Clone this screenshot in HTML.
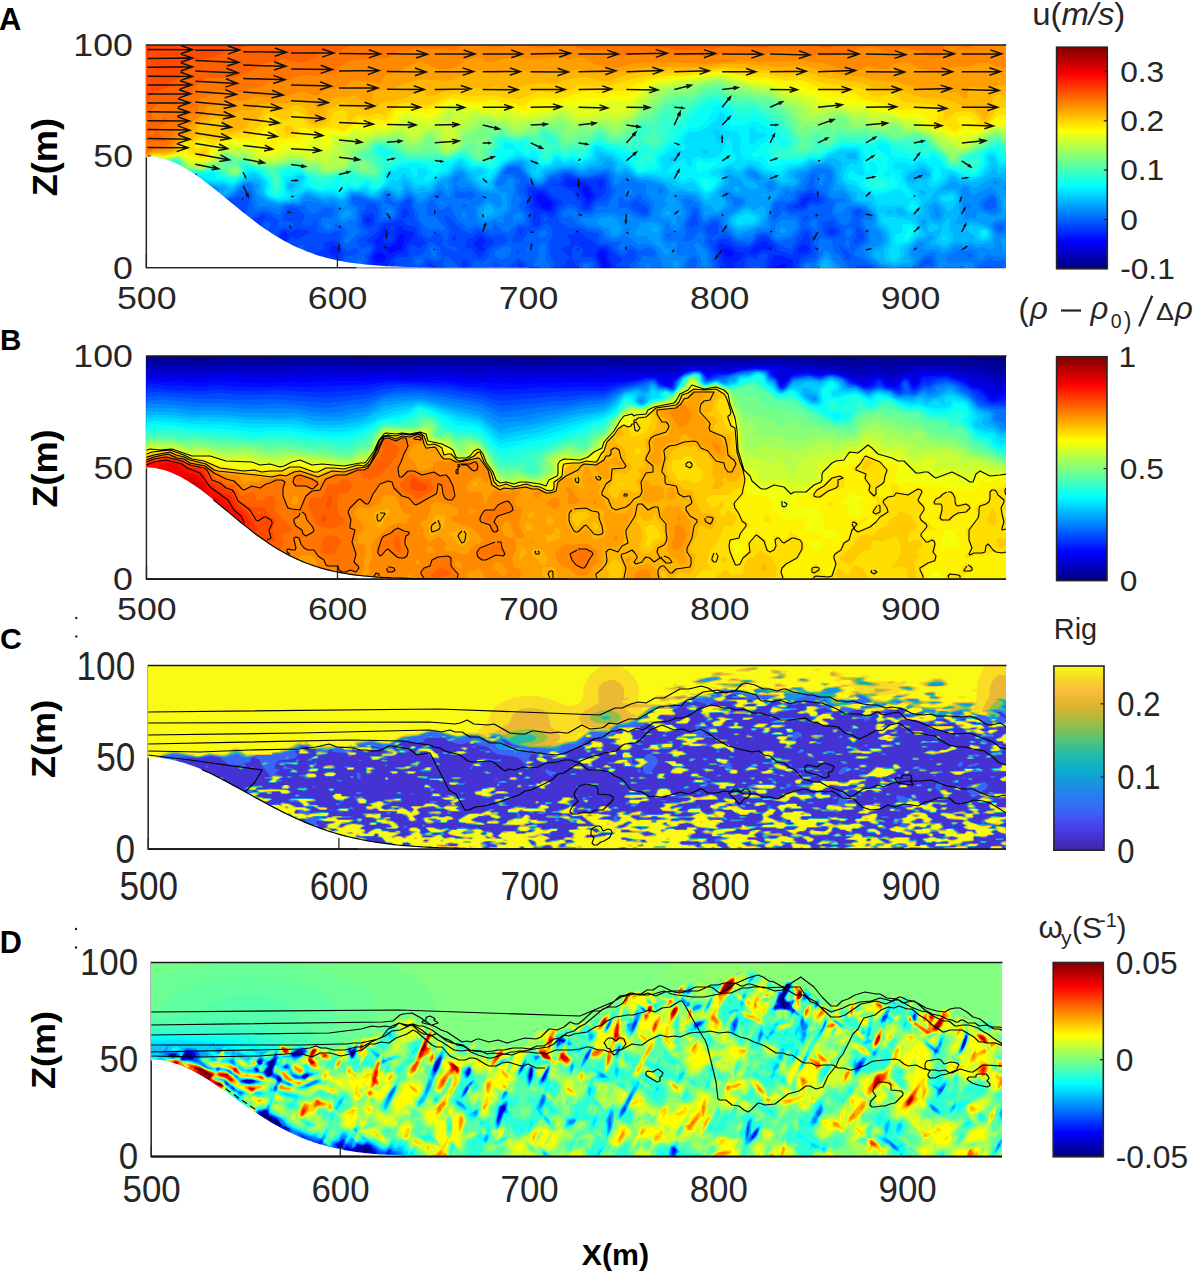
<!DOCTYPE html><html><head><meta charset="utf-8"><title>figure</title><style>html,body{margin:0;padding:0;background:#fff;overflow:hidden}svg{display:block}text{font-family:"Liberation Sans",sans-serif;fill:#262626}.b{font-weight:bold;fill:#000}</style></head><body><svg width="1195" height="1272" viewBox="0 0 1195 1272"><defs><clipPath id="clipA"><rect x="146.4" y="45.0" width="859.4" height="222.6"/></clipPath><clipPath id="clipB"><rect x="146.5" y="356.0" width="859.5" height="223.0"/></clipPath><clipPath id="clipC"><rect x="148.3" y="665.5" width="857.7" height="183.5"/></clipPath><clipPath id="clipD"><rect x="151.3" y="962.5" width="850.7" height="194.0"/></clipPath><linearGradient id="gjet" x1="0" y1="1" x2="0" y2="0"><stop offset="0.0000" stop-color="#000080"/><stop offset="0.0312" stop-color="#00009f"/><stop offset="0.0625" stop-color="#0000bf"/><stop offset="0.0938" stop-color="#0000df"/><stop offset="0.1250" stop-color="#0000ff"/><stop offset="0.1562" stop-color="#0020ff"/><stop offset="0.1875" stop-color="#0040ff"/><stop offset="0.2188" stop-color="#0060ff"/><stop offset="0.2500" stop-color="#0080ff"/><stop offset="0.2812" stop-color="#009fff"/><stop offset="0.3125" stop-color="#00bfff"/><stop offset="0.3438" stop-color="#00dfff"/><stop offset="0.3750" stop-color="#00ffff"/><stop offset="0.4062" stop-color="#20ffdf"/><stop offset="0.4375" stop-color="#40ffbf"/><stop offset="0.4688" stop-color="#60ff9f"/><stop offset="0.5000" stop-color="#80ff80"/><stop offset="0.5312" stop-color="#9fff60"/><stop offset="0.5625" stop-color="#bfff40"/><stop offset="0.5938" stop-color="#dfff20"/><stop offset="0.6250" stop-color="#ffff00"/><stop offset="0.6562" stop-color="#ffdf00"/><stop offset="0.6875" stop-color="#ffbf00"/><stop offset="0.7188" stop-color="#ff9f00"/><stop offset="0.7500" stop-color="#ff8000"/><stop offset="0.7812" stop-color="#ff6000"/><stop offset="0.8125" stop-color="#ff4000"/><stop offset="0.8438" stop-color="#ff2000"/><stop offset="0.8750" stop-color="#ff0000"/><stop offset="0.9062" stop-color="#df0000"/><stop offset="0.9375" stop-color="#bf0000"/><stop offset="0.9688" stop-color="#9f0000"/><stop offset="1.0000" stop-color="#800000"/></linearGradient><linearGradient id="gpar" x1="0" y1="1" x2="0" y2="0"><stop offset="0.0000" stop-color="#3e26a8"/><stop offset="0.0312" stop-color="#412bbb"/><stop offset="0.0625" stop-color="#4431ce"/><stop offset="0.0938" stop-color="#4638dc"/><stop offset="0.1250" stop-color="#4640e9"/><stop offset="0.1562" stop-color="#434def"/><stop offset="0.1875" stop-color="#3f5af6"/><stop offset="0.2188" stop-color="#3965f7"/><stop offset="0.2500" stop-color="#3270f4"/><stop offset="0.2812" stop-color="#2a7af2"/><stop offset="0.3125" stop-color="#2384eb"/><stop offset="0.3438" stop-color="#1c8ee4"/><stop offset="0.3750" stop-color="#1598dd"/><stop offset="0.4062" stop-color="#11a3d4"/><stop offset="0.4375" stop-color="#0caecb"/><stop offset="0.4688" stop-color="#11b5bf"/><stop offset="0.5000" stop-color="#1dbaaf"/><stop offset="0.5312" stop-color="#29be9f"/><stop offset="0.5625" stop-color="#3dc08d"/><stop offset="0.5938" stop-color="#51c37c"/><stop offset="0.6250" stop-color="#69c168"/><stop offset="0.6562" stop-color="#83bf55"/><stop offset="0.6875" stop-color="#9bbd44"/><stop offset="0.7188" stop-color="#b1ba3c"/><stop offset="0.7500" stop-color="#c7b735"/><stop offset="0.7812" stop-color="#dcb42d"/><stop offset="0.8125" stop-color="#e7b832"/><stop offset="0.8438" stop-color="#f1bb38"/><stop offset="0.8750" stop-color="#fac03a"/><stop offset="0.9062" stop-color="#f9cd30"/><stop offset="0.9375" stop-color="#f8db26"/><stop offset="0.9688" stop-color="#f9eb1d"/><stop offset="1.0000" stop-color="#f9fb14"/></linearGradient></defs><rect width="1195" height="1272" fill="#fff"/><g><path d="M146.4 45.0V267.6H1005.8" fill="none" stroke="#262626" stroke-width="1.3"/></g><g clip-path="url(#clipA)"><rect x="144.4" y="43.0" width="863.4" height="226.6" fill="#00008a"/><path fill="#00009f" d="M146 43l860 0 0 226-862 0 0-226z"/><path fill="#0000b5" d="M146 43l860 0 0 226-862 0 0-226z"/><path fill="#0000ca" d="M146 43l860 0 0 226-862 0 0-226z"/><path fill="#0000df" d="M146 43l860 0 0 226-862 0 0-226z"/><path fill="#0000f4" d="M146 43l860 0 0 226-862 0 0-226z"/><path fill="#000bff" d="M146 43l860 0 0 226-862 0 0-226zM544 203l2 3 2-1 0-2-2-1z"/><path fill="#0020ff" d="M146 43l860 0 0 226-221 0 2-4-1-2-10 3-2 3-165 0 0-4-3-6-1-6-1-2-2-1-2 1-2 4 6 14-460 0 0-226zM584 187l-2 2 1 4 5 7 2-1 2-4-3-6-3-3zM537 195l-1 2 1 4 5 7 4 2 5-1 1-4-1-4-9-7zM400 235l-4 8-2 2-6 2-1 2 2 4 3 0 10-4 3-12-3-3-2 0zM186 247l0 6 2 3 4 1 4-2 0-2-1-2-7-5-2 0zM724 249l0 5 2 3 4 0 4-2 0-2-4-4-4-1zM377 253l-3 3 0 3 2 4 4 0 4-2 2-4-6-5z"/><path fill="#0035ff" d="M146 43l860 0 0 226-215 0 3-4-1-4-9-5-8-1-2 0-4 8-1 2 1 4-35 0 0-6 5-3 4-7-6-1-6-5-10-4-3 2-1 2 8 22-114 0 0-4-3-8-1-6-2-3-4 0-4 1-3 4 6 16-29 0-2-2-5 2-421 0 0-226zM567 179l-2 2 1 4 4 2 7 0 1 1 2 7 4 4 2 6 2 0 6-6 2-4-6-9-6-4zM599 181l-1 4 2 3 2-3-1-4zM532 191l0 2 1 6 0 6 1 1 7 5 11 1 4-7 0-2-1-2-6-4-5-6zM807 197l-3 2-4 6 3 0 4-4 4-2-1-2zM365 219l1 3 2 1 2-2 0-2-2-2-2 0zM252 223l-2 2-1 2 3 2 4-2 0-5-2 0zM383 227l-3 8-6 6 3 6-5 8-1 4 2 6 3 2 12-2 4-8 12-5 3-7 7-10 0-2-2-2-6 0-6-6-2 1-4 15-3 2-5 0-2-1-1-3 4-6 0-4-1-2zM282 233l-3 8-5 4-5 10-3 10 0 1 2 1 10-6-2-8 1-2 3-5 6-5 2-4 0-2-2-3-2 0zM480 237l-6 6 0 2 6 7 2-2 3-9-1-2zM182 241l-1 2 1 4 6 12 4 1 6-3 2-4-2-4-10-7-4-2zM762 241l-11 8-2 2 1 2 4 2 8-5 10 0 1-3-2-2-7-4zM581 243l3 2 1-2-3-1zM801 245l-3 4 0 3 4 1 6-2 1-2-1-2-2-2zM330 247l-1 4 3 4 4 0 4-2 0-2-4-5-4-1zM236 255l-2 2 0 2 1 2 3 1 6-2 8 1 2-2-2-2-10-3z"/><path fill="#004aff" d="M146 43l860 0 0 226-210 0 4-10 4-3 6-2 2-1-3-18-1-2-2-1-2 2-2 5-5 6-5 9-2 0-12-4-2-5-9-8-3-1-4 1-5 6-9 5-8-1-12-8-4 0-5 4-2 4 4 10 1 12-97 0-1-2-6 0 0-3 4-1 2-2 0-2-4-4-6-3-4-6-12-1-5-6-5-2-4-4-4-1-6 2-6 1 4 4 1 4-3 3-8 3 9 8 0 2-3 4-7 6-33 0-2-4-4-3-3 3 0 4-49 0 0-6-2-3-2 0-2 1 0 8-41 0-9-2-1 2-19 0 3-4 0-4 1-3 4-1 6 0 2-1 1-7 1-3 4-1 4 3 2 0 6-5-2-4-6-3-2-8-2-1-8-2-4-5-2-1-8 4-8 0-3 2-5 8-11 8 5 2 4 4-1 4-5 6 1 12-40 0 6-4 9-10-2-6-8-9-8 2-2 1-1 6-11 5 0 4 5 3 4 8-47 0 1-2 6-4-2-8 1-4 10-12 2-2 4 2 6-2 7-4 0-2-11-3-6 4-8-3-4 2-3 8-5 5-4 7-6 4-4-6-2 0-3 4-3 1-8-4-10 2-8-2-2 3-1 6 7 6 0 4-84 0 0-226zM564 177l-4 7-6 0 0 1 6 0 12 6 2 2 2 6 4 2 2 6 2 3 4-1 2-1 4-6 9-7 3-6-1-10-3-1-4 0-8 2-12-1-10-3zM529 187l-2 4 3 8-1 8 4 4-1 10 1 4 3 2 4-2 1-2-1-6 0-2 2-1 4 0 6 4 2-2 4-9 5-4-1-2-10-5-6-8-8 1-6-2zM809 193l-7 3-6 9-2 1-3 1 11 2 4-2 4-5 8 0 2-1 0-3-8-5zM229 201l-5 2-4 4-4 2-3 8-6 8 1 3 8-4 6 1 2 0 1-2 0-2-3-2-1-2 4-8 7-4 1-2-1-2zM403 209l-2 4 1 6 5-2 2-2 0-4-3-3zM372 213l-8 2-1 2 0 6 3 3 4 1 3-2 1-10zM263 215l-13 6-4 4-1 4 9 3 7 1 0-10 5-6-2-2zM831 227l-3 2-1 4 3 2 4 0 2-1 1-3-3-3-2-2zM519 231l1 4 3-4-1-1-2 0zM477 233l-3 4-6 2-3 6 1 3 6 1 2 2 4 6 4 0 2-2 4-8 6-4 0-2-14-9zM454 235l-2 4 2 2 3-4-1-2zM860 235l0 3 2-1-2-3zM181 237l-3 4 1 4 7 14 2 3 4 0 6-1 7-6 1-2-10-10-12-6zM208 237l-2 2 1 2 3 0 0-2zM428 263l-1 4 3 1 4-1-2-3-2-1zM392 226l2 3-2 3-1-3zM390 236l1 3-3 0zM574 246l4 0 5 3 0 2-2 4 1 2 10 0 2 2 2 2 3 8-23 0 0-4-5-8 1-8zM762 253l4 0 2 2-1 4-2 4 0 2 2 4-23 0 2-10 2-2 2 0 6 2 3-4zM244 265l12 1 2 1 0 2-25 0 1-2 6-1z"/><path fill="#0060ff" d="M146 43l860 0 0 226-13 0-5-2-2 0-1 2-111 0-4-3-12-1-3 4-56 0 2-4 3-4 4-2 6-1 2-3-4-22-4-4-4-1-5 7-7 12-2 2-12-5-6-4-4-5-4-1-6 1-4 6-6 4-12-3-10-8-5 1-5 4-2 2-2-1-2-3 7-2 1-2 1-4-1-6-4-2-8 6-1 2 5 8-3 4 8 14 2 14-89 0 2-5 5-3 2-4 0-4-3-3-2-1-2 0-4 5-2 2-7-5-7-7-10-1-2-2 1-6-1-2-10-1-10-5-9 2-4-4-5-2-1-4 0-8 2-2 7-5 2 0 4 1 2 1 4 5 6 1 5-1 5-8 10-3 4-5 1-4-3-12-4-4-18 3-8-1-8-3-4-1-4 2-4 4-6 0-2 1-4 5-4 2-4 0-10-4-2 0-3 8 4 8-2 8 4 6 0 12-1 2-8-1-2 1-6 12 0 2 2 2 8-1 6-10 6 0 12-9 0-2-2 0 0-2 0-2 1 0 2 2-1 4 6 6 1 2-1 6-3 4 0 2 2 16 4 4-1 6-25 0-2-6-7-5-2 0-6 6-7 5-31 0-2-4 2-5 6 2 5-1 3-4 3-8 14-6 3-2-2-4-3-2-5-1-4 2-4-1-8-5-4-1-2 0-4 4-3 0-9-4-10-12-4-2-2 2 0 2 5 8 1 4-3 10 3 6 7 0 1 2-2 2-2 0-4-3-5-1-3-2 2-6-3-4-3-2-4 0-4 6-8-5-3-9-4-6-1-6-2-4-1-2 1-4-2-3-2-1-9 6-1 10-2 3-4 2-12 2-2-1 0-12-2-4-6-2-2 0-2 2 0 4-4 3-1 3 0 8 1 4 6 4 1 2-2 2-7 2-3 4 0 2 3 5 2 1 6-3 2 2 0 3-5 4 1 10-2 4-31 0 6-4 9-9 7-1 4-4-1-2-4-1-6 4-2-2-6-7 0-2 1-8-1-2-2 0-10 3-10-2-1-3 0-6-1-3-2 1-2 4-2 1-4 0-3-1-1-2 3-6-1-2-4-5-8-3-4 2-2 2-5 10 7 0 4 1 2 3-2 2-4 1-10-2 0-3 2-2-14-9-4 0-8 4-8 5-4 6-1 8-5 9-14 2-2 2-4 9-1 4 7 5 2 3-19 0 2-6 1-2 5-2 1-2 0-2-5-6 0-2 5-4 1-2-2-6 0-4 3-3 8 1 4-1 7-7 1-4-6-2-2-2 1-2 2-2 5-2 2 1 4 5 2 0 4-4 1-10-1-3-6 1-4-1-8 3-12 3-1 1-5 6-3 8-5 4-1 2 0 8-3 4-4 2-6-1-6-3-4-6-4-1-1 1 2 8-1 10 11 20-1 2-6 2-26 0-6-2 0 2-4 0 0-40 2-6-2-2 0-29 3-1-3-5 0-143zM156 173l-3 6 2 6-2 6 1 1 5-1 6-4-7-14zM810 189l-6 4-4 0-1 2-3 6-2 1-8 3 0 2 2 3 4 2 12-1 2-1 5-5 3 0 6 1 6-5-4-6-6-2-4-4zM634 201l-3 4 1 3 6 3 4 3 4 0 2-3-1-4-5-2-4-4-2-1zM776 207l0 4 3-4zM854 211l0 2 2 3 2 0 4-3 0-2-4-2zM693 215l-5 8 2 4 2 0 7-2-3-12-2 0zM803 217l0 2 1 3 2-1 3-4-3-2zM829 221l-7 2 2 12 6 3 8-1 3-4-1-4-6-8-2-1zM856 227l0 8-2 6 0 2 2 1 8-3 1-4-3-7-6-5zM839 245l0 2 3 4 3 6 1 2 3 0 2-2-2-4-6-4-3-5zM516 251l0 2 2 2 2-2-2-3-2 0zM927 259l-7 6 0 2 4-3 7-1-1-3zM492 263l2 4 5 0 1-2-4-3-2-1zM266 222l2 0 2 1 1 2-3 4-2-1-2-2zM272 233l2 1 1 3-9 12-2 0-4-6-2-1-3 3-5 5-2-1 1-12 1-1 10 4 6-2 4-5zM430 242l2 0 8 5 0 4 2 6 0 2-6 3-8-4-2 0-4 8-4 0-3-1-3-4 0-3 2-2 8-1zM300 244l2 0 3 1 0 2-1 2-2 1-4 0 0-3zM294 250l3 1 3 5 7 5 9 5 2 3-32 0 1-2-3-6-2-8 2-1 4 1zM291 265l1 2 2 0 4 0 2-2-4-2zM444 257l4-1 2 2 7 7 2 4-14 0-2-10zM584 261l8 1 2 3 0 4-15 0 1-6zM188 267l6-2 2 2-1 2-6 0zM752 265l8 1 3 3-14 0zM402 268l4 1-6 0z"/><path fill="#0075ff" d="M146 43l860 0 0 226-3 0 2-6-1-2-2-1-6 2-6-3-11 6-1 2 0 2-56 0 4-3 6 1 3-2-1-6-2-3-2 0-4 0-7 7-3 6-38 0-6-5-7-3-5-4-4-1-2-1 0-3 6-6 6-5 1-2-1-8-5-8 0-4 5-4-1-4-5-3-8 1-1 2 1 8-2 4-4 2-6-1-8-11 0-4 2-6-1-2-5-3-4-6-6-2-4-5 1-10-1-2-4 6-4 9-2 2-6 1-2 2-2 6-4 2-14 1-2 2-1 3-1 12 2 1 5-3 3-6 2 0 6 4 8 1 3 11-9 11-14 3-4-2-4-6-8-1-6 2-4 7-2 1-12-2-4-2-6-6-5-3-3-8-2-2-6 0-6 4-4-1-1-3-3-10-2-2-2 0-2 0-1 2-1 6-4 6-1 6 1 8-4 6 0 1 8-1 4-3 4-6 2-1 3 2 2 2-1 8 7 12 2 14-20 0 3-2 1-2 0-6-3-3-2 1-5 6 0 6-54 0 5-4 4-8 2-1 8 1 2-1 2-3-2-3-2-2-4-1-8 3-10-5-2 1-4 4-3 1-2-2-1-2 4-6-8 1-10-3-2-6-4-3-10-1-6-4-6-2-2-2-2-5-2-1-4 3-2 0-2-3 0-2 2-2 6-3 4 1 4 4 2 1 10 0 3-1 5-7 8 1 2-1 2-5 5-6 1-4-1-2-4-6-1-6-2-3-4-1-18 4-8-1-8-4-6 0-6 3-8 2-6 7-6 2-4-2-7-5-7-10-6-2-6 1-4 5 0 1 8 0 8 7 0 2-4 3 0 3 0 3 6 7 0 2-4 4 1 2 6 6 1 6-2 4-8 2-8 7-6-1-6-6-2 0-4 5-4-2-10-2-6 2-2 0-10-8-8-13-2-1-4 3-4 1-2-2-4-7-2-1-2 1-3 4 0 10 1 2 6-1 2 1 4 6 5 4 0 2-3 2-6-2-8 0-3-2-6-8-1-6-4-6 0-4-1-4-3-3-2 0-6 5-6 2-2 0-6-6-2 0-2 6 10 3 2 7-3 4-9 1-3-1 0-4 1-6 0-2-2-2-26-7-2 2 0 3 2 4 5 2-2 18 3 6-1 2-5 4-6 7-2 0-3-3 1-4 4-4-2-4-8-4-2-1-2 5-4 2-4-1-4-3-1-4 1-5 2-1 6 1 2-2 2-5-2-3-8-1-7 6-5 0-5-2-1-6-8 1-9-1-4 2-5 7-2 1-12-6-10 2-2-2-2-6 0-8-2-4-2-1-4 2-4-1-8 6-10 3-6-1-1-2-1-4 0 8-2 4-6 10-6 4 0 10-2 3-4 1-5-2-7-9-6-1-6-3-1 1 1 8 3 8 1 10 5 8 3 10-7 6-13 0-8-3-10-9 0-21 2-1 3-12-1-3-4-2 0-21 10-2 15-6 0-2-6-8-1-8-5-4-5-2-8 4 0-126zM188 187l1 6 3 5 3 1 1-2 1-8-5-3-2-1zM440 193l-2 1 0 2 2 0 2-1zM455 193l0 4 3 2 6-1 6 2 2-1 3-4-3-3-4-1-4 2-8-2zM637 195l-9 7-2 0-4-5-2 0-2 2 1 8 1 1 6 0 14 8 6 1 3-2 2-4-1-6-7-6-3-6zM989 197l-5 6-1 2 1 2 2 2 6 0 3-2 1-8-2-2-2-1zM688 201l0 2 0 2 2-2zM462 205l-1 2 6 0-1-3zM182 215l0 5 2-1 1-4-1-2zM997 225l-1 2 0 2 2 2 4 0 2-2-1-4-3-1zM667 235l1 2 2 0 1-2-3-2zM968 255l0 2 2 1 2-1 0-3-2-1zM148 172l2 0 0 1-2 3-2 1 0-2zM814 219l2 0 1 2 0 8 2 4-1 4-2-2 0-4-7-6 1-4zM848 228l2 0 2 1 1 4-5 5-2 0-1-5 1-4zM232 231l4 1 2 3-2 4-6 3-4 1-4-2-4-3-2-3 1-2 1-1zM542 230l4 0 2 3-2 3-2 1-4 0-2-2 1-2zM820 238l12 3 2 11 6 3 3 6 5 4 2 4-48 0 2-4 2-2 8-1 4-3 1-6-1-10zM846 240l2 0 2 3 0 5-4-1-1-4zM540 244l4-1 2 3 0 13 0 2 4 4 1 4-9 0-2-3-6 0 0-1 4-10 1-8zM432 247l2 0 2 4 0 5-1 1-3-2-2-4 0-3zM506 246l4 1 1 2 0 4-3 3-6 4-6-3-2-4 2-2zM528 247l1 2-1 2-2-2zM418 259l2 0 1 2-1 2-3 0-1-2zM358 260l2 0 2 3 0 2-2 1-2-1-1-2zM346 265l4 1 1 3-7 0 0-2zM584 264l2 0 3 1 1 4-8 0zM212 267l4 2-7 0zM310 267l6 2-9 0 1-2z"/><path fill="#008aff" d="M146 43l860 0 0 178-10 1-3 3 0 2 2 4 3 3 8-1 0 25-4-2-6 1-8-3-2 1-4 4-4 1-1-1 0-6-2-2-5-2-6 2-6-2-4 4-6 2-2 2 1 4 1 2 6 0 4 1 4-3 12 2 0 6-27 0-3-2 0 2-11 0 4-2 1-2-3-12-3-1-8 3-8 8-3 6-24 0-11-3-12-9-2-4-2-4 1-2 6-4 1-4-1-8-5-6 0-4 2-2 4 1 2-1 0-4-8-8-6-1-10 0-6 6-6 1-1-4 1-4 4-3 4 0 1-1 0-2-3-1-8 0-4-1-2-8 4-10-1-8-3-2-10-1-4 1-7 6-5 11-10 6-2 0-4-2-2 5-12 8-1 4-2 14 2 6-3 2-8 1-4 1-6 7-4-2-6 2-4-1-6-7-6-5-1-6-2-2-9-1-6 4-2 0-2-3-2-11-2-3-10-5-5 1 1 6 3 8-4 8-3 7-2 3-4 0-3-2-3-6-2 0-3 12 1 4 2 3 2 1 7-2 2 4-1 8 2 2 2 1 6-1 1 2-3 4-2 8-20 0 1-4-3-6-1-6-5-6-6-3-10 0-7-5-5-5-10 4-6 0-10-10-4-1-8-2-9-6 3-1 8 0 8-4 8-2 10 2 6 3 4-3 4 0 6 4 8 2 4-1 4-4 3-10-2-4-6-6-1-6 0-5-2-1-6 0-6-4-4 0-6 0-4 5-2 0-2-1 0-6-6-7-14 2-10 3-6-1-6-4-8 0-14 5-7 8-5 1-4-1-4-4-10-12-2-2-10 1-5 5-7 12 0 2 6 1 5-7 3-2 2 1 2 3-1 6 0 8-2 6 0 10-7 5-1 3 1 4-2 0-8-3-8 4-4 0-5-3-1-4-1-10 6-4 3-4 0-2-1-2-13-8-4 0-6 1-5-3 4-6-1-3-4 2-2 3 2 4-4 12-2 1-5-7-3-2-2 1-4 4-6 4-5 5-3 1-2-1-6-8-4-2-6 6-4 1-2 0-8-7-2 0-2 1-2 5-4 1-8-1-11-4-7 0-2 4-1 4 3 4 3 2 1 8-2 3-4 0-6 3-4-1-3-3 0-2 2-8-3-4-2-1-8 1-10-3-10-1-8 3-12 0-6 3-2 2-6-2-14-1-7-21-3-1-5 1-13 12-8 2-5-2 0-6-2-2-5-1-1 3 1 12-6 8-4 1-1-5 1-20-2-2-5-2-7 1-1 1 0 4 2 6 4 6 0 2-1 2-8 4-6 7-4-3-4-5-6-1-4 2-3 8-3 2-4-2-3-4-1-13 8-2 12-6 8 0 2-1 1-2-9-9-1-9-11-7-4 0-6 3 0-124zM769 185l-1 2 2 2 2-1 1-1-1-3zM657 189l2 4 1 1 2-1 1-2-1-2-2-1zM990 193l-10 8-1 4 3 5 12 4 4-3 0-12-4-5zM729 197l3 3 1 5 1 2 6-1 3-3 0-2-2-2-11-3zM967 205l1 3 2 2 1-3-1-2-2-1zM628 227l-2 2 2 2 2-2zM822 173l2 0 1 4-2 8-3 1-1-1 0-8 1-3zM628 188l2 0 3 3-1 2-4 3-3-3 0-2zM788 195l2 0 0 2-2 0zM440 201l3 0 0 2-3 1 0-3zM390 209l3 2-1 2-2 1-4-1 0-3zM516 213l5 0 1 4-2 2-6 3-1-1 0-6zM462 214l2-1 2 2 0 3-4-1 0-2zM846 217l1 0 0 2-4 0zM784 219l4 1 6 0 3 3 0 4-7 8-2 1-12 2-1-3 0-8 3-5zM326 223l4 1 0 3-2 1-2-2zM152 225l2-2 4 4-3 6 1 3 3 1 7-4 3 2 2 4 1 8 5 8-1 5-2 1-6 0-6 4-4 0-4-4-1-2 3-4 1-4-1-2-10-6 3-4 1-8zM194 225l2 1 0 2-2 0zM226 235l6 0 0 2-2 2-4 0-2-2zM696 243l2-1 2 2 7 9 1 12-2 3-4-1-1-8-5-8-2-6zM824 251l4 0 6 9 11 9-31 0zM648 264l4 5-7 0 1-3zM808 265l3 2 0 2-6 0 1-3z"/><path fill="#009fff" d="M146 43l860 0 0 145-4-1 1 2 3 2 0 27-10 1-5 4-1 2 6 12-2 10-2 3-4-1-4-2-8 1-4-2-8 1-6-2-4 1-5 5-7 3-5-5-9 1-4-1 0-6-4-1-6 5-3 4 1 4 4 4-4 7-2 1-8-1-8 3-14-5-9-7-3-4 0-4 4-2 6-1 3-3 2-4-1-5-9-9 2-6 0-4-9-9-14-3-6-10-4-3-8 1 0-4 1-10-1-6-3-4-5-2-12 1-6 5-8 2-1 2 2 6-3 4-6 3-6-1-5 2-3 6-8 8-1 10-4 12-27 10-10-10-2-4 3-6 16-10 1-4 0-2-3-2-9-3-6-3-4 0-1 2 0 2 6 8-4 6-5 4-8 1-6 2-2-1-1-10-7-8-8-2-10 0-3 2 5 6 3 10-3 3-4 1 1 6-3 2-4-6-8-1-2-3 0-4 6-5 1-1-3-4 5-8-6-8-15-5-10 0-12-6-6 2-4-1-8-8-8 3-8-1-8 4-4-1-8-3-10 0-14 5-6 7-4 1-4-1-4-4-10-14-12 2-6 5-7 13 0 4 5 5 2 1 4-1 1 1 0 16-9 8-6 1-6 3-4-1-2-3-2-4 0-4 10-8 4 1 6 6 2 0 3-3-2-10-21-4-6-5-8-5-2-6-2-3-2 0-4 2-9 7 0 2 2 4-1 3-2 0-4-6-2 0-8 9-12 6-12-9-2 0-5 7-3 1-9-7-3 0-4 2-2 4-4 1-6 0-10-4-8-1-3 4-5 11-10-8-2 0-6 2-10-4-8-2-2 0-6 5-4 2-6 0-10 2-6-2-6 0-4-4-7-4-2-6 0-4-3-2-4-1-6 2-12 11-8 3-2-1-1-2 0-6-4-2-9-1-10-5-8 1-6-1-4 3-2 0-6-4-1-7-2-2-11-7-6-1-6 3 0-123zM749 171l-1 2 1 2 5 4 4 2 2-1 1-3-6-6-3-1zM769 181l-4 4 1 4 2 3 4 0 5-3 0-2-3-5-2-1zM994 181l0 3 5 1 0-2-1-2zM963 187l-2 2-1 2 3 8-1 8 3 6-1 6 10 0 2-2 2-5 7 1 9 4 2 0 5-4 1-2-2-14-2-4-6-6-4 1-14 7-2 0-5-8zM934 207l1 8 1 2 2 0 2-2-1-6-3-2zM180 190l2 1 4 10 0 2-6 4-4 2-5-4-9-2-6 4-4 6-2 1-2-2-3-7 2-2 17-9 10 1zM204 192l2 3-2 4-2-2 0-2zM346 209l5 2 1 2-4 4-6 2-1-2 0-2zM602 217l8-1 6 3 5 6 1 4-1 4-5 3-4-1-4-7-6-2-5-3 0-2 1-2zM640 223l10-1 10 1 2 6-2 6 0 4 4 8 6 2 0 2-2 4-2 0-2-1-4-7-7-4-7-7-8 1-3-2 0-2zM780 227l2 0 4 2 1 2-3 2-4 0zM1004 237l2 0 0 16-2-2-4-12zM162 238l4-1 3 4-1 3-4 6 0-1-7-4-2-2 2-2zM168 253l4 0 1 2-3 0zM824 257l2-2 2 1 7 9 6 4-24 0 1-4zM674 262l2-1 3 2-1 6-6 0zM966 267l3 0 1 2-6 0z"/><path fill="#00b5ff" d="M146 43l860 0 0 139-6-4-6-1-11 6-7 5-2 0-4-3-10-1-6-3-2 0-10 8 2 1 10-1 2 1 3 5 1 4-1 8 1 6-4 8 0 3 4 1 8-3 8 0 12 5 4 4 1 4-1 4-2 3-12 3-6-3-8 2-6-2-2 0-4 2-4 4-4 1-6-3-7-1-1-2 3-6-1-2-2 1-4 2-8 2-9 9-1 6 3 6-1 2-8 1-8 2-12-3-8-6-2-4 2-2 6-2 5-6 1-4 0-4-2-4-7-6 0-8-2-4-7-8-14-4-3-6-7-8-6-3-2-15-4-4-4-3-8 2-8 1-6 4-6 1-5 3-2 2 4 6-2 4-3 1-6-1-6 0-6-6-2-1-6 0-14-10-5 1-2 2 0 4 1 3 12 7 1 2-5 2-4 0-4-1-6-9-10-5-2 0 1 7-1 3-6 4-3 5 0 2 6 6 0 2-3 5-4 3-2 0-3-2-2-4-5 0-8-10-2-1-16-3-8 1-8-9-12-4-14-1-12-8-6 3-4-1-2-3-1-6-5-3-3 1-2 4-3 1-10 1-6 3-4 0-6-3-4 0-10 1-12 3-3 2-3 5-4 2-4-1-6-6-2-4-2-6-2-2-4 0-6 1-6 2-5 5-7 12-1 8-3 1-6 0-3-1-11-10-6-8-4-2-2 0-10 8-10 5-6 9-4 1-6 0-4 2-4-2-6-6-2 0-6 9-2 0-10-6-4 1-6 6-4 1-6-1-6-4-10 0-2 1-6 7-2 1-10-4-8 2-16-6-4 1-7 7-17 2-12-3-9-7-1-2 2-4-2-3-4-2-6-1-6 2-8 6-10 6-1-2 3-4-2-2-18-2-10-6-10 1-10-2-7-7-15-9-4 0-6 3 0-122zM920 173l2 2 5 0 0-2-3-1-2-1zM932 203l-4 4 2 11 6 3 4 0 4-4-1-8-7-7-2 0zM921 221l1 4 2 2 2-2 1-4-3-1zM734 187l4-1 2 3-1 2-3 0-3-2zM762 193l4 2 1 2-5-2zM166 197l3 0 2 2-1 1-2 1-2-1-1-1zM178 199l3 2-3 3-2-3zM1004 198l2-1 0 15-3-7zM486 206l4-1 2 2 2 4-3 4-5 2-3-2 0-4zM746 207l2 0 6 3 3-1 3-3 4 0 2 3 0 5-5 9-2 2-7 3-14 3-9-8 0-4 7-6zM666 212l2-1 3 2-3 2-2-1zM616 227l2 2-2 1zM656 227l2 1 0 3-4 1-2-1 0-2zM824 261l2-1 2 1 6 8-15 0 1-4z"/><path fill="#00caff" d="M146 43l860 0 0 128-4 2-5 0-2-2-1-5-1 1-2 6-17 9-12-1-8-5-2-1-2 1-5 7-8 6-7 10-6 5-1 3 0 6-5 2-1 2 2 8 5 8-1 2-7 4-11 10-2 10-9 5-7-3-3-4 0-6 5-8 0-8-3-6-7-6-1-8-1-4-7-10-10 0-3-2 0-6-7-3-8-9-2-8 2-10-2-2-8-3-4 1-8 4-8-1-8 5-14 4-3 4 1 4 4 2-2 1-10 0-6-6-8-1-14-9-4 0-8 7-2 0-8-4-4 0-2 2 1 8-1 4-10 11-5 5-3 1-2-1-6-8-8 0-16-5-6-4-14-5-6-1-10 1-12-10-8 3-1-1 0-6-3-3-4-3-8-1-2 0-3 5-2 2-7 1-6 4-10-3-14 1-6 2-6 1-3 2-2 6-3 1-3-1-4-4-2-4 1-4-4-4-6-2-4 1-8 2-4 3-6 6-10 16-2 0-4-1-6-5-3-6-13-9-3 1-9 8-10 4-8 10-8-2-6 3-6-7-6-4-2 2 0 8-4 3-8-5-2 0-4 1-10 7-4 0-6-4-12 0-4 1-4 6-4 1-8-4-10 1-14-5-4 1-8 7-16 3-10-3-3-2-4-4-3-12-4-3-4 0-10 3-8 6-4 2-6-5-6 1-12-2-10-6-10 2-8-1-4-3-4-5-15-9-4 0-7 4 0-122zM850 153l-3 2-1 4 8 0 2 0 1-4-2-2zM919 169l-5 3-6 3-2 4 2 2 2 1 4 1 4-3 8-1 2-1 2-3-2-4-6-4zM289 185l-1 2 2 2 2-1 3-3-3-2zM919 191l3 4 4 0 0-2-2-3-4 0zM897 209l-3 2-6-1-1 1 0 2 1 1 2 0 4-3 6 4 4 1 3-1-2-4-3-3-2 0zM948 193l6-1 3 3 1 4-5 10-5 3-2-5-7-6-2-4 1-2zM744 210l4 0 4 2 6 2 2 1 0 4-2 4-4 2-16 3-6-5 0-4 4-4zM948 218l2 1 1 2-2 8 4 6 0 4-5 5-4 2-6-3-2-2 1-2 4-8 1-6zM932 223l6 2 1 2-1 2-3 2-5 1-2-2 0-3 2-3zM968 226l6-1 12 3 4 3 1 4 0 2-3 3-4 1-6 0-3-2-1-4-6-3-1-3-1-2zM824 265l2 2-2 1-1-1z"/><path fill="#00dfff" d="M146 43l860 0 0 123-4 2-2 0-6-11-2-1-2 0-1 1 1 6-1 4-6 8-5 3-6 1-8 0-4-1-6-5-4 0-3 2-5 7-10 6-4-3-1-2 4-6 0-6-7-6-4-1-6 5-6 2-4 6 1 4 6 6 10 14-2 8-7 5-4-2-6-7-10 1-8-1-6 1-2-2 0-5-2-3-10-3-10-8-6-1-2-2-2-3 0-4 3-8 3-4 3 0 3 2 2-2 1-4-1-6-4-3-14 1-12 5-8 5-10-1-6 5-16 4-2 2-4 6-2 0-6-4-10-2-12-8-4 0-8 6-2 1-6-4-4 0-9 5 3 6 0 4-8 10-8 4-2-1-12-12-2 0-6 3-6-2-4-5-8 0-14-4-14 1-8-8-8-4-10-8-8-2-8-3-2 9-8 3-4 3-4-1-6-2-8 1-8-1-6 4-10 3-2 5-2-1 1-6-3-5-12-5-4 0-14 6-14 17-4 1-4 0-3-2-1-2 5-4 0-2-1-1-4-1-8 1-10-8-4 2-8 9-10 4-8 7-2 1-12 0-12-12-6 7-2 1-4-2-5 6-13 8-4 0-6-5-6 2-8-1-3 2-5 6-2 0-8-4-10 1-14-5-12 5-6 5-12 2-8-3-4-3-2-4 1-8-1-2-6-6-4-2-4 1-2 3-8 4-8 5-8-4-8 1-10-2-10-5-4 0-6 2-6-1-4-2-6-6-6-3-8-5-6 0-6 3 0-121zM708 131l4 0 2 2 3 8 1 2 2 0 1-6-1-6-4-1zM701 151l1 2 4 2 2-2 0-2-2-1zM670 157l-1 2 1 3 2 0 3-3-1-2zM297 177l-1 2-8 2-1 2-1 4 2 4 4 2 2-1 8-12 1-3-3-2zM950 195l3 0 2 2-1 2-2 2-8 1-3-3 1-2zM746 213l7 2 3 2-1 4-3 2-14 2-2-2 0-4 2-2zM882 213l4 4 8 0 18 4 4 4 4 6-1 2-1 2-8 7-8 5-2 2-1 8-5 4-3-2-3-6 4-8-1-14-3-5-7-5 0-6zM982 229l4 0 3 4-1 4-6 3-2-1-1-2-1-4 1-2zM942 236l2-1 2 1 2 1-1 2-3 1-2 0-1-1z"/><path fill="#00f4ff" d="M146 43l860 0 0 120-4 2-2-2-4-8-2-2-4 0-2 0-2 3 1 9-9 11-4 1-12-1-8-5-8-1-6-4-1 1 3 6-1 4-3 3-4 2-1-1 0-12-10-8-5 0-6 5-2 0-6-4-8 1-3 2 0 2 3 3 4-1 2 1-1 7 1 4 8 10 2 4-1 2-1 1-4-2-4-6-2-1-20 7-16-6-5-3-3-6-8-2 0-4 2-4 2 0 8 5 4-1-3-22-2-4-3-1-12 0-6 1-10 4-8 7-10-1-10 5-14 3-6 6-6-2-8-2-6-7-12-3-4 1-2-2-2-9 1-10-1-4-4-4-10-1-2-1-2-4 0-2 3-4 0-4-5-3-4 9-6 4-12 7-8 0-4 3-3 6 3 8-2 1-10-1-14 9 0 3 2 8-1 2-3 1-20 1-12-12-7-4-5-5-8-1-6-4-4-1-2 1-1 2-1 8-12 6-8-4-8 3-6-4-2 0-6 6-8 2-4-2-4-6-6 0-10-4-16 8-14 15-1-2 1-4-4-3-4-1-10 0-6-6-4-2-6 4-8 8-12 6-6 4-2 0-3-2 5-6-2-4-4-1-4 0-1 9-3 0-3-4-1-5-8 0-6 3-8 2-1 2-1 8-8 7-4 1-2 0-6-5-8 3-10-1-6 6-2 0-8-3-12 1-10-4-8-1 3-8 0-2-3-3-4-1-6 5-6 1-1 2 0 8 4 6 0 2-11 2-8-2-2-2-2-4 1-6 0-4-7-6-4-3-4-1-4 1-3 5-13 7-8-3-8 0-10-2-10-5-4 0-6 2-6 0-4-2-6-7-6-1-8-6-6 0-6 4 0-121zM751 127l-2 2 1 4-1 8 3 4 2-1 4-4 7-3 2-2-2-2-7-1-4-5zM728 138l3 3 2 10 3 8-2 3-23 9-1 2 1 2 7 2 2 2-3 6-5 5-4 2-4-1-4-4-4-6-4-3-4 0-6 3-2-2-4-7-6 1-2 0-1-2 1-2 6-4 6-5 6-1 1 6 3 2 2-2 1-6 3-2 4 0 6 2 11-2 5-6zM892 200l3 1-3 1 0-1zM912 200l4 1 2 4-2 4-4 2-3-2-1-4zM902 224l10 0 4 5 0 3-8 10-12 2-1-3 0-4 1-3 5-1 1-2 0-6zM982 231l4 0 1 2-1 3-4 1-1-4z"/><path fill="#0bfff4" d="M146 43l860 0 0 117-2 1-2-2-6-7-4-2-4 1-4 4 0 10-6 8-4 2-10 0-8-5-10-2-6-8-6-5-6 4-10-2-6 3-10-3-10 0-2-2 0-6-2-4-4-2-3 0-5 4 13 10-2 8 1 4-5 4 3 4 2 1 3-1-1-4 4 1 4 11-2 2-10 4-6 1-8-2-8-3-3-4 9-7 7-3 1-2 0-4-3-4-5-2-1 2 1 7-2 1-2-2-1-4 1-6-2-8-4-4-4-1-14 0-14 6-8 5-10 0-10 5-18 2-4 2-8 0-2-1-4-9-10 1-2-2 1-2 6-4 3-5 8-4 3-5-1-5-10-5-6-4-20 5-6-1-1-2 2-6-1-4-4-4-6-4-2 0-4 2-6 12-6 6-6 3-8 1-3 2-3 4-4 7-8 4-12 11-1 2 1 8-2 2-8 1-6 2-4 0-2-2-4-5-2-7-2-3-8-2-4-3-10-2-8-4-4 1-2 1-1 3-1 6-2 2-6 3-4 0-6-3-8 2-6-4-2 0-7 8-5 1-4-1-1-2-3-9-2-1-5 4-3 0-9-6-6-6-5-1-2 1 0 5 2 1 8 0 1 2-3 4-10 4-6 8-4 3-8-4-12-1-10-8-6 2-6 3-8 2-1 1 0 4-2 2-5 2-6-7-10-3-8 0-10 2-12 6-3 4-1 8-4 4-4 2-4-1-3-5-3-1-8 5-10-1-8 5-6-3-12 2-6-1-8-4-1-8-5-5-4-1-8 5-6-1-1 4 1 16-4 2-6 0-4-2-2-2 0-2 2-6-2-5-8-8-4-2-8-1-2 2-4 6-10 5-8-3-8 0-1-6-3-1-8 3-12-2-10 2-4-1-2-3-2-4 2-2-2-1-4 2-4-1-12-6-4 1-6 3 0-120zM724 157l4-1 3 1-1 2-6 1zM698 160l8 3 8-2 5 2-19 10-2 0-2-8 0-2zM700 178l2-1 10 3 2 1 1 2-5 6-4 1-2-1-3-4zM908 228l4 0 2 3-6 7-2 1-2 0z"/><path fill="#20ffdf" d="M146 43l860 0 0 113-4-3-4-5-6 0-4 1-6 4-1 2 1 8-6 9-2 1-10-1-16-5-6-8-8-7-2 0-6 4-17-1-9-5-6 0-5-7-7-3-10 4-8 1-8-2-14 0-16 8-6 4-10 0-10 5-8-1-6 1-12 0-2-1-2-6-1-4 2-2 5-6 2 0 6 5 2-1 2-2-4-5-4-1-2-1-1-7-3-4-20-11-2 0-6 5-6-1-2-1-8-10-10-5-6-2-4 2-4 3-7 4-8 8-4 8-10 8-2 6-7 4-10 10-3 4-1 7-2 1-6-1-3 5-3 1-4-3-2-4 2-3 4-1-2-3-14-7-6-2-10-1-8-4-6 1-3 2-4 10-5 3-4-1-6-3-6 3-2 0-4-3-4-1-3 2-4 6-5 1-4-2 0-7-2-3-4-1-8 3-2-1 0-2 2-6-2-2-8 2-12-3-2 1-2 8-6 4 0 4 3 4-2 4-3 1-19-3-7-6-4-1-12 4-16 3-8 0-8-2-18 0-6 5-8 4-3 5-1 8-4 3-2 1-2-1-2-5-6-1-4 1-3 4-3 1-6-3-6 1-1-1-1-5-2-2-4 1-5 8-7 0-2 2-4 1-4-3-2-6-12-9-4-1-6 2-4-1-4 1-1 4 1 10-2 7-2 2-4 1-3-2 0-10-1-4-10-9-14-4-1 1-2 8-11 5-12-4-4-5-2-1-4 1-6 3-12-2-8 2-4-1-2-2-1-2 2-6-3-1-6 2-4 1-12-6-10 4 0-120zM378 149l0 3 6 3 2 1 2-3-2-3-4-3-2 0zM872 153l6 0 4 4 0 2-2 1-4-1-5-4zM876 177l4 0 2 1 6 7-1 2-5 1-10 0-3-1-3-2 1-2zM706 183l3 2-3 2-2-2 0-1z"/><path fill="#35ffca" d="M146 43l860 0 0 107-6-6-4 0-28 13 2 2 6 0 3 2 0 2-3 4-4 2-3-2-3-5-4 6-12-2-3-3-3-6-12-8-4 0-4 2-4 0 7-4 0-4-5-2-4 4 1 4-5 1-6-2-4-4-8 2-12-7-4 0-8 3-8 0-14 0-8-3-10 8-14 6-8 0-10 4-8-3-7 3-3 0-6-2-2-2 0-3 2-1 6 2 4 0 4-4 3-6-7-10-10-9-8-6-16-9-2 0-6 4-2 0-18-9-4-3-6-2-6 2-9 4-15 14-6 7-8 2-6 17-4 4-6 3-2 1-4-4-4-2-2 0-6 5-2 0-16-5-10-1-6-5-2 0-9 4-9 11-2 0-8-3-6 3-2 0-8-5-4 3-4 7-4 1-1-1 0-6-2-4-3-2-8-1-1-5-2-2-11 2-14-3-4 2 0 7-7 6 0 4 1 4-1 2-17-1-8-7-4-1-14 5-20 1-10-1-12 0-8-5-3 1 0 6-2 2-3 1-3-1 0-2 5-6 2 0-6-7-8-3-4 2-2 4 1 2 5 4 6 8-8 16-12-3-8 1-6-5-6 3-3-2-5 0-8 4-6-1-6 1-10-5-8-6-4-1-14 2-3 2 0 4 1 12-2 3-2 1-2-1-1-3-1-8-8-9-14-4-6-3-2 2 1 6-1 3-2 2-8 2-10-4-8-5-12 4-10-2-10 1-2-3 0-6-4-3-10 4-12-6-10 5 0-120zM546 137l2 0 4 6 2 0 0-4zM650 153l2 2-2 5-2-1-2-2 1-2zM878 180l2 1-2 2-1-2z"/><path fill="#4affb5" d="M146 43l860 0 0 104-8-6-4 1-11 7-21 8-1 2-1 6-4 1-6-1-4-8-16-12-3-4-3-2-6 1-6 3-2-2-4-1-10 2-14-6-4 0-8 3-8-1-12 0-8-2-2 1-6 6-6 3-4 0-2-1-4-6-2 0-1 10-11 5-4 0-6-3-1-2 4-8-2-4-13-16-8-6-8-5-6-2-6-5-4-1-10 3-15-6-5-4-6-1-6 1-10 5-7 5-6 6-9 6-4 0-4-5-2 0-9 11 0 8 3 7 1 3-1 2-4 3-4 0-10-7-1-2 1-1 6-1 4-4-6-6-4-1-3 3-1 6-5 4-1 6-4 2-8-3-10 1-6-6-4-2-18 13-2 1-8-2-6 3-2 0-4-3-4-10-12-5-2 1-1 4 1 4 5 4 1 4-2 1-6-6-6 0-2-1-1-4-3-1-4-1-8 3-12-4-6 1-3 2 0 8-6 6-1 6-2 2-4 1-8-2-6-6-4-2-18 6-10-1-28 0-18-11-10-2-4 1-2 2-2 6 1 4 3 3 5 9-1 4-4 4-16-1-8-5-6 2-8 1-8 3-10-1-12-3-8-7-4-1-14 2-4 2-1 2-1 6 3 8-3 2-1-4 1-4-2 0-7-10-5-2-10-1-8-4-3 1 1 8 0 2-4 3-6 1-18-9-4 0-8 4-18-2-2-1-3-8-3-1-10 3-12-5-10 4 0-119z"/><path fill="#60ff9f" d="M146 43l860 0 0 102-8-6-4 0-10 8-22 9-3 3-1 4-4 1-3-1-5-7-14-11-6-6-16-2-14 3-10-5-6-1-10 2-8-3-10 2-12-2-4 2-4 7-4 2-4-2-4-7-4-1-4 3-3 10-5 3-4 1-2-2 2-8-2-4-6-8-7-12-15-14-2 0-8 0-8-3-22-2-4-2-6-6-2 0-12 1-14 10-12-1-8 4-6 1-4 3-9 13-3 1-6-2-4 1-6 9-10 9-10 2-4-1-6-7-4-2-4 2-4 6-8 4-4 1-6-1-10 4-2-2-4-9-12-6-4 0-2 2-4 8-2 0-3-3-3-1-12 2-16-4-6 2-2 2 0 7-1 2-4 4-2 8-5 1-6-2-6-8-6 0-12 6-4 1-12-3-24 1-4-1-14-10-12-2-6 2-6 9-6 2 9 6 7 8 0 4-4 2-12-1-8-5-26 6-20-3-7-7-3-1-16 2-10 3-6-2-13-2-9-5-4 1-2 2 3 6 0 4-3 2-6 1-12-8-6-1-4 0-8 4-16-2-3-2-2-6-5-2-10 4-12-5-10 4 0-119zM228 157l-2 0-1 2 1 4 2 1 4-1 1-2z"/><path fill="#75ff8a" d="M146 43l860 0 0 100-6-6-4-1-6 3-8 7-21 9-7 7-2 0-5-7-6-4-13-13-14-4-18 4-8-4-6-2-10 0-10-2-10 2-12-4-8 2-8-2-14 4-4 5-2 1-8-7-3-10-7-8-12-12-4-2-10 1-8-3-20-2-4-2-8-7-2 0-16 3-10 8-14-1-10 3-6 4-10 12-12 4-8 9-8 7-8 3-4 0-8-8-6-1-4 2-6 6-10 0-12 6-2-2-4-8-14-6-6 2-6 6-8-1-10 3-6-2-8-5-12 6-1 3-1 6-8 4 3 6 0 2-3 1-3-1-1-2 0-8-6-3-2 0-7 5-11 6-4 1-4-1-8-5-6-1-6 2-12 2-8-5-8-6-14-1-4 1-4 2-4 5-8 3-3 3 0 2 1 1 6 2 5 3 6 8-3 2-10-1-8-7-11 6-13 3-8 0-2-1-6-5-4 2-4-1-4-5-4-2-26 5-18-3-10-5-8 1-6-4-4 0-2 1 0 2 0 7-2 1-10-1-8 4-4 1-14-3-2-1-4-7-4-2-10 4-12-5-10 5 0-119zM234 165l4 2 2 4-1 2-3 2-6-2-3-4 1-2z"/><path fill="#8aff75" d="M146 43l860 0 0 98-6-6-4-2-10 5-5 7-21 9-6 6-2 0-4-6-6-4-14-14-14-4-12 2-1-1-3-5-2-1-8 4-14-1-10-3-12 2-3-2-3-8-4-1-4 0-8 6-8 1-6 2-10-1-6 3-2-8-8-10-16-13-6-2-8 0-14-3-12-2-14-8-16 2-14 8-14 0-8 2-8 6-8 8-8 3-20 19-8 4-4-1-8-6-4-1-10 3-8-2-10 7-4 2-2-2-4-10-2 0-6 2-8-3-7 3-7 5-16 3-5-2-7-6-12 0-4-1-11 5-5 4-6 2-2 2-3 8-11 6-4 1-4-1-9-14-3-2-3 2-7 7-6 3-4-1-8-3-6-6-20 1-4 2-6 6-6 1-5 4-2 4-2 6-3 4-6 3-12 2-6 0-4-1-4-6-8 2-6-5-4-1-26 4-18-2-8-4-10-1-6-3-4-1-3 3-1 6-2 1-10 1-6 4-4 1-14-3-4-6-4-3-4 0-10 3-10-4-10 4 0-118zM478 137l4-1 2 2 0 3-2 2-4-1-1-3zM360 162l5 1 2 2 1 4-2 1-4-1-2-4zM234 167l2 0 2 3 0 2-2 1-3 0-2-2 0-2z"/><path fill="#9fff60" d="M146 43l860 0 0 96-5-6-5-1-11 5-6 6-6 4-9 4-6 1-4 5-2 0-4-6-4-2-15-14-15-5-8 2-2-1-2-4-4-2-4-1-10 4-8 0-12-4-10-1-8-7-6-2-6 1-8 4-12 3-6 0-4-2-4-3-4-8-10-5-12-8-40-9-14-7-16 3-10 3-22 4-6 2-8 5-6 6-8 4-8 10-4 3-7 3-4 6-3 1-6 0-10-6-10 2-10-1-10 4-6-8-3-2-3 0-6 3-8 0-16 4-7 5-7 2-3-2-7-6-18-4-6 2-10 7-8 3-2 2-2 10-2 2-12 6-4-3-6-13-2-2-4-1-4 1-8 8-4 2-10-4-6-5-24 3-4 2-4 4-8 2-6 4-2 4-1 8-3 4-5 2-11 2-4 0-4-1-2-5-4-2-8 1-6-4-4-1-8 1-14 4-4 0-18-2-10-6-8 1-6-3-4-1-4 2-3 8-9 1-6 4-4 1-12-2-2-2-4-6-4-2-4 0-10 3-10-3-10 4 0-118zM234 169l3 2-3 0z"/><path fill="#b5ff4a" d="M146 43l860 0 0 94-4-5-6-2-12 5-6 6-9 6-5 2-4 1-6-3-8-1-11-9-7-4-14-4-8 0-4-5-6-2-4-1-8 4-6 1-6-3-10-6-8 1-8-5-10-2-6 1-10 4-10 1-4-4-3-6-3-2-14-4-14-9-22-4-8-3-8-1-14-5-24 5-26 3-12 4-4 3-6 7-7 4-4 8-3 3-12 4-6 4-2 1-8-4-12 2-8-1-10 1-4-1-6-5-4-2-10 4-24 4-5 2-4 4-3 1-10-8-10-1-8-3-12 0-2 1-2 6-10 3-2 3-2 11-1 3-11 6-2-2-5-14-5-4-6 0-10 9-4 2-6-2-7-7-3 0-12 3-12 1-12 7-6 1-8-2-2 2-3 6 3 12-2 2-4 2-14 1-8-7-2 0-8 1-6-4-6-1-8 1-14 5-16-1-6-3-3-4-3-2-10 1-12-2-3 1-1 2-2 6-8 2-6 3-4 1-12-1-5-7-5-2-4 0-10 3-10-4-10 5 0-118z"/><path fill="#caff35" d="M146 43l860 0 0 90-4-3-6-2-14 6-14 12-4 2-4 0-16-10-23-9-5-3-8 0-6-4-12-5-2 0-4 4-4 1-10-4-6-5-10 1-8-3-10-3-6 0-12 4-4-1-10-9-8-3-10-2-14-8-22-3-8-3-8-1-14-5-24 5-42 6-4 3-4 7-8 6-4 9-4 2-8 2-6 2-10-2-12 3-16 1-5-2-5-5-4-2-30 8-20 2-8-4-8 1-8-3-8 0-8-2-2 1-6 6-9 6-1 2 0 8-1 4-7 4-2 0-1-2-3-14-8-3-4 1-7 4-6 6-3 1-4-1-6-7-4-1-14 5-12 1-14 7-4-1-4-3-4 1-10 4 0 4-2 4-6 4-3 6-3 1-8-4-6 2-8-4-10-1-4 0-14 6-14-1-4-1-6-7-8-2-20 1-3 2-3 6-14 6-12 0-8-7-4-2-14 3-10-3-10 5 0-118zM447 113l-4 6 1 4 2 1 4-3 3-6 0-2-3-1zM407 121l-1 2 0 3 2 1 2-1 1-1-1-3-2-1z"/><path fill="#dfff20" d="M146 43l860 0 0 87-6-3-4 0-8 4-6 2-6 4-6 3-6 5-2 0-4-3-8-3-6-5-10-2-11-5-7-6-6 1-4-1-16-7-16 0-10-5-10 1-20-5-16 0-6-4-14-5-12-2-14-7-22-3-30-9-68 11-4 3-4 7-10 7-3 8-5 2-6 0-6 2-8-3-10 1-6 4-12 1-4-2-4-6-6-1-30 8-8 1-10-2-8-4-4 1-6 3-8-3-8 0-8-2-10 3-4-5-8-2-7 4-7 8-12 5-2 1-13-8-5 0-3 2-3 6-14 6-10 0-14 6-2 0-1-4-3-1-12 6-8-2-2 1-1 8-3 4-6 2-8-3-1 1-1 6-4 2-6-3-14-2-12 3-6 3-8 0-6-2-6-6-4-2-18-1-10 3-3 3-3 5-12 5-12 0-7-6-5-1-14 2-10-2-10 4 0-117zM450 133l2 2-2 2-1-2z"/><path fill="#f4ff0b" d="M146 43l860 0 0 83-10-1-8 4-12 5-6 1-6-1-10 3-10-5-13-3-13-11-14 0-14-6-12 0-12-6-20-1-12-4-10 1-10-6-8-1-8-5-10 2-16-8-22-2-24-7-6-1-66 9-8 4-6 8-14 7-14-2-10 4-8-1-8 3-8 1-10-2-6 1-20 6-14 2-6 0-12-5-12 1-6-2-8 1-16-1-10-3-6-1-8 4-8 8-8 2-4 0-6-3-8-1-8 1-2 2-4 7-10 4-10-1-10 4-6-2-4-1-12 7-8-1-4 0-2 3 0 6-2 3-2 1-3-2-3-5-2 0-8 2-4 6-4 2-4 0-8-4-2 0-4 3-6 2-6 3-4 1-8-2-8-8-14 0-8-3-14 8-4 7-10 4-12-1-10-5-16 2-10-2-10 5 0-117z"/><path fill="#fff400" d="M146 43l860 0 0 77-8 0-8 6-4 2-12 2-6-3-2 0-6 5-6 2-8-4-12-3-10-10-6-4-16 2-12-6-10-1-28-9-18-2-8 0-8-5-12-3-8-4-10 2-16-6-8-1-14 0-24-7-6-1-10 2-54 6-12 4-6 7-12 6-14-1-12 3-8-1-12 1-28 5-10 3-8-1-10 5-12-4-10 0-8-3-10 1-12 0-20-4-6 3-10 7-4 2-6 0-18-2-10 1-3 3-1 6-6 4-10-2-12 3-8-1-14 8-10-2-8 0-2 0-8 5-10-1-2 2-2 5-2 1-8-1-14 1-3 6-5 3-4-1-2-2-2-4-6-3-16 0-10-3-16 9-4 8-6 3-4 1-10-3-8-4-18 4-10-2-10 5 0-117zM266 137l0 3 2 1 4-2-1-2-3-1z"/><path fill="#ffdf00" d="M146 43l860 0 0 73-4-1-4 0-10 10-4 1-6-1-8-9-10 0-2 1-1 2 0 2 3 4 0 2-2 3-4 1-6-4-10-2-2-4 2-8-1-2-3-2-14-1-18 2-16-6-22-5-10-6-12-1-16-2-26-10-14 1-22-4-14 0-30-6-12 2-28 3-14 0-10 2-17 5-15 8-8 0-16 3-8-3-6 0-8 2-12 4-10 2-14-1-8 1-4 2-6 5-2 1-8-4-10 0-10-3-22 2-20-4-24 11-20-2-10 1-4 3-5 8-3 2-8-2-8 2-10-2-16 12-4-1-6-2-6-1-6 2-6 3-2 0-6-3-8-2-3 10-9 2-4 0-4-2-5-6-2-4-3-2-2 0-8 8-8 4-10 1-14 0-14 7-4-1-6-3-4 0-5 4 0 2 1 2 10-3 2 1 2 4-2 4-6 3-4-1-10-5 0-7-2-2-2 1-3 7-4 2-13 3-10-1-10 5 0-117z"/><path fill="#ffca00" d="M146 43l860 0 0 65-6 0-4 2-7 11-3 2-4 0-8-10-6-2-12 1-12 9-1 0 1-6-1-4-5-5-18-3-12 0-6-2-6-5-4-2-16 3-4-2-12-7-34-4-24-8-18 1-20-4-14 0-9-2-21-2-12 2-50 3-27 5-21 7-8 1-20-2-6 1-6 5-4 1-14 1-12-2-20 8-8-1-8 0-10-3-24 1-16-2-8 3-12 6-6 2-6 0-14-3-8 2-6 3-8 8-2 1-6-3-8 3-12-1-10 8-1-10-3-3-2-1-10 5-2 9-4 2-10 3-4-1-6-3-1-3-1-6-6-4-4 0-4 7-4 3-10-4-4-4-4 0-3 2-2 6-3 5-10 6-26 4-8 5-14-4-10 5-8-1-2 2-4 8-2 1-12 3-10-1-10 5 0-116zM284 127l2-2 5 2 2 2 1 4-4 2-4 0-2-4zM202 151l4 0 0 2-4 2-2-2z"/><path fill="#ffb500" d="M146 43l860 0 0 55-6-3-4 0-2 2-6 18-2 4-2 1-2-2-5-7-3-3-14-3-6-3-12-3-18-1-30-9-22-2-12-5-20-2-18-3-18-6-20 2-18-3-42-3-18 2-44 1-34 4-14 5-6 2-8 0-14-4-18 2-12 5-14-1-18 2-8 4-4-1-6 2-4 0-6-4-12 3-12-2-6 2-10 0-14 3-12 5-4-2-3-4-5 0-10 6-18 5-6-1-12 9-4 1-22-8-4-1-4 2-10 6-1 3-1 6-2 3-8 2-6-1-1-2-1-6-1-4-7-6-5 0-13 5-14-2-6 3-4 9-1 1-7-2-2 6-2 3-14 4-4 0-2-1-3-8-3-4-2-1-4 1-4 3-10 3-4 10-2 2-2 1-6 0-4 2-6 11-12 3-10-1-10 6 0-116z"/><path fill="#ff9f00" d="M146 43l860 0 0 42-8 0-12 4-12-2-4 0-2 3-1 9-3 0-6-6-2-1-6 1-8-3-8 1-10-1-28-8-24-2-8-3-22-2-12-3-28-6-24 1-34-3-22 0-18 3-54 0-20 2-22 6-30-6-12 3-10-1-8 3-6-1-6 1-18-5-6 0-10 4-8 1-12-3-22 5-8 4-6 1-12-1-18 0-14 4-8 5-8 0-10 2-3 2 0 8-3 3-4-1-10-7-4 0-12 1-6 1-4 3-6 6-4 3-2 0-4-7-16-3-10 3-28 1-2 1-4 5-12 0-14 5-12-2-4 1-6 4-8 4-8 12-6 2-4 3-6 12-12 2-8-1-10 7 0-116zM316 115l2 2-2 0z"/><path fill="#ff8a00" d="M146 43l860 0 0 25-10-1-8-4-8 0-14 4-6-1-10 2-10 5-2 0-14-4-6-1-8-5-10-1-4 1-10 6-6 0-12-3-8 4-8 1-12-2-10-4-30-5-10 2-10-1-22 1-14-2-38 4-14-1-10 0-10-1-36 1-15 4-9 1-6-1-16-5-6-4-4-1-14 2-10-2-20 2-26-2-20 5-4 0-6-5-2 0-14 4-10 7-14 2-20-9-14 6-8 5-12 2-2 3-1 4-3 2-28-3-6 7-12 2-8 0-7 6-3 1-10-4-6 0-12 4-24 1-8-1-12 5-14 0-8 3-8 0-8 4-3 7-9 6-14 13-8 14-2 1-16 2-4 1-6 6 0-115z"/><path fill="#ff7500" d="M146 43l313 0 1 4-6 5-10-4-12 1-16-1-8 4-10 0-10 6-6 0-10 2-8-1-6 1-9 1-9 6-6 8-10-1-6 2-10-1-8 0-6 3-6 2-16-1-10 8-12 2-8 4-16-3-12 1-7 6-7 2-1 2-1 10-1 2-11 3 0 5-8 5-5 9-1 6-2 4-16 3-10 8 0-113zM472 43l33 0-3 3-4 1-25-2zM528 43l33 0-1 2-6 2-14 1-13-3 0-2zM572 43l402 0 1 2-7 3-14-3-8 1-2 1-3 8-7 2-4-1-8-4-16-4-4 0-8 4-4 1-9-4-11-3-12 2-10 6-8 0-8 2-20-1-12-2-8-1-8-2-24 5-12-2-22 0-10 3-8 1-12-2-16 1-16-2-10 1-8-1-28 2-4-1-8-5-10 1-18-3-7-3z"/><path fill="#ff6000" d="M146 43l212 0-22 9-12-1-4 2-6 6-10 3-4 0-18-3-6 2-6 1-8 2-10 7-18 7-18 0-6-1-4 1-6 4-8 9-16 13-2 1-8-3-6 0-8 8 0 7 2 4 4 1 6-4 2 0 2 3-2 3-6 1-3 6 5 6 5 2 0 2-3 1-10-1-6 1-4-4 0-13 4-2 0-2-4-2 0-76zM150 131l-1 2 1 3 3-1 3-4-4-1zM638 44l1-1 129 0 2 2-2 2-6 1-21-1-7-2-10 1-10 3-10-1-10 2-10-1-6 1-18-3-14 0-8-2zM802 43l10 0 0 2-8 1-2-1 0-2zM814 43l27 0-2 2-6 2-11 1-9-3 0-2zM146 146l1 1 0 4-3 3 0-8z"/><path fill="#ff4a00" d="M146 43l102 0-10 7-8-3-8 7-18 5-8 0-8 3-10 17-8 4-4 5-10 3-8 8-4 1 0-57z"/><path fill="#ff3500" d="M146 43l25 0-3 2-10 0-6 1-2 3-1 6-1 0-4-1 0-11z"/><path d="M147.4 49.5L192.8 49.8M180.9 53.8L192.8 49.8L181.0 45.6M147.4 58.4L192.6 58.1M180.8 62.2L192.6 58.1L180.8 54.1M147.4 67.3L192.6 66.8M180.8 71.0L192.6 66.8L180.8 62.9M147.4 76.2L192.4 76.4M180.6 80.4L192.4 76.4L180.6 72.3M147.4 85.1L191.9 84.8M180.1 89.0L191.9 84.8L180.1 80.8M147.4 94.0L190.9 93.8M179.1 97.9L190.9 93.8L179.1 89.8M147.4 102.9L189.9 102.8M178.1 106.9L189.9 102.8L178.1 98.8M147.4 111.8L189.2 112.2M177.3 116.2L189.2 112.2L177.4 108.0M147.4 120.7L189.5 121.1M177.7 125.1L189.5 121.1L177.8 116.9M147.4 129.6L189.7 130.1M177.9 134.0L189.7 130.1L178.0 125.9M147.4 138.5L190.1 139.2M178.2 143.1L190.1 139.2L178.4 135.0M147.4 147.4L188.1 147.7M176.6 151.6L188.1 147.7L176.6 143.6M147.4 156.3L151.1 156.4M195.3 50.2L239.7 50.0M227.9 54.1L239.7 50.0L227.9 46.0M195.3 60.5L238.9 62.5M227.0 66.0L238.9 62.5L227.3 57.9M195.3 70.9L238.0 72.9M226.0 76.4L238.0 72.9L226.4 68.3M195.3 81.3L237.5 83.4M225.5 86.9L237.5 83.4L225.9 78.7M195.3 91.6L236.6 94.4M224.6 97.7L236.6 94.4L225.2 89.6M195.3 102.0L235.4 105.7M223.6 108.6L235.4 105.7L224.4 100.8M195.3 112.4L234.3 116.5M222.8 119.1L234.3 116.5L223.6 111.5M195.3 122.7L231.4 127.3M220.7 129.5L231.4 127.3L221.6 122.5M195.3 133.1L230.5 138.4M220.0 140.3L230.5 138.4L221.0 133.4M195.3 143.5L227.7 148.7M218.0 150.4L227.7 148.7L219.0 144.0M195.3 153.8L229.5 159.9M219.2 161.5L229.5 159.9L220.4 154.8M195.3 164.2L218.7 168.9M211.6 169.8L218.7 168.9L212.5 165.3M195.3 174.6L196.8 174.5M243.2 51.7L286.6 52.3M274.7 56.2L286.6 52.3L274.8 48.0M243.2 65.1L285.9 66.2M274.0 70.0L285.9 66.2L274.2 61.8M243.2 78.5L285.1 79.8M273.1 83.5L285.1 79.8L273.4 75.4M243.2 91.9L283.2 95.0M271.5 98.0L283.2 95.0L272.2 90.2M243.2 105.3L281.3 108.2M270.2 111.1L281.3 108.2L270.8 103.6M243.2 118.7L279.2 123.0M268.6 125.3L279.2 123.0L269.4 118.3M243.2 132.1L277.2 136.4M267.1 138.5L277.2 136.4L268.0 131.8M243.2 145.5L272.8 149.1M264.0 150.9L272.8 149.1L264.8 145.2M243.2 158.9L264.4 162.9M258.0 163.8L264.4 162.9L258.8 159.7M243.2 172.3L245.5 177.3M244.4 176.1L245.5 177.3L245.3 175.6M243.2 185.6L248.4 197.0M245.8 194.3L248.4 197.0L248.0 193.3M243.2 199.0L242.0 198.5M243.2 212.4L243.0 211.3M291.1 53.0L333.9 53.1M322.1 57.1L333.9 53.1L322.1 49.0M291.1 68.9L332.4 69.5M320.6 73.4L332.4 69.5L320.7 65.3M291.1 84.9L331.4 86.1M319.8 89.7L331.4 86.1L320.1 81.8M291.1 100.8L328.3 102.7M317.6 105.8L328.3 102.7L317.9 98.5M291.1 116.8L324.5 118.7M314.8 121.4L324.5 118.7L315.2 114.9M291.1 132.7L323.0 135.6M313.7 137.9L323.0 135.6L314.3 131.7M291.1 148.7L321.1 150.5M312.4 152.9L321.1 150.5L312.8 147.1M291.1 164.6L305.4 166.5M301.1 167.4L305.4 166.5L301.5 164.6M291.1 180.6L297.0 180.3M295.4 181.0L297.0 180.3L295.3 179.8M291.1 196.5L293.7 196.4M291.1 212.5L287.2 211.9M291.1 228.5L289.3 225.4M291.1 244.4L292.0 245.2M339.0 53.6L380.5 53.9M368.7 57.9L380.5 53.9L368.8 49.8M339.0 70.9L379.1 70.6M367.8 74.6L379.1 70.6L367.7 66.7M339.0 88.1L377.8 87.9M366.8 91.8L377.8 87.9L366.8 84.2M339.0 105.4L374.7 105.9M364.5 109.3L374.7 105.9L364.6 102.3M339.0 122.6L373.3 124.1M363.4 127.0L373.3 124.1L363.7 120.4M339.0 139.9L361.9 142.2M355.2 143.8L361.9 142.2L355.6 139.3M339.0 157.2L359.5 159.7M353.4 161.0L359.5 159.7L353.9 157.0M339.0 174.4L349.3 171.9M346.6 173.6L349.3 171.9L346.1 171.6M339.0 191.7L341.6 188.3M341.2 189.5L341.6 188.3L340.5 189.0M339.0 208.9L340.7 208.2M339.0 226.2L341.2 227.7M339.0 243.4L339.0 250.0M338.4 248.1L339.0 250.0L339.6 248.1M339.0 260.7L339.4 259.6M386.9 53.8L427.5 54.2M416.0 58.0L427.5 54.2L416.0 50.1M386.9 71.5L426.1 72.0M414.9 75.7L426.1 72.0L415.0 68.0M386.9 89.2L424.3 89.4M413.7 93.0L424.3 89.4L413.7 85.7M386.9 106.9L420.6 107.2M411.0 110.4L420.6 107.2L411.0 103.8M386.9 124.6L416.1 124.9M407.8 127.7L416.1 124.9L407.8 122.0M386.9 142.3L401.7 140.9M397.6 142.8L401.7 140.9L397.4 139.9M386.9 160.0L393.8 158.5M392.0 159.6L393.8 158.5L391.7 158.3M386.9 177.7L389.7 172.7M389.4 174.4L389.7 172.7L388.4 173.8M386.9 195.4L390.1 194.2M386.9 213.1L389.7 217.7M388.4 216.7L389.7 217.7L389.3 216.2M386.9 230.8L386.6 236.9M386.1 235.2L386.6 236.9L387.3 235.2M386.9 248.4L383.6 246.4M386.9 266.1L385.8 266.5M434.8 53.9L475.0 53.9M463.6 57.8L475.0 53.9L463.6 50.0M434.8 71.7L473.6 71.6M462.6 75.4L473.6 71.6L462.6 67.9M434.8 89.5L471.0 88.9M460.8 92.6L471.0 88.9L460.7 85.5M434.8 107.3L464.6 107.5M456.1 110.3L464.6 107.5L456.1 104.5M434.8 125.1L458.8 124.6M452.0 127.1L458.8 124.6L451.9 122.4M434.8 142.8L459.1 141.0M452.4 143.9L459.1 141.0L452.0 139.1M434.8 160.6L442.3 161.5M440.1 162.0L442.3 161.5L440.2 160.5M434.8 178.4L436.5 177.0M434.8 196.2L438.7 196.9M434.8 214.0L434.7 210.6M434.8 231.8L435.4 232.8M434.8 249.6L433.3 249.5M434.8 267.4L434.0 266.3M482.7 53.9L522.5 53.9M511.2 57.8L522.5 53.9L511.2 50.0M482.7 71.7L520.5 71.5M509.8 75.3L520.5 71.5L509.8 67.9M482.7 89.5L518.2 89.7M508.1 93.1L518.2 89.7L508.1 86.2M482.7 107.3L512.5 107.3M504.0 110.2L512.5 107.3L504.0 104.4M482.7 125.1L499.3 129.0M494.2 129.5L499.3 129.0L494.9 126.3M482.7 142.9L490.1 143.0M488.0 143.7L490.1 143.0L488.0 142.2M482.7 160.7L493.8 156.7M491.0 158.9L493.8 156.7L490.2 156.8M482.7 178.5L486.1 181.7M484.8 181.1L486.1 181.7L485.5 180.4M482.7 196.4L486.2 197.9M482.7 214.2L483.2 217.4M482.7 232.0L485.5 223.6M485.6 226.2L485.5 223.6L483.9 225.7M482.7 249.8L483.4 248.5M482.7 267.6L481.8 268.4M530.6 53.9L570.4 53.3M559.2 57.3L570.4 53.3L559.1 49.6M530.6 71.7L568.3 72.1M557.5 75.7L568.3 72.1L557.6 68.3M530.6 89.5L565.1 89.5M555.3 92.9L565.1 89.5L555.3 86.2M530.6 107.3L561.7 106.7M552.9 109.9L561.7 106.7L552.8 103.9M530.6 125.1L547.1 124.2M542.5 126.1L547.1 124.2L542.3 122.9M530.6 142.9L542.3 148.3M538.4 147.9L542.3 148.3L539.5 145.6M530.6 160.8L537.2 163.3M535.1 163.2L537.2 163.3L535.6 161.9M530.6 178.6L532.6 183.7M531.5 182.4L532.6 183.7L532.5 182.0M530.6 196.4L527.7 202.1M528.0 200.2L527.7 202.1L529.1 200.8M530.6 214.2L528.6 216.6M530.6 232.0L533.5 232.5M530.6 249.8L531.6 244.7M531.8 246.2L531.6 244.7L530.8 246.0M530.6 267.6L531.6 268.3M578.5 53.9L618.5 54.0M607.2 57.9L618.5 54.0L607.2 50.1M578.5 71.7L615.9 70.9M605.4 74.8L615.9 70.9L605.2 67.5M578.5 89.5L611.6 89.0M602.3 92.4L611.6 89.0L602.2 85.9M578.5 107.3L607.7 107.9M599.4 110.6L607.7 107.9L599.5 104.9M578.5 125.1L595.9 123.0M591.2 125.3L595.9 123.0L590.7 121.9M578.5 142.9L587.5 144.3M584.8 144.8L587.5 144.3L585.1 143.0M578.5 160.8L580.4 158.9M578.5 178.6L578.6 185.9M577.8 183.8L578.6 185.9L579.3 183.8M578.5 196.4L577.1 192.7M578.5 214.2L582.0 215.6M578.5 232.0L576.4 231.0M578.5 249.8L577.3 249.2M578.5 267.6L578.1 266.5M626.4 53.9L667.3 53.2M655.8 57.4L667.3 53.2L655.6 49.4M626.4 71.7L662.7 70.5M652.5 74.4L662.7 70.5L652.3 67.3M626.4 89.5L658.0 90.0M649.0 92.9L658.0 90.0L649.1 86.8M626.4 107.3L649.8 107.6M643.1 109.8L649.8 107.6L643.2 105.3M626.4 125.1L640.0 127.0M636.0 127.8L640.0 127.0L636.3 125.2M626.4 142.9L635.9 132.3M634.3 136.2L635.9 132.3L632.2 134.4M626.4 160.8L636.3 152.2M634.3 155.6L636.3 152.2L632.7 153.6M626.4 178.6L628.5 181.1M626.4 196.4L628.3 191.8M628.2 193.3L628.3 191.8L627.3 192.9M626.4 214.2L625.8 222.8M625.1 220.3L625.8 222.8L626.8 220.4M626.4 232.0L628.6 233.7M626.4 249.8L625.6 246.6M626.4 267.6L626.8 268.7M674.3 53.9L715.6 53.6M703.9 57.7L715.6 53.6L703.8 49.6M674.3 71.7L709.3 70.7M699.5 74.4L709.3 70.7L699.3 67.6M674.3 89.5L691.3 85.2M686.9 88.1L691.3 85.2L686.1 84.7M674.3 107.3L683.4 108.0M680.7 108.7L683.4 108.0L680.9 106.9M674.3 125.1L680.2 111.8M679.9 116.2L680.2 111.8L677.3 115.0M674.3 142.9L678.4 144.4M677.1 144.4L678.4 144.4L677.4 143.6M674.3 160.8L679.3 153.3M678.6 155.9L679.3 153.3L677.2 154.9M674.3 178.6L679.1 169.9M678.6 172.8L679.1 169.9L676.9 171.9M674.3 196.4L676.8 195.6M674.3 214.2L677.7 211.6M677.0 212.7L677.7 211.6L676.5 212.0M674.3 232.0L675.1 231.1M674.3 249.8L672.2 252.2M674.3 267.6L674.5 268.9M722.2 53.9L762.9 54.3M751.3 58.1L762.9 54.3L751.4 50.2M722.2 71.7L755.7 71.8M746.2 75.0L755.7 71.8L746.2 68.5M722.2 89.5L738.0 87.6M733.7 89.7L738.0 87.6L733.4 86.6M722.2 107.3L730.5 96.7M729.2 100.5L730.5 96.7L727.1 98.9M722.2 125.1L730.0 116.7M728.6 119.8L730.0 116.7L726.9 118.3M722.2 142.9L722.1 136.7M722.7 138.5L722.1 136.7L721.5 138.5M722.2 160.8L729.0 156.3M727.5 158.2L729.0 156.3L726.6 156.9M722.2 178.6L726.4 177.2M725.3 178.0L726.4 177.2L725.1 177.2M722.2 196.4L727.1 193.8M726.0 195.0L727.1 193.8L725.5 194.1M722.2 214.2L722.8 216.3M722.2 232.0L726.1 226.3M725.5 228.3L726.1 226.3L724.4 227.6M722.2 249.8L715.6 258.3M716.6 255.3L715.6 258.3L718.3 256.5M722.2 267.6L721.2 266.9M770.1 53.9L810.1 54.9M798.7 58.5L810.1 54.9L798.9 50.7M770.1 71.7L806.2 71.2M796.0 74.9L806.2 71.2L795.9 67.8M770.1 89.5L797.4 89.7M789.6 92.3L797.4 89.7L789.6 87.0M770.1 107.3L782.4 101.8M779.5 104.6L782.4 101.8L778.4 102.2M770.1 125.1L777.2 124.9M775.2 125.6L777.2 124.9L775.1 124.3M770.1 142.9L774.4 134.3M774.1 137.2L774.4 134.3L772.4 136.3M770.1 160.8L776.7 158.4M775.1 159.7L776.7 158.4L774.6 158.4M770.1 178.6L777.0 175.9M775.3 177.3L777.0 175.9L774.8 176.0M770.1 196.4L768.6 199.3M770.1 214.2L770.5 210.9M770.1 232.0L772.1 231.4M770.1 249.8L769.6 247.6M770.1 267.6L769.0 268.1M818.0 53.9L859.1 54.0M847.4 58.0L859.1 54.0L847.4 49.9M818.0 71.7L855.4 70.5M844.9 74.5L855.4 70.5L844.7 67.2M818.0 89.5L850.8 89.6M841.5 92.8L850.8 89.6L841.5 86.4M818.0 107.3L842.2 104.8M835.6 107.9L842.2 104.8L835.1 103.2M818.0 125.1L834.1 119.5M830.1 122.7L834.1 119.5L829.0 119.5M818.0 142.9L827.6 138.1M825.3 140.4L827.6 138.1L824.4 138.5M818.0 160.8L820.3 160.4M818.0 178.6L819.0 179.5M818.0 196.4L817.7 192.1M818.2 193.3L817.7 192.1L817.4 193.4M818.0 214.2L815.6 216.2M818.0 232.0L813.8 239.0M814.3 236.6L813.8 239.0L815.7 237.4M818.0 249.8L815.3 247.7M818.0 267.6L819.0 267.0M865.9 53.9L905.9 54.8M894.5 58.4L905.9 54.8L894.7 50.6M865.9 71.7L904.7 72.0M893.7 75.7L904.7 72.0L893.7 68.2M865.9 89.5L901.3 89.5M891.3 93.0L901.3 89.5L891.3 86.0M865.9 107.3L896.7 106.7M888.0 109.9L896.7 106.7L887.9 103.9M865.9 125.1L887.3 123.1M881.4 125.7L887.3 123.1L881.0 121.6M865.9 142.9L875.5 137.2M873.3 139.8L875.5 137.2L872.2 137.9M865.9 160.8L873.7 155.7M872.0 157.9L873.7 155.7L871.0 156.4M865.9 178.6L874.4 176.7M872.2 178.0L874.4 176.7L871.8 176.4M865.9 196.4L869.7 192.8M869.0 194.2L869.7 192.8L868.3 193.4M865.9 214.2L870.8 215.0M869.3 215.2L870.8 215.0L869.5 214.3M865.9 232.0L868.3 230.4M865.9 249.8L870.6 249.0M869.3 249.7L870.6 249.0L869.2 248.7M865.9 267.6L866.5 268.6M913.8 53.9L954.4 53.8M942.9 57.8L954.4 53.8L942.9 49.9M913.8 71.7L952.6 71.7M941.6 75.5L952.6 71.7L941.6 67.9M913.8 89.5L951.4 88.5M940.8 92.5L951.4 88.5L940.6 85.1M913.8 107.3L946.9 108.4M937.4 111.3L946.9 108.4L937.6 104.9M913.8 125.1L942.0 125.7M934.0 128.3L942.0 125.7L934.1 122.8M913.8 142.9L923.6 141.0M921.0 142.5L923.6 141.0L920.6 140.6M913.8 160.8L919.4 153.4M918.5 156.0L919.4 153.4L917.1 154.9M913.8 178.6L921.2 175.8M919.4 177.3L921.2 175.8L918.8 175.8M913.8 196.4L915.3 195.8M913.8 214.2L918.7 208.7M917.8 210.7L918.7 208.7L916.8 209.8M913.8 232.0L918.9 227.3M917.9 229.2L918.9 227.3L917.0 228.2M913.8 249.8L916.9 247.8M913.8 267.6L915.0 267.6M961.7 53.9L1001.7 53.7M990.4 57.7L1001.7 53.7L990.3 49.9M961.7 71.7L1000.5 71.5M989.5 75.3L1000.5 71.5L989.4 67.8M961.7 89.5L999.1 90.5M988.4 93.9L999.1 90.5L988.6 86.5M961.7 107.3L997.6 107.3M987.4 110.8L997.6 107.3L987.4 103.8M961.7 125.1L993.4 125.9M984.3 128.8L993.4 125.9L984.5 122.6M961.7 142.9L985.9 140.6M979.2 143.6L985.9 140.6L978.8 138.9M961.7 160.8L970.9 166.9M967.7 166.1L970.9 166.9L968.9 164.3M961.7 178.6L967.2 177.7M965.7 178.5L967.2 177.7L965.6 177.4M961.7 196.4L960.1 201.0M960.1 199.5L960.1 201.0L961.0 199.8M961.7 214.2L964.9 208.2M964.6 210.2L964.9 208.2L963.4 209.6M961.7 232.0L965.6 224.4M965.2 226.9L965.6 224.4L963.7 226.2M961.7 249.8L966.5 246.8M965.4 248.1L966.5 246.8L964.8 247.2M961.7 267.6L961.6 266.4" fill="none" stroke="#111" stroke-width="1.5" stroke-linejoin="miter"/><path d="M145.4 268.6L145.4 156.3L146.4 156.3L149.6 156.4L152.8 156.6L156.0 157.1L159.2 157.7L162.4 158.4L165.7 159.3L168.9 160.4L172.1 161.7L175.3 163.0L178.5 164.6L181.7 166.2L184.9 168.0L188.1 169.9L191.3 171.9L194.5 174.0L197.8 176.3L201.0 178.5L204.2 180.9L207.4 183.4L210.6 185.9L213.8 188.4L217.0 191.0L220.2 193.6L223.4 196.2L226.6 198.9L229.9 201.5L233.1 204.2L236.3 206.8L239.5 209.4L242.7 212.0L245.9 214.6L249.1 217.1L252.3 219.6L255.5 222.0L258.7 224.4L261.9 226.7L265.2 228.9L268.4 231.1L271.6 233.2L274.8 235.2L278.0 237.2L281.2 239.1L284.4 240.9L287.6 242.6L290.8 244.3L294.0 245.9L297.3 247.4L300.5 248.8L303.7 250.1L306.9 251.4L310.1 252.6L313.3 253.8L316.5 254.9L319.7 255.9L322.9 256.8L326.1 257.7L329.4 258.5L332.6 259.3L335.8 260.0L339.0 260.7L342.2 261.3L345.4 261.9L348.6 262.4L351.8 262.9L355.0 263.3L358.2 263.7L361.5 264.1L364.7 264.5L367.9 264.8L371.1 265.1L374.3 265.3L377.5 265.6L380.7 265.8L383.9 266.0L387.1 266.2L390.3 266.3L393.5 266.5L396.8 266.6L400.0 266.7L403.2 266.8L406.4 266.9L409.6 267.0L412.8 267.1L416.0 267.1L419.2 267.2L422.4 267.2L425.6 267.3L428.9 267.3L432.1 267.4L435.3 267.4L438.5 267.4L441.7 267.4L444.9 267.5L448.1 267.5L451.3 267.5L454.5 267.5L457.7 267.5L461.0 267.5L464.2 267.5L467.4 267.6L470.6 267.6L473.8 267.6L477.0 267.6L480.2 267.6L483.4 267.6L486.6 267.6L489.8 267.6L493.0 267.6L496.3 267.6L499.5 267.6L502.7 267.6L505.9 267.6L509.1 267.6L512.3 267.6L515.5 267.6L518.7 267.6L521.9 267.6L525.1 267.6L528.4 267.6L528.4 268.6Z" fill="#fff"/></g><path d="M146.4 157.3V267.6H356.5" fill="none" stroke="#262626" stroke-width="1.3"/><path d="M146.4 267.6V254.2" stroke="#262626" stroke-width="1.3"/><path d="M337.4 267.6V254.2" stroke="#262626" stroke-width="1.3"/><path d="M145.9 45.0H1006.3" stroke="#1a1a1a" stroke-width="1.6"/><g><path d="M146.5 356.0V579.0H1006.0" fill="none" stroke="#262626" stroke-width="1.3"/></g><g clip-path="url(#clipB)"><rect x="144.5" y="354.0" width="863.5" height="227.0" fill="#00008a"/><path fill="#00009f" d="M286 358l54 0 20 2 12-1 28 0 18-1 16 1 18-2 26 1 10 0 54 3 26-4 24 2 10-2 12 2 16 0 20-2 96 2 24-2 68 3 56-1 66-1 28 4 18-1 0 219-862 0 0-222 52 3 40-3 32 2z"/><path fill="#0000b5" d="M682 362l64 0 26-2 54 4 28 4 14-3 6 0 9 1 7 3 2 0 4-3 4-1 60 1 20 3 14 3 6 4 3 0 3-3 0 207-862 0 0-216 6 0 44 2 42-3 22 3 30-3 28 0 16 1 14-1 16 2 40 0 12-2 64 1 12-1 10 0 24 3 24 0 22-3 22 1 12-1 30 2 12-2 28 1z"/><path fill="#0000ca" d="M766 364l18 0 12 3 12-1 18 2 24 5 14 2 8-5 20 5 8-3 18-4 30 1 34 4 16 8 2 0 6-3 0 202-862 0 0-211 6-1 44 2 44-2 20 2 60-3 18 2 10-1 16 1 26-1 16 1 11-1 35 0 28 2 14-3 28 3 86-2 28 1 10-2 18 2 10 2 4-1 7-4 5-1 16 1 24 0z"/><path fill="#0000df" d="M756 366l25 0 7 2 6 3 12-3 12 3 14 0 12 3 18 6 10-5 8 0 4 1 4 6 2 0 12-7 10-1 6-3 30 0 8 3 16 2 2 2 0 4 2 0 4-3 2 0 14 8 4 0 6-4 0 197-862 0 0-207 36 0 16 2 32-3 42 2 22-1 12 0 14-2 20 2 44-1 24 1 48-1 24 3 14-3 28 2 40-1 38 1 16-2 20 1 10-1 18 1 10 2 4-1 10-6 6-1 14 2 12-1 10 1 10-2zM782 374l-1 2 1 2 2 0 2-2-1-2z"/><path fill="#0000f4" d="M752 368l16 0 10 2-1 4 5 8 4-2 4-5 16-5 12 4 12-2 12 3 22 9 3 0 5-5 8-2 4 3 2 4 4 1 6-1 4-4 4-4 4 0 2 1 4 6 2-1 3-6 2-2 25-1 10 4 10 1 7 8 9 1 5 5 5 4 8-3 6-6 0 193-862 0 0-202 37-1 17 2 24-3 50 2 20-1 12 1 12-2 22 1 20 0 25-2 31 3 32-2 24 3 10 0 10-2 28 2 26-1 54 1 16-1 20 0 12-3 10 1 6 2 8 1 4-1 14-8 6-1 8 1 6 3 8-2 13 1 11-3z"/><path fill="#000bff" d="M742 369l14-1 14 1 9 11 3 6 10-11 14-3 12 3 12-2 10 2 24 11 4 0 8-7 4 0 3 1 1 4 2 2 10 1 5-7 5-3 2 1 2 2 2 5 2 1 4-2 4-8 24-1 10 4 8 1 8 7 8 1 10 10 2 2 6-2 8-6 0 188-862 0 0-199 12 0 10 1 14-1 20 2 20-3 16 2 36 1 20-2 10 2 14-2 50 0 18-2 30 2 30-1 26 4 16-2 12 2 10-1 10 1 26-1 16 0 10-1 32 1 34-3 12-3 8 1 6 6 8 1 2-3 2-3 10-6 6-2 10-1 8 6 6-3 14 0z"/><path fill="#0020ff" d="M744 370l12-1 13 1 3 5 6 5 2 6 2 1 10-11 14-2 14 2 10-2 8 1 8 3 6 4 14 5 6-1 6-6 2 0 5 6 11 3 2 0 3-7 3-3 4 0 4 8 2 1 4-2 4-8 2-1 9-1 5 1 8-1 9 4 9 2 8 7 8 1 8 9 4 3 6-1 8-4 0 183-862 0 0-195 13-1 11 2 12-1 20 2 20-2 20 2 32 0 10-1 20 1 64-2 20-3 18 0 10 1 30 0 24 4 14 0 16 3 10-1 14 0 18-2 20 1 10-1 34 0 12-3 20-3 10-3 4 0 6 1 4 5 10 3 2 0 1-5 2-2 9-7 6-2 10 0 8 7 8-4 12 0z"/><path fill="#0035ff" d="M750 370l6-1 11 1 3 2 1 4 5 3 4 9 2 0 2-1 8-10 14-2 14 2 8-2 8 0 8 3 6 5 16 6 9-3 3-4 2-1 4 6 14 4 3-1 0-6 3-4 2-1 2 2 3 7 3 2 4-2 6-7 4 1 6-3 12-2 17 6 7 6 8 3 4 4 8 7 4 0 12-2 0 179-862 0 0-191 12-1 12 2 32 1 18-2 24 2 38-1 26 2 22 0 40-3 18-4 16-1 48 3 16 3 14 1 20 4 20-1 50-3 34 0 18-6 16-3 8-3 4 0 6 1 4 5 12 3 4-8 6-5 10-4 8 0 8 8 10-4 10 0 10-3z"/><path fill="#004aff" d="M754 370l12 1 2 1 2 4 6 4 4 8 2 1 3-1 8-10 15-2 12 2 8-3 6 0 10 3 6 6 6 1 8 4 6 0 10-4 4 3 8 2 6 3 2 0 2-2 0-7 2-3 2 0 2 1 2 7 4 3 4-2 4-4 7 0 7-5 10-2 16 6 11 7 5 6 11 6 5 1 12 0 0 175-862 0 0-187 14-1 44 3 16-2 24 2 34-1 52 4 38-4 18-5 18-2 48 3 30 5 20 6 38-3 14-2 12 1 20-2 20-1 18-7 16-4 12-3 4 0 2 1 4 5 6 1 6 2 2-2 1-5 4-4 5-4 8-2 8 0 3 2 3 5 2 1 12-4 8-1 10-3z"/><path fill="#0060ff" d="M692 372l4-1 4 1 4 4 2 4 2 1 32-9 16-2 8 1 3 1 3 6 6 2 3 8 3 2 4-2 5-8 3-2 16-2 10 3 8-3 4 0 10 2 7 6 7 2 10 4 4 0 10-3 4 2 8 2 6 3 4 0 2-2 1-2-1-4 0-3 2 0 2 5 2 4 4 2 10-7 6 0 7-4 11-2 10 4 12 7 4 6 8 6 12 3 12 0 0 173-862 0 0-183 18-1 38 3 28 0 11 1 35-1 54 4 22-3 14-1 30-8 26-1 52 8 8 1 20 7 40-3 12-2 12 0 22-3 18-1 16-8 22-5 8-3 4 0 6 6 6 0 6 3 3-2 1-6 4-4 4-3z"/><path fill="#0075ff" d="M694 372l6 1 3 3 2 4 1 2 2 0 8-3 6 0 18-6 16-2 8 0 2 1 4 6 5 2 3 8 2 2 2 0 4-2 6-8 2-1 16-2 10 3 8-4 5 0 9 3 6 6 8 1 10 5 4 0 6-2 4-1 10 3 8 4 4 0 4-2 8 2 10-6 6 1 6-5 12-2 9 3 5 5 6 3 12 12 14 3 12 0 0 171-862 0 0-179 18-1 38 3 26 0 12 1 22 1 16-2 24 2 10 2 18 1 24-4 12 0 20-8 10-2 26-1 60 10 20 9 10-1 40-5 16-1 20-4 18-1 20-11 20-4 6-3 4 0 6 6 6 0 6 2 2-1 3-7 3-4 4-3z"/><path fill="#008aff" d="M752 372l6-1 7 1 4 6 6 4 3 7 4 2 4-2 8-9 17-2 9 2 10-3 4 0 8 3 6 7 8 0 10 5 4 0 6-2 4-1 10 2 8 5 8-1 8 1 10-5 6 3 2-1 3-1 1-4 2-1 4 0 6-3 2 1 4 1 6 6 8 4 12 12 8 1 6 3 2 2-1 4 0 2 7 2 4 4 0 154-862 0 0-176 21 0 33 3 20-1 28 3 28-1 24 1 12 3 18 1 12-1 12-3 12-1 20-9 16-2 20-1 60 11 20 10 14 0 70-12 20-2 20-12 14-4 8 1 3-4 3-1 2 0 5 5 7 1 6 2 3-1 3-8 3-4 5-3 8-3 4 0 3 2 3 7 2 1 10-2 4 0 4 2 4-4 8-3z"/><path fill="#009fff" d="M754 372l10 0 4 7 6 3 4 8 4 1 4-1 8-9 16-2 10 2 10-4 4 1 7 2 7 8 8 0 12 6 8-4 4 0 10 2 8 5 8-1 8 1 10-4 4 3 2 0 8-2 5-4 7-3 10 7 8 3 10 11 13 4 1 2 0 6 1 2 5 3 4 4 5 0-1 151-862 0 0-172 30 0 22 3 20-1 30 3 52 0 12 3 30 1 16-4 10-1 18-10 36-3 60 13 20 12 6-2 18-1 56-12 24-3 20-14 14-3 6 2 2 0 4-6 2-1 2 0 4 5 8 0 6 2 3-1 3-8 4-4 4-3 8-2 4 0 3 1 3 8 2 1 10-3 4 1 4 3 2-1 4-4 6-3 8-2 4 0zM812 398l2 2 2-2-2-1zM640 400l0 2 3 0 0-2-1-1z"/><path fill="#00b5ff" d="M756 372l8 1 4 7 5 2 5 8 2 2 4-1 10-9 8 0 8-2 10 2 10-4 2 0 9 4 3 6 2 1 8-1 14 7 8-4 4 0 10 2 4 4 4 1 14 1 10-4 6 4 11-3 7-5 4-1 18 9 10 11 10 3 2 3-2 6 2 2 6 3 6 5 4-1 0 149-862 0 0-169 12 1 18 0 18 3 34 0 20 2 36 1 16-1 18 4 24 0 26-5 18-10 8-1 10-2 18-2 10 2 33 9 17 4 20 15 12-4 18-2 50-12 14-1 10-3 10-7 10-9 14-3 6 4 4-3 4-6 2 1 4 4 8 0 7 2 3-2 3-8 3-4 4-3 8-2 4 0 2 1 3 8 3 2 10-3 10 3 4-3 4 0 4-5 6-2 4 1zM805 394l1 2 6 5 4 0 2-1-2-5-10-2zM639 398l-1 2 0 2 2 2 3 0 2-2-1-5-2-1z"/><path fill="#00caff" d="M692 374l4-1 4 1 1 2 1 6 4 2 10-3 10 4 4-2 6-1 1-4 3-2 8 0 8-4 6 1 3 1 3 8 4 1 5 7 3 3 4-1 10-7 6 1 6-4 4 0 10 2 8-4 4-1 7 3 4 8 5 1 8-1 12 6 2 0 6-4 4 0 10 2 4 4 4 1 14 2 8-3 2 0 4 4 2 0 4-3 8-1 6-4 4-1 16 6 4 3 5 8 10 6-3 4 0 4 5 3 7 2 6 5 2 0 4 0 0 146-862 0 0-165 28 0 20 3 13-1 23 1 22 2 44 0 22 5 24 0 24-5 12-7 14-4 12-3 8 0 6-3 4 0 12 3 30 9 18 4 21 16 13-3 22-4 44-12 24-4 10-7 10-11 4-1 8-1 2 1 1 1-3 6 1 2 3 3 4-1 3-2 0-6 5-8 2 0 4 3 8-1 6 2 4-2 7-12zM803 388l-1 4 2 5 8 6 4 0 2-1 1-4-3-6-9-4z"/><path fill="#00dfff" d="M694 374l4 0 2 1 2 7 2 2 4 0 8-2 10 4 10-3 4-6 8 0 8-4 4 0 4 2 3 7 5 3 6 8 4 0 8-4 4-1 4 2 5 8 7 5 4 1 4 0 2-3-2-13 10-7 4-1 4 2 3 2 0 2 0 6 9 0 8-1 12 6 2 0 6-4 4 0 8 2 10 5 14 3 8-2 4 3 4 1 6-4 6 1 4 3 2-1-2-4 1-2 3-2 4 0 14 5 12 15 0 2-4 6 1 2 1 2 10 3 8 1 6 5 2 1 5-2-1 144-862 0 0-162 28 0 20 3 10-1 10 2 14-1 26 3 40 0 24 4 14 0 10 0 10-1 14-3 14-7 18-6 14-2 6-4 4 0 10 2 28 10 22 5 20 18 26-6 14-2 10-4 54-14 10-6 10-12 2-1 8-1 2 2-1 4 1 3 4 2 4 0 4-3 4-11 2-1 2 3 10-2 6 2 4-3 8-12z"/><path fill="#00f4ff" d="M696 374l4 2 1 6 3 3 4 0 8-3 10 4 10-2 5-6 9-1 6-3 4 0 4 2 2 7 6 4 6 6 4 1 8-4 4 0 8 8 6 5 6 2 4 0 2-1 2-2-1-10 1-4 6-6 4-1 4 3 1 2-1 3-4 3 0 3 2 1 22-3 14 6 8-5 10 2 8 5 14 4 8-1 9 3 5 1 15 0 3-2 2-5 2-1 11 2 3 4 5 10-2 6 1 4 2 3 10 4 8 1 3 2 2 6 3 2 4 0 2-2 0 138-862 0 0-158 12-1 17 1 19 2 34 1 28 3 34-1 28 4 24 1 12-2 12-3 16-8 30-7 6-5 4-1 12 4 24 10 24 6 20 18 42-8 49-16 13-3 10-6 10-13 2-2 4 0 2 1 3 5 3 3 6 0 8-6 9-1-1-4 3-2 3-1 6 3 2-1 10-15 4-2z"/><path fill="#0bfff4" d="M690 376l6-2 2 1 2 1 1 6 3 3 4 0 8-3 8 4 4 1 8-2 6-6 6 0 8-4 4 0 3 1 2 8 7 4 4 5 6 2 8-4 4 1 14 13 8 2 4 0 2-2 2-3-2-6 0-5 7-7 3-1 2 1 1 2-5 5 0 3 0 3 2 1 8 0 4-2 12-2 14 7 2 0 6-5 8 1 22 10 10-1 18 6 13-2 3-2 2-4 2-1 8 2 2 2 3 7-3 6 7 10 7 6 8 1 2 1 3 6 3 2 6 2 4-1 0 133-862 0 0-154 12-2 16 1 16 2 54 3 10 2 34-2 32 5 22 1 16-3 8-3 16-9 16-3 14-4 6-4 4-2 13 4 25 14 8 0 14 3 20 20 14-3 14-4 14-2 38-12 14-6 10-3 12-7 8-13 2-1 4 1 8 7 6 0 8-6 10-2 0-4 2-2 2 0 6 2 2-1 11-15zM834 414l-1 2 3 3 4-1 1-2-3-3z"/><path fill="#20ffdf" d="M690 376l6-1 2 0 2 7 4 3 4 0 8-2 12 4 8-1 6-5 9-1 8-4 2 2 2 6 13 11 6 1 8-3 2 1 15 12 13 4 16 11 12-3 2-2-1-2-5-1-4-3-6 1-4-1-3-4 0-4 1-1 8 0 4 4 2 1 3-2 1-5 10-2 6 2 6 6 6 0 6-6 6-1 20 10 12 0 16 7 16-2 8-3 5 2 1 2-2 6 17 18 7 1 3 1 4 6 9 4 4 0 0 130-862 0 0-151 14-2 16 0 14 3 52 3 10 3 34-2 24 3 32 2 22-4 20-13 16-1 15-5 5-5 2-1 14 5 15 11 9 5 8-1 14 3 20 20 16-3 14-4 8 0 20-6 10-5 14-4 12-7 10-2 4-4 7-4 9-12 2-2 4 1 8 5 4 1 12-6 8-2 2-1 0-4 2-1 6 2 2-1 9-10 3-6zM850 402l-1 2 1 2 3-2z"/><path fill="#35ffca" d="M692 376l6 0 2 6 4 4 4 0 8-3 8 4 6 1 4 0 10-5 12-2 20 15 4 1 10-1 2 0 14 11 10 4 20 12 10-1 4-2 5-10 3-4 0-5 2 0 3 5 3 2 8-1 7-5 5-2 20 10 12 0 8 4 8 3 12-1 6 5 4-4 4 5 6 4 10 14 10 1 6 7 10 5 4 0 0 127-862 0 0-148 16-1 14 0 14 3 38 1 26 4 26-2 36 4 12 0 14 3 10-1 14-5 7-6 13-9 14 1 10-4 6-2 6-5 13 3 11 11 14 7 8-1 14 3 20 23 6 0 8 1 13-8 13-2 32-13 12-2 10-7 10-3 4-5 8-5 10-12 4 0 8 4 4 0 5-1 7-5 9-1 4-4 5 0 12-12 3-6zM832 403l3 1 1 2-1 2-3 0-2-2 1-2z"/><path fill="#4affb5" d="M694 376l3 0 2 6 2 2 3 2 4 0 8-3 10 5 6 1 16-5 9 0 19 14 4 1 12 0 6 3 6 6 8 3 15 9 9 4 12-1 2-1 8-11 16-2 8-5 4-1 4 1 14 7 14 1 8 5 8 2 10 0 6 6 8 0 6 2 10 15 10 1 4 4 12 7 6 1 0 125-862 0 0-145 10 0 10-1 22 3 10-1 20 3 8-1 8 2 32 2 12-2 38 5 12-1 12 4 10 0 10-5 8-2 8-9 10-8 10 2 10-1 12-3 4-5 6 0 4 0 4 3 8 10 8 2 6 4 2 0 8 0 14 2 20 26 14 1 10-3 2 2 1 4 1 2 4 1 3-1-3-8 7-8 29-13 16-2 10-7 10-2 6-10 6-4 8-9 4-2 4 0 10 3 5-2 5-3 12-3 4-3 4-1 8-8 4-3 4-7z"/><path fill="#60ff9f" d="M688 378l8-2 2 2 0 4 2 2 4 2 4 0 8-2 14 6 6-1 9-3 10 0 7 5 6 3 6 5 6 2 14 1 8 7 10 5 4 3 20 9 12 0 2-1 6-8 4-4 6-1 8-1 6-3 4-1 6 3 8 0 6 3 12 0 3 1 5 7 18 0 2 1 6 6 4 1 4-1 4 1 5 4 4 9 3 4 8 1 20 10 4 0 0 123-862 0 0-143 10 1 10-1 20 3 14 0 18 2 32 1 12 1 6 2 8-1 14 0 24 4 12-1 16 4 8 1 12-7 7 0 1-1 7-11 9-8 10 1 18 0 5-1 5-6 4-1 6 2 4 3 2 4-2 6 2 1 6-2 4 0 10 6 8-2 14 4 20 27 18 0 10 6 6 0 3 0 2-2 1-4-1-4 1-4 5-6 23-10 10 1 6 3 2-1 5-9 5-4 8-2 8-12 5-4 7-8 8-2 10 2 12-6 10-2 8-3 8-9 5-2z"/><path fill="#75ff8a" d="M690 377l6 0 4 7 4 3 4-1 8-2 14 6 2 2 8 1 4 4 8-2 4 1 4 2 2 6 3 2 11 3 6 0 12 3 11 4 4 4 13 6 12 1 12 5 4 0 2-1 6-11 6-4 4-2 6 0 6-2 8 4 18 2 22 10 6 4 24 5 17 12 15 5 12 5 4 1 0 120-862 0 0-140 20-1 24 4 12-1 18 3 30 0 10 1 8 3 22-1 24 4 10-1 18 4 8 1 4-2 8-6 8 1 2-2 6-13 8-7 8 1 22 0 6-2 4-4 4 0 4 1 3 3 1 2-2 6 2 2 4 1 4-2 4-1 10 8 8-3 14 3 20 29 18 0 10 4 6 1 4-1 2-2 3-7 0-8 3-3 22-9 4 0 8 4 6-1 4-3 2-6 1-2 11-4 8-12 12-13 8-3 10 2 12-5 10-2 8-4 8-8 5-3 2-6z"/><path fill="#8aff75" d="M690 378l4-1 2 1 3 6 5 3 4 0 8-3 13 6 8 10 7 12 8 4 10 2 12 2 3 2 1 4 2 1 6-1 6-5 2-1 10 10 2 0 6-4 2 0 10 5 8 0 4 1 4 3 12 0 4-2 6-10 6-5 12-1 18 9 14 2 8 0 5 2 5 7 6 1 6 3 10-1 14 7 8 5 32 10 0 118-862 0 0-138 4-1 27 1 13 3 12-1 18 4 12 0 18-1 10 2 10 3 22-2 22 4 10-1 18 5 8 0 4-1 8-6 6 1 2-1 3-3 5-12 8-8 28 1 7-1 9-4 6 2 0 2-1 6 1 2 2 2 4 0 8-2 8 8 4 2 6-5 14 3 20 30 10 1 8-2 12 5 6 0 5-2 6-8 1-2-3-6 3-4 20-8 3 0 5 4 10-1 6-5 2-6 12-6 7-12 11-12 8-3 10 2 12-6 10-2 8-3 8-9 6-3 2-6z"/><path fill="#9fff60" d="M692 378l3 0 2 4 5 5 6 0 8-2 12 5 8 17 8 12 11 7 0 6 1 2 4 2 18 0 4 1 8 4 10-1 8 0 10-4 6 1 8 0 5 3 3 1 7-3 9-1 6-7 6-5 4-1 6 0 18 6 6 3 4 0 6 2 4-3 4-1 2 1 3 6 4 3 19 3 12 3 10 7 32 10 4 0 0 116-862 0 0-136 2-1 28 0 16 5 12-2 18 5 10 0 18-1 10 2 6 2 6 1 22-2 56 7 4-1 8-6 6 1 3-2 3-4 6-12 6-7 28 1 16-4 3 0 1 2 0 6 2 4 6 1 8-1 12 13 2 0 3-5 3-3 12 2 6 7 14 25 12 1 5-2 3-1 10 4 6 0 6-2 9-7 0-4-3-6 0-2 18-7 2-1 5 4 3 1 10-3 8-6 3-6 9-6 8-12 10-11 8-3 6 1 6 0 10-6 18-4 8-9 6-4 2-6z"/><path fill="#b5ff4a" d="M692 378l2 0 4 6 4 3 6 0 8-2 11 5 2 2 12 30 3 14 0 12 3 2 5 0 8-4 4-1 10 2 8 0 8 3 8 1 14-5 4-4 2-1 10 1 8 4 4 0 8-4 8-1 8-8 6-3 13 2 2 2 0 4 1 2 2 1 3-1 1-4 2 0 10 6 10 2 8 4 24-1 14 4 6 4 13 3 21 7 6 1 0 114-862 0 0-134 2-1 6-1 10 1 12 0 16 5 14-2 6 1 8 4 10 1 8-1 12 0 14 4 18 1 10-3 6 0 16 3 12 1 22 3 8-2 6-4 4 0 4-2 4-4 6-14 6-6 28 1 16-3 2 2 1 6 1 2 6 2 10 1 8 7 2 5 2 2 5-1 2-6 1-2 8 0 4 1 20 32 6 0 6 2 8-4 10 3 8 0 6-2 10-6 0-4-3-8 1-1 12-6 2 0 8 3 6 0 6-3 11-7 3-6 6-4 8-10 3-6 7-8 8-3 12 0 11-5 7-1 10-3 8-10 6-3 3-7z"/><path fill="#caff35" d="M692 380l2 1 4 4 4 3 6 0 8-2 11 4 2 2 3 14 6 12 3 20 1 10 2 7 4 2 12 2 12 5 2 0 6-5 4 1 1 10 1 2 4 2 4-1 4-11 3-2 8-4 7-1 8-5 3 0 5 3 2 0 14-6 8-1 4-2 4-6 4-2 4 1 17 10 3 1 6-3 4 1 4 3 4 7 2 1 4 0 4-3 4-1 14 0 6-2 2 0 12 5 2 4-1 4 1 2 4-4 14 0 6 1 10 5 12 1 0 111-862 0 0-132 4-2 4-1 8 2 14-1 18 7 10-3 6 1 20 6 20-2 4 1 8 4 8-1 14 3 8-5 8 0 6 0 8 3 10 0 24 4 8-2 6-3 4 0 2-1 6-7 6-13 6-7 20 0 8 1 14-2 2 2 3 6 3 2 10 2 4 2 6 4 5 8 6 0 2-2 1-4 2-2 6-1 4 1 18 31 2 2 6-1 8 2 6-3 12 3 8-1 15-7 1-4-2-8 1-2 9-5 8 3 8-1 6-2 12-8 4-7 4-3 8-9 3-6 7-9 8-3 12 0 10-5 8-1 12-4 6-9 7-3 3-7z"/><path fill="#dfff20" d="M692 382l6 4 6 2 13-2 8 4 3 3 8 25 2 12 2 18 4 16 2 2 9 2 2 2 1 8 4 4 4 0 4-3 4-1 12 3 4 3 10 0 10-2 6-4 2-16 2-1 6 0 6-2 8-1 6-7 4-1 8 0 3-2 5-6 2-1 20 12 4 0 6-1 3 0 9 9 4 2 6 0 6-5 6 0 3 2 0 2-2 6 3 3 16-3 18 7 10-8 10 5 10 1 6-1 0 108-862 0 0-131 4-1 4-1 8 2 14-1 18 7 14-2 20 6 15 0 7-1 12 5 10-1 10 3 4-1 8-4 6-2 6 1 8 4 10-1 22 3 8-1 8-3 5 1 1-2 8-10 6-12 4-5 10 0 8-1 8 1 9-1 6 0 1 1 4 7 14 4 8 4 4 8 2 2 4 0 6-2 5-6 5-2 2 1 4 5 3 8 8 12 3 6 2 2 6-1 8 2 8-2 12 2 10 0 4-4 9-5-1-11 3-3 5-2 8 1 10-1 18-10 2-6 12-12 4-8 6-7 10-4 10 0 12-6 8-1 10-3 6-8 8-5z"/><path fill="#f4ff0b" d="M692 385l12 4 12-2 10 5 2 2 7 26 2 12 1 18 6 20 5 6 3 6 7 6 3 2 4 0 8-3 8 0 4 3 4 8 2-3 2-1 12-1 3-1 5-6 8-4 2-2-1-6 1-2 6-4 4-6 10-2 6-6 8 0 10-7 3 1 5 7 12 4 4 0 6 4 6 0 5 5 2 6 3 2 14-2 4 4 4 1 18-3 3 2 2 4 1 1 4-1 8 2 2-2 2-7 4-3 10 5 10-1 6-2 0 106-862 0 0-129 4-1 4-1 8 1 12-1 20 7 10 0 10 1 12 4 12 1 8 3 8-2 10 3 8-2 10 3 12-5 8-1 12 4 10-1 22 2 16-3 4 1 2-2 8-11 5-11 5-6 2-1 10 1 6-1 8 1 10-2 5 2 3 7 14 4 8 4 2 1 4 8 2 1 8-1 10-8 4 0 3 4 3 8 7 10 3 8 2 3 2 1 6-2 8 3 6-2 6-1 14 3 6 2 2-1 0-4 1-2 9-5 0-11 2-3 4-1 16 0 10-3 5-5 7-4 2-6 10-11 10-14 10-1 12-2 3-4 5-3 20-4 2-1 5-8 7-4zM781 498l-1 2 0 5 2 4 2 1 5-4 1-4-2-3z"/><path fill="#fff400" d="M692 387l2 0 10 3 12-2 11 6 6 22 3 16 2 18 2 10 9 22-1 4-2 2 0 5 4 1 18 2 7 8-1 3-4 1 0 1 4-1 12 12 4 1 7-5 3 0 7 4-3 6 1 4 1 1 14 2 4 4 4 1 6 0 5-4-2-2-5-2-8 0-1-2 2-6-1-4-4-6-3-6-5-1-6 3-9-4-1-4 2-2 10-2 7-8 9-5 3-3 1-5 6-5 2-5 2-1 2 1 4 4 5-5 9-2 4-7 4-2 2 0 6 4 6 2 6 5 6 0 5 2 2 4-4 8 2 4 3 1 6-1 17 2 7 4 4-2 4-1 4 3 8 0 8 3 14 0 5-3 3-7 2-1 6 3 2-1 16-5 0 103-64 0-1-6-1-2-4-1-4 1-3 8-785 0 0-127 6-2 22-1 20 7 10 1 14 4 4 3 12 1 6 3 6 0 11-1 7 1 8-2 10 2 4-1 6-3 10 0 14 4 10-3 20 2 14-4 6 1 2-1 8-12 6-12 4-5 12 0 6-1 8 1 10-2 4 2 4 8 9 1 5 2 8 5 6 7 2 2 10-2 8-7 4 0 5 11 7 10 4 10 2 2 2 1 6-2 8 3 12-3 12 2 10 4 3-1 0-6 1-2 6-2 3-2-1-12 2-2 18 0 6-2 9 0 1-2 0-4 7-4 2-8 2-2 17-18 4 3 2-1 4-6 12-3 10-8 8-1 12-3 6-9 6-3zM854 490l-4 3-4 5-4 2 0 2 0 1 5 1 1 2 1 6 1 2 6 2 8-6 0-2-2-2-3-2-1-3 2-2 4 2 2-1-2-3-6-1zM744 506l0 1 3-1-3-1zM946 530l-2 1-2 9-1 4 1 3 2 1 6-1 6 1 4 0 1-2-4-6-3-8-2-1zM812 542l-2 2 0 2 2 2 8 2 2-2-2-7-2 0zM736 544l-2 2 0 4 2 3 2 0 3-3 0-4-3-2zM808 558l0 1 3-1-3-1zM792 576l0 3 2 0 0-1z"/><path fill="#ffdf00" d="M692 389l2-1 10 2 12-1 7 3 4 4 4 14 0 4 2 2-1 8 3 4 2 24 9 28-2 10 0 5-7 7-1 4 6 12 8 6 0 2-7 6-3 8-6 0-3 2-1 4 1 4 5 12 3 2 4-8 5-4-1-10 5-4 4-7 10 9 2 10 2 0 2 0 3-4-2-10 5 0 6 4 2-1 3-3 0-6 1-1 1 3 12 8 2 8-6 10-13 7-2 3-2 4 3 8-641 0 0-125 8-3 18-2 14 5 8 3 14 3 14 6 18 3 8 1 9-1 7 1 8-1 10 1 4-1 8-3 8 0 16 5 10-4 18 1 14-4 6 1 4-4 7-10 5-12 4-4 4-1 8 1 6-2 8 1 10-2 5 3 2 8 1 1 6-1 6 2 2 2 2 7 4-2 2 0 7 7 3 0 8-1 5-3 4-4 3 0 4 10 8 10 2 10 4 3 2 1 6-2 8 2 12-2 14 3 6 3 4 1 2-1 2-2 0-6 6-4 2-2 1-10 1-2 8-2 8 1 6-2 8 1 2-1 5-7 3-3 3-9 13-15 4-2 4 2 2-1 4-6 3-2 9-1 10-9 20-4 3-2 3-7 6-3zM866 456l14 5 9 9-3 8 0 4-9 8 0 4 3 4 2 0 10-4-1-8 1-2 6 2 1 4 3 2 6 1 8-5 2-1 5 3 0 2-3 8 6 8-4 10 2 2 5 2 3 5 2 0 2 3-2 2-2-3-2 0-5 3-2 2 0 2 3 4 8-3 2 5 0 8 1 6-1 6-6 1-6 5-1 2 2 6-2 4-111 0 0-4-3-6 1-2 6-4 2 1 2 2 3 7 4 2 3 0 5-10-1-3-2-5 0-2 1-2 7-5 3-7 6-4 1-4 1-13 1-1 10 1 2-3 3 0-1 2-4 2-4 6 2 2 12-6 6-6-1-2-5-2 0-4 5-8 0-2-7-5-3-5 0-6-3-4 0-5-12-5 0-2 6-3 5-7zM836 476l4-1 4 1 1 4-1 8-14 4-8 6-6 1-4-2 4-7 8-5 6-6zM1006 484l0 27-2-1 0 2 0 3 2 3 0 36-14-2-10 4-8-1-6 4-2 0-1-3 5-8-5-18 7-6 5-6 0-4-2-6 5-5 8-3 0-8 2-2 4-2 7 1 3-2zM946 492l7 0 3 4 1 6 1 2 8-1 4 1 2 4-1 2-5 3-10 3-6 6-8 0-4-2-1-2 3-6 1-4-3-2-6-1 0-3 2-4zM830 502l2 0 0 2-2 2-2 1 0-3zM766 516l3 0 2 2 0 2-2 2-3 0-2-2 0-2zM966 563l2 0 4 3 2 4-1 2-8 2-3 6-14 0-1-4 0-2 1-1 10 0zM800 571l2 1-2 1-1-1z"/><path fill="#ffca00" d="M695 389l9 2 12-1 4 2 3 4 1 2-4 1-2 3-1 6 7 12 1 6 5 4 4 2 1 16 1 2 1 6 6 14 1 10-2 7-8 3-6 5-16 0-5 3 0 4 3 4 2 2 4-1 4-5 2-1 2 5-4 4 0 2 1 4 1 1 2-1 4-6 2 1 6 5 1 4-5 6-4 1-4-1-1 2-1 6-5 6-2 4-4 4-4 14 0 2 5 4 0 2-4 1-4-2-2 1-4 6-5 4-549 0 0-124 10-3 16-2 14 4 6 4 16 4 10 5 5 1 25 3 8 0 8 1 10 0 12-1 8-3 8 0 18 5 10-4 6-1 10 1 14-4 6 1 2-1 9-14 5-11 4-5 4 0 8 1 6-2 9 1 9-2 4 2 2 9 2 1 6-1 4 1 2 2 2 6 2 3 6-1 6 4 4 1 10-2 8-6 2 0 3 9 8 10 2 10 1 2 4 3 2 0 6-2 8 2 12-2 12 3 8 3 4 1 4-2 2-8 7-6 2-10 7-3 8 1 6-2 10 1 4-3 4-7 4-11 6-6 6-8 4-2 4 2 4 8 2 1 6-2 6-3 2-4 3-6 0-8 3-4 4-2 19-2 3-4 2-6 6-2zM635 450l1 4 5-2 0-2-3-1-2-1zM684 458l-4 2-6 0-2 2-1 4 1 4 5 8 3 3 6-1 6 2 4 1 4-2 3-5-1-6-4-3-6-9-6-2zM620 482l0 2 0 1 4-1zM647 526l-2 4 3 8-2 6 1 2 1 1 2-1 3-6 6-2 1-2 0-2-2-4-4-5-4 0zM866 460l4 0 2 2 0 2-4 4-4 2-2-2 0-2zM992 508l2 0 3 14-3 4-2 0-5-4 0-2zM900 511l9 3 8 10-1 4-6 4-1 2-1 8 2 1 4-3 4 0 3 2 1 4 0 2-4 2-1 2 2 4-5 6 2 12-1 6-7 0-1-10-3-3-4-1-6 2-2 0 0-2 4-4 5-10-1-10-2-4-2-1-4 1-10 4-8-2-2 1-1 9-5 0-4 2-11 12-7-1-4-3 0-2 1-2 11-9 6-9 6-4 8 2 2-1 6-7 8-2 1-6 7-4zM998 537l8 2 0 6-4 3-4-1-1-3-1-4zM760 550l6 5 6 2 2 3 3 8-1 6-2 3-6 0-2 1-1 2-50 0 4-6 5-4 4 1 4 4 10-1 2-8 2-6 2-1 6-2zM722 557l2 0 3 1 0 2-1 2-2 1-2-1zM854 566l4 0 4 2 4 6 1 4-3 2-20 0-2-2-6-1 0-5 2-3 2 0 6 5 3 0z"/><path fill="#ffb500" d="M692 392l4-1 7 1 11-1 3 1 1 2-4 8-2 8-2 3-4-2 0 2 2 3 6 1 3 3 1 2-5 6 1 2 6 3 8 1 3 2 1 2-2 6 0 8 2 3 4 2 2 3 3 10 2 2-1 2-2 4-6 4-6 0-2-4-2-1-2 3 2 4-1 2-5 3-4 0-1-1 2-8-3-6 1-10-7-11-8-2-1-1-1-4-2-1-4 2-6-1-4 1-8 3-1 2-4 10-1 6 4 12 11 6 3 4 9 0 3 13 5 9 1 1 10 1 4 4 0 4-4 7-4 0-6-4-2 1-2 2-1 8-7 12 0 2 5 4 1 2-2 14-4 3-4 0-6-1-8 7-4 0-3-7-3-1-1 3 1 4 3 2-521 0 0-123 10-3 16-2 14 4 6 4 16 4 12 7 54 5 6-2 8 0 6-3 8-1 18 6 8-4 6-2 12 1 14-4 8 0 10-15 4-10 4-5 4-1 8 2 6-2 8 0 10-2 3 2 2 8 1 3 2 1 6-2 2 1 2 2 4 7 2 2 6 0 6 3 4 1 11-2 7-4 2 1 2 5 8 10 3 12 7 5 6-2 8 1 12-2 12 2 12 5 6-3 0-6 8-8 0-4 4-6 6-2 6 1 6-2 8 1 4-1 4-3 3-6 3-11 6-5 2 0-1 4 1 1 6 3 4 6 0 8 6 6 0 2-6 6-8-2-4 2-1 8-4 6-1 4 4 5 4 2 2-2 2-5 2-2 7 0 7 3 2-1 1-4-3-6 4-6 0-2-3-6 5 0 3-2-2-6 4-10-2-6 0-4 9-8 2-4 1-8-3-8 2-2 2-1 18-2 5-5 2-4 5-2zM577 512l-4 2-1 4 1 4 3 4 2 0 4-5 6-3 1-2 0-2-3-2zM653 514l0 4-3 3-6 0-4-6-3 5 0 2 3 4 2 10-3 14 3 3 6 0 4-2 4-6 8-5 1-4-3-10-5-8-1-4-2-1zM593 522l-1 2 0 2 2 3 2 1 2-2 0-4-2-1zM630 534l2 1 1-1-1-1zM611 562l-4 6 2 6 0 4 3 2 6-1 3-1 1-4 1-8-3-3-4-3-4 1zM620 429l2 1 2 4-2 2-6 2 0-4zM764 563l2 2 1 3-1 2-2 1-3-3 1-4zM756 578l3 0 2 2-9 0z"/><path fill="#ff9f00" d="M696 392l6 2 6 0-6 4-3 6-2 8 1 2 7 6 3 12 8 3 5 3 5 10 0 8-4 3-4 0-10-10-6-3-6-6-6-1-4-5-2 0-3 2-1 4-1 2-11 1-7 7-1 2 2 8-2 4-2 1-2 0-6-5-1-2 5-8-2-8 4-4 12-2 2-4 2-6-4-6-6-3-2-3-1-4 17-2 8-7 5 1 3-8zM415 436l3-1 4 1 2 8 2 4 2 1 8-1 1 2 3 6 4 4 6-1 7 3 3 0 18-3 10 11 3 12 1 4 8 4 4-1 8 1 14-3 6 2 6 0 8 4 6 0 2 0 4-3 0-7 8-5 4-1 2 1 2 6 8 5 2-1-2-8 2-12 2-2 2 1 2 1 0 4 5 8 6 6-3 5 1 3 6 8 3 7 8 5 2 0 2-1 5 1 4-6 3-1 1 1 0 6-3 4-6 12 0 12-8 6-6-1-5 3-1 4 0 10-2 2-6 5-2 3 0 4 2 2-39 0-1-10-1-2-3-1-6 0-2-1-2 3 0 5 6 6-404 0 0-122 10-3 14-3 16 5 6 4 14 3 14 8 54 6 8-2 6 1 8-5 6 0 16 5 4 1 6-4 7-2 11 1 14-5 8 0 4-4 11-22 4-5 3 0 8 2 6-3 8 1zM474 482l-2 2 1 2 3 0 1-2 0-2zM574 508l-6 3-2 5 1 8 5 8 2 2 4 1 8-6 4 3 4 8 10-3 2-3 0-6-3-10 1-6 0-2-4-1-6 0-8-3zM382 510l-6 2-2 4 1 4 3 8 4-3 3-7 5-6 1-2-3-1zM530 512l-2 4 0 2 2 1 5-5-1-2zM436 516l-2 2-5 8 0 4 1 5 2 1 7-4 5-4 1-12-3-1zM548 516l-2 6 2 3 2 0 3-1 1-4-2-3zM525 524l0 2 1 3 4 2 3-1 0-4-3-3-2-1zM458 530l-10 4 0 1 4 0 8 11 4 0 5-6 0-8-1-2-4-1zM555 530l-3 5-6 0 0 5 2 3 10-4 2-2 1-5-3-4-2 0zM522 548l-3 8 0 2 1 1 2-1 5-6-3-4zM536 548l-4 2-1 2 3 5 10 9 3-6-1-5-4-5zM614 457l2 0 6 7-1 2-3 0-8-3-1 5 0 10-3 1-2-1-9-8-1-2 1-2 9-5 6 0zM646 480l2 1 4 6 2 0 4-2 2 1 4 4 0 8-6 3-5-1-5 4-4-2-2-2 2-8-1-8 1-3zM668 488l4-1 2 1 2 10-6 2-3-2 0-8zM668 505l12 2 11 15 0 14-6 14 2 10-3 4-2 1-2 0-3-5-7-5-3-5 0-4 2-8-1-6 0-8-2-4-4-4 0-2 1-4zM628 556l3 0 0 2-2 6 1 2 4 1 14-3 6 3 2 3 2 10-32 0 2-14-3-6 0-2z"/><path fill="#ff8a00" d="M684 404l3 4 3 3 2 7-8 9-6 1-2-6-8-10 3-2 7-1zM700 432l0 4-1-2zM416 436l5 0 1 4 0 4-8 0-5 8-1 4 1 2 5 4 3 6 2 2 3 1 9-3 2-2 2-4 3-2 6 2 8-1 4 2 4 0 16-3 4 2 7 8 2 6-1 7-4 0-2-5-6-1-6 3-4 6 2 5 2 1 12 0 2 11 3-1 1-4 2-4 6-4 4 2 21-2-1 4-5 4 0 2 1 5 6 4-3 17 5 10-2 2-6 0-6-15-2-2-3 1-3 4 0 4 2 5 4 2 6 1 2 7 0 5-4 8 2 10 4 0 3 4 0 4-4 4-23 0-8-2-2-2-2-5-4-2-10 4-1 7-98 0 0-16 4-8-2-6 2-8 7-8 10-8 8-3 8 1 4-8-1-2-5-1-2-2-2-5-3-8-5-3-10 1-1 6-2 2-11 5-8-2-2 1-3 4 1 4 8 10 0 2-6 8 0 6 0 2 4-1 2 1 2 8-2 8 0 8-4 8-4 3-6 1-206 0 0-120 10-4 14-3 8 4 8 1 6 4 14 3 12 7 23 4 3 6 2 2 6-3 8 1 4-4 8 1 10-1 8 0 6-3 4-2 4 1 18 7 6-4 8-3 10 0 14-5 8 0 5-5 9-20 5-6 3-1 8 3 6-3 8 1zM292 498l-1 4 1 2 2 1 3-1 2-2-1-4-1-2-3 0zM436 502l-5 2-1 6-3 10-7 1 0 4 4 5-1 4 1 2 3 4 3 2 8-5 2 0 5 5 1 2-2 7 8 0 14 4 6-8 9-5 1-2 0-2-12-12-9-2-5-3-4 1 0-2 0-4 4 0 2-2 0-4-2-2-6-3zM468 510l2 4 2 0 4-2 1-2-7-2zM418 532l0 3 3-1-3-4zM427 548l-1 2 2 3 4 0 3-1 0-2-3-3-4-1zM300 556l0 10-6 3 0 2 2 1 6-5 8 1 6-2 1-4-5-6-8-1zM416 560l-1 2 1 2 2 1 2-1 0-2-1-2zM456 562l-1 4 3 2 2 0 2-2-3-4-1-1zM494 564l-1 2 0 2 9 7 2 1 3-2 1-4-6-6-4-2zM408 576l0 3 2 1 2-2 0-2-2-2zM714 440l7 8-1 4-2 1-2-2-3-5-1-4zM430 450l5 0-1 1-2 1zM566 487l2 0 3 1 3 6 6 6 0 2-6 2-4 0-2-1 0-3 1-6-3-6zM534 492l4-1 4 1-2 4-4 2-3-2 0-2zM552 498l4-1 2 1 2 2-1 6-3 3-4-1-5-4 0-2zM594 499l3 3-1 2-2 0-1-2zM678 515l3 3-3 4-1-4zM676 525l2-1 6 5 3 5-6 14-5 3-4-2-1-5 4-8-1-8zM616 535l2 3-2 3-2 0 0-3zM530 542l2 0 0 2-2 0zM566 544l6 1 14-2 10 6 2 3 0 10-6 5-4 8-2 1-10-1-6-6-8-2-2-3-4-6-1-4 1-3 6-5zM640 570l6-1 3 1 2 4-1 4-3 2-12 0-1-2 1-4 1-2z"/><path fill="#ff7500" d="M386 438l10 3 6-3 5 0 1 8-4 8-3 8-3 6 1 8 1 1 2 0 6-6 2 0 4 0 8 4 10-3 8 4 6-1 3 3 5 10 1 8-1 2-2 2-4 0-3-2-2-4-1-8-2-2-2 0-1 8-1 2-18 11-4 0-4-6-8-3-6-6-3-4-1-4-4-1-8 3-7 10-3 7-2 3-2 0-6-5-2 1-8 8-2 4 3 8-1 6 0 2 5 2-3 12 4 12-2 8 4 4 1 2-3 4-6-2-8 2-3-2-1-4-10 0-2-1-2-5-6-4-4-6-6 0-4-2-3-4-2-6-3-1-2 1 0 2 2 8-1 2-3 0-4-1-1 1 0 2 5 4 1 2-5 8 0 4 4 6 4 2 4-1 6-3 4 0 3 2-1 4-168 0 0-119 10-4 14-3 16 5 6 4 15 3 9 7 12 6 8 2 8 8 2 1 8-4 8 2 6-4 4-1 6-3 6 0 3 2-2 6 0 8 4 10 5 3 8 1 6-14 6-5 8-1 4-8 2-3 10-4 10 0 12-5 6 0 4-2 10-16 4-10zM300 514l-6 5 0 3 2 4 6 4 1 4 3 2 7-4 1-2-2-4-5-6-3-6-2-2-2 1zM414 438l4-2 3 2 0 2-7-1 0-1zM474 462l2 0 2 4-1 4-3 1-8-6-5-1 9 0zM459 464l1 2-2 2zM456 470l2-1 0 5-2-1zM296 476l4-1 12 4 6 5-4 4-2 1-6-3-10 0-2-2-1-2 1-4zM504 502l4-1 2 2 2 3 1 4-3 2-12 4-2 2-2 4 3 4 1 4-2 2-2 0-2-2-2-5-9-3-1-2 0-2 4-7 2-1 8 0 4-5zM394 530l4-2 6 3 5 1 0 2-3 2-1 4 0 4 3 8-1 4-3 2-4 0-3-1-9-8-6 6-2 1-2-3 0-3 4-12 2-2 7-3zM497 542l4 0 4 12-2 2-7-1-10 5-4 0-4-3-1-5 3-4zM578 549l8 0 6 3 1 2-9 14-2 0-7-4-4-6-1-4zM436 558l4-1 10 0 1 9 7 8 0 2-2 4-31 0-4-6 0-2 3-4 6-2 2-6zM388 567l2 0 4 1 0 3-4 2-2-1-1-2zM376 573l3 1 0 2-3 1-2-1zM324 575l3 1 1 4-5 0z"/><path fill="#ff6000" d="M384 440l6 0 9 8 1 2-2 4-16 20-12 6-6-2-2-1-2-5 6-1 6-5 3-6 5-4 3-6-1-4 0-4zM164 456l4 0 16 4 6 4 14 3 7 5 5 6 12 6 6 1 3 3 3 7 2 1 10-4 3 2 0 4 2 2 1 0 5 0 3-3 4-2 4 2 2 5-2 8 16 16 2 4-2 3-9 1 1 4 2 4-3 8 2 8-1 3-4 5 0 2 3 4 7 5 3 3-147 0 0-119zM412 474l10 5 6 0 2 1 2 4 1 4-2 4-13 7-2 0-4-4-7-3-5-6 0-2 2-2 6-6zM298 478l4 0 1 2-3 1-2-1zM342 480l2-1 5 1 2 2 2 4-5 6-2 1-6 0-2 1-1 4 1 16 6 4 1 2-1 3-2 2-10 4-14-3-3-4-3-10-4-4 1-6 1-3 4-2 6 2 4-5 4-9 2-1 6 1zM328 535l10 2 3 3 0 2-6 12-3 1-10-2-2-3 3-12zM396 535l2 0 2 3 1 12-3 2-3-4-1-4 0-4zM440 567l8 4 3 3-13 4-5 0-3-2z"/><path fill="#ff4a00" d="M160 458l8-1 14 4 8 4 14 3 5 4 3 6 2 2 6 2 6 4 8 4 6 11 10 6 15 1 5 8 5 4 1 2-4 8 4 10-2 1-10 2-4 5-4-4-3 0-1 2 0 2 2 4 4 4 6 1 10-3 2 2-2 8 0 7 11 9-141 0 0-118zM258 512l0 3 3-1-1-3-2 0zM412 478l2 0 6 5 6 1 2 4-1 2-3 1-6 0-6-1-1-2-1-4 1-4zM330 495l2 1 0 6-1 4-3 2-2-2 1-4zM322 516l2-1 3 3 0 2-3 2-2 0-1-2z"/><path fill="#ff3500" d="M166 458l16 4 8 4 13 2 2 2 4 8 3 4 8 3 5 5 7 2 6 12 9 8 10 16-4 8-9 10 0 2 8 12 2 4 2 2 4 1 6-3 2 0 2 2 0 9 3 5-129 0 0-117 10-3z"/><path fill="#ff2000" d="M160 460l6-1 14 3 8 5 8 1 4 2 3 2 5 9 4 4 10 8 9 3 5 12 8 6 4 6 2 4-2 4-3 2 1 6-1 2-9 4-1 2 0 4 4 6 2 8 9 7 8 3 3 4 0 4-117 0 0-116z"/><path fill="#ff0b00" d="M154 462l12-1 12 2 3 1 5 5 14 5 10 14 14 10 10 13 6 5 2 6-4 6 1 8-5 4-2 4 3 14-1 6-3 4 1 1 6-1 5 2 0 2-2 6 1 2-98 0 0-114zM182 532l0 3 4 5 0 8 1 2 3 1 3-9-2-8-5-3-2-1zM250 577l4 0 2 3-10 0z"/><path fill="#f40000" d="M162 464l6-1 9 1 7 8 14 4 6 7 7 13-10 18-5 5-4-7-2-1-5 1-5 3-4 9 2 12 3 8-2 4-4 4 0 2 1 2 2 2 6-1 6 4 6-1 2-2 1-8 5-4 2-2 0-7 4-2 10 2 2-1 3-4-2-6 1-4 6-5 2 1 3 2-2 6 2 8-5 8 1 16-1 2-4 4-1 4 1 4 8 4 2 4-16 0 1-4-1-2-4-1-4 1-1 2 1 4-68 0 0-103 4-1 8-5 3-5zM212 497l2 0 4 2 2 3-1 2-3 2-2-1-2-3zM182 520l5 2 0 2-3 0-2-1 0-1z"/><path fill="#df0000" d="M162 473l4-1 2 2 2 5 2 0 4-1 6 1 6-2 8 1 6 6 3 6 0 4-5 7-6 0-6 5-12 3-10-5 0 6 2 4 3 2 0 2-1 4 4 8-1 8 3 6 0 2-6 4-14 0-3 2 2 6-9 3 0 5 3 4 3 2 12-2 8 4 16 2 6 4-50 0 0-57 2 3 4 0 2-2 1-4-1-4-1-2-5-3-2-2 1-3 3-6-4-5 0-6 8-6 6-7zM162 496l-1 2 0 2 3 5 2-1-1-6-1-2zM212 546l2-1 8 0 2 0 2 3-6 19-2 2-4-1-6-8 0-6zM168 564l2 0 1 2-3 2-2-2z"/><path fill="#ca0000" d="M160 480l2-2 3 2-2 2-2 0zM192 482l2 0 4 2 3 4-1 4-10 5-6 6-4 1-4-1-2-3 4-10 2-1 8-1zM152 490l2 0 0 2-2 1-2-1zM154 504l2 1 1 3-3 1-2-1 0-2zM145 534l9 7 2 3-3 2-9 3zM214 557l2 1 0 2-2-1zM163 580l3-2 7 2z"/><path d="M145.5 580.0L145.5 467.5L146.5 467.5L149.7 467.6L152.9 467.8L156.1 468.3L159.3 468.9L162.6 469.7L165.8 470.6L169.0 471.7L172.2 473.0L175.4 474.4L178.6 475.9L181.8 477.6L185.0 479.4L188.2 481.3L191.4 483.4L194.7 485.5L197.9 487.8L201.1 490.1L204.3 492.5L207.5 495.0L210.7 497.5L213.9 500.1L217.1 502.7L220.3 505.4L223.5 508.0L226.8 510.7L230.0 513.4L233.2 516.1L236.4 518.7L239.6 521.4L242.8 524.0L246.0 526.5L249.2 529.1L252.4 531.6L255.6 534.0L258.9 536.4L262.1 538.7L265.3 540.9L268.5 543.1L271.7 545.2L274.9 547.2L278.1 549.2L281.3 551.1L284.5 552.9L287.7 554.6L291.0 556.2L294.2 557.8L297.4 559.3L300.6 560.7L303.8 562.1L307.0 563.3L310.2 564.5L313.4 565.6L316.6 566.7L319.8 567.7L323.1 568.6L326.3 569.5L329.5 570.3L332.7 571.0L335.9 571.7L339.1 572.4L342.3 573.0L345.5 573.5L348.7 574.0L351.9 574.5L355.2 574.9L358.4 575.3L361.6 575.7L364.8 576.0L368.0 576.3L371.2 576.6L374.4 576.9L377.6 577.1L380.8 577.3L384.0 577.5L387.3 577.6L390.5 577.8L393.7 577.9L396.9 578.1L400.1 578.2L403.3 578.3L406.5 578.4L409.7 578.4L412.9 578.5L416.1 578.6L419.4 578.6L422.6 578.7L425.8 578.7L429.0 578.7L432.2 578.8L435.4 578.8L438.6 578.8L441.8 578.9L445.0 578.9L448.2 578.9L451.5 578.9L454.7 578.9L457.9 578.9L461.1 578.9L464.3 578.9L467.5 579.0L470.7 579.0L473.9 579.0L477.1 579.0L480.3 579.0L483.6 579.0L486.8 579.0L490.0 579.0L493.2 579.0L496.4 579.0L499.6 579.0L502.8 579.0L506.0 579.0L509.2 579.0L512.4 579.0L515.7 579.0L518.9 579.0L522.1 579.0L525.3 579.0L528.5 579.0L528.5 580.0Z" fill="#fff"/><path d="M144 451l6-2 10 1 12-1 20 7 10 0 8 0 16 5 26 1 8 3 10-1 10 3 4-1 8-4 8-2 12 5 10-1 22 2 16-3 4 0 2-1 8-11 5-11 5-6 2-1 10 1 6-1 8 1 10-2 6 2 2 7 14 3 8 4 3 2 3 7 2 1 8 0 4-2 4-5 4-2 2 1 3 4 3 8 7 10 3 8 4 3 6-1 8 2 6-2 6 0 14 2 6 2 3-6 8-4 1-2 0-10 2-3 4-2 16 1 8-3 6-5 8-4 2-6 10-11 6-10 4-5 8-2 2 2 2-1 10-1 2-4 6-3 20-4 2-2 4-7 8-4 4-5 12 4 12-2 8 3 4 4 2 10 5 14 2 12 1 20 6 20 6 6 2 5 8 7 2 1 4 0 8-4 10 2 7 7 3-2 12 0 8-7 7-3 1-2 0-6 1-2 9-9 4-2 8-1 4-6 2-2 8 1 10-8 4 3 6 6 14 4 6 3 6 0 12 12 4 0 4-1 4 0 6 5 2 1 16-6 12 6 6 4 3 0 3-8 4-3 10 5 10-1 7-1M782 501l0 5 2 1 2-1 1-2-3-2M144 455l8-3 18-2 14 5 8 4 12 2 16 7 24 3 10-1 8 2 8-1 12 0 8-4 10 0 14 5 4 0 8-4 8 0 10 1 14-4 6 1 4-3 7-11 5-12 4-4 4-1 8 1 6-2 8 1 10-2 4 3 3 8 1 1 6-1 5 2 3 2 1 4 1 3 4-1 3 0 6 6 3 1 8-2 6-3 4-4 2 0 4 10 7 10 3 10 4 4 2 0 6-2 8 3 12-3 6 2 8 1 6 3 4 1 3-1 1-2 0-4 0-2 6-4 2-2 1-10 1-2 8-1 8 0 6-2 8 1 2 0 2-2 3-6 3-3 3-9 7-7 4-6 4-3 2-1 4 2 3-1 1-2 2 0 1 6 1 1 2 0 2-3-4-6-2 1 0-3 2 0 2-2 8-1 10-9 20-3 3-3 3-7 6-2 6-4 10 1 12-1 8 5 2 3 2 5 3 10-1 3-2 1 0 2 3 8 4 2 2 24 3 10 3 8 2 10-3 14-7 8-1 2 1 4 4 6 3 7 4 3 0 2-6 8-1 4-9 2-1 6 1 6 5 12 1 1 2 0 2-1 3-6 7-6-1-8 1-2 6-7 2 1 6 5 3 9 1 1 2 1 4-2 2-4-1-6 2-2 2 0 3 4 2 1 8-5 2 0 6 2 2 3 0 6-5 9-11 6-4 4-1 4 2 6M1006 495l-1-3 0-2 1-2M1006 552l-4 1-6-1-3-2-3-4-2-2-2 2-1 6-3 1-8 0-4 2-1-1 3-6-3-8 0-8 0-2 9-12 1-4 0-6 1-2 6-2 3-2 1-4 0-6 2-2 2 0 2 1 2 4 6 5 0 2-3 6 1 6 2 8-2 6 0 2 4-1M814 578l0-1 2-1 12 1 4-1 4-12-2-6 0-2 1-2 6-4 3-7 5-3 3-10 2-2 1 2 3 2 12-5 6-5 4-5 8-5-1-4-4-6 1-2 4-3 6-1 2-3 12 2 10-6 3 1 1 2-4 8 1 2 4 4 1 2 0 2-4 6 0 2 1 2 5 4 1 2-1 2-5 6 0 2 5 6 2 0 4-2 2 1 1 3-2 8 3 4-1 4-1 1-6 2-8 5 0 2 3 6 0 2M949 578l-1-2 2-2 8 1 2 1 0 2M864 457l2-1 2 1 12 5 7 8-1 3-1 3-1 6-2 2-6 4 0 6-2 2-4-4-1-2 1-4-1-2-3-4-1-2 1-4-10-4 0-2 4-4 4-6M688 462l-2 2 0 2 4 2 2-2 0-2-2-2-2 0M840 476l3 2-5 2 0 2 0 4-2 2-8 3-8 6-4 0-2-1 0-2 3-4 7-4 8-8 8-2M948 492l3 0 2 2 2 4 0 4 1 3 2 1 8-2 3 2 1 2-4 4-8 1-5 3-4 4-5 0-2 0-2-2 2-8 0-4-1-2-6 0-1-2 2-3 4-2 3-3 4-2M878 505l2 1 0 6-4 2-2-1-1-1 1-2 3-4M852 523l2-1 3 2-3 4-2-4M714 553l-2 5 0 2 2 2 2 0 1-2 1-4-2-3M968 565l2 1 2 2 0 2-2 1-6 0 0-1 3-4M812 568l4-1 3 1 0 2-5 3-2-1 0-2 0-2M872 570l-1 2 3 2 3-2-3-2M144 458l10-3 16-3 6 3 8 2 6 3 16 4 8 6 4 1 28 3 10 1 16 2 8-2 6 1 8-4 6-1 18 6 14-6 12 1 14-4 8-1 4-3 11-22 3-5 4-1 8 3 6-3 8 1 8-3 4 2 2 8 2 4 2 0 6-1 2 1 5 8 3 3 6 0 6 3 4 0 18-4 2 1 8 11 4 15 8 5 4-2 8 1 14-2 6 2 6 0 8 4 4 0 4-1 2-1 2-9 8-6 12-6 3-4 3-2 12 1 8-5 2-4 3 0 2-2 0-4 3-2 2 0 3 2 2 8 5 8-2 2-12 1 0 1-1 10-5 4-4 8 0 3 6 4 3 7 1 2 4 2 10-3 4-3 4-5 6-3 2-4-1-10 5-9 7-1 0-2 0-4-7-6 0-2 4-8-1-8 2-4 3-2 12-4 2-3 1-3-1-2-2-2-4 0-2-3-3-5 0-4 19-2 5-4 3-5 4-1 6-6 20 0-4 8-6 1-3 3-1 4 0 4 9 10 1 2-1 4 1 3 12 5 3 2 2 8 1 9 3 3 3 2 2 4-4 8-4 0-3-4-1-5-8-2-8-10-7-3-4-6-3-1-10 1-8 3-7 1-5 4 0 2 1 6-3 12 0 2 3 4 0 6 1 2 10 2 1 2 1 5 2 2 4 2 4-1 2 0 2 6-1 2-5 3 0 3 4 6 7 4 0 2-3 4-2 12-5 10 0 4 4 6 0 6-1 3-14 2-4 4-2 0-6-7-2 0-2 1-2 3 0 4 1 4M553 578l0-6-1-1-2 0-1 1-1 2 2 4M624 578l2-10-5-12 1-2 4-1 6-3 2 2 3 4 0 2-3 4 2 2 6-2 2-3 2-2 4 1 4 4 6-4-3-6 1-4 6-3 2-3 1-4-1-6 0-8-6-7-2-10-4 0-6 3-6-6-4 0-1 2-2 10-9 14 0 4 2 9-6 3-4 6-8-3-2 1-2 2 1 8-1 4-4 5-6 5 0 2 1 2M596 476l0 2 2 2 2 0 1-2-3-2M576 478l-1 2 1 2 2 1 1-3-1-3M624 494l3 0 0 2-3 0 0-2M572 510l-2 2-1 2 0 6 1 4 4 7 2 1 2 0 6-6 2-1 8 9 4 1 4-1 1-2-1-6-3-8 0-4-1-2-6-1-6-3-12 1M378 514l-1 2 0 2 1 3 2 0 5-7-1-1-4 0M706 517l4 0 3 1-1 4-2 2-4-2-1-2 0-2M436 522l-4 3-1 3 1 4 6-2 2-2 0-3-2-5M462 531l-3 3-1 2 2 4 2 3 2-1 1-2 1-6-2-3M536 551l-1 1 1 2 3 0 0-2-1-1M662 557l-1 1 5 5 4 0 2-1-3-4-5-2M144 461l10-4 14-3 9 4 7 1 6 4 15 3 9 7 12 6 8 2 8 8 2 1 8-4 8 2 6-4 4-1 6-3 6 0 3 2-2 6 0 8 4 10 1 2 4 1 8 1 5-12 1-2 6-5 8-1 4-8 2-3 10-4 10 0 12-5 6 0 4-2 10-16 4-10 2-3 4-1 8 3 6-3 4 0 2 8-4 8-3 8-3 6 1 8 1 1 2 0 6-6 2 0 4 0 8 4 8-2 4-1 6 4 4-1 2 0 3 3 4 8 2 10-3 4-4 0-3-2-2-4-1-8-2-2-2 0-1 8-1 2-11 6-5 3-4 2-2-1-5-6-7-2-8-8-2-6-4-1-8 3-7 10-3 7-2 3-2 0-6-5-2 1-8 8-2 4 3 8-1 6 0 2 5 2-3 12 4 12-2 8 4 4 1 2-3 4-6-2-4 2-4 0-3-2-1-4-10 0-2-1-2-5-6-4-4-6-6 0-4-2-3-4-2-6-3-1-2 1 0 2 2 8-1 2-3 0-4-1-1 1 0 2 3 2M374 576l2-3 3 1 0 2M424 578l-3-4 0-2 3-4 6-2 2-6 6-3 10-1 3 2 0 8 7 8 0 2-1 2M414 438l4-2 3 2 0 2-7-1 0-1M474 462l2 0 2 4-1 4-3 1-2-1-4-4-2-1-4 0-1-1 9 0 4-2M459 464l1 2-2 2 0-4M456 470l2-1 0 5-2-1 0-3M296 476l4-1 12 4 5 3 1 2-4 4-2 1-6-3-10 0-2-2-1-2 1-4 2-2M504 502l4-1 2 2 2 3 1 4-3 2-12 4-2 2-2 4 3 4 1 4-2 2-2 0-2-2-2-5-9-3-1-2 0-2 2-4 2-3 2-1 8 0 4-5 6-3M300 513l-1 3-5 3 0 3 2 4 6 4 1 4 3 2 7-4 1-2-2-4-5-6-2-6-3-2M394 530l4-2 2 1 4 2 5 1 0 2-3 2-1 4 0 4 3 6 0 2-1 4-3 2-4 0-3-1-9-8-2 1-4 5-2 1-2-3 0-3 4-12 2-2 7-3 3-3M497 542l4 0 1 6 3 6-2 2-7-1-10 5-4 0-4-3-1-3 0-2 3-4 15-6M578 549l8 0 6 3 1 2-4 6-3 6-2 2-2 0-6-3-4-5-2-6 7-4M388 567l2 0 4 1 1 2-1 1-2 1-4 0-1-2 0-2M144 463l10-4 12-2 16 4 8 4 14 3 3 2 5 10 8 3 6 5 6 2 2 2 4 9 12 9 6 10 2 1 6-4 2 0 5 3 1 2 0 2-3 6 2 8-4 2M144 466l10-4 12-2 16 4 5 4 13 5 10 14 18 13 6 10 7 6 3 6 0 1" fill="none" stroke="#000" stroke-width="1.1" stroke-linejoin="round"/><path d="M213.3 499.7L216.9 502.6L220.5 505.5L224.1 508.5L227.6 511.4L231.2 514.4L234.8 517.4L238.3 520.3L241.9 523.2L245.5 526.1L249.0 528.9L252.6 531.7L256.2 534.4L259.7 537.0L263.3 539.6L266.9 542.0L270.5 544.4L274.0 546.7L277.6 548.9L281.2 551.0L284.7 553.0L288.3 554.9L291.9 556.7L295.4 558.4L299.0 560.0L302.6 561.6L306.1 563.0L309.7 564.3L313.3 565.6L316.9 566.8L320.4 567.9L324.0 568.9L327.6 569.8L331.1 570.7L334.7 571.5L338.3 572.2L341.8 572.9L345.4 573.5L349.0 574.1L352.5 574.6L356.1 575.1L359.7 575.5L363.3 575.9L366.8 576.2L370.4 576.5L374.0 576.8L377.5 577.1L381.1 577.3L384.7 577.5L388.2 577.7L391.8 577.9L395.4 578.0L398.9 578.1L402.5 578.2L406.1 578.3L409.7 578.4L413.2 578.5L416.8 578.6L420.4 578.6L423.9 578.7L427.5 578.7L431.1 578.8L434.6 578.8L438.2 578.8L441.8 578.9L445.3 578.9L448.9 578.9L452.5 578.9L456.1 578.9L459.6 578.9L463.2 578.9L466.8 579.0L470.3 579.0L473.9 579.0L477.5 579.0L481.0 579.0L484.6 579.0L488.2 579.0L491.7 579.0L495.3 579.0L498.9 579.0L502.5 579.0L506.0 579.0L509.6 579.0L513.2 579.0L516.7 579.0L520.3 579.0L523.9 579.0L527.4 579.0L531.0 579.0L534.6 579.0L538.1 579.0L541.7 579.0L545.3 579.0L548.9 579.0L552.4 579.0L556.0 579.0L559.6 579.0L563.1 579.0L566.7 579.0" fill="none" stroke="#000" stroke-width="1.2"/></g><path d="M146.5 468.5V579.0H356.6" fill="none" stroke="#262626" stroke-width="1.3"/><path d="M146.5 579.0V565.6" stroke="#262626" stroke-width="1.3"/><path d="M337.5 579.0V565.6" stroke="#262626" stroke-width="1.3"/><path d="M146.5 579.0H1006.0" stroke="#111" stroke-width="1.3"/><path d="M146.0 356.0H1006.5" stroke="#1a1a1a" stroke-width="1.6"/><g><path d="M148.3 665.5V849.0H1006.0" fill="none" stroke="#262626" stroke-width="1.3"/></g><g clip-path="url(#clipC)"><rect x="146.3" y="663.5" width="861.7" height="187.5" fill="#4432d2"/><path fill="#3966f6" d="M148 664l859 0 0 42-1 2 1 1 0 9 0-1-6-5-4 0 0 1 3 1 1 2 4 2 2 2 0 7-8 0-3 1-8 0-1-1 1-1 2 0-5-3-3 1 3 3 1 1-1 1-4 0 1 2 6 0 2-2 4 0 1-1 4 2-6 4-6 0 6 0 1 2-1 1-9 0-2 2-6 0-2-2 2-1 5 0 0-2-4 0-1-1-10 0-3-4-6-2 1-1-2-1-3-2-2 0-3-2-3-2-8 0-3 1 8 1 1 1 5 0 1 1-2 1-6 0-1 1-4 0-3-1-1-1 1-2-3 1 1 1-1 1-4 0-1-1-3 0-5-3-16 0-2 3 0 3-5 3 1 1 2 0 1 0-1 2 1 1-1 1-6 0-1-1 4-1 0-2-1 0-5 0-2 2-1 2-5 0-5-6 0-2 2-3 8 0 1 3 9-3-5-3-4 0-8 3-2-4 0-1 2-1-1-3 1-1 7 0 1 1-2 4 3-1 6 0 2 1 2 0 5-1 9-1-4-1-4 2-2-1-1 0 1-1 3-1 0-2-1-3-3-1-3 2-7 0-5 2-10 0-3 4-2 3-4 2-2-1 0-1-2 0-6 0-1 1-4-1 1-2 10 0 1 0-2-1 3-4-1-2-7 0-7 2 1 2-2 1-7 0-1-1 2-1 1-2-8 1-2 0-1 4 4 3-1 1-4 0-1-1-7 0 0 2 5 1 1 1 0 1-1 1-7 0-5-3-7 1-1-1 2-1 5-3-5-1-2-3-10 0-2-1 4-2 3 0 3-2-1-2 2-1 15 1-7-4-8-2 0 2-1 1-4 0-2-1-5 2-7 0-2 3-4 0 14 0 2 1-1 1-6 0-3 1-9 1-3 2-3 0-4-2 3-6 9-2 0-1-6-3-8 6-10 1 1 1-1 1-6 2-6-1-2-2-6 0-1-1-3-1-1 0 1-2 4-1-1-1-21 0-5 2 3 2 12 0 3 2 3 0 1 1-1 3 5-1 7 0 8 1 1 2-2 1-4-1-15 0-4 1-5-2-12 0 1 4 2 1 0 1-3 3-3 0-2-2 2-2-2 0-2-1 1-1-4-3 1-1 0-4 4-2 2 0-1-2-11-3-3 2-5-1-6 5-8 3 0 2 3 1 0 1-4 3-2-2-10 0-2 2 0 1 5 1 1 1-3 3-3 0 13 1 5 3 2 2-1 1-12 3-2-1-6-1-1-2-3-1 1-1-2-1-2-2-6 0 0 2-1 0-2 0-2 1 3 2-1 1-7 0-3 2 3 5-1 2 4 0 4-1 4 1-2 1-5 0-1 3 4 0 2 1-5 1-6-2-2 0-1 1 2 0 2 3-3 3-4 1-5-1-1-2 0-2-4-1-7-2 6-1-2-2 5-1-26-1-4 1-6 5 9 0 0-1-1-1 1-1 6 0 1 1 4 0 2 4-2 2 1 1 0 1-1 2-4-1-3-2 3-1-6 0-3 1 2 1 0 2-1 1-3 0-3-4 0-2-3-2-8 5-10 3 0 1 4 0 1 2-3 2-12 1-2-1 1-1 4 0-10-1-4 1 1 0 5 3-1 3-1 0-8-2-2-2 0-1 1-1 0-3-5 0-2 2 0 1-1 1 0 2 4 1 1 1-4 2 0 2 3 0 1 1-6 3-4-2 2-2-5-6-4-3-21-3-9-7-9-2-3-2-2 1-3 0-2-1 2-2-7 3-5 0-6-2-5-1-1-1 1-1-4-1-15 0-3 1-2 3-2 0-3 1-11-2-6 0 0 2-3 2-2 1-4 2 5 3 1-2 10 0 1-1 3-2 4 0 1 1-2 2-5 0 0 2-3 1-1 1-8 0-5 3-9 1 4 1-1 1-6 0-3 1-6 0-2-3 1-1 10 0 1-3 6-1-3-1-3-3-10-2-1 1 2 1 5 0 2 1-2 1-6 0-6 3-7-3-6 0-2 2 5 0 1 1-2 2-4 0-1 2-2-1-2-3-13-1-1-2-2 0-2 2-3 0 3 0 1 1-1 1-9 2 0 1-2 2-3 0-6 2-1-1 3-2 6-2-1-2 1-1-1-1 1-2-2-1-4 0-3-3-4 0-4 2 6 0 1 1-2 1 4 1 3 2-3 1-11 0 0 2-2 2-8 2-7 0-3 2-2 4 0 3 5 1-4 2-1 2 9 3-5 2 4 1-1 1-5 1-1 1-6 0-3-1 5-3-7 0-1-1 1-1 5 0 0-1-9-12-1-4-5-2 0-1-4 1 0 2-1 2-8 2 3 0 1 2-3 1 0 2-1 1-5-2 3-2 1 0 0-1-10 1-9-6-1-1 1-1-11-2-13 2-17-1-1 0 2 1 6 0-2 1-8 1-20 8-11 2 0-106zM730 694l-4 3 1 1-1 1 9 0 2 0 9 0-3-1-10 0-2-1 5-1 0-2zM752 699l5 0 0-1zM762 699l6 0-5-1zM748 700l0 2 3 0 1 0 0-2 0-1-4 1zM748 704l-4 2 11 0 1-2zM818 709l-1 1 1 5 4-1 5-2 6 0-8-4zM961 719l-1 1 5 0 0-2zM969 722l5 2 6 0 0-1-4 0-1-1zM973 728l-1 1-3 0 6 0 0-1zM619 730l-3 3 6 0 0-1 0-2zM502 740l5 5 3 0 1 1 3 0-12-7zM514 747l5 0-4-1zM296 750l-1 2 2 2 3-2-3-2zM690 705l5 0 4 2-3 5-3-1-1-1-4 0-3-3zM691 712l3 1-3 1-1-1zM757 713l4 0 2 1-2 1-4 0-1-1zM772 715l2 1-1 2-2 0-2-1zM718 717l2-1 5 1 1 1 7 0 1 1-2 1-5 0-3 3 0 1-1 1-2 1-1 1-7 0-2-3 0-1 2-2 5-1 1-1-4-1zM685 717l5 0 1 1 0 2-4 4-4 1-6-1-2-1 0-1 1-1 4 0zM743 717l9 0 2 1-4 1-2 1-5 0-1-1zM781 718l16 0 3 1 6 0 1 1-1 2-5 0-3-2-10 0-5 3-10 0-2-1 9-3zM701 722l4 0 1 2 2 2-2 1-7 0 6 3 1 0 1-3 1 1 3-1 5 1 3 4-2 1-11-1-2 2 4 2 7 0 3 2-2 1-3-1-7-1-3 3-3 0-4 3 10 0 2 2 6-1 2-1 10 0 7 4 2 2 0 3-3 1-2-3-5-2-3 0-1 1-2 0 1 3-2 1-2-1 1-3-5-2-4-1-18 1-2-1-5 0-1 2-3-1 1-1 3 0-1-1-1-2 1-1 3 0-4-2-5 0-1-1 2-2 8-4 6 0 3-1 2-4-1-1-1-1 2-2 2 0zM703 736l-1 1 3 0zM735 722l3 0 1 1-1 3 5 0 1 1-2 2-11 0-4-2 1-1 5 0 0-3zM757 724l10-1 1 1-3 3 1 0 3 0 4-3 12 0 1 2-9 3-6-1 0 2-3 3-3 1-4-2 2-2 0-1-7-1-4-2zM852 725l5 1 2 2-1 1-5 0-1 1-1-1 1-1-1-2zM903 725l7 1 1 1-1 1-5 1-4-2zM928 726l25 0 2 1-2 2-7 0-1 1-5 1-5-2-4 0-3-1-1-1zM751 729l1-1 4 0 1 1-2 3-4-2zM786 728l5 0 2 2 0 2-5 1-3-4zM643 730l5-1 1 1-1 1-2 1-3-1zM833 729l4 0 2 1-3 3-3 0-1-3zM952 729l2 3-2 2-4 0-1-1 1-2 3 0zM851 731l1 1-1 2-4 0-1-1 1-1zM906 731l16 0 3 3-2 1-8 0-2-2-7 0-1-1zM775 732l6 0 3 2-1 1-3 0-8 0-1-1zM795 732l3 0 3 1 1 3-1 1-2 0-3 2-1 1 2 2 0 1-1 1-6 2 3 2-2 1-6-1-1-1 2-1 0-2-5 0-3-2 2-2-2 0-2-2 2-2 9 0 1-2 4 0zM788 738l-2 2 5 1 1-2 2 0-2-1zM646 733l5 0 2 1-1 1-5 0-2-1zM735 733l3 0 1 1-3 2-3-2zM1005 733l2 0 0 11-4 0-1-1 1-1-6 0-2-3 6-2 1-2zM663 734l3 0 1 2-1 1-3 0-1-1zM747 734l5 2 1 1-1 1-5 0-1-1zM811 735l11-1 2 2-1 1-3 0 2 1-1 0-5 1-5-2-1-1zM841 735l2 2-1 1-2 0-1-1zM885 735l5-1 1 2 7 0 2 1-2 1-5 0 3 1-4 3-5 0-1-2-6 0-3-1 0-1 1-1zM902 735l1 1-1 0-1 0zM956 734l2 0 2 2-2 1-2 0-1-1zM936 736l4 0 1 2-1 1-4 0-1-2zM848 737l4 0 1 1 3 0 1 2-2 3-2 0-6-5zM716 739l11 0 1 1-1 2-10 0-2-2zM982 740l3 0 3 3-3 2-5-1-1-1zM668 741l4 0 1 1 0 1 1 1-2 4-4 1-7 0-3 1-15 0-1-1 1-1 5 0 3-4 19-1-3-1zM810 741l6 0 1 1 4 0 1 1-2 1-5-1-5 1-2-1zM922 741l15 0 2 1-2 1-14 0-2 1-1-1zM970 741l5 0 1 1-1 1-4 0-2-1zM736 742l2 1-2 1-1-1zM895 742l5 0 1 2-1 1-3 0-4-2zM427 744l3 0 1 2-1 1-3 1 6 2 3 3 3 1-1 2 2 1-2 2-6-1-4-4 0-1-2-1-5 0-2 1 3 1-1 1-5-1-2-1 1-1 3-4 3 0 2-2 3 0zM475 745l2 1-4 2-1-1zM865 745l2-1 1 2-2 1-2-1zM881 744l11 0 2 2-2 1-10 1-2-2zM970 744l10 2 1 2-1 1-8 1-3-3zM993 744l8 1 1 1-2 2 1 0 2 2-2 2-10 0-1-2 0-1 1-1 2 0-3-1zM398 746l4 0 1 1-2 2-4 0-1-1zM847 746l9 1 5 4 9 0-2-2 3-1 9 0 3 2-2 3-6-1-5 2-7 0-2-1-8 0-2 1-4-2 1-1 5-1-2-1-5-1-1 0zM922 746l4 0 2 1-1 1-4 0-2-1zM951 746l5 0 1 3-1 1-4 0-5 3-11 1-1 1-10-1-2-1 8-3 1 1 5 0 3 0 1-1 5-1 3-1zM461 747l6 0 1 2-1 1-2 0 3 3-6 2-11 0-2-1 8-2 1-1 6 0-4-3zM675 749l2-1 1 3 4 0 5 3-1 1-6 1-2 2-2 0-4-2-1-2-4 0-1-1 4-1zM480 750l10 1 1 1-1 1-4 0-1-2-5 0-1-1zM766 750l7 1 2 3-2 2 0 1 8 1 1 1 8 0 1 1-4 3-1-1-9 0-1 0-1 1 5 0 3 3 3 0 1 2 4 0 3 2-4 3-5-3-10-1-3 0 4 3-3 1 5 1-3 1-2 0-1-1-10 0-2-2 1-1 5 0 3-2-1-1 2-1 4 0-2-1 0-2-9 0-1-1 1-1 8 0 0-2 2-1-7 0-1-2-5-3 3-3zM801 749l4 1-4 3-3 0-1-1zM608 751l8 0 1 3-1 1-6 0-3-3zM653 751l3 0 6 2-2 1-9 0 5 3 2 3-1 4-6 8 3 1-2 1-6 0-2-1-1-3 0-3-5 2-3-2-10 0-2-1 0-2-13 0-3-1 1-1 7 0 3-2 6-1-2-2 0-4 3-1 5 0 1 1 0 1 2 2 0 1-2 1 1 2 0 3 1 1 4 0 3-1-5-3-2-1 2-1 9 0 2-3 4-1zM826 752l1-1 5 0 4 2 6 0 1 1-1 1-5 0-6-2-3 0-2 1-3 0-1-1 1-1zM443 752l5 1-1 1-4 0-1-1zM993 752l8 0 2 1 0 1-2 1-9 1-2 2-3 0-2-1zM591 754l4-1 2 3 4 1-6 4-3 1 1 1-1 1 1 2-1 1-4 0-1-3-6 0-4-4 3-2 12 0 1-1-3-1zM807 753l4 0 4 4-2 1-5-1-2-3zM882 753l3 0 1 1-1 1-3 0-1-1zM968 755l10-1 2 2-2 1-5-1 1 2-1 1-5 0-2-1 4-1-3-1zM730 756l3 0 1 1-1 1-3 0-2-1zM857 756l11 0 1 1-4 2-9 0-1-1zM913 757l3 0 4 2-2 1-5 0-1-1zM483 758l13 2 4-1 2 1-2 2-4-1-4 1-9 0-2 1-5 0-1-1 2-2 5-1zM691 758l4 0 1 1-3 2-3 1-2-2zM703 758l4 0 1 1-3 2-3-2zM716 758l12 1 2 1-2 2 3 1 2 6 4 0 1 3-2 2-5 0-7-5 1-2-5 0-3-2-7 0-2-1 2-1 6 0 2 2 6-1-7-2-2-3zM931 758l2 1-2 1-1-1zM296 760l1-1 2 1-1 2 1 1-2 2-10-1-3 2 13 4 1 2-1 1-6 0-1-1 1-3-8 0 0-1 1-1-1-1-3-1-2-1 2-2 15 0zM360 760l3 0-3 1-2-1zM382 759l5 1 1 0-1 2-5 0-1-2zM417 761l3 0 1 1-4 5-5 0-4 2-3 0-2 1-7-1-1-1 1-1 9 0 1-1 3 0 2-3 4 0zM665 761l10 0 1 2 6 0 3 3-2 2 4 0 2 2-1 2-3 0-4 2-9 0-2-2 4-4-4-4-5-1-1-1zM817 761l6 0 3 2-1 1-4 0-4-2zM841 761l4 0 3 2-1 1-4 0-3-2zM960 762l2 0 1 1-1 3-2 1-2-1 0-2zM315 762l1 0 1 2-1 2-3 2 5 0 1 1 0 1-2 2-5 0-1 1-3-1-1-2 4-2-3-2 2-2 3 0zM437 762l4 2-1 1-3 0-2-1zM938 763l2-1 3 2-5 2-1 0-1-2zM386 764l2 2-1 1-2-1 0-2zM473 763l7 0 2 3-1 1-8-1-1 0zM755 763l1 0 2 3-1 1-5 0 6 2 1 0-1 1-8 0-3 2-3-2 2-2zM895 763l3 1 4 4-7 2 2 2-2 2-7 1-1 2-6 1-11-1-2 1-3 0-7-2 2-2 6 0 5-2 5-5 6 0 1 1 9 0 0-2zM975 763l3 0 1 1-1 1-5 1-3 1-3-1 1-1 5-1zM208 765l0 2-1 1-2-1zM330 765l2 0 3 1 1 1-2 1 2 1-13 0-1-1 1-2 5 0zM575 765l1 0 6 1 2 2 0 1-2 1-2-1-5 0-5-2 1-1zM605 765l2-1 5 3-1 1-8 0-1-1zM788 765l3-1 2 2-3 1zM860 764l6 0 2 3-2 1-6 0-2-2zM1003 764l4 0 0 8-14 0-2-3 1-1 6 0 3-1zM175 766l2 1-1 0-1 0zM345 766l8 1 2 2-2 1-5 0-4-3zM916 767l2-1 2 2 6 1 1 1-1 2-6 0-2-2 0-1-5 0-1-1zM251 767l2 0 1 1-2 1-2-1zM366 768l1-1 6 0 3 2-1 1-4 0 2 2-3 2-3 0-1-1zM426 767l6 0 1 1-2 1 1 1-2 2-8 0-3-2 4-1zM470 768l2-1 2 1-3 1-2-1zM597 767l5 2-1 1-5 0-1-1zM810 767l4 2 4 0 3 1-3 2-3 0-2-2-13 0-3-1 3-1 8 0zM842 768l3-1 2 0 4 1 1 2-12 5-2-2zM855 768l2-1 4 3 4 0 1 0-4 2-2-2-5 0-2-1zM542 769l2 0-1 1-1 0zM608 769l7-1 1 2-4 3-4 0-1-1zM703 768l5 0 2 1 3 0 2 1-2 2-5 0-1 1-5-4zM963 769l17-1 3 2-1 2-12 0-2 1-3 0-5 2-4 0-8-3 3-1 12 0 0-2zM546 769l11 4-2 1-2 0-1 2-2 0-4-3-1-3zM638 770l2-1 1 1-1 3-2-1-1-2zM825 770l4 0-4 1-2-1zM390 771l7 0 2 1-2 2-4 0-5-2zM403 772l12-1 2 1-4 2-5 0zM485 771l2 0 5 2-2 1-4 0-3-2zM905 771l3 0 2 1-4 3-2-1 0-2zM933 771l8 0 2 1-1 1-4 0-1 1-6 0-2-1zM327 772l6 0 4 2-4 3-7 0-3-3zM358 772l2 1 1 3-1 3-2 0-1-2 0-4zM518 772l4 0 1 1-2 2-1 0-3-2zM696 772l2 1 2 3 3 0 3 2 4 1 1 2-1 0-3-1 0 2-2 1-12 0-1-1 3-3 9 0-2-1-11-1-1-1 2-3zM308 773l7 0 2 3-2 2-9 1-2-2-4-1-2 0 2-1 7-1zM571 773l4 0 2 1-2 1-4 0-1-1zM658 773l7 0 1 1-3 3 3 1-3 1-6-1-1-2zM797 773l4 0 1 1-1 1-4 0-1-1zM817 773l4 0 2 1-2 2-4 0-4 1-1-1 1-2 3 1zM916 774l1-1 1 1-1 1zM717 775l3-1 2 2-4 1-2-1zM780 774l3 0 2 2-2 1-3-1-1 0zM897 775l3-1 1 2-3 1zM933 775l2-1 1 2-1 1-2-1zM287 776l4 0 1 1-1 1-3 0-2-1zM350 776l3 0 1 1-1 1-2 0zM418 776l9 0 1 1-1 2-2 0-2-1-5 0-1-1zM527 776l1 0 3 2-3 1-3 0-1-1zM641 776l6 2-2 1-4 0-5-1-5 1-1-1 1-1 6 1zM803 776l8 0 1 2-1 1-7 0-4 5-4 0-2-2 1-2 6-2zM991 776l4 0 1 1-4 1-2-1zM1005 776l2 0 0 6-5 0-2-3 0-1zM218 778l4-1 2 2-1 1-2 0zM386 777l3 1-1 2-2 0-2-1zM452 777l8 0 1 1-4 2-5-1-1-1zM511 777l5 0 2 2-3 2-5-1-2-1zM751 777l4 0 0 2-2 1-2-1-1-1zM888 777l2 1 7 1 1 1-1 2-5 0-4-4zM963 777l4 1-4 1-1-1zM430 778l13 0 2 2-2 2-2 0-3-2-8 0-2-1zM495 779l1-1 2 1-2 1-2-1zM768 778l4 0 2 2 2 1 1 2-2 1-4-2 2-2-5 0-1-1zM862 779l4-1 1 2-1 2-7 1 6 0 1 1-1 3-4 1 19 0 3 2-3 3-3 0-2 0-3-3-5 0-4 3-6-3-7 0-2 2 1 5 3-1 3 0 2 2-2 2-6 0-2 3 6-1 4 2-1 3-3 0 2 1-2 2-10 0-2 2-19 0-2-2-4 0-5-2 2-1 5 0 5 2 3 0 0-2 2-3 9 0 4-10-2-1 2-2 4-2 10-1 2-1-1-2-6 0-2 2-3 0-7 0-1-2-7 0 0 1 1 2-4 0-9 4 3 0 1 2 8 0 1 2-1 2-5 0-3 1-4 0-3-2-3 2-6 0 1 1-1 1-3 1-3-2-2-2-3-1-5 1 1 1-1 1-5 3-4-1-8-1-1-1-9 0-2-1 2-1 8 0 6 1 7-2-3-3 1-1 8 0 3-2 7 3 6 0 2-1 2 1 3 0 3-1 1-1-2-2-5 0-2-2-5 0-1-1-7-1 3-2 14 0 3-3 4 1 4-3 3 2 11 0 1 1 9 0 3-3 11 0zM880 778l2 0 1 2 4 2 6 0 1 1-1 1-9 0 3 0 2 2-3 2-10 0-1-1 1-1 4-2-1-2 2-2-2-1zM968 778l4 0 1 1-1 1-4 0-1-1zM337 780l4 0 2 0-2 2-4-1-1-1zM956 780l2 0 1 0 0 2-2 1-7-1zM211 781l4 0 1 2-1 1-4-1-1-1zM452 782l4-1 4 2 5 0 1 1-3 1-13 0-2-2 2-1zM498 781l8 0 1 1-1 1-6 0 0 2-3 1-1 0 3-3-2-1zM543 781l5 0 3 2-3 2-2 1-1 1 1 1-1 1-3 0-4-2-3-1-5 1-3-1 3-2 5 1 1-2 4 0zM632 781l5 2-1 1-5 0-1-1zM758 781l4 0 1 2-1 1-2 0-3-2zM941 782l1 0 1 1-2 6 5 0 2 3 4 0 1 1-4 3 0 1-1 2-5 1-6 0-1-1 1-1 5 0 1-2-8-8 1-4zM620 782l3 0 3 2-1 1-4 0-3-2zM711 782l17 0 3 1 4 0 1 1-3 3-6 0-2 2-5 0-2-1 2-2-9-2-1-1zM742 782l4 0 1 1-1 1-3 0-2-1zM980 783l5-1 2 2 1 2-1 2-7 5 3 0 2 1 7 0 1 0-3 0-2-1 2-1 2 0 3 1 12 0 0 5-7 1-10-1 1 1 3 1-2 2-5 0-1 1-8 0-1-3 3-1 0-1 1-1 4 0-7-2-5 2-3-1 1-2-3-2-2-4 2-3zM160 783l5 0 1 1-1 1-5 0-2-1zM586 783l12 0 1 1-1 1-12 0-1-1zM705 783l3 0 1 1-4 3-4 0-2-1 2-2 3 0zM787 784l3-1 2 3-5 2-1-1 1-1-1-2zM261 785l1 0 1 2-1 1-5 0-1 1 11 0 5-1 3 1 13 0 4 3-4 2-2 0-4 0-3-2-7 0-1 2-4 0-1-1-5 0-3 2-2 1 2 1 4 0 1 1 8 0 1 1-2 2-5 2-10-3-3 0-1 1 1 6 3 0 4 5-1 1 4-1 13 0 2-3-6 0-3 1-3-4 1-2 14 0 2-2 1 0 2 1 5 0 6 4 9 0 1 1 4 0 2 2-3 2 1 1 6-1 12 0 2 2-3 3-4 0-2 1-5-1 0 1 10 0 1-1 4 0 2-1 17 0 3 1-3 1-13 0 1 1 15 0 3 1-6 3-8 1-3 2 1 1 2 0 3-2 5-2 7 0 8 2 0 1-3 2 0 1 3 0 1 2-1 2 1 0 1 0 4-3 4-1 1-1 5 0 2 2 5 1 2 1 5 0 3-2 3 2 0 1-4 3 4 0 1 1 3 0 1-1 5-2-2-1 1-1 5 0-5 0-2-2 0-1 4-2 4 0 2 1 3 2 0 3 2 1 4-2 3 0-4-4 1-1 6 0 2 1 3 0 3 1 5-1 2 0 2 1 6 0 1-1 6-1 9 2 6-1 5 3 9 1 2 2-1 2 1 1 3 1 4 0-4-2 5-4 4-1 10 0 1-2 0-1 2-2-13-1-1 1-2 0-1-2 1-1 3 0 2-3 4-1 5-2 0-3-2-1-7 0-1-1 1-3 5-1 2-2 1 0 2 1 8 0 1 1 9 0 1 0 4-4 5 0 3 3-1 2-3 0 2 3-4 2-5 0-1-1 1-1 4 0-7 0-2 1-2 0-3-1-6 0-1-2-2 2 2 5 4-3 3 0 3 3 0 2 6 0 3 2 6-1 2 1 0 1-3 2-8 0 1 2-1 1 4 0 1 1-1 1 7 0 3-1 6 0 1 1-1 2-5 1-2 1 1 1-1 2-3-2-5 0 5 2 4 2-3 2-2 0 1 2 5-2 4 0 2-1 5 0 2-2 6 0 2-3-1-1-2 0-3-3 1 0 8-1 2-3 17 0-2-1-3-3-9-6-9 1-1-3-9 0-1-1-9 0-1-1 1-1 6 0 2-2 7-1 3-2-4-1-1-1-7 0-2-1 2-2 3-1 2-3 7 0 4 2-1 1-5 2 3 0 1 2 4 2 1 1-3 1 2 1 5-2 2 0 3 1 4 0 2 2-2 2-3-2-9 0-2-1-2 1 1 3 23 0 4 1 5 0 1-1 4 3-1 1-6 0-5 2 11 0 1 2 2-1-1-2 4-4-1-1 1-1 4 0 2-1 4 1-1 2 2 0 4-2 4 0 1-1 4 0 1 0 3 3 17 0 3-1 5 0 2 1-1 2 20 0 4-2-10-2-8 3-2 0-1-1 1-1-2-1-11-1-1-2-2-1 1-1 3 0 2-1-3-2 1-1 19-1 1-1 4 0 4-2-3-1-10 0-1-1 1-1 10 0 2-1 4 2 7 0 1-1 10-2 4 2 3 3-2 1-21 0-1 3-15 1-4 2-4 1 0 1 10-2 1 2-5 2 7 1 6-3 9 0 2 1-1 1 1 1 2 2 6 1 1-1 2 0-1-4-3-2 1-1 1-2 2 0 5-2 7 0-3-3 3-2 11 3-1 3 5 4 1-2 4 0 1 1-1 2-4-1 0 1 2 1 13 0 2 3 4 0 4 0 1-2 0-2 2-1-2-1 3-1 1 1-1 2 7 2-5 5-2 0-2 2 12 4 3-2-4-3 3-2 0-1-6-6 4-3 5 0 2-1 9 0 1 3 4 0 2 2-2 1-9 0-5-1-2 1 0 3 18-1 2 1 7 2 0 2-1 1-9 0 0 2 5 0 3-1 17 0 1-2 4 1 4-1 3 2 8 0 1 1-3 3-13-2-4 2 7 2 3 0-1-1 3-1 4 2 4 0 3-1 5 0-2-3 3-2 4 0 1-2 4-1 5-1 1-1 5 0 1 1-1 5 6 1 3 2-1 1-5-1-1 2 3 0 5 4-2 1-7-1-1-3-5-1-4-2-7 0-1 1 6 3-1 1-3 0-2 2-7 0-1 1 1 2-1 1-2 0-6-3-3 0-5-2-3 0-1 4-3 1 1 1-2 1-8 0-4 1-5-1-3-3 3-3 2 0 2 2 11 0 2-3-1-1-4 0-3 1-13 0 0 1-2 3-5 0-3 1 1 1 10 2 6 3-1 2-5 2-3-4-3-1 0-1-1 0-5 1-2 2 3 2-1 1 15 2 1 4-21 0 0-1 2-1-1 0-2-3 1-1-1 0-8 0 3 0 1 1-4 3-8 0 3 1-2 1-9-1-3-3-6 1 5 2-1 1-49 0-2 0-84 0-4-1-5 1-68 0 2-1 0-1-1-1-3-1-5 2 1 1 4 1-61 0 5-3 6 1-1-2-6-1-1-1 1-1 2 0-1 0-6 0-1 1 2 0 2 3-6 3-94 0 0-2 3-3 0-1-5 0-4-4 0-1-5-1 1-3-3 0-2 3-16 0 5 0 1 1 3 0 1 1-4 3 12 0 3 2 2 2 2 0 4 3-166 0-3-2 1-1 18 0 1 1 4 0 1 1 4 0 1-2-9-2-1-1-10 0-6 1-6-2-1 0 2-2-1-1 5-2 6 0 1 1-1 1-3 1 4 1 4-3 9 0 1-1-5-3-6 0-2 1-13 0-2-1 3-2 5 0-11 0-3-2-1-1 1-1-1 0-4 0 1 2 3 3 0 1 5 1 1 1-1 0-4 1-2-2-2 2-1 0-2-3-3 2-1 1 1 1-4 2-5 0-1-1-6 0 2 2 5 0 3 1 1 1-2 2-4 0-3-1-2 1-9 1 1 1 5-1 8 0 1 1-4 1 0 1-25 0 2-1 12 0-4 0-1-2-4-3-3 0-3 2-5 0-1-1-3 0-1 1 0-4 1-2 4 0-2-1 3-1 0-1-5-1-1 2 0-5 5 0 1 1 4-1 0-2-6 2-3-3 2-1 5 0 0-1-4-2-3-3-1 0 0-3 5 0-4-2 5-4 4 0 1 1 0 3 2 0 7 6-4 1-2-1-4 0 3 4 5-1 5 1 2 2 6 3-2 1 0 1 4 0-1-1 1-1 10-4 4 2 4 1 2 1 0-3-3-2 0-3-4-2 2-2-1-2 1-1-3 0-1-2-14 2-1-2-4 0-1-1 1-1 16 0 2-1 3 0 2-1 3 0 1 1-2 2 1 2 10 0 2 1 6 0 2 1-2 2-9 2 1 0 5 0 2 1 8 0 10-1 1 1-2 2-2 0-2 1-6 1 0 1 3 0 2 3 13 0 1-2 5 0-1-1-12-1 2-1 8 0-2-4-3-2-3 0-3 2-5-1-1-2 3-2-7 0-2-3 2-1 5 0 5 3 13 0 2-3 5 0-9 0-2-3 4-2-2-1-1-1 4-2-3 0-1-1 0-5-5-2-2-3 1-1 10 0 1-2-1 0-1-2 2-1zM253 790l-1 2 5 0-1-2zM728 804l1 2 3 0 0-2zM718 809l-2 1 5 1 4 1 1 2-2 2 2 2 2 1-1 1-4 0 1 2-1 1-2 0-4 3 3 2 13 0 3-1 5 0 1-3 5 2 8 0 2-1 1 1 0 1-5 2-3 0-2 1-7 0-3-1-3 2-10 2 16 0 2 1 4 0 3-3 10-2 2 2 9 0 1 1-1 1 5 0 2-1 6 4 4 0 2 1 5 0-4 0-1-1 2-2-8-4 2-1 7 0 5-2-11 0-4 2-6 0-1-1-15 0-3-1 4-2 11-1 0-1-6 0-2 1-8 0-1-1 1-1 5-2 0-3-1-3-11-1-3 2-6 0-6-2-4-3-8 0-1-1zM297 810l-2 2 0 1 4 0-1-3zM278 814l0 2-1 1 13 0 1-1-3-2zM633 816l-1 1 5 2 29 0-4 0-6-2-4 0-1 1-6 1-5-1-2-2zM617 817l1 2 3-1-2-1zM259 818l2 1 5 0zM290 818l2 1 6 2 4 2 3 0 1 1-2 3 2 1-1 1-6 0 2 1 4-1 7 0 1 1-1 2 1 0 2 0 1-3 1-1 7 0 2-1 1-1-2-2 1 0 6-1 3-1-18-1-1 3 2 0 1 2-1 1-6 0-8-8-8 0-1-1-4-1zM679 818l-1 1-5 0-1 1 6 0 2-1 10 2 1-1 2-1 1-1zM708 818l2 1 13 0-3-1-5 0 0 1zM256 820l-1 2 2 0 0-2zM786 820l1 4 7 0-1-1-2 0-1-1 0-2zM262 823l-5 3 0 1 9 0 4 2 7-2 1-1 3 0-1-2-12 0-1-1zM530 823l-2 1-2 0 0 2 8-2-2-1zM626 823l-3 2-3 1-2 1 2 0 4 0 4-4 3 0-1-1zM665 823l-2 1 3 0zM686 823l-1 1-5 0-3 3-10 1 6 0 2 1 11 0 1-2 8 0-3-3zM818 823l-1 1 1 2 7-3zM633 827l3 0 1 1 4 0 0-1zM697 828l1 1-1 1-2 0 1 2 0 1-1 1-2 0-3 4 17 0 1 1-1 2 2 2 5 0 2-1 7 6 5 0 0-1-2-1 0-2-5-2-5 0-2-2 4-2 9 0-5 0-1-1-8 0-3-3-5 0-4-2 4-3 3 0 4 2 2-2-7 0-2-1zM330 829l2 2 5-1-1-1zM588 829l4 0 3 3 2 0 1-2-1-1zM278 830l4 1 1 2-6 5-6 0 7 4 3-1 9-1-5-3 0-1 3-2 0-2 5-2-3 0-3 2-4-2zM448 830l-4 2 0 1 1 1-3 2 2 2 3 0 3-1 5 0 1 1 6 0-2-1-10-2-4-2 2-1zM529 830l0 2 1 0 3-2zM622 830l0 2 8 0-1-2zM516 832l1 1 8 0 1-1zM646 832l-1 1-3 0 3 3 9-2-2-1zM159 833l0 1 4 0 2 2 6 1 1 1 4 0 0-1-4-1-2-2-4 0-1-1zM432 833l1 2 7-1 0-1zM482 833l0 1 3 0 1-1zM602 833l-5 2-10 0-1 2 10 0 1-1 15-2 1-1zM758 833l-2 1 0 2 1 1-1 1-8 0 0 1 8 0 1 2 9 2 3-1-4 0-2-3 2-1-2 0-1-2 1-2-2-1zM257 836l-1 1 2 0 1 1-1 1-6 0-4-1-3 2-4 0 0 2 6 0 3-1 17-1-4 0-2-2 3-1-3-2zM332 836l3 1 2 0 1-1zM424 836l-1 1 9 0 0-1-4 0zM770 836l-2 1 3 1 5 0 2-2zM622 838l0 1 4 0 2 2 7-1-8-1-2-1zM328 839l0 2 9-1-1-1zM423 840l3 2 2-2zM529 840l0 2 3 2 3 0 0-2zM567 840l-1 2 9 0-3 0-1-2zM642 840l0 2 4 0-1-2zM682 842l-2 1 2 1 14 0 1 3 5 0-3-1 2-3 5 0-6 0-2-1zM403 843l0 3 5 0 2-2-2-1zM501 843l2 1 2-1zM742 843l7 3 1-2 0-1zM264 844l1 2 5-2zM327 844l-1 2 2 0 3 2 12 0-7-3zM447 844l3 2 7 0 0-2zM562 844l-2 2 4 1-1-1 2-2zM298 846l0 1 5 0-2-2zM356 847l1 1 6 0 5-1zM520 847l2 1 3 0-2-1zM283 785l5 0 3 2-3 2-6 0-1-2zM391 785l2 1-2 0zM425 784l3 0 4 3-1 1 2 0 2 1-3 3-1 0-1-2 0-1-5-1-2-1zM517 785l4-1 1 2-1 2-3 0-1-1zM753 784l22 0 2 3-5 2-4 0-1 1 1 2-3 2-7 0-3-2-10 0-5 1-4 2-5 0-1-1 8-3 4-1-11 0-2-1 2-1 19 0 2 1 9 0-3 0-1-1-9 0-1-1zM901 784l6 1 1 2-1 1-7 0-2-1zM917 784l4 0 2 2-1 0-5 1-1-1zM313 786l3 1-3 1-1-1zM577 786l3 1-3 1-1-1zM686 786l4 1-4 2-3-1zM957 786l3 1 2 2-2 2-6-2zM296 788l10-1 2 2-5 3-1-2-4 0zM488 787l7 0 2 2-2 2-4 1-1 1 3 0 4-2 3 0 5 0 4 2-1 1-12 0-8 4-6-1-1-2-5 0-2-2 1-2 5-1 3-2zM781 787l4 0 1 1-1 1-4 0-1-1zM178 789l4-1 2 1-1 1-3 0zM188 788l7 0 1 1-1 1-5 0-3-1zM328 789l5-1 1 1-1 2-1 1-4-2zM660 788l7 0 4 2 0 3 6 3-1 1-6 0-4-2-5 3-6 0-1-2zM928 788l4 0 1 1-2 3-3 0-1-2zM628 790l2-1 3 0 4 1 1 0-2 3-6 0zM642 790l8-1 1 1-1 2-7 0-2-2zM166 791l5 0 2 1-1 1-4 0-2-1zM216 791l1 0 2 2-1 1-3 0-2-1zM177 793l1-1 4 0 3 0 1 1-1 1-3 0-4 0zM193 793l4 0 1 3-3 2-3 0-2-4zM356 793l4-1 2 1-1 1-4 0-1 0zM397 792l4 0 1 1-1 1-4 0-1-1zM461 792l2 0 1 1-1 1-2 0-1-1zM697 792l3 0 1 1-1 1-3 0-1-1zM335 794l5-1 2 1 0 2 9 0-3 3-3 0-2 3-2 0-1-2-4 0-4-2 1-1-1-1zM411 794l1-1 2 1-2 1zM432 793l8 0 2 3-2 1-8 0-1-1zM745 793l3 0 2 1 10 0 2 2-2 3-8 0-11-3zM836 793l2 1-2 1-1-1zM858 793l3 0 1 3-2 0-3-2zM887 793l3 0 1 1-3 2-2-2zM148 794l3 2-1 0-3 1 0-3zM220 795l1-1 2 1 5 4-1 1-9 0-1-1 0-2zM296 794l2 0 2 2-2 1-2 0-1-1zM447 795l9 1 1 1-1 1 9 0 1 1-1 1-3 0-7 3 2 3 3 1-3 1 4 2-1 2-11 0 3 1-1 1-3 0-1-1 1-3-2 0-1-1-8 0-4-2-11 1-4 1 0 1 2 2 1 1-2 1-1 1-4 1 1 2 2 1 0 1-2 2-4 0-3-2-1-1 1-1-2-1 0-1-3-1-1-1-5 0-1-2-7 0 3 1-4 1-2-2-8-1-1-2-10 1-2-2 1-2 5 0-3-2 5-2 5-1 5 0 2-2 7 0 1-1 4 0 4 0 1 2-1 2-9 0-2 1-6-1 0 1 6 1-7 1-1 3 3 1 3 0 4-1-2-1 1-1 7 0 13 6 2-3-2-2 1-1 11 0 3-3 9 0 1 1 2 1 3 2 2 0 7-3 1-1-1-1 2-1-7-1-4-2 1-1 6 0-2-1zM396 808l-1 1 3 0 0-1zM577 794l2 2-2 0-1 0zM626 794l20 0 2 3 0 1 2 2-2 2-7 0-6 5-4 0-1-1 2-2-6 1-1-2 1-1 4-3 11 0 2-1-7 0-1 1-3 0-2-1-5 0-2-1zM897 795l6 1 4 2 5 0-1-2 1-2 3 0 2 3 0 1-1 1-3 0 0 1 7 1 0 1-1 1 3 1 4 0 5-2 16 0 1 1 0 1-2 1-5 0-1-1-7 0 0 2 5 3-2 4-6 0-2-1-2-1-5-3-5 0-2 1 6 1 0 2 6 1 2 2 1 1-1 1 5 2-2 3 4 1 6-1 3 5-2 2-2 0 13-1 7 5 5 0 2-2 5 0 3 1 0-2-7 0-5-2 0-1 0-1 3 0-5-3 2-1 0-2-11 0-1-1-4 0-2-2-3 0-2-3 2-2 9 1 2-1 5 0 5-2 5 3 4 0 1-1-3-1-2-1-1-1 3-1-2 0-2-2 2-4 4 0 1 2 3 2 0 2 4 2-2 2 3 1-3 2-5 0 1 2-2 2-3 0-1 1 5 3 9 1-1-2 2-3 4 0 5-3 11 1 4-1 0 3-2 0 2 0 0 4-2 0-2 1-3 1-6 1-4 2 6 0-2-1 2-1 11 1 0 2-1 1 1 1 0 6-2-1 1-2-4 0-7-4-3 2 3 2 0 1-6 1-3 2-11-1-2 1 1 1-1 3-11 1 0 1 1 1 5-2 10 0 1 1-3 3-8 0 0 2-54 0 0-1-2 0-1 0-1 1-7 0-1-1 3-1-4 0-1 1-8 0-2 1-61 0-7 0-3-2 2-1 5 0 2 1 8-1 5 2 2 0 5-2 5 0-8-1-1-1 1-1 6 0 1-1 3 0-1-2-8 0-1-1 1-1 5-1-5 0-1-1 1-2 12-1 4 1 2 3 7-1 1 1 8 0 6-1 6 2 3-1 15 0 1 3 5-1 1 1 1 2-2 4 3 0 2-2 6 0 3 3 5 1 8 0 2-1 1 0-11 0-2-1 4-3 11 0-1-1-10 1-4-1-2 1-4 0-1-1-3 0-1-3 1-1 4 0 3-1-4-3-6 1-4-2-1-1-5-1 3 2-1 2-2 1-9-3-5 0-1-1-4-1-3-2 8-3 3 0 2-2-1-3-1 1 0 1-1 1-3 0-2-1 0-3 2-2 7 0 1-1 3 0 1-3 2 0 3-2 4 0-4-2-5 0-4-3-8-2-2-1 2-1 3-1-2-5zM906 807l5 0 0-1zM956 814l1 2 8 0-2-2zM918 819l-3 3-4 0 2 0 2 1 7 0-1-1 2-2-2-1zM985 823l-1 1 8 0zM916 827l-2 2 7 0 3-1zM926 827l1 0 4 0-3-1zM932 832l-2 1 3 0 1 3-1 1 5 1 7 0-6-1 6-1-1-2-4 0-3-2zM948 838l1 1 2 0 4 0 3-1-6-1zM868 839l-1 2 3-1 0-1zM879 839l2 0 2 3 6 1-1-3-3-1zM951 846l-3 1 7 0 1-1zM355 796l3 1 3-1 6 4 0 3-1 1-8 0-2-4 0-1-2-1 0-1zM505 796l10 2-10 1-5 3 5 0 1 1-2 1 4 1 1 1-1 0-8 0-4-3-2-1 0-2 2-1 7-1zM588 796l3 0 2 1-3 1-2-1zM583 797l3 0 1 1-1 1-3 0-1-1zM833 797l4 0 1 1-1 1-2 0-3-1zM875 797l2 2-1 1-3-2zM292 798l19 0 4 1 1 1-1 2-7 0 3 2 7 1 2 2 7 0 1 2-2 1-6 0-7-3-10 0-2-4-3-1-8 0-2-2zM148 800l4 0 1 0-1 1-4 0-1-1zM583 799l4 0 2 1-2 3-2 0-3-3zM605 799l1 1-1 1-2-1zM661 800l4 0 1 0-1 2-4-1-1-1zM177 802l1-1 4 0 1 1-1 1 1 1 10 0 1 3-1 1-7 1-9-1-2-2-3-2 3-2zM207 801l6 0 3 1 4-1 5 0 2 2-1 1-4 0-4 3-6 2-1-2 2-1-1-2-11 0-2-1 2-1 5 0zM430 801l6 0 1 1-1 1-5 0-2-1zM536 801l2 0 2 1-1 1-3 1-1-1zM748 801l3 2-1 1-3 0-1-1zM546 802l5 0 2 1-2 1-5 0-1-1zM757 802l6 0 4 2-1 1-11 2-2-3zM808 802l5 0 1 1-1 1-5 0-1-1zM875 802l1 0 4 1 1 1-3 2 3 0 0 2-6 3-4 1-3 2-10 0-1-1 3-2 3-1 0-2-1-1 3-2 8-1zM992 802l5 0 1 1-1 3 1 1 9 0 0 6-10 0-4 1-10 0-1-1 4-2 7-1-4-3-1-1zM237 804l0 2-2 0-5 1-2-1 2-2zM336 803l4 0 2 1-6 1-1-1zM487 803l2 1-2 2-1-2zM601 806l6 0 2 1 0 1 2 0 5-2 3 2-2 1-4 0-1-1 0 2-1 2-8 0-3 1-2 0-1-3zM697 806l3 0 0 1-2 1-2-1zM148 807l7 1 2 2-1 2-4 0-5-3 0-2zM351 807l3 1-3 1-1-1zM942 807l5 0 1 1-3 2-4 0-1-1zM228 808l5 0 2 2 0 3 0 1-7-3-1-2zM340 808l8 0 2 1-1 1-1 2-6 0-1 1-5-3zM490 809l5 0-3 1 0 1 1 1 3-1 2 1 1 1-2 1 5 3-2 2-4 0-5-1-1-2-12 1-6 3 9 2 5 2-3 1-6 0-2-1-15-1-3-3 6-3 2-2 5-2 12 0 6-3zM890 808l5 0 1 1 4 0 1 1-1 2-10-1-1-2zM172 810l2 0-2 1-1-1zM330 810l2 0 2 0-3 1-2-1zM428 811l12 0 2 2-2 2-3 1 3 1 10-1 3 1 1 2-1 1-4 0-3 3-6 0-4-1-4 2-4 0-2-1-4-4 3-2 5 0 2-1 3 0 1-2-6 1-2-2-1-1zM207 812l5 0 1 1-1 1-4 0-2-1zM837 812l2 1-2 1-1-1zM363 813l18 0 1 1-1 2 1 1-1 1 5-1 4 0 1 1-4 2 6 1 4 2 2 4-3 2-9 0-1-1 1-1 4 0 0-1-3-2-6 0-2-1-3 0-1 2-6 0-1-1 2-2 5 0-1-3-3-1-6 0-4-4zM547 815l6 1 4-1 3 1 5-2 7 4 8 0 2 3 3 0 2 2-1 1-8 0-2-1-5 0-3-3-2 0-4-2-7 1-2-1-6 0-2-1zM738 817l2-1 5 0 2 1-6 2 4 1-2 1-12 1-2-2 2-1 10 0 0-1-1 0zM882 816l5 0 2 1-1 1-5 0-2-1zM180 817l5 0 1 1-4 4-5 0-2-2 1-1zM357 818l4 0 2 1-3 4-4-3zM495 819l2 1 4 2-4 2-10 0-1-1 2-2 5 0zM555 820l3-1 2 1-4 2-2-2zM952 822l5 0 2 1-6 3-2-3zM423 824l3 2-3 1-1-1zM405 826l3 1-3 1-2-1zM868 828l5 0 4 1 4 3 1 2-1 1-3 0-3-2-8 0-1-3zM836 833l4 0 2 3-1 1-5 0-4-1zM996 838l7 0 1 1-1 1-7 0-1-1zM822 840l5-1 2 1 8 1 2 3-1 1-6 0-1 0-1-2-2 1-5 0-2 1-4 0-1-1 2-2 3 0zM981 841l5 0 1 1-1 1-5 0-1-1zM1002 841l5 0 0 8-7-6zM1000 845l2 1 2 3-14 0 0-2 1-1zM148 846l6 2-2 1-5-1 0-2zM195 847l8 0 6 2-13 0-2-1z"/><path fill="#1598dd" d="M148 664l859 0 0 38-1 0 1 1 0 2-2 1-1 1 1 1 2 2 0 5-5-4-9-1 0 2 3 0 1 2 3 0 0 2-2 2-5 0 4 0 1 1-3 3-3 0-2-2 1-1-6-3-7-1-1 1-7 2-4-1-6-1-2 0 2-2 3 0-2-3-11 2 6 3-4 1 1 1 4 0 1 1-2 1 9 1 2-3 6 0 12 4-3 1-7-2-8 1 6 2 9 1 3 3-5 1 2 2 4 1 4-2 5-1 3 2-6 3-2 0-4-2-2 1 3 2 5 0 2 1-2 0-4 0-5 0-5 3-2 0-1-1 0-1 6-1 0-2-8-2-7 0-2-3-6-2 5-1-7-1-1-2-4 0-3-3-5-2 0-3-7 0 0 2 1 1-2 2-9 3-8-2-1-1-16 0-3 2 0 4-5 4-5 0-2 1-1 2-5 1-5-6 1-1-1-1 2-2 8 0-1 2-3 1 4 0 10-4-5-3-4 0-8 3-2-4 3-2-2-3 1-1 5 0 2 1-2 4 4-1 5 0 5 2 6-2 9 0 5-2 5-1 2-2-3 0-5 2-9 0-5 2-1 0 4-2-1-1 2-1 0-2-4-2-2 0-4 2-10-1-3 2-11 1 1 1-1 1-5 2 2 1-1 1-2 0-4-2 0-3 3-1-2-2-6 0-1-1-4 0-1-1-8 0-1 0-4 3-5 1-3-3 0-1 1-1 2 0 0-1-5-3-3-6-14-3-5 0 0 2-10 3-1 1 0 2-2 2-3-2-4 1-2 1 4 2-3 2-4 0 16 1-19 3-5 2-4-2 4-6 7 1-4-1 6-2-2-2 1-2 7-1-2-1-3 1-8 0-9 7-9 1 0 1-2 2-4 1-5-1-3-2-6 0-2-2-2 0 1-2 4-1-2-2-8 0-3-1-3 1-5 0-5-3-11 0-3 1-2-1-5 0-2 0 4 2 0 2-1 1-2 0-2-1-5 0-2 2-3 0-1 1-6 0-2 2 6 2-2 1 0 2 3 1-1 2-3 1-12-1-3 3 7 2-7 3 5 0 3 2 6 0 6 3 0 1-1 1-10 3-3-1-5-1-1-2-3-1 1-1-3-1-2-2-4-1-5 1-5-2-9 3-7 0-4 1-4 3 0 3-1 1-18-1-4 1 4 3-3 2-4 0-1-2-8 7-4 1-6 0-1 1-3 0-2 3-2 0-1 1-5 1-15-2-11 0-12-3-10-6-4 0-2 0 8 6 3 0 1 2 2 0 2 1 15 1 1 1-14 1-2 3-1-1 0-3-13 0-4-2-2-4 2-4-1 0-1 2-5-1-16-5-3-1-11 4-6-1 3 1-9 2-1-1 1-1 5-1 0-1-15-4-7-1-11 4-17 2-15 7-6 0-10-3-14 3 2 2 6 0 1 0-2-1 1-1 5 0 1 1-2 1 3 1 6 1-7 1-6 3-5-3-5 0-3-1-2 1-6 0-3-1-5-1-14 3-4-2-9 0-2-3-1 0-6 0-9 5-11 2-8 1-1 1-16 0-8 3-5-1-6-3-11 3-6 0-10-2-12 3-21-4-5 0-9 3-8 7-5 2-3-1 0-101zM724 690l-2 2 0 1 4 0 1-1 5-1 2 2-8 3-1 1 1 1-1 1 1 1 7-1 13 0 2 1-1 2 5 0 3-2 2-1 1-1 8 2 5-2 4-2 2 0-16 0-18-2 1 2 3 0 1 1-2 1-13-1-1 0 1-1 3 0 1-1 5-2-7-3-9 0zM756 690l-1 2 5 0 3-2zM719 693l1 1-4 0 0 1 1 1-5-1 0 1 8 1 1-1 0-3zM856 696l5 2-4 2-3 0-1 3 10 0 3-1 4 0 0-2-7-4-3-1zM764 702l2 1 2-1-2-1zM893 702l5 1 2 0 0-1zM748 704l-5 2 12 0 1-2zM867 706l-1 0-5 1 0 1 10 0 1-1 3 0-4-1zM930 710l3 1 1-1zM649 712l-1 1 5-1zM646 716l-3 2 4 0 1-1zM972 728l-4 1 7 0 1-1zM492 737l-2 1 5 0 1-1-1-1zM816 696l2 1-2 1-1-1zM821 698l2 0 1 1-4 3-4 0-2-2 1 0 5-1zM803 700l3 3 0 1-3 0-3-2zM820 702l5 0 5 3-10 0-1-2zM691 705l4 0 3 2-2 4-8-1-1-2-1-1 4-1zM708 705l5 1 12 0 6 3-2 3 2 1 7-2 13 1 0 2-1 1-4-1-15-1-4 2-5-2-12 0 0 4 2 1 1 1-1 1-5 1 0-1 1-2-3-1-1 0 1-1-5-3 1-1 1-4zM723 709l2 1 2-1zM807 706l8 0 7 2-6 2 2 3 0 2 4 0 1-2 9 0-1 3 4 3-3 1-2-1-7 0 0 2 6 2 0 1-2 1-6 0-4-3-5 1-2-1 5-4 0-1-4 0-2-3-3-1-6 1-3-1 3-2 3 0 3-1 0-3zM846 711l1 0 2 3-1 1-6 0-2-1zM757 714l4-1 1 1-1 1-3 0-2-1zM772 715l1 0 1 2-2 1-2-1zM685 717l3 0 2 1 0 2-3 4-10 0-2-2 5-1zM717 717l6 0 3 1 7 1-6 1-4 3 0 2-3 1-5 0-4-2 0-1 4-2 4-1 1-1-4-1zM743 717l9 0 1 1-5 2-5 0-1-1zM852 717l6 0 2 1-7 1-1-1zM781 718l10 1 6-1 3 2 5 0 1 0-1 1-4 0-1 0-2-1-7-1-4 1-4 3-5-1-3 1-3-1 8-2zM935 721l6 0 7 2-11 2-2-1-1-1zM1006 721l1 0 0 4-1 1-8 1-3 1-5 0-3-1 4-1 1-3 1-1 4 0 1 1 7 0zM701 723l2-1 4 4-2 1-9-1 0-1 4 0zM735 722l3 1 0 3 6 1-3 2-10 0-3-2 6-1 0-3zM758 723l9 0 1 1-3 3 4 0 4-2 10 0 2 1-8 2-6 0-1 2-2 3-3 1-3-2 2-2-1-2-7 0-3-2zM852 725l1 0 4 1 2 2-2 1-4 0zM903 725l7 1 1 1-1 1-8 0-1-1zM622 726l1 1 5 0 3-1 1 1 8 0 1 2-8 1-3 2 3 4 0 3 5 1-2 3-7 0 0 1 2 1 1 2-4 3-6 0-2-2 1-2-11-3 6-1-2-2 4-1-10 0-2-2 1-1 6 0 3-3 6 0 1-1 0-2-6-2zM928 726l24 0 2 1 0 1-14 3-5-2-4 0-3-2zM711 729l5 0 2 1 0 2-1 1-7-1-2-2zM752 728l4 0 1 1-2 2-4-2zM786 729l5-1 2 2 0 2-1 1-4 0-3-4zM645 730l2 0 2 0-3 1-2-1zM833 730l4 0 1 0-3 3-2-1zM896 730l1 0-1 2 1 1-5 1-2-1 4-1zM952 730l2 2-2 2-4-1 0-2zM906 732l15-1 2 1 1 2-2 1-6 0-2-1-1-1zM775 732l5 0 4 2-4 1-8 0-1-1zM847 732l4 0 1 1-1 1-4 0-1-1zM646 734l5-1 1 1-1 1-4 0zM685 734l11-1 2 1 0 2-2 1-11 0 2 1 6 0 2-1 10 0 0 1-2 2-5 0-5 3 13 1 1 1-16 1-3-1-6 0-1-1 1-2 5 0-5-2-5 0-2-1 2-2zM735 733l3 0 1 1-1 1-3 0-1-1zM800 734l1 0 0 2-2 0 0-2zM1005 734l2-1 0 11-4 0 0-1 0-1-5-1-2-1 0-1 5-2 1-2zM663 735l4 1-4 0-1 0zM747 735l1 0 5 2-2 1-4-1-1 0zM788 735l5 0 1 1-6 1-3 3 7 0 5 2-1 2-7 2 2 1 1 1-1 1-6-1-1-1 2-1 0-2-5 0-2-2 1-2-2 0-2-2 2-2 9 0zM812 735l10 0 2 1-5 1 1 1-4 1-5-2 0-1zM885 735l3 0 3 1 8 1-6 1 2 1-4 2-4 0-1-1-6 0-2-2zM956 735l2 0 1 1-1 0-2 0-1 0zM428 737l2-1 3 1-3 1zM442 736l4 0 1 1-1 1-3 0-2-1zM708 736l7 1 2 1-1 1-1-2-8 0zM840 736l1 0 1 1-1 1-2-1zM936 736l2 0 3 2-1 1-4 0-1-1zM848 738l4-1 4 2 1 1-2 3-2 0zM403 738l4 0 1 1-1 1-4 0-1-1zM638 739l4-1 2 1-3 1zM421 740l2 0-2 1-1-1zM473 740l9 1 1 1-1 1-7 0-2 1-4-1 2-2zM716 740l11 0 1 0-1 1-10 0-2-1zM591 741l4 0 7 1 2 4-3 2 2 1 0 1-3 1-5-2 4-1-7 0-4 1 3 1-1 2 0 1-3-1-3-3 0-2-2-1 1-1 4 0 5-1-2-2zM668 742l3-1 2 1-1 1-1 0zM810 741l6 0 1 2 3-1 1 1-3 1-3-1-5 1-1-1zM922 741l8 1 7-1 1 1-1 1-7-1-8 1-1-1zM971 741l4 1-4 1-1-1zM982 741l5 2-1 1-5 0-1-1zM396 742l4 0 0 1-2 2-3 0-2-1zM896 742l4 0 0 2 0 1-3 0-2-2zM637 744l3-1 2 1-2 1zM658 744l14-1 1 1-2 4-4 1-6 0-3 1-6 0-6 0-3-1 5-1 3-3zM659 747l2 0 1 0-2-1zM716 743l7 0 5 2 6 3 0 4-2 1-2-3-5-2-9 1-6-3zM427 745l3 1-2 1-2 1 4 0 3 2 2 3 3 1 0 2 2 1-2 2-6-2-5-5-6 0-4 2-2-1 3-4 4-1zM866 745l2 1-2 0-1 0zM881 745l10 0 2 1-10 2-2-1-1-1zM970 745l8 1 2 1 0 1-8 2-3-3zM993 745l7 0 1 0-2 3 3 2-4 1-7 0-1-1 0-1 4-1-3-1zM398 746l4 0 1 1-2 2-3 0-2-1zM412 746l3 0 1 1-1 2-4 0-1-1zM680 747l1-1 2 1zM847 746l3 0 2 1 4 1 5 3 9 0 0-1-1-1 2-1 9 0 2 2-1 2-7 0-4 2-7 0-2-1-8 0-2 1-3-2 6-2-3-1-4 0-1-1zM923 746l4 1-4 1-1-1zM952 746l3 0 2 2 0 1-10 3-5 1-9 2-9-2 7-3 6 1 5-1 4 0 4-2zM385 748l2-1 1 1 4 0 5 3 3-1 3 0 4 2-2 1-7-1-2 3-4 1-7 0-1 1 1 1 2 0-5 0-4 2-6 0-1-1 0-1-1-1 1-1 10 0 1 0-1-2 1 0 7-2-5-2 1-1zM461 748l5-1 1 1 1 1-3 1-4-2zM298 748l7 0 0 1-1 1 4 1 1 2-2 1-7 0-2-1 2-2-3-2zM560 749l1 0-4 3 1 1 9 3-2 2-12 1-1-1 1-1 3 0-3-2-5 0-1-1 4-3 5-1zM676 749l2 2 4 0 5 3-1 1-6 0-2 2-2 0-4-1 0-2-5-1zM480 750l2 0 2 0-2 1zM801 750l2 0 1 0-4 2-2 0zM317 751l4 0 7 2-1 1-10 1-1-1zM346 751l10 1 1 1-2 2-5 1-5-4zM458 751l5 0 4 2-9 2-8-1zM486 751l2 0 2 1-3 1-2-1zM608 751l7 0 2 2 0 1-1 1-6 0-2-3zM655 751l6 2-5 1-4-1zM763 751l10 0 1 3-1 2 0 1 8 1 1 1 8 1 1 0-4 2-9-1-3 1-1 1 6 1 2 2 4 0 1 2 4 0 3 2-4 2-4-1-1-1-10-2-4 1 3 3-3 2-9-1-2-1 1-1 5 0 3-2 0-1 1-1 5 1 0-1-2-1 0-2-1-1-7 1-2-1 2-1 6 1 1-3 2-1-8 0-1-3-5-2zM827 751l5 0 2 1 0 1-6 0-2 1-4-1zM443 752l5 1-5 1 0-1zM533 753l3-1 2 1-2 1zM623 753l7-1 0 2 3 3-1 1-7 1-3-2zM995 753l6-1 1 2-11 2-1 2-3 0-1-1 4-2 1-1zM538 754l4-1 2 3-3 1 6 3 1 0-1 2-4 1-6-3-1-2 2-1zM592 754l3 0 1 2 4 1-2 2-7 3 1 1-1 1 2 2-1 0-4 0-1 0 1-2-1 0-6 0-3-4 3-2 12 0 0-1-2-1zM808 753l3 0 3 4-1 0-5-1-1-2zM836 754l5-1 2 1-2 1-4 0zM882 754l1 0 2 0-2 1zM523 755l3 1-3 0-1 0zM968 755l4 0 1 1-1 1 2 1-1 1-5 0-1-1 3-1zM976 755l2 0 1 1-2 0-2 0zM315 756l2 0 1 1 0 1-1 1-5 0-2 2-2-1zM730 757l2-1 1 1-2 1zM857 756l10 0 2 1-4 2-9 0-1-1zM286 757l2 0 1 1-2 1-2-1zM913 758l5 0 1 1-1 1-5 0-1-1zM173 758l3 0 1 1-4 1-1-1zM483 759l4 1-5 2-1 1-5 0-1-1 3-2zM635 759l8-1 2 2 4 2-8 5-3 1-2 0-3-2-8 0-1 0-1-3-3 1-7-1 5-3 7-1 2 0 1 1 0 2 4 3 5-1 3-1-4-2-2-2zM691 759l2-1 2 1-3 2-2 0-1-1zM703 759l3-1 2 1-3 1-2-1zM716 759l4-1 2 2 5 0 2 0-3 4-3 0-6-3zM297 760l1 3-2 2-3-1-7 0-3 1-3 0-1-1 1-1 7-1 10 0-1-2zM382 760l4 0 2 0-2 1-4 0-1-1zM498 760l3 0-3 1 0-1zM417 762l1-1 2 1-2 3-2 1-5 0 1 1-4 2-6 1-7-2 1-1 9 0 1-1 4 0 2-3 3 0zM527 761l5 0 2 1-4 2-3 0-2-1zM665 762l1-1 9 0 1 2 5 0 4 3-3 1 0 1 4 0 3 2-1 1-3 0-4 3-9 0-2-2 3-4 2 0 0-1zM818 761l5 0 2 2-4 0-4-1zM841 762l2-1 4 2-2 1zM265 762l3 0 1 1-4 2-3 0-1-1zM437 763l3 1 0 1-3 0-1-1zM473 764l7 0 1 2-1 0-5 0-2 0zM710 763l6 0 1 1-1 1-5 0-2-1zM755 764l3 2-1 0-6 1 4 0 3 2-8 1-3 1-2-1 1-1 5-3 1-1zM895 764l3 1 3 3-6 2 1 2-1 1-7 2-1 1-6 2-8-2-8 2-7-2 2-1 7-1 9-7 6 0 1 1 10 0-1-2zM937 763l4 0 1 1-4 2-2-2zM975 764l3 0-2 1-1 0zM310 765l3-1 2 1-1 2-2 1 5 0 2 1-1 1-1 1-7 1-2-1 2-2 2-1-3-2zM330 765l2 0 3 2-5 2-5 0-3-1 3-2zM605 765l2 0 5 2-2 1-5 0-2-1zM720 765l3 0 2 1-4 0-3 0zM790 765l2 1-2 0-1 0zM860 765l5 0 1 1 1 1-6 1-2-1zM970 765l3 1-3 0-1 0zM1003 765l4 0 0 6-9 0-3 0-4-2 2-1 6 0zM241 766l2 2-1 1-4-1zM285 766l1 2-2 0zM346 767l7 0 1 2-1 1-5 0zM527 766l5 0 2 1-4 2-4 0-1-1zM571 766l10 0 3 2-2 2-6-1-5-2zM917 766l1 1 0 1-3 1-2-1zM148 767l3 2-1 1-3 0 0-3zM367 767l5 0 3 2-5 1 2 2-2 2-3 0-1-2 0-4zM426 767l5 0 1 1-2 1 1 1-1 1-8 0-2-1 3 0zM471 767l2 1-2 1-1-1zM597 768l5 1-1 1-4 0-1-1zM810 768l3 1-2 1-11 0-2-1zM856 768l4 1-2 1-3 0-1-1zM610 768l3 0 3 2-4 3-4 0 0-3zM703 769l4-1 6 2 1 0-1 1-7 1zM726 768l10 2 2 2-2 2-5 0-2-2 1-2-4 0-1-1zM846 769l2-1 2 1 0 1-3 1zM920 769l7 1-1 1-6 0-2-1zM965 768l10 1 3-1 5 2-1 1-5 0-2-1-3 1-7 2-5 2-4 0-7-3 3-1 13 0-1-2zM292 769l4 1 2 2-2 1-5-1-1 0zM815 770l3 0 1 0-1 1-3 0-1-1zM862 770l2 0-3 0zM391 771l6 0 1 1-1 2-4 0-3-2zM406 771l9 0 2 1-4 2-5 0-3-2zM485 771l2 0 4 2-4 1-3-2zM905 771l3 0 2 1-4 2-2-1zM933 772l7-1 3 1-7 2-5 0-2-1zM327 773l6-1 4 2-4 2-7 0-2-2zM518 772l3 0 2 1-2 2-1 0-2-2zM553 772l3 1-3 1 0-1zM648 773l3-1 2 1-2 1-3-1zM308 773l7 0 2 3-2 2-7 0-5-2-4 0 8-1zM571 774l2-1 3 1-4 1zM658 774l7 0-2 3 2 1 0 1-7 0-1-2zM692 773l6 1 2 2 2 0 1 1-1 1-2 0-9-2-1 0zM773 774l4 0-4 1zM797 774l3-1 2 1-4 1zM275 775l7 1 1 1-5 2 0 1 4 0-4 1-2 2-6 0-2-1 4-3-8-1 7-1 1-1zM718 775l3 1-3 0-1 0zM780 775l3 0 1 1-1 0-2 0zM813 775l3 1-3 0zM898 775l2 1-2 0-1 0zM287 777l3-1 2 1-2 1zM351 776l3 1-3 1-1-1zM418 776l9 0 1 1-2 2-8-1-1-1zM527 776l1 0 2 2-2 1-4-1zM642 777l3 1-4 1-3-1zM803 777l7-1 1 2-1 1-6 0-4 5-5-1 0-3 6-1zM1006 776l1 0 0 5-5 0-2-2 2-2zM220 777l2 0 2 2-1 1-2 0-2-2zM386 777l1 0 1 2-2 1-1-1zM452 778l8-1 1 1-1 1-3 0-4 0zM511 777l5 0 2 2-2 1-6 0-1-1zM631 777l4 1-4 1-1-1zM751 777l4 0 0 2-2 1-2-1-1-1zM430 778l12 0 1 1 1 1-3 1-3-1-8 0-1-1zM768 779l3-1 2 1-3 1-2-1zM863 779l3 0 0 1-5 2-2 1 1 1 5 0 0 2-5 2 18 0 4 2-5 3-5-3-5 0-4 2-12-3 7-2-2-2-6 0-3 1-17-1-2 3-2 0-6 3-3 1-2-2-5 0-2-3-5 0-6-1 15-2 1-2 7 0 3-2 3 1 11 0 1 1 5 1 5-1 2-2 11 0zM880 779l2 0-1 1zM891 779l7 1-2 1-4 0-2-2zM968 779l3-1 1 1-2 1-2-1zM337 780l3 0 2 0-4 1zM695 780l8 0 1 2-1 1-8 0-2-1zM882 780l4 2 7 1-10 1 5 2-2 2-9 0-1-1 2-2 3-1-2-2zM956 780l2 0 1 2-2 1-4-1zM211 781l2 0 1 1-1 1-2 0-1-1zM500 782l5-1 2 1-2 1-7-1zM543 781l5 0 2 2-5 3-1 1 2 1-1 1-3 0-7-3 2-3 3 0zM758 781l4 0 1 2-1 1-2 0-2-2zM772 782l3-1 2 2-2 1zM450 782l8 0 2 2 5 0-3 1-4-1-7 1-2-1 0-1zM620 782l2 0 3 2-3 1-3-2zM631 782l5 0 1 1-1 1-4 0-2-1zM712 783l3-1 12 0 8 1 1 1-3 2-6 0-1 1-1 2-5 0-1-2 1-1zM743 782l4 1-4 1-1-1zM160 783l3 0 2 1-2 1-3 0-1-1zM498 784l2 0-1 2-2 0-1 0zM586 784l11-1 2 1-2 1-10 0-2-1zM788 784l2 2-3 1zM978 783l3 1-4 4-6 0-1-1 2-2 5-1zM283 785l4 0 3 2-3 2-4 0-2-2zM425 785l3 0 3 2-1 1-5 0-1-1zM518 785l4 1-1 1-3 1-1-2zM528 785l4 0 2 1-4 0zM701 785l4-1 1 2-1 0-4 0-1 0zM753 785l22 0 2 2-5 2-6 0 2 3-3 2-7 0-3-3-12 0-1 2-5 1-1 1-5 0-1-1 13-4-7 0-5 0-2-1 2-1 19 0 5 2 8-1-14-2zM901 785l6 0 1 2-2 1-6 0-1-1zM917 785l4 0 1 1-1 0-4 0-1 0zM252 786l10 0 1 1-6 1-2 2-4 1-5-2 1-2zM577 786l3 1-3 1-1-1zM686 786l4 1-4 2-3-1zM957 786l3 2 1 1-1 2-6-2zM297 788l8 0 3 1-3 2-7-1zM490 787l5 0 1 2-3 2-2 1-1 1 3 1 4-3 3 0 5 0 4 2-2 1-11 0-8 4-7-3-4 0-3-2 2-2 5 0 2-3 5 0zM781 787l4 1-4 1-1-1zM180 788l3 1-1 1-2 0-1-1zM188 789l7-1 0 1 0 1-5 0zM270 789l5 1 12 0 4 2-5 2-4 0-2-2-8-1-1 3-4 0-1-2-6 1-2 2-2 1 7 2 8 0 1 1-4 2-3 1-9-2-5 0-1 4 2 2-1 1 4 0 4 5-2 1 1 0 4-1 13 0 3-3-5-1-5 2-2-2-1-2 2-1 13 0 3-3 7 2 6 3 9 0 1 1 2 0 3 2-1 1-5 1-3-2-6 0-2 2 1 1 8 0 2 1 3 1 3-2 10-1 7 0 1 2-2 2-6 1-6 0-10 2-9 0-1-2-4 0 1-1-4-2-10 0 0 2-2 1 12 0 4 3 6 1 4 2 3 0 1 1-2 3 1 1 0 1-5 0 0 1 2 1 3-1 6 0 1 0-1 2 4 1 7-2-4-2 7-1 2-2-1-2 1 0 5-1 3-1-10-1-8-2 3-1 6 0 1-1 5 0 1-1 8 0 3 1-7 1 1 2 14 0 2 0-4 3-9 1-2 2 0 1 3 0 4-2 6-2 11 2 2 1-4 2 0 1 4 1 0 3 2 0 3-2 6-3 4 0 2 2 6 1 2 1 5 0 1-1 4 0 1 1-1 1-4 3 9 1 1-1 5-1 0-2-1 0 5-1-5-1-1-2 3-2 4 0 5 3-1 3 2 1 1 2-1 1 1 0 9 0 3-2 5 0 2-2 2 1-2 2 3 2 7-1 4 1 5 0 2 0-3-2-10-1-3-2 4-3 5 0 2-2 8 0 6 2 5-2 5 2 3 2-3 1-1 1 5 0 0-2 1-1 4 1 3 2-1 2 1 1 3 1 4 0-4-2 5-4 4-1 9 0 2 2 8 0 1-1 6 0 3-2-7 0-2 1-9 0 0-3 3-3-15 1-3-2 4-1 2-3 7-2 6 0 5-3 2 0 2 2 0 1 1 2 6 0 1 1 9 0 1 1-5 2-7 0-6-1-2 1-2 0-2 2 12-2 2 2-2 1 6 1-1 1 7 1 3-2 6 0 1 1-1 2-5 0-4 3-7 0 9 4-2 2-3 0 1 2 2 0 3-1 12-2 2-2 7 0 2-3-2-1-2 0-2-3 2 0 6-1 2-3 18 0-3-1-12-10-8 1-2 0 0-2-8 0-2-1-10-1 12-2 9-5 5 2-3 1 1 1-2 1 2 3 23 0 3 2 9 0 1 1-1 0-5 1-6 2 11 1 5 1 4-1 0-1 2-1-4-2 1-2-1-1 1-1 7-1 1 1-2 2 4 1 5-3 7-1 2 1-1 3 2 1 4-1 15 0 3-2 5 0 1 1 0 2 11 1-5 2-5 0-1 2 6 0 4-1 9 1 3-1 2-2-13-1 9-1 4-2-9-2 5-4 9 0 1 1 0 2 6 3 6-1 2-2 6 0 4 2-1 3 1 2 2 1-1 1-5-2-13 0 2 2 10 0 3 1 1 1-1 1-3 0-4 3 4 3 21-2 1-2 3 0 1 1 9 0 2 1-4 2-3 0-2 1-6 0-2-1-3 0-2 2-7 1-3 1 0 1 7 0 8-1 3 2 4 0 2-2 0-1 1-1 10-1 1 0-6 4 0 2 2 1-1 1-8 0 0 1 8 1 1 1 9 2 4-1-5-1-1-1 0-1 1-1-3-2 2-2-2-1 1-1 2-1 5 0 1 1 0 1 10 0 2 3 12 2-1 2 3 2-1 1 14 2 1 1 1 3-10 0-1-1-3 1-6 0-1-1 3-1-3-1 1-3-7 0-3-1 0 1 3 1-3 2-9 1 3 1-3 1-7-2-3-3-10 1-3-3-8 1 5 3 9 0 6 2-1 1-8 0-30 0-7 0-4-1-2 1-7 0-76 0-5-1-5 1-67 0 2-1 0-1-2-1-3-1-6 2 1 1 3 1-58 0 4-2 6 0-1-2-6-2 3-1-2-1-6 1-3 1 4 1 1 2-7 3-23 0 0-1-1 0-5 1-62 0 0-2 3-3 0-1-6 0-4-5-4-1 0-3-3 0-2 2-16 0-1 1 10 1 1 1-4 3 12 0 5 4 2 0 3 3-39 0-5-3-13-2-3 2 3 0 3 2 11 1 1 0-41-1 0 1-81 0-3-2 2-1 13 0 13 3 1-3-4-1-1-1-4 0-1-1-7 0-3-1-6 1-5-1-1 0 1-2-1-1 5-2 5 0 1 1-3 2 4 2 5-4 8 0 1-1-5-3-6 0-3 1-11 0-2-1 2-1 6-1-4-1-8 0-4-2 1-1-7 0-1-1 4-3-7 0-2-2 2-2-1-2 1-1 11-1 3 1 6 0 1 1-1 2-9 1 0 2 5-1 3 1 8 1 10-1-1 2-4 1-7 1 1 1 5 3 13 0 2-1 5-1-1-1-11-1-1 0 1-1 9 0-3-4-3-2-10 1-2-2 4-3-8 0-2-2 2-1 5 0 5 3 13 0 3-3 5 0-8 0-2-1 0-2 3-2-2-1 0-1 3-2-4 0-1-2 0-4-4-2-3-3 2-1 6 0 3 1 5 0 1-1 6 0-2-2 1 0 10 0zM633 816l-2 1 6 3 13 0 4 0-2 1 0 1 4 0-1-2 2 0 10-1-9-1-2-2-10 2-5 0-1-3zM258 818l3 2 5-1-4-1zM255 820l-1 2 2 0 2 0 0-2zM628 822l-3 1-2 2-3 0-3 2 3 1 5-1 5-4 1 0-1-1zM261 823l-3 2-2 1 1 1 8 0 3 2 14-3-4-3-8 1-3-1zM664 823l-1 1 6 2-2-1-1-2zM685 823l-5 1-3 2-10 2-1 1 5-1 2 0 2 2 11 0 1-1-1-1 1-1 9 0 2 2-4 1 2 2 0 1-1 1-3 0-2 4 16 0 1 1-1 2-4 2-2 0-2-1-16-1-3 2 3 2 13 0 2 2 5 0-2-1 2-3 15 0 1 3 5 2 6 0 0-1-2-1 0-2-6-3-6-1 3-1 10-1-5 0-3-2-7 0-2-2-5 0-4-2 4-2 6 1 3-2-17-1-6-4-4-1zM292 826l3 0 2 0zM532 827l-2 1 1 0 4 0-1-1zM632 827l9 2 6-1 2-1zM330 829l2 2 5-1-1-1zM587 829l5 1 3 2 3 0 0-3zM278 830l3 1 2 2-7 5-6 0 7 4 5-1 9-1-1 0-5-3 3-3 0-1 6-3-4 0-3 1-4-1zM622 830l0 2 9 0-1-2zM661 830l1 1 3-1zM465 832l-4 1 4 1 5-1zM644 832l-3 1 4 3 10-2-7-2zM602 833l-6 2-9 0-2 2 11 0 4-1 5 0 2-1 5-1 2-1zM257 836l-1 1 3 1-2 1-5 0-4-1-5 2-2 0-1 2 3 0 7-1 3 0 3 1-2 1 3 0-1-1 2-1 9-1-2 0-3-2 2-1-3-2zM332 836l1 1 2 0 2 0 2-1zM768 836l-1 1 4 1 5 0 3-2zM486 837l1 1 3 0zM622 838l0 1 6 2 8-1-10-2zM328 839l0 1 0 1 9-1-1-1zM423 840l3 2 3-2zM529 840l3 5 3 0 1-1-1-3-3-1zM566 840l-1 2 2 1 8-1-4-2zM641 840l1 2 4 0-1-2zM403 843l0 3 5 0 3-2-3-1zM500 843l3 1 2 0 1-1zM263 844l0 2 2 0 6-2zM291 844l5 1 2 2 4 1 2-1-8-3zM447 844l3 2 6 0 2 0 0-2-7-1zM561 844l-2 2 2 1 5 0-1-1 1-2zM355 847l2 1 6 0 6-1zM520 847l2 2 3-1-2-1zM533 848l6 0-3-1zM330 788l3 0 1 1-1 2-1 0-4-2zM431 789l3 0-3 2-1-2zM660 788l6 0 4 2 1 3 6 3-2 0-5 0-4-1-5 3-5 0-2-2 2-2 1-4zM928 788l3 0 1 1-1 1-3 1-1-1zM630 790l6 0 1 1-2 2-5 0-1-1zM642 790l1 0 5 0 3 0-1 1-5 0zM845 790l3 0 1 0-3 3-4 0-1-1zM940 790l6 0 2 2 5 1-5 3 1 1-2 2-5 1-5 0 0-1 5-1 2-2-4-4-1-2zM216 791l1 0 1 2-1 1-2 0-1-1zM792 791l3 0 5 4 8-1 5 3-2 2-6 0 0 1 0 1-4-1-3-2-5-1-3 1 0 1 0 1-5 3-4-2-6 0-3-1-9 0-1-1 1-1 8 0 4 2 2 0 7-3-2-3 8-1zM180 792l3 0 2 1-4 1-2-1zM357 792l4 1-3 1-2-1zM398 792l4 1-4 1-1-1zM698 792l2 1-2 1-1-1zM817 793l3-1 1 0 1 3 8 0 0 2 0 1-12 1-4-3 1-2zM990 793l17 1 0 4-17 0-1 0 5 2-2 1-5 1-1 1-6 0-3-1 0-2 3-1 1-2 5 0-6-2-2-1 2-1 3 0 2 1 7 1 2-1-4-1zM191 793l6 0 1 3-5 2-1-1-2-3zM336 793l5 1 1 2 6 0 2 1-3 2-2 0-3 2-6-1-3-2 1-1-2-1zM433 793l5 0 3 3-1 0-8 0-1 0zM745 794l2-1 3 2 10 0 1 1-1 2-8 1-10-3zM858 794l3 0 0 2-3-1 0-1zM887 793l3 1-2 1-1 0-1-1zM148 795l2 1-3 0 0-1zM221 795l4 1 3 3-1 1-9 0-1-1 1-2zM296 795l2 0 1 1-1 0-2 0-1 0zM447 795l3 0 5 1 0 1 0 1 1 0 7 0 2 1-11 4 2 3 3 1-3 1 4 2 0 1-9 0-6-2-7 0-5-3-12 2-3 1 0 1 2 3-1 1-1 1-4 1 0 2 2 1-1 2-4 0-3-2 1-1-3-2-4-2-5 0-1-1 1-1-1-1-16 0-3-2-2 0-7 1-3-2 2-2 5 0-2-2 1-1 7-2 4 0 2 2 5 1-6 2-2 2 4 2 5-1 3-1-3-1 2-1 6 0 2 1 2 0 9 5 3-3-3-2 1-1 11 0 3-3 7 0 4 2 4 2 2 0 8-2 1-2-2-1 2-2-7 0-4-2 8-1zM395 808l0 1 3 1 1-2zM626 795l20 0 1 2 0 1 2 1 0 1-1 1-7 0-3 3-2 0-1 2-3 0-1 0 2-2-2 0-3-2 2-2 11-1 3-1-8 0-4 1-2-1-5 0-1-1zM690 795l3 2 8 0 2-1 9-1 4 1 2 3-1 1-21 0-3 3-13 1-3 1-6 2 0 1 1 0 9-2 1 1 0 1-3 1-1 1 6 2-8 3-1-1 1-1-2-1-11-1-4-3 4-1 2-1-2-2 2-1 17-1 1-1 4 0 4-2-1-1-12-1zM912 795l3 0 1 3-1 1-3-2-1-1zM972 795l3 0 1 1-3 1-2-1zM505 796l8 2-8 1-5 3 5 1-2 1 5 2-8 0-3-3-2-1-1-2 3-1 6 0zM852 796l1 0 4 2-4 2-6 0-2-1 1-1 1-1zM360 797l2 0 4 3 1 0-1 3-1 1-5 0-4-4 0-1zM563 797l5 0 6 2-7 3 3 1 1 1-1 1-13-2 1-2 3-1zM583 797l3 1-1 1-2 0zM725 798l10 2 1 0-2 3 1 1 8 6 12 0 2 2 4 1-4 1-4-1-3 0-3 2-6 0-6-2-3-3-9 0-1-1-2 0-5 1-5-3 1-2 2 0 5-3 8 0-1-1-2-2zM727 804l-1 2-7 1 8 0 1-1 5 0-1-2zM835 797l2 1-2 1-2-1zM292 798l19 0 5 2-1 1-8 1 4 3 6 0 3 2 6 0 2 1-2 2-5 0-8-4-8 1-4-4-5-3-5 1-2-1zM393 799l7-1 2 2-1 1-8 0-3 2-6-3 2 0 6 0zM908 798l3 0 2 3 5 0 1 1 0 1 3 2 4 0 5-3 16 1 0 1-1 1-5 0-1-1-7 0-1 2 6 3-2 3-1 1-4 0-3-2-2 0-5-3-5 0-2 1 4 1 1 0 0 2 7 1 2 3 0 1 5 2-3 3 3 2 8-1 2 4-1 1-2 2 13-2 7 5 5 0 2-2 5 0 3 2 1 0-1-3-5 0-4-1-3-2 3-1-4-3 2-1 0-2-16-1-3-3-3 0-2-2 3-2 8 1 11-2 5 2 5 0 2-1-5-2-1-1 2-1-2 0-1-2 1-4 3 0 1 1 0 1 3 2 0 2 4 2-1 2 2 1-2 2-3-1-2 1 1 2-6 2 0 1 2 2 7 2 14 1 2 1-3 2 6 0-1-1 2-1 10 1-1 3 1 1 0 5-2 0 1-2-4 0-7-4-4 2 4 2-2 1-5 0-3 3-10-2-2 2 1 1-1 2-9 1-3 2 1 2 1 0 7-3 7 0 2 1-3 2-8 1 0 2-43 0-13-1-2 0-1 1-6 0 0-1 3-1 1-1-2-2-3 0-5 0 6 1 2 0-2 1-10 1-5 2-57 0-4-1-5 1-3-2 2-1 4 0 2 2 8-2 6 3 9-3 3 0 1 0-8-1-2-1 13-2-2-2-9 0-1-1 1 0 6-2-7-1 12-3 3 0 3 4 7-1 7 1 9 6 4 0-1-3-9-2 6-2 5 2 4-1 13 0 2 1 0 2 5 0 2 0-1 6 4 0 1-1 5 0 4 2 5 1 8 0 2-1 11 0 1-1-6-1-1 1-3 1-11-1-2 0 3-3 11 0-1-2-10 2-4-2-2 2-4 0-5-4 8-2-3-3-10 0-2-3-10-1 8 3-2 2-5 0-4-2-10-2-3-2 8-3 4 1 5 0 4-3-7 0-2-2 2-2-3-1 6-2 1-2 9-3-4-2-5 0-2-2 2-1 4 0 1-1-16-1-2-1 4-2 7 1 4-3-2-1zM955 814l2 2 8 0-2-2zM913 816l3 0 3 0zM917 819l-4 2-2 1 4 1 9 0-2-1 1-2-2-1zM928 826l-3 2-9-1-3 2 8 1 2-2 5 0 3-1-1-2zM932 832l-3 1 4 1 0 3 5 1 8 0-4-1 3-1-1-2-4 0-3-3zM950 837l-3 1 2 1 3 1 6-2zM867 839l0 2 3 0 1-2zM867 844l-1 2 2 0 2-2zM892 846l3 0zM148 800l5 0-3 1-2-1zM583 800l4 0 1 0-1 3-1 0zM662 800l2 0-3 0zM178 801l3 0 1 1-1 1 2 2 10 0 1 2-11 2-6-1-1-3-4-1zM207 801l5 0 5 1 6-1 2 0 1 2-5 1-3 2-6 2-1-1 3-1-2-2-8-1zM536 801l3 1-2 2-1 0-1-1zM748 802l3 1-1 1-3 0-1-1zM546 802l5 0 1 1-1 1-5 0-1-1zM757 802l6 0 4 2-2 1-5 0-2 1-3 0-1-2zM810 802l2 0 1 1-2 1-2-1zM876 803l5 1-4 2 4 1-1 2-10 3-3 2-7 0-2-1 2-2 3-1 0-1 0-1-1-1 1-1 3-1 7 0zM992 802l5 1-1 3 2 1 9 0 0 6-11 0-4 1-9-1 3-2 8-1-1-1-2 0-1-1-1-2zM336 804l4 0-3 1zM786 804l10-1 1 3 4 0 1 2-1 1-9 0-5-1-2 1 0 1-1 2 8 0 3-1 8 0 2 1 5 1 2 3-1 0-9 0-1 2 1 2 6-1 2-1 17 0 3-1 5 0 5 1 6 0 2 1-3 2-3 0-4-1-7 0-1 1-2 1 7 3 4-1 0-1 1 0 5 2 11-2 1 0-2-3 2-2 4 0 1-2 4-1 5 0 1-2 5 0 1 3-2 2 1 2 6 0 2 2-7 0 1 1-1 1 4 1 4 3-1 1-7-1-1-3-5-1-4-3-7 0-2 2 6 3-7 3-6 0 0 1 1 2-2 1-6-3-4 0-5-2-3 0-1 4-3 1 0 1-1 1-12 1-5-1-2-3 3-2 3 1 11 0 3-3-2-1-4-1-3 2-13 0-1 2-3 1-3 0-4 2 2 2 10 1 6 3-1 2-5 2-1-3-5-2 1-1-3 0-3 1-5-2-2 0 2-2-1-1-3-1-3-2 2 0 6 0 5-3-12 0-3 2-5 0-2-1-13 0-2-1 2-2 11-1-1-1-10 1-5-1 4-3 1-3-1-1 0-2 6-4 0-2 4 0 4 2-4 5-2 0-2 2 12 5 5 0 2 2 7 0-1-1-3-1 0-2-4 0-5-3-1-1 2-2 0-2-6-5 4-2zM817 823l-1 1 2 2 7-3zM843 804l2-1 11 0 1 3-1 0-3 1 1 2-1 1-10 0-3 1-5 0-13 0-1-1-5 0-4-2 1-1 5 0 4 3 4 0 0-3 2-2 2 0 11 1 1 1 7 0-3-1zM230 805l4 1-3 0zM541 805l5 0 3 2-1 2-3 0 1 1 0 2-4 2-4-1 5-1-1-1-7 0-3 2-11-3-4 3-9 0-1-1 1-2 5-2 3-2 9 1 2 1 10 0zM742 805l3 0 0 2-3 0-1-1zM601 806l6 0 5 4-1 1-8 0-3 2-3-3zM148 807l5 1 4 2-2 1-3 0-5-2 0-2zM351 807l2 1-2 1-1-1zM581 807l2 0 3 2 4-1 1 2-1 1-4-2-8 1-1-1zM613 807l4 0 1 1-1 1-2 0-2-1zM942 807l4 0 2 1-3 2-3 0-2-1zM228 809l5-1 2 4-2 1-3-2zM340 808l8 0 1 1-1 2-1 0-7 0-3-1zM490 809l2 0 3 0-4 1 1 2 6 0 1 1-2 1 4 3-1 1-4 1-6-3-4 0-8 0-7 4 5 2 5 0 4 2-2 1-16-1-2-1-5 0-1-1-1-2 7-5 3-1 14-1 7-3zM890 809l3-1 3 2 4 0-9 1-2-1zM331 810l2 0-3 0zM195 811l4 1-2 2 1 2-1 0-4 0-2-1-6 0-3 1-6 0 0-2 2-1 10 0zM433 811l7 0 2 2-4 2-1-1-7 0-2-1 2-1zM208 812l5 1-5 1-1-1zM388 812l3 1-3 1-1-1zM448 812l3 1-3 1 0-1zM155 813l2 0 1 1-1 3 3 0 5 5 1 1-3 1-5-2-5 1 0 1 4 2-4 0-4-4-2-1 0-1 5-1-3-2zM172 814l4 0-4 1-1-1zM365 813l15 0 1 1 0 2 0 1-1 1 1 1 5-2 4 0 1 1-4 2 5 1 5 3 2 3-3 2-9 0-1-1 1-1 4 0 1 0-1-1-3-2-6 0-1-1-4 0-1 2-6 0-1-1 2-2 5 0 0-3-4-1-6 0-3-4zM548 815l12 1 5-1 3 1 4 2 8 1 6 4-1 1-7 0-3-3-2 1-2 0-3-2-6-2-14 0-2-1zM432 816l5 0 3 1 3 0 5-1 4 1 2 2-5 1-3 3-5 0-1-1 0-2-5-1-5 0 4 3-4 2-4-1-3-4 2-2 6 0zM740 816l5 0 1 1-4 1-2-1zM883 817l5 0-6 0zM993 816l3 1 7 0 4-1 0 3-6 1 4 2-1 1-6 2-12-2-2-3zM180 817l3 0 2 1-3 3-5 0-1-1 0-1zM358 818l3 0 1 1 0 1-2 2-3-1-1-1zM896 819l3 1-2 2 0 1-1 1-2-1 0-3zM495 820l2 0 3 2-3 2-9 0-2-1 2-2 5 0zM555 820l2 0 2 0-2 1zM731 820l10 0 3 0-4 1-4 0-4 0-2-1zM952 822l5 0 1 1-5 2-2-2zM313 825l4 0 1 1-1 0-4 0-1 0zM423 825l2 1-2 0zM163 826l7 1 2 3 6 2-4 2 7 0-1-1 1-1 9-3 13 4-7 3 0 2-4 2-4 0-1-1-7 0 3 2 8 1 1 1-2 2-4 0-1-1-7 1-5 0-2 1 2 1-1 0-2 1-2-1-3-4-7 0 0 1-1 1-10-1 0-3 3-1 3-1-2-1 3-1 0-1-6-1-1 1 0-4 15 3 10 3 4 0 0-1-3-1-1-2-5 0-2-1-5 0-2-1 0-2-1 0-6 1-2-2 2-1 5 0 1-1 5 0zM405 826l2 1-2 0-1 0zM427 827l6 0 2 1 5 2 6-2 3 1-7 4-10 0 1 1-1 1-4 1-4-2 6-2-4-4zM868 829l5-1 4 2 3 2 1 2-3 1-3-2-7 0-2-3zM836 834l2-1 4 3-6 1-3-1zM207 835l4 0-3 1-2 0zM996 839l6-1 2 1-2 1-5 0-2-1zM823 840l13 1 3 3-2 1-6 0-1-1 3-1-1 0-4 1-5 0-2 1-4-1zM981 841l4 0 1 1-1 1-4 0-1-1zM1002 842l5-1 0 4-5 0-2-2zM148 846l4 2-5 0 0-2zM177 846l8 0 2 1-4 1 0 1-24 0 1-1 12 0zM991 846l10 0 2 3-13 0zM1006 846l1 0 0 2-2-1zM195 848l8-1 6 2-12 0z"/><path fill="#26bda2" d="M148 664l859 0 0 37-4 1 2 2-3 2 1 2 4 2 0 5 0-2-2-2-5-1-10 0 9 4 1 2-3 1-2 0-1 0 1-1 0-1-4 0-1 1 2 1-1 1-5-3-14-1-1 0 6 0 0 2-7 1-11-1 5-2-2-2 1-1 4-1-1 0-5 0-11 3-3-1-6-1-4 4-4-2-2 1 4 2 2 2-2 2-10 2-7-1-1-1-11-1-5 1-4 3 1 3-5 4-5 0-5 4-3 0-5-6 1-1-1-1 2-2 8 0-1 2-3 1 4 0 11-4-6-3-4 0-3 1-5 1-2-3 3-2-1-3 5-1 1 1-2 4 1 0 3 0 1-1 5 0 5 2 6-2 9 0 10-2 4-3 7 1 2-1 0-2-12-1 1 1-1 1-6 2-1 1-10 0-2-1 2-1 0-2-4-2-2 0-4 2-10-1-4 2-10 0-1 1 2 1-1 1-6 2 3 1-3 0-3-1 0-3 2-1 0-2-2 0-6 0-6-2-8-1-2 1-3 3-5 0-3-2 0-1 5-2 4 0-1-1-5-1-3-2-1-4 1-2-25-4-10 2-9-1-1 2 1 2-3 2-8 0-9 7-9 0 0 2-2 2-5 1-4-1-3-3-6 0-2-1-1 0 1-1 3-2-2-2-9-1 19 0 1 0 0 2 5 0 3-2 5-1 5 1-1 3 3 1 1-2-2-2 9-4 4 0-26-2-8-1-7-3-10 0-2-1-6 3-8 3-1 2-1 1-4-1-8 1-7-1-3 1 5 2-1 2-2 0-2-1-5 0-7 4-5 0-2 2 5 2-2 1 3 3 0 2-15 0-3 3 6 3-12 1 11 1 3 2 6 0 5 3 1 1-1 1-10 2-8-1-1-2-3-1 1-2-5-2-4-1-4 0-4 0-1-1 0-2-9 4-12 2-5 3 0 3-1 0-19 0-3 1 5 3-3 1-4 0-1 0 1-1-1 0-9 6-10 2-13 4-25-1-13-3-12-6-2 0-6 3-4 0-15-6-8 0-10 2-22-5-5-1-13 5-15 1-13 7-7 0-11-3-15 3 3 3 7 0-1-1 1-1 4 0 0 1-1 1 2 1 6 1-6 1-6 2-5-2-5 0-3-1-2 1-6 0-3-2-4 0-13 2-4-1-10 0-2-2 1-1-10-1-9 5-13 3-5 1-1 1-16 0-8 2-3 0-8-4-12 4-15-2-12 2-21-3-5 0-10 2-7 7-7 2-1 0 0-101zM707 678l-11 4 9 0 15-3-2-1zM801 680l6 0-5-1zM743 682l8 0-3-1zM859 683l3 1 12 0-6-1-7-1zM931 683l-2 3 12 0 3-2-3-2zM794 688l-3 1 10 1 1-1-2-1zM829 688l-4 1-1 1 2 2-5 0 2 2 7 0 5-1 6-3-4-1 1-1-1 0zM904 688l6 1 1-1-5-1zM758 689l-4 1 0 2 3 0 6 0 4 1 6-1zM928 693l-2 1 6 1 2-1-1-1zM855 696l5 2-3 2-21 0 9 1 0 1-5 2 2 0 23-1 7-1-7-6-8-2zM899 696l-3 1 4 0 3-1zM679 697l2 0 4 0zM932 697l-1 1 9 0-4-2zM908 699l-2 1 10 2 3-2-3-1zM894 700l-3 2 7 1 3 0 1-1-4-2zM932 702l-2 1 7 0 3-1zM874 703l-1 2-12 2 0 1 1 1 9-1 2-1 9 0 5-3-1-1-5 1zM915 703l5 0-4-1zM747 704l-4 2 2 0 10 0 2-2-5 0zM958 704l8 2 5 0 2-2-6 0zM908 706l-1 1 1 1 5-1-3-2zM947 707l-1 1 6 0 0-1zM653 708l12 0-3-1zM651 709l3 0-1-1zM649 710l-2 3 3 0 4-1-3-2zM645 716l-6 3 8-1 2-1-3-3zM492 736l-3 2 6 0 2-2 3 0-4-1zM500 737l1 1 2-1-2-1zM731 692l2 1-8 3-1 1 2 1-4 3-5 0-2-1-2-2 7-1 2-1 0-3 4 0zM741 694l6 3-6 0-4-1 0-1zM816 696l2 1-2 0zM821 699l3 0-3 1zM781 700l1 0 4 0 3 2-6 2-3-2zM790 700l3 0 2 2-2 1-1 0zM803 700l3 3-3 1-2-2zM815 700l2 0 3 0-3 1zM820 703l5-1 3 2-2 1-5 0-2-1zM692 705l5 2-1 3-6 0-3-2 0-1 5 0-1-1zM708 705l15 1 4 2-5 1-1 1 4 1 5-2 1 0-2 3 1 1-3 2-5-3-12 1-1 4 4 2-5 1 0-1 1-1-4-1 0-1-5-3 2-1 0-4zM777 705l6-1 4 2-2 1-3 1zM807 706l8 0 5 2-5 2 3 3 0 3 4-1 1-1 8-1 0 3 4 3-3 1-2-1-7 0 0 1 6 3 0 1-2 1-6 0-4-4-6 1-1 0 6-4 0-1-5-1-2-2-3-1-6 1-3-1 3-2 6-1zM772 708l1-1 10 2 13 0-18 2-5 3-3-2zM736 711l14 1 1 1 0 1-1 1-3-1-12 0-3-1zM846 712l3 2-1 1-6 0-1-1zM757 714l4 0 1 0-4 1zM947 713l4 0 3 3-3 1 1 1 5 1-1 2 9 0 2-3 6 0 10 3 1 1-2 1-5 0-2-2-9 1 7 3 9 0 3 3-5 1 2 2 3 1-1 1 3 3-4 0-1-2-4 0-5-2-6 1-1-1 0-3-7-2 4-1-7-1-1-2-4-1-3-2-4-2 0-1zM972 728l-5 1 8 1 1-2zM771 716l2 0 0 1-2 0-1 0zM685 718l3-1 1 1 1 2-3 4-9 0-2-1 0-1 4-1zM717 718l6-1 3 2 7 0-6 1-4 3 0 1-3 2-5 0-3-2 0-1 3-2 4-1 1-1-3-1-1 0zM743 718l9-1 1 1-5 2-5 0 0-1zM853 717l6 1-6 1-1-1zM781 719l9 0-7 3-10 0 7-2zM793 719l5 0-2 1-4-1zM992 719l5 0-2 2-3 0-2-1zM800 720l5 0 1 0-5 1-2-1zM936 721l5 0 6 2-10 2-3-2zM1007 721l0 4-2 1-8 0-2 2-7-1 3-1 2-4 3 0 2 1 7 0zM702 723l2 0 2 3-1 0-8 0 3-1zM735 722l3 1 0 3 5 1-2 2-11-1-2-1 6-1zM758 724l10 0-5 4-7-1-3-1zM772 725l11 0 2 1-8 2-6-1-3 6-3 0-3-1 2-2 0-2 6-1zM853 725l5 3-5 1zM905 725l5 2-5 1-4-1zM622 727l16 0 3 2-8 1-3 2 3 4 0 3 4 1 0 2-2 1-3-1-4 1 0 1 3 1 1 2-4 3-6 0-2-2 2-2-10-3 4-1-1-2 4-1-1 0-8 0-4-2 2-1 5 0 3-2 6-1 2-1-1-2-5-2zM928 727l2-1 22 0 2 1 0 1-14 2-9-1zM712 729l3-1 2 2 1 2-7 1-2-3zM752 728l4 1-1 1-3 0-1-1zM786 729l5 0 2 1 0 2-5 0zM833 730l5 0-3 2-2 0zM990 730l7 0 1 0-7 4-4-2zM912 732l9-1 3 3-8 1zM948 731l4 0 2 1-2 2-2 0-2-1zM775 733l5-1 3 2-3 1-9-1zM847 732l4 1-3 1-2-1zM891 733l4-1 2 1-5 1zM647 734l5 0-5 1-1-1zM685 734l11 0 1 1-1 1-12 1 3 1 6 0 2-1 10 1-3 2-4 0-5 3 13 1 0 2-15 0-3-1-6 0 0-2 5-1-11-3 1-2 5-1zM735 734l4 0-4 1-1-1zM1005 734l2 0 0 10-4-1 0-2-6-1-1-1 5-2zM663 735l3 1-3 0zM748 735l4 2-1 0-4 0 0-1zM788 735l6 1-6 1-3 3 8 1 3 1 0 1-7 3 2 1 0 1-6-1-1 0 2-1 0-2-5 0-2-2 2-2-5-2 2-2 9 0zM812 735l10 0 1 1-5 1 1 1-2 1-5-2zM886 735l11 2-4 1 1 1-3 2-12-2-1-1zM956 735l3 1-2 0-2 0zM430 736l3 1-3 0zM443 736l4 1-4 0-1 0zM936 736l2 0 2 2-4 1zM977 736l4 1-3 2-2 0-1-1 1-1zM850 737l2 0 4 2 1 1-4 2-5-4zM403 739l4 0-2 1zM450 739l3-1 3 1-6 2-2-1zM640 739l4 0-3 1-2-1zM473 740l9 2-7 1-3 1-2-1 1-2zM716 740l1 0 9 0 2 0-11 1zM591 742l4-1 7 1 2 4-4 2-8-1-6 2-1-2-3-1 3-1 2 1 5-2zM670 741l2 1-1 1-2-1zM810 741l5 0 2 1-7 2-1-1zM922 741l6 1-5 1-1-1zM932 741l5 0 1 1-5 0-2 0zM971 741l4 1-4 1-1-1zM982 742l5 1-2 1-5-1zM396 742l2 0 2 1-3 2-2 0-1-1zM818 743l3 0-3 0zM896 743l2-1 2 2-3 1-2-2zM638 744l4 0-2 1-3-1zM662 744l10-1 1 3-2 1-8 1-3-2zM716 744l7 0 5 1 6 3 0 4-2 0-6-4-10 1-5-3zM427 745l1 0 2 1-2 1-3 1 5 1 3 2 3 3 2 0 0 2 1 1-1 1-2 0-4-1-5-6-6 0-4 3-2-1 3-4 4-1zM651 745l7 0 0 2 4 1-4 2-6-1-5 1-4-1 5 0zM882 745l11 1-10 1-2-1zM970 745l8 1 2 2-8 2-3-3zM993 745l7 0 1 1-2 2 2 2-10 1-1-1 1-1 3-1-3-1zM398 746l5 1-2 1-3 1-1-1zM412 746l4 1-3 2-2 0-1-1zM847 746l4 0 1 2 3 0 6 3 10 0-1-2 1-1 9 1 2 1-1 1-8 1-3 2-7 0-2-2-10 1-3-1 7-2-3-2-5 0zM923 746l4 1-4 0-1 0zM952 746l3 0 2 3-11 3-4 0-9 3-9-2 4-2 9 1 5-2 4 0 4-2zM386 748l6 1 6 3-1 1-1 2-4 1-7 0-7 4-5 0-2-1 1-1-2-1 1-1 10 0 1 0 0-2 5-1 5 0-7-3 1-1-1-1zM462 747l4 0 1 2-2 1-4-2zM298 749l7 0-1 1 3 1 1 1 1 1-2 1-7 0-1-1 1-1zM510 749l10-1 2 1-2 1-8 0-2 0zM596 749l5-1 1 1 0 1-2 1-4-1-1-1zM400 750l2 0 4 2-5 1-2-1zM481 750l3 0-4 0zM587 750l3 0 0 2-3 0-1-2zM673 750l3-1 2 2 4 0 4 3-6 1-2 2-2 0-4-1 0-2-4-1 3-1zM801 750l3 0-3 1zM317 752l4-1 7 2-11 2-1-1zM347 751l9 2-1 2-5 0-3-2-1-1zM458 751l5 0 3 2-8 2-8-1zM486 752l2-1 2 1-3 0zM515 751l1 1-1 1zM551 751l4 0 6 3 6 2-2 1-12 2-1-1 1-1 4 0-4-2-5 0-1-1zM608 752l7-1 1 2 0 1-6 1zM763 752l10-1 1 3-2 3 3 1 6 0 1 2 8 0-3 2-10-2-5 3 0-2 2-2-1-1-7 1-1-3-4-2zM827 752l6 0-5 0-2 2-3-1zM443 753l4 0-2 1-2-1zM625 752l5 1 0 1 3 3-7 1-3 0 0-4zM653 752l3 0 4 1-4 1-4-1zM996 753l4-1 1 1 0 2-4-1-5 1-2-1zM540 754l2 0 2 2-3 1 6 3 0 2-4 0-7-3 0-1 3-1 0-3zM592 754l1 0 7 3-2 1-7 4 1 1-1 1 2 2-1 0-4 0 1-2-2 0-6-1-3-3 3-2 12 0 1-1-2-1zM808 754l3 0 3 3-6-1 0-2zM837 754l5 0-5 1-1-1zM970 755l2 1-1 1-2-1zM977 755l2 1-3 0zM315 756l2 0 1 2-6 1-1-1zM731 756l2 1-2 0-1 0zM857 756l10 0 2 1-6 2-7-1-1 0zM987 756l3 0 0 1-3 1-1-1zM287 757l2 1-2 1-1-1zM968 757l4 0 2 1-1 1-5 0-1-1zM173 759l4 0-2 1-2-1zM636 758l7 0 2 2 3 2-8 6-4-1-2-1 6-3-5-3 0-1zM692 759l3 0-3 2-3-1zM703 759l4 0-2 1zM717 758l11 2-2 4-3 0-6-3-1-2zM913 758l6 1-4 1-2-1zM382 760l5 0-5 1-1-1zM478 760l7-1 2 1-5 1-1 1-6 0zM618 760l9 0 1 0 0 2 3 2 1 2-7 0-2-3-3 1-6-1zM418 761l2 1-1 2-2 2-5-1-1-1zM527 761l5 0 2 1-7 2-1-1zM666 761l9 0 1 2 5 1 3 2-2 1-9-1-5-3-3-1zM818 761l4 0 3 2-3 0-4-1zM842 761l5 2-2 0-3-1-1 0zM265 762l4 1-6 2-1-1zM286 763l11-1 1 1-2 2zM763 763l7 0-5 1zM280 764l3-1 2 1-4 1-2-1zM437 763l3 1-3 1-1-1zM473 764l5 0 3 1-6 1-2 0zM710 764l6 0 1 0-1 1-5 0-2-1zM775 764l3 0 8 3 1 1 4 1 3 1-4 2-13-3-4-3zM895 764l3 1 3 3-6 2-1 0 2 2-2 1-6 2-1 1-6 2-11-2-4 1-7-1 8-1 6-5 3-3 17 1 0-2zM937 764l4-1 1 1-4 1-2-1zM310 765l3 0 1 1-2 2-3-2zM330 765l2 0 3 2-5 2-7-1 2-2zM606 765l5 2-1 1-7-1zM720 765l3 0 1 1-3 0-2 0zM752 765l4-1 2 2-1 0-5 0-1 0zM860 765l5 0 1 1 0 1-5 0zM1003 765l4 0 0 6-9-1-3 1-3-2 8-1zM241 767l2 1-1 1-3-1zM406 766l4 0 1 1-3 2-6 0-7-1 10-1zM527 767l5-1 2 1-6 2-2-1-1 0zM572 766l9 0 3 2-2 1-6 0-5-2zM148 768l2 1 0 1-3 0 0-3zM347 767l6 0 1 2-1 1-5 0-1-2zM367 767l5 0 2 2-4 1 2 2-4 2-2-2 0-4zM426 768l4-1 2 1-2 1 1 1-1 1-10-1 3 0zM598 768l4 1-4 1-2-1zM676 767l5 0 1 1 4 1 3 1-4 1-4 3-9-1-1-1zM750 767l5 0 3 2-12 2 0-2zM770 768l4 0-3 1 3 3-4 2-7 0-2-2 5-1 4-2zM913 768l4-1 1 1-3 1zM310 769l2-1 5 0 1 1-1 2-7 1-2-2zM610 768l3 1 2 1-3 2-4 0 0-2zM705 769l9 1-1 1-7 0-2-2zM726 768l10 2 2 2-2 2-5 0-2-2 1-2-4 0-1-1zM800 769l11-1 2 1-14 0zM847 769l2 0 1 1-3 1-1-2zM855 769l2-1 2 1-3 1-2-1zM921 769l5 1-1 1-6-1zM965 769l9 0-2 2-7 2-5 2-4 0-6-3 2-1 13 0-1-2zM977 769l6 1-1 1-7-1zM292 770l4 0 1 2-5 0-1 0zM815 770l4 0-3 1-2-1zM391 771l5 0 2 1-1 2-4 0-3-2zM407 771l8 0 1 1-3 2-5 0-2-2zM485 771l5 2-3 1zM906 771l3 1-3 2-1-2zM935 772l7 0-4 0-2 2-6-1zM327 773l6-1 3 2-3 2-7 0-2-2zM518 773l3-1 1 1-1 2-1 0zM308 773l7 1 2 2-2 1-5 1-6-2zM572 774l3 0-2 1-2-1zM658 774l5-1 2 1-3 3 3 1 0 1-7 0-1-2zM692 774l5 0 3 2 3 1-3 1-9-2zM798 773l3 1-3 1-1-1zM781 775l3 1-3 0-1 0zM272 776l4 0 7 1-5 2-3 4-5-1-2 0 5-3-1-1-7 0 6 0zM288 776l3 1-3 0zM351 776l2 1-2 0zM418 776l10 1-2 1-8-1zM528 777l2 1-2 1-4-1zM810 777l1 1-8 1-3 5-3 0-2-2 1-2 5-1 2-2zM1006 776l1 0 0 5-5 0-2-2zM220 777l2 1 2 1-3 1-2-2zM386 777l1 0 1 2-2 1-1-1zM453 777l7 0 0 1 0 1-7 0-1-1zM511 777l4 0 2 2-1 1-6 0-1-1zM631 777l3 1-3 1-1-1zM640 777l2 0 3 1-4 1-2-1zM751 778l4 0-2 1-2-1zM430 779l12 0 2 1-3 1-3-1-7 0-2-1zM768 779l3 0 1 0-2 1zM863 779l3 0 0 1-6 2-2 2-2 1-5 0-3 1-8 0-3-1-7 0-2 3-2 0-6 3-10-1 0-2-2-1-10-1 14-1 1-3 7 0 3-2 3 1 11 0 1 1 5 1 5-1 2-2zM891 779l6 1-4 1-1 0zM970 779l2 0-1 1-3-1zM338 780l3 0-4 0zM695 780l7 0 2 2-2 1-7-1-2 0zM957 780l1 1 0 1-4 0zM211 781l3 1-3 0-1 0zM501 782l4-1 1 1-3 0zM543 781l5 0 2 2-5 3-1 1 1 1 0 1-3 0-6-3 1-3 3 1zM758 782l3-1 2 2-3 1zM773 781l3 1 0 1-1 0-3-1zM881 781l11 2-11 1-1-2zM450 782l7 0 2 1-4 2-4 0-2-2zM620 783l2-1 3 2-3 1zM631 783l1-1 4 1-4 1zM713 782l14 0 8 2-2 2-7 0-1 3-5 0-1-2 1-1-8-3zM743 782l3 1-3 1 0-1zM160 784l3-1 1 1-3 1-2-1zM461 784l3 0-4 0zM498 784l1 0 0 2-2 0zM586 784l11 0 2 0-2 1-10 0-1 0zM860 784l2 0 3 0 0 2-5 2 1 0 17 0 4 2-5 2-5-2-5 0-4 2-11-3 5-1 1-1-1-1 0-1zM978 784l3 0-4 3-5 1-2-1 3-2zM285 785l2 0 3 2-3 2-4 0-1-2zM425 785l3 0 2 2 0 1-5-1-1 0zM518 785l3 1-1 1-2 0 0-1zM530 785l3 1-3 0-2 0zM701 785l4 0 0 1-3 0-2 0zM755 785l18 0 3 2-4 2-7 0-16-2 4-1zM878 785l4-1 5 2-2 2-8 0-1-1zM901 785l5 0 1 1 0 1-7 0-1 0zM917 785l5 1-5 0-1 0zM253 786l8 0 2 1-6 0-2 3-5 0-4-1 1-1zM577 786l2 1-2 0zM686 786l3 1-3 1-2 0zM490 787l5 1 0 1-2 2-2 0-1 2 3 1 4-3 3 0 5 0 4 2-2 1-11 0-8 3-7-2-4 0-2-2 1-2 5 0 2-2 5-1zM781 787l4 1-4 1-1-1zM956 787l1 0 3 0 0 2 0 1-4 0-1-1zM180 789l3 0-2 1-2-1zM190 789l5 0-5 1-2-1zM270 789l17 1 4 2-4 2-5 0-2-3-2 0-6 0-1 1 1 1-1 1-3 0-2-2-7 1-1 1-3 2 8 2 8 1 1 0-4 2-3 1-9-2-5 0-1 4 1 2-1 1 5 1 2 1 1 3-2 1 4 0 3-1 7 1 5-1 3-3-5-1-5 1-2-1-1-2 2-1 13 0 3-2 7 1 6 3 9 0 1 1 2 1 2 1-5 1-3-1-6 0-2 2 1 1 8 0 4 2 14-3 7 1 1 1-2 2-12 0-10 3-9-1-1-1-3 0 0-2-4-1-10 0 0 2-2 1 12 0 7 4 10 3-1 3 1 1-5 1-1 0 1 1 2 1 3-1 6 0 1 0-1 2 4 2 7-3 0-1-3-1 7-1 2-2-1-2 5-1 3-1-10-1-7-2 8-1 2-1 4 0 1-1 8 0 2 1-7 1 2 2 14 0 1 0-3 2-9 2-2 3 3 0 4-2 6-1 11 1 1 1-3 2 0 1 4 1-1 3 1 0 2 1 3-3 6-2 4 0 2 2 5 0 3 1 5 0 2-1 3 0 0 1 0 1-5 3 10 2 1-2 5-1 0-2 5-1-6-1-1-2 3-2 4 0 4 3 0 3 3 3-1 1 10 0 4-2 6-1 1 0-2 2 4 2 6-1 2 0 3 1 6 1 2-1-4-2-10-1-2-2 3-3 5 0 2-1 8 0 5 1 6-1 5 1 2 2-3 1 0 1 5 1 1-3 4 0 2 2 0 2 1 1 3 2 4 0 1-1-4-2 4-4 5-1 8 0 2 3 8-1 2-1 5 0 3-2-3-1-6 2-8 0-1-1 0-2 3-2 0-1-15 0-2-1 3-1 4-3 5-2 6 0 5-3 2 0 2 2-1 1 2 2 16 1 1 1-12 2-6-2-2 2-2 0-2 2 3 0 4-1 5 0 2 1-2 1-5 0-1 1 2 1 4-2 4 0 1 1-1 1 1 1 4 0 3 0 3-1 6 0 1 0-2 2-4 0-4 3-7 0 9 4-2 1-3 1 1 2 4 0 1-1 12-1 1-2 2-1 6 0 2-3-2-1-2-1-2-2 10-1-1-1 1-2 18 0-4-2-11-9-8 1-1 0 0-2-1 0-8 0-2-2-9 0 6-1 5-1 9-4 4 1-2 1 0 1-1 1 2 3 23 0 3 2 9 0 1 1-6 0-7 3 12 1 5 2 4-2 2-2-3-2 0-2-1-1 6-2 2 1-1 2 3 1 6-3 8-1 1 1-2 2 1 1 2 1 4-1 15 0 3-1 3 0 2 0 1 2 9 1-3 2-5 0-1 2 7 0 3-1 7 1 5-1 2-2-11-1 7-1 8-3-2-1-4 1-6-1 1-2 3-1 9-1 1 3 6 4 6-1 1-1 1-2 1 0 5 0 4 2-1 2 0 2 0 1-16-1 0 1 2 2 10 0 4 2-4 1-5 3 3 2-1 1 21-1 3-1 1-2 5 1 8 0 1 1-6 2-2 1-6 0-5-2-1 2-3 1-5 0-4 2 1 1 6 0 9 0 3 1 4 0 2-2 1-2 10-1 1 0-6 4-1 2 2 1-8 0 0 2 8 1 4 2 4 1-8 2-4-1-2-3-8 2 5 3 8 0 6 1 0 1 0 1-38 0 5-1 2-1-3-1 0-2-8-4 9-2-5-1-3-1-7 0-2-2-5 0-4-2 5-2 5 1 4-2-18-2-6-3-6-1-3 1-3 0-3 2-10 2-2 1 8 0 2 1 11 0 1-1 0-1 1-1 7 0 2 2-3 1 1 2 0 2-3 0-2 2 0 3 16-1 1 2-5 3-2-1-2-1-10 0-7 0-2 2 1 0 2 2 11 0 4 2 5 0 1 0-3-1 2-3 15 0 1 3 5 2-7 1-4-1-2 1-7-1 0 1-76 0-2-1-4 0-4 1-67 0 2-1 0-1-1-2-4 0-7 3-4-1-4 1 6 1 3-1 4 1-21 0 1-1-3-2-3 1 3 2-35 0 4-2 7 0-2-2-6-2 4-1-6-1-3 0-4 2 5 3-6 3-23 0 1-1-2 0-6 1-60 0-1-2 3-2 0-2-6-1-4-5-4 0 0-3-3 0-2 2-12 0-4-1-2 2 11 2-1 2-2 1 10 0 4 2 2 2 3 0 2 3-38 0-5-3-13-2-3 2 3 0 3 2 12 1-38 0-3-1 2-1-2-2-4 0-3-2-4 1 6 2 1 1 3 1 1 1-56 0 1-2 0-2-2 0-3-2-14-1 2-2 2-1 8 0 1-2 0-1-5-2-6 0-3 1-11 0-1-1 2-2 5 0-4-2-2 1-5 0-5-2 2-1-1 0-8-1 4-3-7 0-2-2 2-2-1-2 1-1 11-1 3 1 6 0 1 1-1 2-9 1-1 1 1 1 5-1 3 1 8 1 8-1 1 1-11 3 1 1 5 3 13 0 2-1 5-1-1-1-12-1 10-1-3-5-4-1-9 1-1-2 1-2 3-1 14 0 3-3 6 0-10-1-1-2 3-2-2-2 3-2-4-1-1-5-4-2-2-3 7-1 3 1 5 0 2-1 5 0-1-2 1 0 9 0zM588 816l3 0-1-1zM632 815l-1 2 6 3 14 0 2 0-1 2 4 0 0-2 2 0 9-1-9-2-1-1-5 0-1 1-5 1-5-1-1 0 1-1-1-1zM258 818l3 2 6-1-5-1zM255 820l-1 2 2 0 2 0 0-2zM628 822l-11 5 1 1 2 0 5-1 5-4 2 0-2-2zM260 823l-2 2-3 1 2 1 8 0 3 3 14-4-4-3-3 1-5 0-3-1zM664 823l-1 1 4 2 2 0-2-1-1-2zM292 826l3 1 2-1zM632 827l9 3 6-2 2-1zM329 829l3 2 6-1-2-1zM587 829l5 1 3 2 4 0-1-3-8-1zM278 830l3 1 1 2-6 4-6 1 7 4 14-2-1 0-4-3 3-4 4-1 1-2zM621 830l0 2 1 0 10 0-2-2zM661 830l1 2 3-2zM464 832l-3 1 4 1 6-1 3-1-2-1-2 1zM644 832l-4 1 5 3 3 0 7-2-7-3zM601 833l-5 2-9 0-2 2 11 0 4-1 5 0 2-1 5 0 2-2zM718 834l2 1 4-1zM256 836l-1 1 3 1-1 1-5 0-1-1-3-1-5 3-2 0-1 2 3 1 7-2 3 0 2 1-2 1 4 0 1 0-1-1 1-1 10-1-4-1-2-1 3-1-4-2zM332 836l1 2 2 0 2-1 2-1zM392 837l3 0 0-1zM486 837l1 1 4 0-4-2zM468 838l3 1 2-1zM621 838l1 2 6 1 8-1-10-2zM328 839l-1 1 1 1 10-1-2-2zM423 840l3 2 3-2-2 0zM528 840l4 5 3 1 1-1-1-4-3-1zM565 840l1 3 1 0 8-1-4-2zM640 840l2 2 5 0-2-2zM662 842l4 0 4 0zM272 843l-1 1-8 0 0 2 3 0 10-3zM349 843l10 0-4-1zM403 843l0 3 7 0 1-2-3-2zM450 843l-4 1 4 2 8 0 0-2-1 0zM499 843l4 2 3-1 0-1zM561 844l-2 2 2 2 6-1-2-1 1-2 0-1zM638 846l6 0-2-1zM355 847l2 1 6 1 6-2-2-1zM427 847l3 1 0-2zM257 848l0 1 5-1zM568 848l4 1 4-1zM298 788l8 0 1 1-2 1-7 0 0-1zM330 789l4 0-2 2-3-2zM431 789l3 0-2 1zM660 789l6-1 4 2 1 3 5 3-6 0-4-1-6 3-4-1-2-1 2-2 2-4zM731 789l4 0-5 0zM737 789l5-1 8 1 5 1 10-1 1 1 1 2-2 2-5 0-4-2-1-1-9 0zM928 789l4 0-1 2-3 0 0-1zM630 790l6 0 1 0-2 2-5 0-1 0zM643 790l7 0-5 1-3-1zM846 790l3 0-3 2-5 0zM940 790l5 0 3 2 4 1-4 3 0 1-1 1-9 2-1-1 5 0 2-3zM216 791l1 0 1 2-3 1-1-1zM740 791l3 1-6 2-1 1-6-1 6-2 2 1zM792 792l3-1 5 4 8 0 5 2-2 1-6 1 0 2-4-1-3-3-3-1-5 1-1 1 1 1-4 3-12-2 11-3-3-3 1 0 7 0zM180 793l4 0-3 1zM398 792l3 1-3 1 0-1zM818 792l3 1 1 2 8 0 0 2-5 0-3 2-4 0-4-3 1-2zM991 792l2 1-3 0zM191 794l6 0 1 2-5 1-3-3zM336 794l4 0 2 2 7 1-7 4-6-1-2-2 0-1-1-1zM433 793l5 1 3 2-1 0-7 0-1 0zM746 794l4 1 10 0 0 2 0 1-8 0-10-2zM887 794l3 0-3 1-1-1zM980 794l12 1 4-1 11 0 0 3-17 0-2 1 5 2-6 1-1 1-6 1-2-1 0-2 2 0 2-3 4 0-6-2-1-1zM148 795l2 1-3 0 0-1zM296 795l3 1-3 0-1 0zM448 795l7 1 0 2 9 1-10 4 1 1 0 2 4 1-3 1 1 2 3 0 0 1-9 0-8-3-5 1-5-3-12 2-3 1-1 1 2 2 1 1-1 1-5 2 0 2 2 1-1 2-4 0-3-2 1-1-2-2-5-2-5 0-1-1 1-1-1-1-16 0-4-3-8 2-2-2 1-2 5 0 0-1-2-1 1 0 9-3 2 0 1 2 3 1-3 1-2 3 4 2 8-2 2 2 3 0 2-2 2-1 9 5 3-2 0-1-3-2 1-1 11 0 3-2 1-1 6 0 9 5 6-3 5 1-1-1-1-1 1-1-2-1 3-2-7 0-4-2 6-1 1 0zM627 795l18 0 1 1 1 1-1 1 2 1 1 1-1 1-7 0-3 3-6 0-4-2 2-2 11 0 4-2-9 0-4 1-8-2zM710 795l6 1 2 3-1 1-21 0-3 2-7 1-3 1-5 0-1 1-7 2 0 1 2 1 9-2 1 1-4 1 0 1 5 2-3 2-3 0-4-3-10 0-3-3 3-1 2-1-1-2 1-1 13 0 4-1 1-1 5 0 3-2-1-1-10-1 10-1 2 0 1 1 8 0zM912 795l3 0 1 3-1 0-3-1-1-1zM972 795l4 1-3 0zM218 796l5 0 5 3-1 1-9 0 0-2zM505 796l7 2-7 1-1-1zM853 797l3 1-4 2-6-1 1-1zM360 798l1-1 5 3 1 0-1 3-6 1-3-4 0-1zM563 797l5 0 6 2-7 3 3 1 0 1 0 1-12-2 0-2 3 0 1-1zM292 799l18 0 5 1 0 1-8 1 4 3 6 0 1 2 9 1-1 2-5 0-8-4-8 0-4-3-4-3-8 0zM393 799l7-1 1 2-1 1-7 0-3 1-6-2zM497 799l4 0 2 0-4 3 5 1-2 1 1 1 5 1-8-1-2-1 0-1-2-1-2-2zM725 798l10 2 0 2-2 2-6 0-2 2-5 0-1 1 1 1 7-1 1-1 8 0 7 4 12 0 2 2 3 1-3 1-7-1-3 2-6 0-6-3-3-2-7 0-5-2-5 2-5-3 1-2 2 0 5-3 9 0-2-2-1-1zM763 799l10 0-10 1-1-1zM908 799l3 0 2 2 5 0 1 1 0 1 3 2 4 0 5-3 15 1 1 0 0 1-6 1-1-1-7 0-1 2 5 3-2 3-3 0-7-2-4-3-5 1-3 2-7-1 0-1 6-1 1-1-1-1-16 0-2-1 4-2 8 1 3-3zM148 800l4 0-2 1zM585 800l2 0 1 0 0 2-2 0-1 0-1-2zM178 801l3 0 1 1-1 1 2 2 10 0 1 2-12 1-5-1-1-2-3-1zM207 802l5-1 5 1 5-1 2 1 1 1-13 5 0-1 2-1-2-2-7-1zM536 801l3 1-2 2-1-1zM546 802l6 1-5 1-2-1zM747 802l1 0 2 1-3 1zM757 802l6 0 3 2-10 2-2-2zM968 803l3-1 1 1 0 1 2 2 0 2 5 2-2 2 3 1-2 1-5 1 0 1 1 1-6 2-1 1 3 2 7 3 5 0 10 0-1 2-2 1 1 0 6 0 1 0-2-1 2-1 9 1 1 1-2 2 2 1 0 5-2 0 2-2-7-2-4-2-5 2 3 2-1 1-5 0-3 2-10-1-2 2 1 1-1 2-10 1-3 2 1 2 2 0 7-2 9 0-3 2-9 1 1 2-42 0-14-1-2 0-1 1-5 0-1-1 4-1 0-1-2-2-5 0-4 0 8 2-11 1-5 2-8 0-3-1-1-2-4 1 4 1-2 1-34 0 14-3-10-2 7 0 2-2 4 0-2-2-10-1 7-2-5-1-1-1 7 0 3-2 4 1 3 3 7-1 6 1 10 6 4 0-1-3-9-2 6-1 5 2 5-2 12 0 2 1 0 3 6 0 0 2-1 3 1 0 4 0 1-1 5 0 4 3 2 0 11 1 2-2 11 0 2-1-2-1-5 0-1 1-3 0-11 0-1 0 2-2 11 0 1-1-2-2-10 1-4-1-2 2-4 0-4-4 8-2-4-3-10 0-2-3-5-1-6 0 8 3-1 2-4 0-5-2-10-2-3-2 8-3 4 1 5 0 3-1 1-2-8-1 0-1 1-2-2-1 6-2 0-2 10-3-3-2 3 0 2 0-1 2 2 0 6 2 2 2 0 1 4 2 1 0-3 3 2 2 8-1 3 4-1 1-3 1 1 1 5 0 2-1 5 0 8 5 5 0 2-3 5 0 2 2 2 0-1-3-5 0-4-1-2-2 2-1-4-3 2-1 0-2-16-1-3-3-3 0-2-2 3-1 8 1 11-3 5 2 5 0 2-1-6-3 3-1-3-1zM954 814l3 2 6 1 2 0 0-1-2-2zM913 816l3 1 3-1zM917 819l-7 3 5 1 10 0-2-1 1-2-3-1zM927 826l-2 2-9-2-3 3 0 1 8 0 2-2 5 0 3-1-1-2zM931 832l-2 1 4 1-1 3 5 1 5 1 5-1 1 1 4 1 7-2-7-2-5 2-3-1 1-1 0-2-5 0-2-3-6 0zM867 839l0 2 3 0 1-1 0-1zM867 844l-2 2 1 0 2 0 2-2zM877 844l0 1 6-1zM891 846l4 1 1-1zM992 803l5 0-1 3 2 1 9 0 0 5-12 1-3 1-8-1 3-2 7-1-1-1-2 0-2-3zM787 804l9 0 1 2 3 0 2 2-1 1-9 0-5-2-3 2 1 1-2 2-1 0-5-5 3-2 5 0zM845 803l11 1 1 2-5 1 2 2-2 1-9 0-2 1-5-1-5 1-4-1 0-1-1-2 2-2 12 1 2 1 8 0-4-1-2-2zM875 803l5 1 0 1-4 1 4 0 0 2-10 4-3 2-9-1 2-2 4-1-1-1 1-1-1-1 0-1 4-1 6 0zM541 805l5 0 3 2 0 1-5 1 2 1-1 2-10-1-3 1-11-2-4 3-9-1 0-2 5-2 3-1 9 0 2 1 10 0zM632 805l2 1-2 0-1 0zM742 805l2 1-1 1zM392 806l6 0 1 1-4 1-4-1zM601 806l6 0 5 4-12 2-2-2 1-1 0-1zM148 808l5 0 3 2-3 1-3-2-3 0 0-2zM351 808l2 0-1 1zM581 808l2 0 1 0 0 1-4 1-3-1zM613 808l3-1 2 1-3 1zM813 807l5 0 2 2-3 1-4-1 0-1zM942 808l4-1 1 1-2 2-3 0-1-1zM230 809l3 0 1 3-4-1-1-2zM340 809l7-1 2 1-2 2-10-1zM491 809l3 0-3 1zM587 809l3 0 1 1-3 1-2-2zM770 808l6 2-4 5-2 0-2 2 12 5 5 0 2 3 7-1-1-1-2-1-1-2-4 0-6-4 3-2 0-2 9 0 3-1 8 0 2 2 5 1 2 2-1 0-9 0-2 2 2 2 6 0 2-2 16 1 4 1-3 2 8 3 6-1 7 1 4-1 4-1 1 0-2-3 2-1 4 0 1-2 11-3 5 0-2 6 6 0 3 2-7-1 0 1 1 1-2 1-5-1-4-2-7 0-2 2 5 3-6 3-6 0-1 1 1 2-1 0-6-2-4 0-5-3-3 1-2 4-2 1-1 2-16 0-2-1-1-2 3-2 3 1 11 0 3-3-2-2-4 0-3 1-13 1-1 2-3 1-3 0-4 2 1 1 5 1 1 1 5 0 6 3-1 2-5 1-1-2-4-2 0-1-3-1-3 1-5-1-1 0 2-2-7-4 7 0 5-4-12 0-3 3-22-2 2-2 11-1-1-2-11 1-1 0-1-1 3-2 0-3-1-1 0-2zM817 823l-1 1 2 2 7-3zM890 809l3 0 3 2-5 0-1-1zM490 810l2 3 4-1 2 0 0 2-2 0 5 3-3 2-2 0-8-4-10 1-7 4 5 2 5 0 4 2-2 1-16-1-1-1-7-1 0-2 7-5 4-1 12-1zM822 810l5 0-4 1-2-1zM195 811l4 1-2 2 0 2-1 0-5-1-6 0-3 1-5 0 1-2 10 0 5-2zM435 811l3 0 4 2-4 1-8 0-1-1 1-1zM208 812l4 1-4 1-1-1zM540 813l3 0-3 0-1 0zM155 813l2 0 1 1-1 3 3 0 5 5 0 1-8-1-4 1-1 2-2-3-3-1 0-1 6-1-3-2zM172 814l3 0-2 1zM222 814l5 0 3 2-8 0-1-2zM365 814l10 0 5 0 1 3-1 2 1 0 5-2 4 0 0 1-3 1-1 1 6 1 5 3 2 3-3 2-9 0-1-1 1-1 5 0-1-2-3-1-6 0-1-1-4-1-1-2 1-1-4-1-7-1-2-3zM563 815l5 1 3 2 9 1 6 4-1 1-7 0-2-2 0-2-2 0 0 2-2 0-4-2-8-3-5 1-9-1 2-1 12 1zM432 816l5 0 3 1 3 0 5-1 4 1 1 2-5 1-2 3-5 0-1-3-5-1-5 0-1 0 5 3-4 2-4-1-3-4 3-2 5 0zM741 816l4 1-3 0-2 0zM993 816l10 1 4-1 0 3-7 1 4 2 0 1-6 2-8-1-2-1-2-1-2-2zM180 817l5 1-4 3-5-1 0-1zM830 817l6 0 2 1 10 1-3 2-4 0-3-1-6 0-4-2zM358 819l3 0 1 0 0 1-2 2-3-1zM725 818l2 1-2 1zM896 819l3 1-3 2 0 1 0-1-2-2zM495 820l5 2-3 2-9 0-1-1 1-2 5 0zM556 820l3 0-3 1-1-1zM738 820l5 0-6 0zM371 822l5 0 1 1-1 2-5 0-2-1zM952 823l4-1 2 1-5 1zM153 825l3 1-3 0zM313 825l5 1-3 0-2 0zM878 825l4 0 3 2 0 1-7-1zM163 826l7 1 2 3 5 2-4 2-6 0-2-1-5 0-2-1 0-2-3 0-3 1-3-2zM427 827l6 0 2 1 5 2 6-2 3 1-7 4-10 0-1 0 2 1-1 1-6 0-1-1 5-2-4-4zM870 829l3 0 4 1 3 2 1 2-3 1-3-3-7 0-1-2zM186 830l4-1 13 4-7 3-1 2-3 2-4 0-1-1-7 0 2 2 9 1 1 1-2 2-5-1-8 1-4-1-2 2 1 1-2 0-5-4-9 0 2 1-2 1-3 0-2-1-4 0 0-2 3-2 3-1-1-1 3-2-8-2 0-2 15 3 10 4 4-1 1-1-4-1-1 0 1-2 8 0-1-1zM185 834l1 2 2-2zM765 831l5 0 1 1-1 1 1 0 10 0 2 3 10 2 1 0 0 2 2 2-1 1 1 0 14 2 2 4-10 0 0-1-1 0-8 1-1-1 2-1-2-1-1-2 1-1-7-1-3-1 0 2 2 1-2 2-6 0-3 0-1 2-5 0-3-2 2-2 4-2-6-2 0-1 2-2 5 2 5-1 4-2-10-1-5 2-2-1 2-2-2-1zM837 834l4 2-5 0-3 0zM220 837l5 0 0 1-2 2 3 2-5 1-5-1 1-2-1-1zM996 839l6 0 1 0-6 1zM823 840l13 2 3 2-7 1-1-1 2-1-1-1-5 2-5 0-1 1-4-1zM981 841l4 0 1 1-1 1-4-1-1 0zM1003 841l4 0 0 4-6-1 0-1zM148 846l2 1-3 0 0-1zM177 847l6-1 3 1-3 1-1 1-23 0 1-1 12 0zM220 846l12 0 8 1 5 2-24 0-2-2zM821 846l4 0 1 1-1 1-2 0-3-1zM835 846l4 2-1 1-6 0-4-1zM991 846l10 0 2 3-13 0zM196 848l6-1 6 2-11 0z"/><path fill="#92be49" d="M148 664l859 0 0 37-5-2-6 0 5 2 2 2-3 3 1 1-5 2-8 1 10 4 1 2-2 1-2-3-5 0 0 2-2 1-2-2-5 0-9-2-1 1 6 2-7 1-10-1 4-2-1-1 0-2 5 1 3-2-5-1-6 1-10 2-3-1-6 0-3 1 0 1-2 1-2-1 2-1-1-2-13-2 1 3-7 2-10 1-2-1 2-1 1-2-1-1-5-2-3 1-2 2-10-1-4 2-10 0-1 1 1 1-7 2-2-1 0-1 2-1-1-3 11-2 7 0 5-3 0-1-7 0-7-1-6-5 1-1-1-1-10-1-3 2 5 2-2 2-20 0-3 0 8 2-2 1-5 0-3-1-1-4 4-2-2-2 9-4-3-1 0-1-2-1-7 1-5 1-2 1-3 2 0 1-2 0-10-1-4-2-2-2-2 0-5 0-5 1 7 1 3 2-4 1-10-2-10 0-15-3-7 2 1 2 2 1-4 1-3 0-3-2-4 0-5-2-10 0-2-1-3 0-5 3-8 2 1 1-1 2-5-1-14 1-3 1 4 2 0 2-6-1-3 0-7 4-5 0-3 2 6 2-2 1 3 3 0 2-15 0-4 3 7 2-13 2 7 2 5 0 3 1 6 0 5 3 0 1 0 1-10 2-8-1-1-2-2-1 0-1 0-1-5-2-4-2-4 1-5-1 1-2 10-2 1-1-2-3 7-2-3-2 4-1 12-1-4-1-1-1-5 0-6 2-5 4-4 4-9 5-6 2-9 1-3 2-5 3 1 1-1 2-18-1-5 2 1 1 4 2-4 1-2 0 0-2-1 0-9 6-10 2-11 4-25 0-11-3 14-3 4-3-2-2-5-2-11 0-11 5-8-5-7 0-5 4 7 1 3-3 2 0 0 2-3 2-5 1-6-1-1-2-8-3-10 0-9 2-21-6-6 0-13 4-15 2-13 7-7 0-12-3-14 3 0 3-8 0 4 1 4-1 9 0 2 0-2-1 4-1 1 0-1 2 2 2 6 0-6 0-6 3-5-2-5 0-3-2-2 2-6 0-3-2-5-1-11 2-5-1-3 1-7 0-2-2 2-1 0-1-11-1-10 6-10 3-7 0-2 2-15 0-9 1-10-5-12 5-15-2-12 3-21-4-5 0-10 3-8 7-4 1-3 0 0-100zM777 677l-2 1 5 0 4-1-3-1zM706 678l-11 4 10 0 16-3-1-1-4-1zM800 679l0 1 1 1 7-1-5-1zM856 679l-1 1 3 4 13 1 5-1-14-3-1-1 2-1-1-1zM744 680l-2 2 3 0 8 0-3-2zM935 682l-7 1 0 3 14 0 3-2-4-2zM719 684l7 1 2-1zM738 684l-7 2 4 0 7 0-1-2zM822 684l3 1 3-1zM678 687l0 1 2 0 3-1zM900 687l3 2 4 1 4 0 2-2-6-1zM927 693l-2 1 6 2 0 1-1 1 1 0 10 0-8-2 2-2-2-1zM869 694l3 1 2-1zM897 696l-3 1 3 1 8-2zM677 697l0 1 3 0 6-1zM895 699l-7 3-1 1 6 2 2-1-1-1 1 0 2 1 7-2zM907 699l-2 1 7 2 3 2 7-1-3-1 1-2-3-1zM930 702l-1 1 4 1 7-1 1-1zM964 703l-7 1 9 4 8-4-4-1zM908 706l-2 1 2 2 5-2 0-1-2-1zM945 707l-2 2 11-1 0-1-2-1zM604 716l-3 1-1 1 2 1 4 1 5-2-1-1-2-1zM727 693l4-1 2 1-8 3-1 1 1 1 0 1-4 2-4 0-3-2 1-1 5-1 2-1 0-2zM758 693l4-1 5 1 4-1 12 0 2 1-1 3 2 1-3 2-10 0 0 1-4 3 0-1-2-2 9-4 3 0-22-2zM741 694l6 3-6 0-4-1zM760 699l4 1 0 3 3 1-1 2-9 0-1 1 1 1-2 2-4 1-5-1-3-3-5 0-3-1 0-2 3-1-2-2-9-1 19 0 1 0 0 2 5 1 3-3zM747 704l-4 2 2 0 10 0 2-2-5-1zM782 700l4 0 2 2-5 1-3-1zM791 700l3 0-1 3-3-3zM816 700l4 0-4 1-1-1zM802 701l1 0 2 2-2 0-2-1zM821 702l4 0 2 2-6 1-1-2zM867 703l6-1 1 1-2 2-11 1-1 3-2 1-15-4-2 1-1 2-2 2-5 0-2-2 0-1 4-2 3 0 3-1 9 0 2-1 13 0zM692 705l4 2 0 3-7-1-1-1 5-1zM710 705l2 1 11 0 3 2-6 1 0 1 5 1 5-2 0 2-2 1 2 1-3 2-5-3-12 0-1 1 0 4-3 0-1-2-4-2 1-1 0-3 3-2zM778 705l9 1-2 1-3 0-5-1zM807 706l6 0 6 2-5 2 4 3-1 3-6 0-2-2-3-2-4 2-5-1 3-1 5-1 2-2zM773 707l11 2 1 1-7 1-5 2-3-1zM736 712l15 1 0 1-1 1-3-1-14-1zM845 713l1-1 3 2-8 0zM926 712l7 1-3 1 5 2 1 2-1 2-10 2-7-1-1-1-12-1-4 1-4 3-7-3-4-1-3 2-5 1-2-3 3-2-1-3 2 0 4 0-2 4 1 1 3 0 1-2 5 0 5 3 6-3 9 0 10-2zM758 714l4 0-5 0zM823 714l8 0-1 2 3 1 1 2-2 1-2-1-7 0-1 1 6 3 0 1-1 1-6 0-4-4-7 1 6-4 1-2zM947 714l3 0 3 2-2 1 1 1 4 1-1 2 1 0 9 0 8 4 9 0 2 3-5 1 3 2 3 1-1 1 2 2-3 1 0-2-5 0-6-3-2 1-3 0-1 0 1-2 8 0 1-1 1-1-1-1-10 2-6-2 0-1 4 0-7-1-2-3-4 0-3-2-4-2 0-1zM866 716l3 1-3 0zM686 717l3 1 1 2-3 3-10 0-1-1 4-1zM710 718l3 1-5 1 0-1zM717 718l6-1 3 2 6 0-5 1-4 3 0 1-3 2-5 0-3-2 0-1 3-2 3 0 2-2zM745 718l8 0-5 2-5 0 0-2zM853 717l6 1-6 1-1-1zM781 719l8 0-6 3-6-2zM967 719l6 0 7 1 3 2-1 1-5-1-2-1-9 1 0-2zM993 719l4 0-4 2-2-1zM800 720l5 0-4 1zM773 721l4 1-2 0zM936 721l5 0 6 2-10 1-3-1zM1007 721l0 4-2 1-8 0-2 1-7 0 4-1 1-4 3 0 2 2 7 0zM702 723l2 0 2 3-7 0zM735 723l3 0-1 2 1 1 5 1-2 1-11 0-1-1 5-1zM758 724l9 0-5 3-6 0-2-1zM878 724l7 0-2 2-3 1 2 0 3 0 11-4 1 0 1 1 0 2-5 3-6 1-4 4-3 0-4-6 1-1-1-1zM773 725l12 1-8 2-7-1zM853 726l3 0 2 2-5 0zM902 726l8 1-8 0zM930 726l22 0 1 1 0 1-13 2-9-2-2-1zM620 727l17 0 3 2-7 1-3 2 2 4 0 3 5 1 0 2-2 1-5-1-2 1 0 1 3 1 1 2-4 3-6 0-2-2 1-2 1 0-9-3 3-1 0-2 3-1-1 0-7 0-4-2 6-1 4-2 5 0 2-4-6-2zM766 728l4 0-1 4-6 0 2-2-1-1zM712 729l3 0 2 1 1 2-7 0-2-2zM752 729l4 0-1 1-3 0zM786 729l5 0 2 1 0 2-5 0zM833 730l5 0-3 2zM990 730l8 0-7 4-4-2zM913 731l8 0 3 3-8 1-4-3zM948 731l4 0 2 1-2 2-2 0-2-1zM776 732l4 0 3 2-11 0zM847 733l4 0-3 1zM892 732l4 0 1 1-6 0zM647 734l5 0-5 1-1-1zM686 734l9 0 1 0 1 2-14 1 4 2 6 0 2-2 10 1-3 2-4 0-2 1-4 2 1 1 13 0-6 2-9 0-3-1-6-1 0-1 1-1 5 0-5-2-7-1 1-1 5-1 0-1zM735 734l4 0-4 1zM1006 734l1 0 0 10-4-1 1-1-1-1-6 0-1-2 5-2 1-1zM663 735l3 1-1 0zM788 735l6 1-6 1-3 3 11 2 0 1-7 3 1 1 0 1-5-1 2-1 0-2-6-1-2-1 2-2-4-2 3-2 7 0zM813 735l10 1-7 1 2 1-1 0-5-1 0-1zM886 735l11 2-5 1 2 1-3 2-12-2-1-1zM956 735l3 1-2 0zM443 736l3 1-3 0zM748 736l4 1-5 0zM936 737l2-1 2 2-4 0zM977 737l3 0-2 1-2 0zM850 737l2 1 4 2-3 2-4-4zM450 739l3 0 2 0-7 2zM640 739l3 0-2 1zM475 740l6 2-6 0-3 2-2-1 1-2zM717 740l11 0-11 1-1-1zM592 741l10 1 1 4-3 2-8-1-2 2-4 0-1-3-2 0 2-1 2 1 5-1-1-3zM811 741l5 1-6 1 0-1zM932 742l6 0-5 0zM971 741l3 1-3 0-1 0zM396 743l4 0-3 2-3-1zM896 743l2 0 2 1-2 1zM981 743l5 0-4 1-1-1zM663 744l9 0 1 2-2 1-8 1-2-2zM716 744l7 0 5 1 6 3 0 4-2 0-6-5-10 2-5-3zM428 745l1 1-1 1-2 0zM651 745l6 0 1 1 0 1 2 1-2 2-6-1-5 1-3-1 4 0zM882 745l10 1-9 1-2-1zM970 745l2 0 3 1 3 0 2 2-8 2zM995 745l5 1-1 2 1 1 0 1-10 0 2-1 3-1-3-1zM398 746l4 1-4 2-1-1zM412 746l3 1-2 2-2 0-1-1zM847 747l4 0-1 1-2 0-1 0zM923 746l4 1-4 0zM952 746l3 0 1 3-4 1-6 2-13 2-8-1 3-2 9 1 5-2 5 0zM462 748l4 0 1 1-2 1-4-2zM300 749l5 0-2 1 4 1 1 2-8 1-1-1 1-1-2-3zM388 749l4 0 5 3 0 1-1 1-4 2-7 0-8 4-5 0 0-2-2-1 12-1 1 0-1-2 1 0 10-1-2-1-6-2zM420 749l5-1 5 1 3 2 3 3 2 0 0 2 1 1-2 1-4-1-3-2-1-2-2-2-6 0-4 2-1 0zM511 749l9 0 1 0-9 1-2-1zM596 749l4-1 2 1 0 1-1 1-5-1zM853 749l3 0 5 2 10 0 0-1-1-1 1 0 9 0 1 1 0 1-9 1-2 2-7 0-2-2-10 1-2-1 7-2-3-1zM401 750l5 2-5 0-1 0zM587 750l3 1 0 1-3 0zM673 750l3 0 1 1 5 0 4 3-6 1-2 1-2 1-3-1 0-2-1 0-3-1zM318 752l9 1-10 2 0-1zM458 751l5 0 3 2-9 2-6-1zM551 751l4 0 6 4 6 1-4 1-10 2 0-1 0-1 4 0-4-2-5-1zM610 751l5 0 1 2 0 1-6 1-1-3zM765 751l8 1 1 2-2 3 1 1-7 0-1-2-4-2zM828 752l5 0-5 0zM348 752l8 1-1 2-5 0-3-2zM443 753l4 0-2 1zM625 752l5 1-1 1 3 3-6 1-3-1 0-3zM653 753l3-1 4 1-4 1zM823 753l4 0-2 1zM997 753l4 0 0 1zM540 754l2 0 1 2-3 1 7 3 0 2-4 0-6-3 0-1 2-1 0-1zM593 754l6 3-1 1-7 4 1 1-2 1 2 2-4 0 1-2-1 0-7-1-3-3 3-1 12-1 1-1-2-1zM808 754l3 0 1 2-2 0zM837 754l5 0-5 1-1-1zM992 754l3-1 1 1-5 0zM970 755l2 1-1 0-2 0zM316 756l2 1-1 1-5 0zM857 757l12 0-6 2-7-1zM987 756l3 0 0 1-3 0zM968 757l6 1-6 1 0-1zM636 759l7 0 2 2 3 1-8 5-4 0-1-1 3-1 2-2-4-2-1-2zM692 759l2 0-2 2-2-1zM717 759l11 1-2 4-3 0-6-3-1-2zM775 759l6 0 1 1 8 0-3 1-10-1-5 2 0-1zM913 759l2-1 4 1-4 1zM382 760l5 0-4 1zM478 760l7 0 1 0-4 1-1 1-5 0zM620 760l7 0 0 2 4 2 0 2-6 0-1-3-1-1-2 1-7 0 2-2zM527 762l6 0-6 2-1-1zM666 761l9 0 1 3 5 0 3 2-2 0-9 0-5-3-2-1-1 0zM818 761l4 0 1 1 0 1zM265 763l3 0-5 2-1-1zM287 763l11 0-2 1zM417 762l1 0 0 3-2 0-4-1zM765 763l4 0-6 0zM280 764l4 0-3 1zM437 764l3 0-3 1zM473 764l5 0 3 2-6 0zM710 764l7 0-6 1zM775 764l3 0 4 2 3 0 2 3 4 0 3 1-4 2-4-1-1-1-8-2-3-2zM937 764l5 0-4 1-1 0zM310 765l4 1-2 1zM331 765l4 2-5 1-7 0 2-2zM606 765l5 2-7 0zM752 765l4 0 2 1-5 0zM861 765l4 0 1 1-1 1-4 0-1-1zM893 765l2-1 3 1 2 3-5 1-1 1 1 2-1 1-6 2-1 1-6 1-4 0-2-1-5 0-4 1-7-1 8-1 10-8 5 1 1 1 10 0 1-1-1-2zM1003 765l4 0 0 6-5 0-4-1-3 1-3-2 8 0 2-2zM406 767l4-1 1 1-3 2-6 0-6-1 9-1zM528 766l5 1-5 1-2 0zM572 766l9 0 2 2-1 1-6 0-4-2zM148 768l2 1-3 1 0-3zM240 767l1 0 1 1-2 1-1-1zM347 768l6-1 1 2-6 1zM367 768l5 0 2 1-4 1 1 2-3 1-2-1 1-2 0-1zM427 767l4 1-1 1 0 1-10 0 3 0zM676 768l5-1 1 2 4 0 3 1-4 1-4 3-9-1-1-1 1-2zM750 767l5 1 2 1-11 1 0-1zM770 768l3 0-2 1zM915 768l2 0-3 0zM311 769l7 0-2 2-6 0-1-1zM597 768l4 1-4 1-1-1zM610 769l3 0 2 1-3 2-4 0zM705 769l9 1-8 1-2-2zM726 769l5 0-5 1zM847 769l2 0 0 1-2 0zM855 769l2-1 2 1-3 1zM965 769l8 0-1 2-7 1-5 3-4 0-6-3 15-1zM977 769l6 1-7 0zM292 770l3 0 2 2-5 0-1 0zM732 770l4 0 2 2-2 2-4 0-3-2zM768 770l4 0 1 2-3 2-7 0-2-2 5-1zM815 770l4 0-3 1zM920 770l6 0-6 1zM392 771l5 0 0 2-4 1-2-2zM407 772l9 0-3 2-5 0zM486 772l4 1-3 0-2-1zM906 771l3 1-3 2-1-2zM328 772l5 0 3 2-3 2-7 0-2-2zM520 772l2 1-1 2-1 0-1-2zM931 772l5 0 1 1-6 1-1-1zM308 774l7 0 1 2-1 1-5 0-5-1zM660 774l4 0-2 3 3 1-7 0-1-1zM692 774l5 0 3 2 3 1-3 0-4-1-4 0-1 0zM798 774l3 0-3 1 0-1zM781 775l3 1-3 0-1 0zM272 777l4-1 6 1-4 2-3 3-5 0-1 0 4-3zM418 776l9 1-1 1-8-1zM1006 776l1 0 0 5-5 0-2-2zM220 778l3 1-1 1-3-2zM386 778l1-1 1 2-3 0zM453 778l7 0-5 1-2-1zM511 777l4 0 2 2-2 1-5-1zM526 777l2 0 2 1-5 0zM631 777l3 1-3 1zM640 778l5 0-4 1-2-1zM751 778l3 0-1 1zM803 777l7 0 1 1-8 1-1-1zM430 779l12 0 2 1-3 1-3-1-7 0zM770 779l2 0-3 0zM865 779l1 1-1 1-4 0-5 3-5 0-4 2-17-1-2 2-2 0-6 4-10-2 0-1-2-1 1-1 4-2 0-2 7 0 3-1 14 0 1 1 5 1 5-1 3-2zM892 779l5 1-4 1-2-2zM695 780l7 0 2 2-8 0-2 0zM796 780l5-1 1 1-2 4-3 0-2-2zM211 781l3 1-3 0zM502 781l4 1-5 0zM543 781l5 0 2 2-5 3-1 1 1 1-3 1-6-3 1-2 3 0zM760 781l2 1 0 1-2 0-1-1zM881 781l10 2-10 1-1-2zM956 781l1 0 1 1-3 0zM450 782l9 1-4 2-4 0-2-2zM621 783l4 1-3 1-2-2zM632 782l4 1-5 0zM713 783l14-1 8 2-2 2-7 0-1 3-5 0-1-2 1-2zM743 783l3 0-1 1zM160 784l4 0-3 1zM586 784l12 0-11 1zM861 784l2 0 2 2-6 2 2 1 17 0 3 1-4 2-5-2-5 0-4 2-11-3 6-2-1-2zM978 784l2 0-3 3-4 0-2 0 2-2zM285 785l2 0 3 2-3 2-4 0-1-2zM426 785l4 2-5 0 0-1zM518 785l3 1-1 1-2 0zM530 785l3 1-3 0-1 0zM701 785l4 1-3 0zM755 785l18 0 3 2-3 0-1 2-9 0-9-2zM800 785l8 1-3 1zM878 785l4 0 5 1-2 1-9 0zM901 785l5 0 1 1 0 1-7 0-1 0zM917 785l4 1-3 0-1 0zM253 787l9 0-5 0-2 3-8-1 1-2zM686 787l3 0-5 1zM490 788l3-1 2 1 0 1-2 2-2 0-2 2 5 1-4 3-13-2-2-2 1-2 5 0 2-2 5 0zM781 788l3 0-3 0zM956 788l1-1 3 1 0 1 0 1-4 0-1-1zM180 789l3 0-2 1zM190 789l5 0-5 1-1-1zM271 789l16 1 3 2-3 2-5 0-2-3-8 0-2 1 1 1 0 1-3 0-1-1 0-1-7 0-3-2zM298 789l8 0 1 0-2 1-5 0-2-1zM330 789l4 0-2 2-2-1-1-1zM660 789l6 0 4 1 1 4 5 2-6 0-4-1-6 2-4 0-1-1 2-2 1-4zM738 789l10 0 7 1 10 0 2 2-2 2-5 0-4-2-1-1-9 0zM928 789l3 0-1 2-2-1zM630 790l7 0-2 2-4 0-2 0zM643 790l7 0-5 1-2-1zM846 790l2 0-2 2-4 0zM941 790l4 0 3 2 4 1-5 3 0 2-2 0-1 0 1-2-5-4zM216 791l1 1 1 1-3 0zM497 792l6-1 5 2-12 1-1-1zM740 791l2 1-2 0-1 0zM793 791l5 4 10 0 4 2-1 1-6 1-2 1-2 0-3-3-5-1-3 1-1 1 1 1-5 3-11-2 11-3-3-3 1 0 5 0zM181 793l3 0-4 0zM237 792l6 0 3 2 11-1 1 0 0 1-3 2 3 1 13 2-3 2-3 0-8-1-6 0-2 4 2 2-1 1 5 1 3 4-2 1-10-1-2 0 0-2 3-2-3-2 4-2-5-1 0-5-6-3-1-2zM398 793l3 0-3 0zM736 793l2 0-2 2-6-1zM818 793l2 0 2 2 8 0 0 2-7 1-1 1-4-1-3-2 0-2zM191 794l6 0 0 2-4 1-1 0zM336 794l4 0 2 2 7 1-7 3-5 0-3-2 0-1-1-1zM433 794l5 0 2 2-7 0-1 0zM746 794l4 1 10 0 0 2-8 1-10-2zM887 794l2 0-1 1-1 0zM980 794l10 1 2 1 4-2 6 0 5 0 0 3-9 0-5 0-5 0-1 1 6 2-6 1-1 1-6 0-2 0 0-2 2 0 2-2 5-1-7-2zM148 795l2 1-3 0 0-1zM296 795l3 1-2 0-1 0zM627 795l18 0 2 2-1 1-10-1-3 1-9-1zM710 795l6 1 2 3-22 1-4 2-6 0-3 2-4-1 4-2 5 0 3-2-1-2-4 0 1-1 5 0 1 1 4 1 10-2zM912 795l3 1 0 2-3-1zM218 797l5-1 5 3-10 1zM450 796l4 1 1 2 9 0-4 1-7 3 2 1-2 1-1-1 1-1-3-1 3-2-7 0-4-2 6-1zM506 797l6 1-7 1 0-2zM361 798l5 2 0 3-7 0-2-4zM563 798l5-1 6 2-8 3 3 1 1 2-12-2 0-1 4-2zM848 798l5-1 3 1-4 2-5-1zM292 799l18 0 5 1-8 1-1 1 3 1 0 3-4 0-3-3-5-3-8 0zM395 799l5 0 1 1-8 1-3 1-5-2 8 0zM498 799l5 0-5 3-2 0-1-2zM643 799l3-1 2 1 1 1-8 1-3 3-3 0-6-2 1-2 11 0zM725 798l10 2 0 2-2 2-5 0-5 2-3 0-1 1 0 1-3 1-1 1-5-3 1-2 2 0 5-2 10-1-3-2-1-1zM763 799l10 0-10 1 0-1zM910 799l3 2 5 0 1 2 3 2 4 0 5-3 15 1 1 1-6 1-1-2-7 1-2 2 6 3-2 3-3 0-1 0-2-2-4 0-4-3-5 0-4 3-5-1-1-1 1-1 4 0 3-1-2-1-18-1 4-2 8 1 4-3-2-1zM585 800l2 0 0 2-2 0-1-2zM178 801l3 1 0 1 1 2 10 0 2 1-1 1-11 1-5-1-1-2-3-1zM208 801l8 1 6-1 2 1 0 1-3 1-3 2-5 1-1 0 2-1-2-2-6-1zM378 801l4 1 1 1 2 1-2 1-2 3 4 2 7-1 3 1 3 0 2-2 2 0 9 4 3-2 0-1-3-2 1-1 11 0 3-2 1 0 6 0 4 1 4 3-3 0-5-2-12 1-3 2-1 1 2 2 1 1-1 1-6 2 1 2 1 1 0 1-4 1-2-2 0-1-2-3-5-1-5-1 0-2-17 0-4-3-6 2-4-2 1-2 5 0 1 0-3-2 1 0zM536 802l3 0-2 1-1 0zM501 803l2 0-1 1 0 1 4 1-5 0-2-2zM546 803l5 0-4 1zM747 803l3 0-2 1zM757 803l6-1 3 2-10 2-2-2zM970 802l2 1-1 1 3 2 0 1-1 1 5 2-1 2 3 1-2 1-5 0 0-1 1-1-5-3 3-1-4-1 1-4zM992 803l5 0-2 3 3 1 9 0 0 5-5 0-7 0-3 2-7-1 2-2 7-1-1-1-2 0-2-3zM282 803l6 1 8 3 9 0 5 3-5 1-3-1-6 0-2 2 1 2 8 0 4 1 14-2 7 0 1 1-3 2-11 0-10 3-8 0-1-1-1-1-2 0-1-2-4-1-10-1 0 3-3 1 13 1 7 3 10 3-2 3 2 1-5 1-2 0 2 1 2 1 4-1 5 0 0 2 4 2 8-4-2-1 6-1 1-4 5-1 2-1 0-1-10 0-7-2 8 0 2-2 4 0 1-1 8 0 1 1-6 1 2 2 15 0-3 2-9 2-2 2-1 1 2 0 2 0 4-2 6-1 11 1 1 1-3 2-1 1 5 1-2 3 2 1 2 0 3-3 6-2 4 0 2 2 5 0 3 1 5 0 2-1 3 0 0 2-3 1-6 3 2 0 3-1 4 0 5 2 1-1 5-2 1-2 4-1-7-2 0-1 3-1 4 0 2 1 2 1-1 3 4 3-1 1 10 0 4-2 5 0 2 3 2 1 5-2 3 0 3 2 8-1-2-1-11-2-3-2 4-3 4 0 2-1 8 0 4 1-5 1-5 2 5 1 7-1 2-1-3-2 6-1 5 1 2 2-3 1 0 2 5 0 1-3 4 0 2 2-1 2 1 1 3 1 5 1 1-1-4-2 4-4 5-1 8 0 1 2 1 1 8 0 2-2 5 0 3-1 0-1-2-1 3-1 4 0 1 0-1 1 1 1 4 0 6-1 6 0 0 1-5 1-4 3-8 0 9 4-4 3 1 1 1 0 16-2 3-3 6 1 2-4-2-2-2 0-1-2 9-1 0-1 0-2 17 0 1 0-4-3-11-8-8 1-2-3-8 1-2-2-8 0 5 0 5-2 4-1 4-3 5 1-3 1 1 1-1 1 0 3 2 1 23 0 3 1 9 0 0 1-7 1-5 2 12 1 5 2 5-1 2-3-4-2 1-2-2-1 6-1 1 1-1 1 5 1 5-2 8-2 0 1-1 3-7 0-3 2 8 3 13 0 1 0-1 2 2 0 3 0 1-2 1 0 10-1-10-2-1-1-5 0-2 1-10 0 1-1 4 0 2-1 15 0 3-1 3 0 2 0 1 2 7 1-1 1-5 1-2 1 1 1 7 0 3-1 9 1 3-1 2-2-5-1 10-4-2-1-5 1-5-1 0-2 3-1 9 0 1 2 6 4 6-1 3-3 5 0 4 2-2 3 1 1-1 1-15-1-1 1 3 2 10 0 4 2-4 1-5 3 3 2-1 1-19-2-6-3-6-2-3 1-3 1-3 2-10 1-2 3-5 0 2 2 8-3 3 0 2 1 11 0 1 0 0-2 1-1 7 0 2 2-4 1 2 2 0 1-7 3 2 3 16 0 0 2-4 1-4-1-10-1-7 1-2 2 1 1 2 1 11 0 4 2 5 1 1-1-2-2 1-1 15 0 0 2 5 2-6 1-4-2-2 2-7-1 0 1-75 0-3-2-3 0-2 1-4 1-66 0 3-1 0-1-2-2-5 0-8 2-2-1 0-2-1-3-4-1-3 0 3 4 4 3-3 1 5 1 4-1 4 1-21 0 1-1-3-2-3 1 2 2-34 0 4-2 6 0 1 0-2-3-6-1 5-1-4-1-6 0-4 2 4 3-2 0-1 2-3 1-21 0 0-1-2-1-6 2-50 0-2 0-8 0 0-2 2-2 0-2-6-1-4-5-3 0-1-1 1-2-1 0-3 0-2 2-12 0-4-1-2 2 11 2-3 3 10 0 4 2 1 2 4 1 2 2-38 0-5-3-13-2-3 2 3 0 3 3 11 0-37 0-2-1 1-1-2-2-4 0-3-2-4 1 6 2 4 2 0 1-44 0 5-1-2-1-3 0-1 2-9 0 1-3-4-2 0-1 8-2 2 1-1 1 4 1 1-1-1-1 1-1 10-1-3 0-3-2 3-2-4-1-4 0-2 2 3 1-1 1-10-1-7 2 0 2 2 1-1 0-4-1-7 0-1 0 1-2 3-1 7 0 2-2-6-3-6 0-3 1-11 0-1-1 2-2 6 0-3-2-9 1-4-2 1-1-1-1-7 0 3-3-7-1-2-1 3-2-1-2 6-2 14 1 0 1 0 2-8 1-5-1-4 0 6 1 2 3 5-1 11 2 8-1 1 0-12 3 2 2 5 2 13 0 2-1 5 0 1-1-2-2-11 0 10-1-4-5-4-1-7 1-3-2 1-1 5-2 12 0 3-2 12 0 3-2 7 1 5-1 3-3-5-1-5 1-1-1-1-2 14-1zM285 807l2 1 1-1zM587 816l3 0 2 0-2-1zM257 818l4 2 6-1-5-2zM254 820l0 2 2 0 2 0 1-2-3 0zM627 822l-2 1-3 2-2 0-3 1 0 2 3 1 5-2 5-3 2-1-2-2zM259 823l-4 3 2 1 8 1 3 2 14-4-4-3-3 1-5 0-3-2zM664 823l-2 1 4 2 4 0-3-2 0-1-1-1zM288 824l6 3-1 1 2 0 3-2-7-2zM632 827l9 3 6-1 2-2-11-1zM589 828l-3 1 6 1 3 2 5 0-2-3zM329 829l3 2 6 0-2-2-6-1zM277 830l4 1 1 2-6 4-7 1 7 4-4 0-1 1-8 1-1 0 0 2 4 0 16-5 10-1-2 0-4-3 4-4 4-1 1-2-15 0zM621 830l0 2 1 0 17 0-7-1-4-1-6 0zM643 832l-3 1 5 3 10-1 0-1-7-3zM347 833l3 1 3-1-3-1zM601 833l-5 2-9 0-2 2 3 1 8-1 9-1 2-1 5 0 3-2-13-1zM313 836l4 0-2-2zM331 836l2 2-5 1-1 2 10 0 1-1-2-2 3-1 0-1-1-1-6 0zM485 837l2 1 4 0-3-2zM528 837l4 0 3 0-3-1zM467 838l4 1 2-1-2-1zM621 838l1 2 4 0 1 1 9 1 1-2-11-3zM423 840l3 2 3-2-2 0zM565 840l1 3-5 1-3 2 1 1 0 1 8-1 1 1 4 1 4-1-6-1-5-1 2-2 8-2 0-1-4-1zM640 840l0 2 2 0 5 0-2-2zM463 842l3 0 4 0-4-1zM661 842l5 1 4-1-2-1zM349 843l1 1 7 0 2-1-4-1zM403 843l0 3 7 0 1-2-3-2zM449 843l-3 1-1 1-7 1 19 0 1-2-6-1zM498 843l5 2 3 0 1-2-4-1zM637 846l5 0 2 0-2-2zM355 847l2 2 6 0 3 0 3-2-2-1-11 0zM427 847l1 1 3 0-1-2zM654 847l11 0 1 0-1-1zM633 848l3 1 1-1-1-1zM665 804l12-1 1 1-1 1-6 1-1 2 2 1 5-2 4 1-4 2 6 2-5 2-5-3-10 0-3-3 3-1 3-1-2-2zM787 804l9 0 1 2 3 0 1 2-9 1-5-2-3 2-1 2-1 0-5-4 4-2 4 0zM845 804l10 0 1 0 0 2-5 1 2 2-1 1-9-1-2 2-3 0-2-1-5 1-4-2-1-2 4-2 10 1 2 1 9 0-5-1-2-2zM875 804l5 0 0 1-6 1 6 0 0 2-10 4-3 2-9-1 2-2 4-1-1-1 1-1-1-1 4-2 6 0zM312 805l5 0 1 2 9 1-1 2-5 0-4-2-2-2-4 0zM541 805l5 0 3 2-1 1-4 1 1 1 0 2-10-1-3 1-11-2-4 2-9 0 0-2 8-3 7 1 4 1 10 0 2-1zM392 806l7 1-4 1-4-1zM446 806l9 0 3 1-3 1 2 2 3 0-9 1-8-3zM601 807l6-1 4 4-11 2-2-2 2-1-1-1zM728 806l9 0 6 4 12 0 2 2 3 1-3 0-2-1-5 0-3 3-6 0-6-3-3-2-7 0-4-2 6-1zM582 808l2 0 0 1-6 0zM615 807l2 1-3 0zM813 808l5 0 1 1-6-1zM943 807l4 1-2 2-4-1zM151 809l2 0 3 1-3 1-3-2zM230 809l3 0 1 3-4-1-1-2zM340 809l9 0-2 2-9-1zM587 809l3 0 0 1-1 0zM770 809l6 1-4 5-2 0-3 2 13 5 5 1 2 2 5 0 3-1-2-2-2 0 0-2-5-1-4-2-1-1 2-2 0-2 9 0 3-1 7 0 4 2 4 1 1 2-9 0-2 2 2 2 6 0 2-1 16 0 4 2-3 1 8 3 6-1 7 1 10-2 5 3-5 2-6 1-1 3-6-2-4 0-4-3-4 0-1 1-1 4-2 1-1 2-12 0-5-1-2-2 2-2 4 1 11 0 3-3-2-2-6 0 4-3 0-1-8 0-2 2 2 2 3 1-13 0-1 3-3 1-3 0-4 2 1 2 6 1-1 0-5 1-5-1-1 0 2-2-7-4 9 0 3-3 0-1-12 0-3 3-5 0-2-2-14 0 1-2 10 0 1-1-1-2-10 1-3-1 3-2 0-2 1-1-2-1 1-2zM891 809l2 0 2 1-4 1-1-2zM822 810l4 0-3 1zM916 810l2 0-1 1-2-1zM195 811l3 1-2 4-5-1-6 0-3 1-5 0 1-2 10 0 5-2zM436 812l2-1 3 2-3 1-9-1zM487 811l3 0 2 2 3-1 3 1-2 1 4 3-2 2-2 0-6-4-5 0-7 1-7 4 5 2 5 1 3 1-1 1-16-2-1-1-7 0 0-2 3-2 8-4 10 0zM961 812l2 0 4 2 6 0 0 2 0 1-5 1-1 1 0 1 3 2 11 4 11-1-4 3 2 1 6 0 1-1-2-1 2-1 9 2 1 0-2 2 2 1 0 3-7-2-3-2-2 0-4 2 3 2-1 1-5 0-5 2-8-1-2 2 1 1-1 2-10 0-4 3 1 2 3 0 7-2 8 0-2 2-9 0 1 3-42 0-14-2-2 1-2 1-4 0 0-1 3-1 1-1-2-2-6-1-8 2-1 1 2 1-5 2-10-1-1-1 1-1 4-1 2-1-6 0-1 0-2 2-4 1 4 1-2 1-6 0-26 0 14-3-10-2 6 0 2-2 5 0-2-2-10-1 7-2-1-1-6 0 7-1 3-1 5 1 2 2 13 0 10 7 4 0 1-2-3-2-7-2 5-1 5 2 5-2 12 0 1 1 0 2 1 1 5 0 1 0 0 2-1 3 1 0 4 0 1-1 5 0 4 3 13 1 2-1 11-1 2-1-2-2-5 1-1 1-15 0 2-2 11 0 1-1-2-2-5 0-1 1-4 0-4-1-2 1-4 0-4-3 9-2 10 2 5-1 1 2 4 0 4 0 2-1 0-2-6-1-6 1-1 0 1-1-1-2-5 0-2-3-2-1-5 0 0 2-3 1 5 1-1 3-2-1-3-2-10 0-2-3-2-1 17-2 1-1-1-2-3 0-2 2-9-1-2 1-2 3-6-1-3 1 8 2 1 1-1 2-4 0-5-3-10-1-3-2 8-3 9 2 4-4-7-1-1-1 2-2-3-1 6-2 0-2 3 0 3-2 5-1 8 2 2 2 0 1 4 2-3 3 2 1 0 1 9-1 3 4-4 2 1 1 5 0 2-1 5 0 6 5 7 0 2-3 5 0 3 3 2-1-2-3-5 0-4-1-2-2 3-1-5-3 3-3-17-1-3-3-3 0-2-2 3-1 9 1 5 2 8 1 0-1-2-2-10 0 0-1zM913 816l3 1 3-1-3-1zM916 819l-6 3 5 2 12-1-4-1 1-2-3-1zM867 839l-1 2 1 0 3 0 1-1 0-1-1 0zM866 844l-1 2 1 0 2 0 2-2-2 0zM208 812l4 1-4 1 0-1zM155 814l2 0 1 0-2 3 4 1 5 4-2 1-6-2-5 3-1-2-4-1 0-1 6-1-3-2zM222 814l5 0 2 2-6 0-2-2zM365 814l5 0 5 1 5-1 1 3-2 2 3 1 4-3 4 0 0 2-3 0-1 1 6 1 5 3 2 3-3 2-9-1 5-1-4-3-6-1-1-1-4 0-1-2 2-1-5-2-7 0zM872 814l5 0-2 6 3 3-1 1-4 0-5-3-7 0-3 2-3-3 2-1 4 0 2-3zM526 815l3 1 1 1-1 1 2 2 5 0 2 1 10 1-12 2-6-2-2 2-2 0-3 2 3 0 5-1 6 1-6 0-2 2 2 1-5 2-8-1 0-2 3-2-1-1-15 0-2-1 3 0 2-3 7-2 7-1zM432 817l5-1 3 1 5 0 1-1 2 0 4 1 1 2-5 1-2 2-5 0-1 0 1-2-1 0-5-1-5 0-2 0 6 3-4 1-4-1-2-3 2-1zM547 816l10 1-9 0zM561 816l4 0 3 0 3 3 7 0 7 4-7 1-2-2 1-2-1 0-3 0-1 2-2-2-10-3zM993 817l12 0 2-1 0 3-7 1 3 2 1 1-6 2-8-2-2-1-2 0-2-2zM180 817l4 1-3 3-5-1 0-1zM830 818l6-1 2 2 9 0-4 2-2 0-3-1-6 0-3-2zM358 819l3 0 0 1-1 1-3-1zM495 820l4 2-2 2-10-1 1-2zM878 820l5 0-1 1zM895 820l2 0 1 0-2 1-1 0zM371 823l5 0-1 2-4 0-1-1zM953 822l5 1-5 1-1-1zM153 825l3 1-3 0zM313 825l5 1-3 0zM742 825l5 2 8 0-5 1-2 2-6 0-3-2 3-1zM878 825l4 0 3 2-7 0zM165 826l5 1 2 3 5 2-4 2-6 0-2-2-5 0-2-2-6 1-2-2 6 0 1-2 5 0zM427 827l6 1 7 2 6-1 3 0-7 3-11 1-5-5zM723 829l13-1 0 1-3 2-8 1-2 2-5 0 1 2-2 0-4 0-2-3-5 0-3-1 4-2 5 2 4-2zM870 829l3 0 4 1 3 2 0 2-2 1-3-3-7 0-1-2zM187 830l3 0 7 1 5 2-6 2-1 3-3 2-2 0-3-1-8 0 3 2 9 1 0 1-1 2-5-1-8 1-4-1-3 2 1 1-1 0-1-1-3-2 0-1-1-1-10 1 3 1-2 1-3 0-1-1-5 0 0-2 3-2 3-1-1-1 3-2-8-2 0-2 15 3 10 4 4 0 1-2-4-1 0-1 8 0 1-1-1-1zM184 834l2 2 3-2-2 0zM755 830l6 0-6 4-1 2 2 1-8 0-1 2 1 1 8 0 4 2 4 1-9 2-3-1-2-3-9 2 6 3 8 0 6 2-8 1-30 0 5 0 2-1 0-1-2-1-1-2-7-4 9-2-6-1-3-1 6-2 6 1 4-1 11 1 3-2 0-2zM737 848l3 1 2-1-2-1zM766 831l4 0 0 1-1 1 2 1 10 0 2 2 4 0 1 1 5 1 1 1-1 1 3 2-1 1 1 1 14 1 1 4-8 0 0-1-2-1-8 2-1-1 2-1-2-1-1-2 2-1-8-1-3-1-1 1 0 1 3 1-2 2-6-1-5 2-4 0-2-2 6-3-6-1 0-2 2-1 4 1 5 0 4-3-12-1-3 1-1 0 2-2-3-1zM428 833l4 1-4 1-3-1zM837 834l4 1-5 1-3 0zM805 836l3 0 6 3-2 2-4 1-1-2-4-2zM220 838l5 0-3 2 3 2-4 0-5 0 1-2-1-1zM822 841l3 0 7 1-5 2-5 0-1 1-3-1zM981 841l4 1-3 0-1 0zM1003 842l4-1 0 4-5 0-1-2zM835 842l2 1 1 1-7 0zM897 845l7 1-7 1-1-1zM178 846l8 1-3 0-1 2-23 0 14 0zM221 846l11 0 8 1 4 2-23 0-1-2zM821 846l4 1-2 1-3-1zM992 846l9 0 2 3-13 0 1-2zM198 848l4-1 6 2-10 0zM830 848l5-1 4 1-7 1-3-1z"/><path fill="#ebb934" d="M148 664l859 0 0 36-4-2-10 1 5 1-6 5-3 4-3 1 0 2 4 1-2 1 0 2-7-1-9-3-1 1 0 2 5 1-6 0-5 0-1-4 2-1 2 1 4-2-3-2 6-4-3-1-15 0-2 1 7 4-9 2-3 2-4-1-9 0-2-3-13-1-1 1 2 2-1 1-6 2-10 1-2-1 3-1 0-3 4 0 5-4 8-2-7-4-9 0-5 1-6-2 10-2-2-1-8 0-4 2 1 1-1 1-7 3-11-1-6-4 7-1 0-2-14 0-5-2-2 3-4 0-2 2 3 0 3-1 4 2-2 2-23-1-1-1 4-2-2-2 9-4-4-1 0-2-2 0-11 1-4 1-1 2-5 1-9 0-3-2-2-2-2-1-8 0-4 2 1 1 6 0-1 2-9-2-9 1-6-1-10-3-8 3 2 3-2 1-3-1-3-2-9-1-10 0-2-2-4 1-5 3-9 2 2 2 0 1-7-1-12 0-4 2 5 2 0 2-6-2-10 5-8-1 1 2-2 2-4-1 0-2-10 1-20 14-8 3-8 0-2 2-7 4 2 1 0 1-4-1-15 0-15 11-11 2-12 3-3-1-20 1 13-4 3-2 2-2-1-2-4-3-6-3-6-1-14 1-7 2-5 3-12-2-3 1 1 2-4 2-10-4-10 0-6 2-4 0-20-5-6-1-13 5-16 2-12 6-7 0-8-3-4 0-14 3-1 1 1 2-6 0-4 1 6 1 17-1 1 1 1 1-2 2-4 0-4-1-6 0-3-2-2 2-6 0-3-3-5 0-11 1-5-1-3 1-7 0-2-1 3-1-1-1-4-1-5 1-2-2-12 6-10 3-5 1-1 1-1 1-15 0-9 1-10-6-2 0-7 4-6 2-12-2-13 2-20-4-5 0-10 3-9 8-3 1-3-1 0-99zM752 668l-5 1 6 1 3-2zM773 672l3 1 3 0 0-1-2-1zM716 673l-2 1 3 1 6-1-3-1zM831 673l0 1 1 1 3 1-2-3zM780 674l-1 2-8 2 9 1 5-2-3-3zM712 677l-11 2-7 3 9 1 19-4-6-3zM857 678l-10 1 5 1 5 5 15 1 7-2-16-3 0-1 1-1-1-1zM732 679l-1 1 4 0 2-1zM799 679l0 1 2 1 5 1 3-2-4-1zM742 680l-2 2 5 1 10-1-4-2zM936 680l-10 3-1 1 2 2 5 0 11 0 3-2-4-3-4-1zM718 684l17 3 8-1 1-2-21 0zM777 684l-1 2 7 0zM821 684l4 1 4-1-3-1zM677 687l-1 1 4 0 4-1-3-1zM898 687l4 2 9 2 1-1 2-2-6-2zM876 689l-1 1 2 2 10-2zM926 693l-2 1 6 2 0 1-1 1 2 1 6 0 4-1-6-2 0-3-2-1zM675 697l-1 1 4 1 9-2-4-1zM928 702l-1 1 6 1 7-1 2-1-6-1zM944 707l-2 1 0 1 8 0 7-1-1-1-4-1zM603 710l-11 4-2 3 0 2 6 4 10 1 9-1 6-4 0-3-5-4-6-2zM728 693l5 0-9 3 0 1 1 1-3 2-4 1-4-2 1-1 5 0 3-2-1-2zM758 693l4 0 5 1 4-1 12-1 1 1 0 3 1 1-2 1-8 0-2 0 6-2-2-1-17 0-2-1zM738 695l4 0 4 2-5 0-3-1zM760 699l4 1 0 3 2 1 0 2-9 0-1 0 2-2-1 0-5-1-5 1-4 2 2 1 11 0 0 1-1 2-4 0-5 0-3-3-5 0-3-1 3-3-2-2-8-1 18 0 1 3 5 0 3-3zM770 699l2 0 1 1-3 1-3-1zM782 700l4 0 2 2-5 1-2-1zM802 701l1 0 2 2-2 0-2-1zM906 701l4 1 2 1 0 1-2 0-4 3 1 1-1 1-5-2-3 0-2 3-10-2-4 3-11 0-1 1 2 1-4 2-3 0-2-1 0-1 2-1 0-3 10-1 7 0 6-4 3 1 6 0zM821 703l4 0 1 1-5 1-1-2zM868 703l5-1 1 1-2 1-11 2-1 3-2 0-15-3-2 0-1 3-2 2-5 0-2-2 0-1 4-2 5 0 1-1 24-1zM710 705l2 1 11 0 3 2-13 1 5 0 3 2 6 0 2 2-2 1-5-2-12 0-1 1-1 4-2 0 0-2-5-2 2-1 0-3 2-2zM778 705l8 1-4 1-4-1zM807 707l6-1 5 2-4 2 3 3-1 3-5 0-1-2-4-2-4 1-4 0 3-2 4 0 2-2zM690 708l5-1 1 1 0 1-1 1-5 0-1-2zM773 707l5 1 4 1 1 1-5 1-3 2-4-1 0-2zM655 709l13-1 5 1-2 1 2 3 2 0 0 1-3 1-12 0-4 3 4 2 3 0-1 1-10 0-3 1 8 2 5 0 3 1 6 0 5 3 0 1-10 2-8 0-1-2-2-1 0-1 0-1-8-4-9 0 2-2 9-2 1-1-2-1 0-2 7-2-3-2zM735 713l2-1 13 1 0 1-3-1-14 0zM846 713l3 1-8 0zM926 713l5 0-1 1 5 2 1 2-1 2-10 2-7-1-1-1-12-1-4 0-4 3-10-3 0-1 5 0 5 2 5-1 1-1 9 0 11-3zM919 718l3 1 2-1-2-1zM823 714l7 0 0 2 3 2 1 1-11-1-1 2 6 3-1 2-6 0-3-4-1 0-6 1 8-6 3-1zM880 714l4 0-3 4 4 1-2 2-5 0-1-1 0-1 2-2 0-3zM947 714l3 0 3 2-3 1 2 2 4 0-1 2 10 1 8 3 9 1 2 2-6 1 4 2 3 1-3 2-4-1-6-3 5-1 0-2-1 0-10 2-6-2 4-1-2-1-5 0-2-3-4 0-1-2-6-2 0-1zM686 718l3 0 1 2-3 3-10 0-1-1 4-1zM718 718l14 1-6 1-4 3 1 1-3 2-5 0-2-2 0-1 2-2 5 0 0-2-3-1zM745 718l7 0-5 2-4 0zM853 718l6 0-6 0zM708 719l3-1 1 1-4 1zM781 719l7 0-5 3-5-2zM967 719l6 0 10 3-6 0-2-1-8 0-1-1zM993 719l3 0-3 2-2-1zM936 721l5 0 5 2-10 1-1-1zM1007 721l0 4-2 1-8 0-2 1-6 0 3-1 1-3 3 0 2 1 7 0zM735 723l3 0-1 3 1 0 4 1-1 1-11 0-1-1 6-1zM702 723l1 0 3 3-6 0zM758 724l9 0-5 3-6 0-2-1zM878 724l6 0-1 2-3 1 2 1 3 0 11-4 2 0-1 2-4 3-6 1-4 3-3 0-4-5 1-1-1-1zM773 725l11 1-4 1-9 0zM855 726l2 2-4 0 0-1zM902 726l8 1-8 0zM930 726l22 0 1 2-7 0-3 2-6 0-2-2-4 0-2-1zM620 728l7 0 10 0 3 1-7 1-4 2 3 4 0 3 5 1-1 2-6 0-2 1 0 1 3 3-3 2-6 1-2-2 1-1 2-1-9-3 2 0 0-3 4-1-9-1-4-1 6-1 4-2 5 0 3-4-4-1-2-1zM766 728l3 0 0 4-6 0 2-2-1-1zM712 729l3 0 2 1 0 2-6 0-2-2zM752 729l4 0-4 1zM787 729l4 0 1 2 0 1-4 0-2-3zM835 730l2 0-2 2-1-2zM967 730l4 0-1 2-3 0zM990 730l7 0-6 3-3-1zM913 732l8-1 2 3-7 1zM948 732l6 0-2 1-2 0zM776 733l4 0 3 1-11 0zM892 733l4 0-5 0zM647 734l4 0-4 1zM686 734l9 0 1 2-13 0zM735 734l4 0-4 1zM1006 734l1 0 0 9-3 0 0-1-1-1-5 0-1-1 0-1 3 0zM587 735l5 1-5 1-1 0zM788 735l5 1-5 0zM815 735l8 1-10 1zM886 735l10 2-5 1 3 1-3 2-12-2 0-1zM498 737l1 1-1 1-5 2-7-2 1-1 8 1zM748 736l4 1-4 0zM780 736l7 1 0 1-1 1-2 1 2 1 9 0 1 1-8 4 2 1-5 0 2-1 0-2-1-1-5 0-2-1 2-2-4-2zM937 736l3 2-4 0zM678 738l5-1 3 1 1 1 4 0 2 0 2-1 8 0 1 0-2 2-4 0-6 3 1 1 12 0-5 2-9 0-3-1-5 0 0-2 4 0 1-1-5-2-6-1zM850 738l2 0 4 2-3 2zM976 738l2-1 1 1zM451 739l3 0-4 0zM717 740l10 0-10 1zM471 741l9 1-5 0-4 1zM592 741l10 2 0 1 1 2-3 1-8 0-2 1-4 1 0-3 2 0 5-2zM811 741l5 1-6 1zM923 741l4 1-5 0zM933 741l4 1-5 0zM971 741l3 1-3 0zM397 743l2 0-2 2-2-1zM897 743l2 0 0 1-1 0-2-1zM663 744l8 0 1 0 0 2-1 1-8 0-2-1zM716 744l7 0 5 1 5 3 1 2-1 2-1 0-6-5-10 1-5-2zM367 745l4 1-3 0zM651 745l6 0 2 3 0 1-3 1-6-2zM882 745l10 1-9 1zM971 745l4 1 3 0 1 2-7 1-2-2 0-1zM995 745l5 1-2 2 2 1 0 1-10 0 2-1 3-1-3-1zM398 747l4 0-2 1-2 0zM412 746l3 1-2 1-2 0zM848 746l2 1-2 1-1-1zM952 747l3 0 1 2-4 1-6 2-13 2-8-1 6-2 7 1 4-2 5 0zM462 748l4 0 0 1-1 1zM300 749l5 0-2 1 4 1 1 2-8 0 0-1-1-3zM373 749l4 0-5 0zM390 749l6 3 1 1-1 1-4 2-9 0-1-2 1 0 8 0 2-1-2-2-5-1zM420 749l10 0 6 5 1 0 0 2 2 1-2 1-4-1-3-3 0-1-3-2-7 0-2-1zM596 749l6 0-1 2zM871 749l9 0 1 1-9 1-2-2zM675 750l7 2 4 2-6 1-3 1-4 0 0-2-3-1zM857 750l4 1 10 1-1 1-21-1zM401 751l4 1-4 0-1 0zM458 752l5-1 2 2-13 1 3 0zM552 751l5 2 4 2 5 1-3 1-10 1 5-1-3-2-7-1zM610 751l5 0 1 2 0 1-6 1-1-3zM765 751l8 1 0 2-2 3 2 1-7 0 0-1-1-1-3-2zM318 752l9 1-10 1zM348 752l8 1-1 2-5 0-2-2zM625 753l4 0 0 1 3 3-9 0 0-3zM540 754l3 2-3 0zM808 754l3 0 1 2-2 0zM837 754l4 0-4 1zM992 754l3 0-4 0zM593 755l6 2-1 1-7 3 0 3-9-1-3-3 2-1 12 0 2-2-2-1zM316 756l1 1 0 1-5 0zM371 757l12 0-5 2-5 1-1-1 1-1zM858 756l10 1-5 1-7 0zM537 758l3-1 2 1 5 2-1 2-3 0-1-1-5-1zM968 758l6 0-6 0zM636 759l7 0 2 2 3 1-8 5-3 0-2-1 3-1 3-2-5-3zM717 759l11 1-2 3-3 0-6-2zM776 759l5 0 0 1-4 0-4 2-1 0zM915 759l3 0-4 0zM478 760l7 0-3 1-1 1-5 0zM620 760l7 0 0 2 4 2 0 2-6 0 0-3-2-1-2 1-7 0 2-2zM782 760l8 0-9 0zM528 761l5 1-3 1-4 0zM666 761l9 0 1 3 5 0 2 2-10 0zM820 761l3 1-1 1-4-1zM288 763l9 0-1 1-8-1zM417 763l1 0 0 2-6-1 4 0zM475 764l3 0 2 2-5 0-1-2zM711 764l5 0-6 0zM776 764l9 2 2 3 4 0 2 1-7 1-1-1-8-2-3-2zM937 764l4 0-3 1zM311 765l3 1-2 1-2-1zM590 764l2 2-4 0zM606 765l4 2-6 0zM861 765l4 1 0 1-3 0-1-1zM893 765l5 0 2 3-5 1zM1003 765l4 0 0 6-5 0-2-1-5 0-2-1 7 0 2-2zM325 766l6 0 3 1-4 1-5 0-1 0zM407 766l3 1-2 1-12 0 9 0zM528 766l5 1-7 1zM573 766l8 1 2 1-7 0-4-1zM148 768l2 1-3 1 0-2zM348 768l5 0 1 1-6 1-1-2zM367 768l5 0 1 1-4 1 2 2-3 1-1-1 1-2-1-1zM427 768l4 0-1 1 0 1-9 0 4 0zM677 768l4 0 1 1 4 0 2 1-3 1-4 2-9 0-1-1 1-2zM750 767l5 1 2 1-10 1 0-1zM877 768l5 0 1 1 10 0 0 1 2 2-2 1-2 0-4 3-6 1-4 0-2-1-5 0-4 1-6-1 7-1zM311 769l7 0-2 2-6 0-1-1zM597 769l4 0-4 1zM610 769l3 0 2 1-4 2-3 0zM705 769l9 1-8 1zM726 769l4 0-4 1zM856 769l3 0-4 0zM965 769l8 0-1 2-7 1-5 3-4 0-5-3 14-1 0-1zM978 769l4 1-6 0zM293 770l4 2-5 0zM732 770l4 0 1 2-1 1-4 0-3-1zM768 770l4 0 1 2-3 1-7 0-1-1 4-1zM920 770l6 0-5 1zM392 771l5 1 0 1-4 0-2-1zM408 771l7 1-2 1-5 0 0-1zM906 771l3 1-3 1zM328 773l5 0 3 1-3 2-7 0-2-2zM520 773l2 0-1 1-2 0zM931 773l5-1 1 1-6 0zM308 774l7 0 1 2-1 1-5 0-5-1zM660 774l4 0 0 1-2 2 3 1-7 0 0-2zM692 774l5 0 1 2-6 0-1 0zM273 776l9 1-4 1-3 4-6 0 4-3-1-2zM418 776l9 1-1 0zM698 776l4 1-4 0zM1006 777l1-1 0 4-4 1-3-2zM220 778l1 0 2 1-1 1zM386 778l1 0 1 1-2 1zM511 778l4 0 2 1-7 0zM526 778l4 0-5 0zM803 778l7-1 0 1-7 1zM430 779l12 0 2 1zM695 780l7 0 2 2-8 0-1 0zM796 780l5 0-1 3-3 0-2-1zM851 780l14 0-5 1-3 2-6 1-4 2-17-1-2 1 0 1-3 1-5 3-10-2 0-1-1-1 4-2 0-2 7 0 3-2 14 0 1 2 5 1 5-2zM893 780l4 0-5 0zM543 782l5 0 2 1-5 2-1 2 1 1-3 0-5-2 0-2 3 0zM760 781l1 1 1 1-2 0zM881 781l9 2-9 0zM450 783l8 0-3 2-4 0zM621 783l3 1-2 0zM715 783l12 0 3 1 5 0-2 2-7 0-1 2-5 0-1-1 2-1-7-3zM587 784l11 0-12 0zM861 784l2 0 1 2-4 1-3-1zM285 785l2 0 3 2-3 1-4 0 0-1zM426 785l4 2-5 0zM518 785l3 1-1 1-2 0zM530 785l3 1-3 0zM756 785l17 0 3 2-3 0-1 1-12 0-5-1zM801 785l5 1-1 0zM880 785l6 1-1 1-8 0zM901 785l5 0 1 2-7 0zM973 785l5 1-3 1-4 0zM255 787l7 0-5 0-2 3-8-1 1-1zM490 788l4 0 0 2-3 1-2 2 2 1 1 2-1 0-3 0-5 0-2-1-4 0-2-2 1-1 5-1 2-2 5 0zM957 787l3 1 0 1-5 0zM190 789l5 0-5 1zM330 789l4 0-2 1-2 0zM661 789l5 0 3 1 2 4 4 2-5 0-4-1-6 2-4 0-1-1 2-2 0-1 1-3zM740 789l4 0-5 0zM748 789l6 1-10 0zM853 789l5-1 4 1 16 0 3 1-4 2-5-2-5 0-4 1zM928 789l3 0-1 2-2-1zM258 790l28 0 4 2-3 1-5 0-2-2-20 1-2-2zM631 790l5 0-1 2-5 0 0-1zM757 790l8 0 1 2-1 1-7 0-2-1zM846 790l2 0-2 2-4 0zM942 790l3 0 3 3 4 0-5 3 1 1-1 1-2 0-1-1 1-1-4-4zM498 791l5 0 5 2-13 0zM793 792l5 3 10 0 4 2-2 1-5 1-2 1-2-1-5-3-3 0-3 1-1 1 0 1-4 3-10-2 10-3-2-3 5 0zM215 793l1-1 2 1zM237 793l6 0 3 1 11-1 1 1-3 2 3 2 5 1 8 0-3 2-3 0-7-1-7 0-3 4-3-1-2-1 0-4-6-4-1-1zM268 792l3 1-3 0zM736 793l1 0-1 2-5-1zM818 793l2 0 2 2 8 0 0 2-7 0-1 1-4 0-3-2 0-2zM191 794l6 0 0 2-4 1zM336 794l4 0 2 2 7 1-7 3-5 0-3-2 0-1-1-1zM433 794l5 0 2 2-7 0zM746 794l4 1 9 1 1 1-8 0-9-1zM980 794l10 1 1 2-3 0zM996 794l11 1 0 2-12 0-1-1zM628 795l17 0 1 2-10 0-3 1-9-1zM710 795l6 2 1 2-21 1-4 2-12 1 3-1 5-1 4-2-2-2-4 0 1 0 5-1 1 2 4 0 11-2zM912 795l2 1 1 1-2 0zM220 796l3 0 4 3-9 1 0-3zM451 796l3 1 0 1 1 1 8 0-3 1-4 2-3 1-3-1 3-1 0-1-7 0-3-2 5 0zM361 798l5 2-1 3-6 0-1-4zM505 797l6 1-6 0zM563 798l5 0 5 1-3 1-4 2 4 2-11-1 0-1 2-1 2-2zM850 798l5 0-4 2-4-1zM982 798l4 0 6 2-5 1-1 1-7 0-1-2zM293 799l17 0 5 1-8 1-1 1 2 1 1 3-4 0-3-3-5-3-5-1zM395 799l5 0 1 1-5 1-2-2zM500 799l2 0-1 2-4 1-2-2zM643 799l4 0 2 1-8 1-3 2-6 0-3-1 1-2 1 0 10 0zM725 799l10 1 0 2-2 1-6 0-4 3-3 0-2 1 0 1-3 1-5-2 1-2 2 0 7-2 9-1-3-1-2-2zM763 799l9 0-9 1zM910 799l1 0 0 1 1 1 6 0 0 2 4 2 4 0 5-2 14 0 1 1-5 1-1-2-7 0-2 3 6 3-2 3-3 0-2 0 0-2-5 0-4-3-5 0-4 3-5-1 0-1 5-1 2-1-1-1-18-1 3-1 8 1 5-4-2-1zM386 800l7 0-3 1-5-1zM585 800l2 0 0 2-2 0zM180 801l1 1-1 1 2 2 10 0 1 1 0 1-16 0-1-2-2-1zM208 801l7 2 7-1 2 1-3 0-8 4-1 0 2-1-2-3-6 0zM378 801l4 1 1 2 2 0-2 1-3 3 5 2 7-1 3 1 3 0 4-2 9 5 3-3 0-1-2-3 11 0 3-2 1 0 6 0 2 1 2 0 3 3-2 0-5-2-12 1-5 3 3 2 0 2-6 2 2 3 0 1-4 1-2-2 1-1-3-3-5-2-5 0 1-1-1-1-17 0-4-3-6 1-3-1 0-2 5 0 1 0-2-2 6-1zM537 801l1 1-2 1 0-1zM757 803l6 0 2 1-9 2-1-2zM970 803l1 0-1 1zM993 803l3 0-1 3 3 2 9 0 0 4-5-1-7 1-3 1-6 0 1-2 6 0 2-1-2-2-2 0-1-2zM282 804l6 0 7 3 10 1 5 2-5 1-3-1-6 0-2 2 1 2 8 0 4 1 5-1 10-1 5 0 1 1 1 0-3 2-13 0-2 1-5 0-1 1-8 0-1 0 1-1-4-1-3-3-13 0 0 3-2 1 1 1 11 0 8 3 10 3-2 3 1 1-6 1 3 2 5-1 5 0-1 2 2 1 2 1-1 2 2 0 2 0-2-2 7-3 1-1-1-1 6-1 2 2 2 1 5 0 2-1-2-1-9-1 0-1 1-3 4 0 2-1 0-1 0-1-10 0-6-2 7 0 2-1 4 0 1-1 8-1 1 1-5 0-1 1 2 2 15 0-12 3-3 4 2 1 2 0 4-3 6-1 11 1-3 4 5 1-1 2-1 1 4 1 3-2 6-3 4 0 2 2 5 0 3 2 5 0 2-2 3 0-3 3-6 3 2 1 3-2 4 0 5 3 1-2 5-2 2-2 4-1-7-1-1-2 3-1 4 0 2 1 2 1-1 3 3 3-1 1 1 1 10 0 4-2 4-1 5 4 5-1 3 0 3 1 6 0 4-1-3-2-12-1-3-2 4-3 4 0 2-1 9 0 0 1-7 3 5 2 7-1 3-2-3-2 5-1 5 1 1 2-3 1 0 1 1 1 5 0 1-2 4 0 2 1-1 2 1 1 3 2 5 0 2-1-5-2 4-3 5-1 8 0 1 2 9 0 2-1 5 0 4-3-2-1 3-1 3 0 0 1 5 2 6-2 6 0-1 2-4 0-4 2-6 0-2 1 9 4-5 2 2 3 11-2 3-1 4 0 1 3-4 0-3 2 0 1 1 1-2 1 4 1 6-1 1 1 4 0-22 0 3-1 0-1-3-2-4 0-8 2-2-1 1-2-2-3-4-1-3 0 3 5 3 2-2 1 4 1-11 0 0-1-3-2-3 1 2 2-33 0 3-1 6 0 1-4 8 1 1-2-4-1-5 1-1 1-6-1 4-1-4-1-6 0-4 2 3 3-2 2-3 1-21 0 0-1-2-1-7 2-48 0-3-1-7 1-1-1 0-1 2-1 1-3-7-1-4-5-3 0 0-1 0-2-1-1-3 0-2 3-12 0-4-1-1 0-1 2 1 1 10 1-4 3 1 1 10 0 4 1 1 2 4 1 2 2-30 0-2-1-6 0-5-2-9-1-2-2-3 0-3 3 4 1 3 2 9 0-35-1-1 0 0-1-2-2-4 0-3-3-5 2 10 4 1 1-22 0-2-1-2 1-16 0 3-1-2-1-3 0-2 2-8 0 1-4-4-1 1-1 7-2 2 1-1 1 0 1 4 0 1-1 0-1 0-1 9 0 2-1-4 0-2-2 2-1 0-1-4-1-4 0-2 2 3 1-1 0-10-1-7 3 1 3-11-1 0-2 3-1 7 0 2-2-6-4-6 0-3 2-11 0 1-2 5 0 1-1-3-2-4 1-5 0-4-2 2-1-1-1-5-1-1 0 2-2-1 0-6-1-3-1 4-1 7 0 2 3 5-1 9 1 4 2-5 1 2 2 5 2 13 0 2-1 5 0 1-1-2-2-9 0 6-1 2 0-4-5-4-1-7 1-3-2 1-1 7-2 10 0 3-2 12 0 3-1 7 1 6-2 2-3-1-1-4-1-1 1-5 0-1-2 12-1 3 1 1 0-1-2zM285 807l2 1 1-1-2-1zM257 818l2 1-4 1-1 2 4 1 0 1-3 2 2 2 8 0 2 2 3 0 13-4-5-4-3 1-5 0-3-1-7 0-1 0 1-2 5 0 3-1-6-2-4 0zM288 824l6 3-2 1 1 1 3-1 2-2-7-3zM277 830l4 2 1 1-6 4-5 0-2 1 6 4-5 1-7 0-1 1 0 1 4 1 16-5 9 0 1-1-2 0-4-3 4-4 5-1 0-2-17 0zM347 833l3 1 3-1-3-1zM269 834l-1 2 3 0zM322 834l1 1 2-1-2 0zM331 836l1 1-1 1-4 1-1 1 1 1 10 0 1-1-1-2 2-1 0-1-1-1-6 0zM535 836l-7 1 5 1 6-2-2-1zM485 837l2 2 5-1-4-2-2 0zM414 838l1 1 1-1-1-1zM466 838l5 1 3-1-3-1zM317 839l3 1 1-1-1-1zM422 840l3 3 1 0 3-3-2-1-4 1zM440 840l2 1 2-1-2 0zM504 840l2 1 1-1-1 0zM353 842l-3 0-1 1 1 1 7 0 3-1-5-2zM463 842l3 1 4 0 1-1-1-1-4 0zM402 843l0 3 1 0 7 0 2-2-4-2-5 0zM449 843l-3 1-1 1-5 0-3 1 1 0 19 0 2-2-7-2zM312 847l1 0 2 0-2-1zM354 847l3 2 6 0 3 0 3-2-2-1-11 0zM426 847l2 2 3-1 0-1-1-1zM452 804l1-1 2 1-2 1zM665 804l12 0 0 1-6 1-2 2 3 1 8-1 1 0-3 1-1 1 5 2-4 1-3-2-12 0-3-3 3 0 3-2zM787 804l9 0 1 2 3 0 1 2-9 0-1-1-4 0-3 2-1 2-1 0-4-4 3-2 5 0zM845 804l10 0 1 0 0 2-5 0-5 0zM875 804l5 0-5 1zM245 805l5 0 1 1-2 1 7 2 2 3-3 0-10 0 0-3 2-1zM312 805l5 0 1 2 9 1-1 2-5 0zM541 805l4 0 4 2-1 1-4 1 1 1 0 1-13 0-7 0-4-1-4 2-9 0 0-2 8-2 21 1 2-1zM828 805l12 1 2 2 9-1 2 2-7 1-3-1-3 2-4-1-5 0-3-1-1-2zM867 805l11 1 2 1 0 1-10 3-3 2-8 0 1-2 3 0 1-1 0-3zM968 805l3 0 3 1 0 1-1 0-3 0zM392 806l7 1-4 0-3 0zM446 806l11 0 1 1-3 1 2 2 2 0-7 1-5-1-3-2zM571 806l5 1-3 1 1 1-2 1 1 2-1 1-9 0-5-1 9-3zM602 806l5 0 1 2 3 2-11 2-2-2 2-1-1-1zM728 806l9 0 6 4 12 0 1 2 0 1-6-1-3 3-6 0-4-3-2 0-3-2-7 0-3-2 5 0zM582 808l1 1-5 0zM813 808l5 0-1 1zM943 808l3 0-1 2-3-1zM151 809l2 0 2 1-2 1zM230 809l3 0 1 1-1 1-3 0zM340 809l8 0-1 2-9-1zM588 809l2 0 0 1-3-1zM691 809l9 0 0 1 3 4 4 1 6 0 3-4 9 2 0 1-2 2 0 1-11 0-4-1-1 2 1 2 3 1 1-1 8 0 4 2-4 0-5 4 3 2-1 1-17-2-4-1-6-4-4 0-3 1-5 1-1 2-10 1-3 2-4 1 2 2 6-3 5 0 2 1 11 0 1 0 1-2 7 0 1 1-3 1 2 2 0 1-8 3 2 1 1 3 16-1 0 2-5 1-3-1-7 0-3-1-7 1-2 2 3 2 8 1 3-1 4 3 5 0 0 1-74 0-3-2-3 0-2 0-4 2-44 0 5-1-1-1-6 0-4-1 1-2 8-1 0-1-3-2-7 0 0-1 1-1 8 0-1-3 2-1-3-2-2 0-1-2 9 0 1-1-1-1 0-1 17-1 2 0-10-6-5-5-9 1-1 0 1-3 17 1-3 2 1 0 4 0-2-2 2 0 16 1 2 1-7 0-5 3 2 1 8 0 7 2 5-1 2-3-4-2 1-2-1-1 5-1 0 3 5 0 5-2 7-2 1 1-1 3-8 0-2 2 8 4 12-1 1 0 1 3 4 0 2-3 8 0 2-1-5-2-5 0-1-1-5 0-2 1-9 0 7-2 15 0 2-1 3 0 3 2 4 1 2 1-5 0-2 2 1 1 7 0 4-1 3 1 5 0 3-1 2-2 0-1-4 0 9-4-2-1-10 0 0-2zM627 822l-2 0-3 3-2 0-3 1-1 2 5 1 4-1 5-4 3-1-3-2zM663 823l-1 1 4 2 5 0-3-2-1-2-2 0zM606 824l2 1 1-1-1-1zM631 827l10 3 6-1 3-2-2-1-10 0zM588 828l-2 1 1 1 5 0 3 3 5-1 0 1-4 2-9 0-3 2 2 1 10 0 9-2 2-1 6 0 2-2-2-1-12 0-1-1-2-3-8-1zM621 830l-1 2 2 1 16-1 7 4 10 0 1-2-8-3-7 1-10-1-1-1-8 0zM621 838l1 2 4 0 1 1 9 1 2-2-12-3-4 0zM667 839l1 1 2-1-2 0zM639 840l3 3 4 0 2-1-3-2zM661 842l5 1 4 0 0-1-2-1-6 0zM642 844l-5 2 5 0 2 0zM577 847l3 0 1 0-1-1zM653 847l2 1 10 0 2-1-2-1-10 0zM633 848l3 1 1-1-1-1zM770 809l5 1-3 5-2 0-3 2 11 5 6 1 3 2 5 0 3-1-2-2-2 0 0-2-5-1-4-2-1-1 2-2 0-1 9 0 3-2 7 0 1 1 2 1 5 1 1 2-9 0-3 2 3 2 6 0 2-1 16 0 3 1-2 1 0 1 9 4 5-1 7 0 4-1 6 0 3 0 1 2-4 2-6 0-2 3-9-2-4-2-4 0-1 1-1 3-3 2 0 1-17 0-1-2 1-2 12 2 3-1 4-3-3-2-6 0 5-3-1-1-8 0-2 2 2 2 3 1-13 0-1 2-3 2-3 0-5 2 0 1 7 1 0 1-10 0 2-2-7-4 8 0 4-3-1-1-12 0-3 2-5 0-2-1-13 0 0-2 10 0 2-1-2-2-10 1-2-1 2-2 0-2 1-1-1-1 0-2 5-3zM800 814l2 1 2-1-2-1zM891 809l2 0 2 1-4 1-1-2zM970 809l5 0 3 1-2 2 3 1-2 1-4-1 2-1-5-2zM195 811l3 1-2 4-9-2-4 1-1 1-4 0 0-2 10 0 5-1zM437 812l4 1-12 0zM487 811l3 0 0 2 2 1 3-1 3 0-3 1 5 3-2 1-2 0-5-1-1-2-5 0-3 1-4 0-8 4 5 2 6 1 3 1-1 1-6-1-1-1-9 0-1-1-7 0 0-2 2-1 9-5 10 1zM962 812l5 2 6 0-1 2 1 1-5 1-2 2 4 3 11 3 11 0-4 2 2 1 6 0 1-1-1-1 1-1 9 2-1 3 2 1 0 2-7-2-3-2-4 0-3 2 3 3-5 0-1 1-4 1-8-2-3 3 2 1-1 2-10 0-2 2-10 2-1 1-14 0-1 0 2-2 11 0 1-1-1-2-1 0-5 0-2 1-8-1-1 1-4 0-4-3 5 0 4-2 10 3 5-1 1 1 4 0 4 0 3-2-7-2-6 1-1-3-5-1-2-2-2-1-5 0-1 2-3 1-10 0-3-3 16-1 2-2-1-1 1-1 8-1 2 3-4 2 2 1 5 1 2-2 5 0 6 5 7 0 2-3 5 1 3 2 2-1-2-3-5 0-2-2-2 0-2-1 3-1-4-3 3-3-18-2-8-4 3-1 9 1 4 2 5 0 2 1 3 0-1-3-2-1-10 0zM208 813l4 0-4 0zM913 813l5-1 8 2 2 4 4 1-3 3 1 2-3 1-2 2-9-1-5 4-4-1-1-1 5-4-1-1-7 0 0-1 1-2-2-1 5-2 0-1zM912 816l4 1 3-1-1-1-2 0-3 0zM916 819l-6 3 5 2 13-1-5-1 1-2-3-2-4 0zM155 814l2 0-1 3 4 1 4 4-1 0-6-1-5 2-1-2-4 0 6-2-2-2zM222 814l5 0 2 2-6 0-1-1zM367 814l8 1 5-1 0 3-2 2-3-1-2-1-7 0 0-3zM873 814l4 1-2 5 3 3-1 1-4-1-5-2-7 0-4 1-2-2 2-1 4 0 2-3zM865 819l2 1 2-1-2 0zM526 815l3 1 1 1-2 1 3 2 16 2-11 1-8-2 0 2-2 0-4 3 7 1 0 1 1 1-4 2-6-1-2-2 4-2-2-1-17-1 3 0 2-3 7-2 7 0zM202 816l14 2 0 1-8 2-3-1-7 0-1 0-1-2zM433 816l10 2 5-2 2 1 2 1 1 1-5 1-2 2-5 0 0-2-1 0-5-2-5 0-2 1 6 3-4 1-4-1-2-3 2-1 5 0zM561 817l6-1 3 2 0 1-2 0zM1007 817l0 1-8 2 4 2 0 1-5 2-8-2-4-1-1-2 3 0 5-3 12 1zM180 818l4 0-3 3-4-1 0-1zM386 818l4 0-4 1 0 1 1 1 5 0 7 6-3 1-9 0 6-1-3-3-8-1-1-1-3 0-1-2 1 0 5 0zM830 818l7 0 1 1 9 0-4 2-2 0-3-1-6-1zM358 819l3 0 0 1-3 0zM578 819l7 4-7 0-1-1zM880 820l3 0-5 0zM895 820l3 0-2 1zM488 821l8 0 3 1-2 1-10 0zM371 823l5 0-1 2-4 0-1-1zM953 823l4 0-4 1zM225 824l6 0-6 1zM531 825l6 1-6 0-1 0zM742 825l5 2 8 0-5 1-2 1-6 1-2-2 2-1zM878 825l3 0 3 2-6 0zM165 826l5 2 1 1 5 3-4 1-5 0-2-1-5 0-2-2-6 0-2-1 6 0 1-1 5 0zM897 826l9 2 0 1-3 1 8 3 0 1-4 1-5-3-5 0-8-3zM427 828l6 0 7 2 8-1-7 3-9 0-2-1zM723 829l13 0-3 2-6 0-4 2-5 1-1 0 1 2-1 0-4 0-2-3 5-3zM870 829l3 0 4 1 3 2 0 2-2 1-3-3-6 0-1-2zM187 830l10 1 4 2-5 2-1 3-3 2-2 0-3-2-6 0-2 1 3 2 9 2-1 2-5-2-8 1-4 0-3 1-4-1 0-2-1 0-18 1 3-3 3 0 1-1-1-1 2-1 0-1 0-1-4-1 11 1 9 4 5 0 1-2-4-1 0-1 10-1 4 2 2-2-1 0-5 0-2-1zM706 830l4 2 0 1-3 0-4-1zM756 830l4 0-6 4 0 2 2 1-8 0-1 2 1 1 8 0 4 3 4 0-9 1-3-1-1-2-1 0-8 1-1 1 2 2 4 1 8 0 6 2-8 0-1 1-28 0 6 0 0-2-2-1-1-3-7-3 6 0 3-2-9-2 6-2 7 1 3-1 11 1 3-2 0-1zM736 848l4 1 3-1-3-1zM766 832l4 0-1 1 1 1 11 0 0 1-3 0-11-1-3-1zM148 833l3 0-1 1-3-1zM428 833l4 1-7 0zM838 834l2 2-6 0zM856 834l5 1 2 3 13 0 8 5-7 0-3 3-3 0 3 2-1 1-6-1-4 0-1 1-6-1-2 1-12 0 13-3-4-2 2-1 5-1-1-2-11-1 6-1 1-1-1-1zM866 839l0 1 1 1 3 0 1-1 1-1-2-1zM866 844l-1 2 1 0 4 0 1-2-3-1zM928 834l4 0 1 2-3 0zM847 835l5 1-6 0zM781 836l12 2 0 2 3 2-2 1 2 1 14 1 0 3 1 1-8 0 0-1-1-1-9 2 0-1 1-1-2-1 0-2 1-1-2-1-6 0-3-1-2 1 3 2-2 2-5-1-5 2-4 0-2-1 1-2 5-2-1-1-5 0 0-2 11 0zM805 836l3 1 6 2-2 2-4 1-1-2-4-2zM220 838l5 0-3 2 2 2-7 0 1-2-2-1zM882 838l6 0 2 1 6-1 12 0 1 1-1 1 2 2 5-1 1 1-1 4 5 0 1-1 5 0 2 2-1 1 3 1 13 0 2-1 11 0 1-2 3 0 6 0 1 3-41 0-1-1-13-1-2 0-2 2-4 0 0-1 3-1 1-1-2-2-6-1-9 2 0 1 2 1-3 1-10 0-2-1 0-1 4 0 4-2 4 0 2-2-6-4-5 0zM997 839l6 0-7 0zM823 841l8 1-4 1-5 0-1 2-3-1zM1007 842l0 3-4 0-2-2zM835 843l2 0 1 1-7 0zM153 843l4 1-4 1zM702 844l15 0 0 2 5 2-6 0-1-1-3 0-2 1-4 0-5-2zM846 844l4 0-5 0zM970 844l8 0-2 2-9 0zM897 845l7 1-7 0zM178 847l7 0-3 1 0 1-23 0 14 0zM221 847l4 0 6-1 9 2 4 1-22 0-1-1zM821 846l4 1-2 1-3-1zM992 846l9 0 1 3-11 0 0-2zM200 848l8 1-10 0zM830 848l5-1 3 1z"/><path fill="#f8dd24" d="M148 664l859 0 0 12-4-1-5 0-3 3-3 4-2 5-1 10-5 9-2 6 4 0 1 3-6-1-8-2-2 0 2-2-2-1 0-2 7-3-5-2-18 0-3 1 2 1-1 1-8 1-3 1-16 0-9-1 8-2 10 1 6-1 2-2-7-1-13 0-5-3-11 0-5 2-3-2 8-2 2-2-2 0-11 1-4 2 0 2-7 2-10-1-5-3 6-1 1 0 1-3 10-2 5-2-2 0-16-1-1 4-4 1-8 0-4-2-5 0-1 1 2 1 0 1-3 1-3 2 2 1 5-1 4 1-3 1-10 0-11-1 3-2-2-2 2-1 4-1 3-2-4-1 1-2 8-1-4-1-19 2-4 2-2 2-11 1-4-2-4-3-9 0-5 2-16 1-3-1-2-2-6 0-9 3 3 3-5 0-3-2-5-1-14-1-1-1-4 0-6 4-12 2 5 2-2 0-3-1-5 1-9 0-3 1-5-2-8 1-5 2-8-2-6 1 4 1 1 1-1 1 1 1 5 0 5-2 9 1 6-2 5 2 1 2-2 0-4-2-10 4-6-1-3 1-1 0 3 2-2 1-4 0 2-1-2-1-32-1-9-1 1-3 8-1-7-1 0-9-4-6-5-3-5 0-7 2-4 5-1 6 1 9-2 2-14 8-4 5 0 3 3 3 6 3 8 2-6 2-10 8-5 3-8 0-6 2-5 0 3-3 1-3-2-4-8-7-1-8-1-4-3-3-5-2-12-1-7 1-6 3-3 4-2 6-2 2-13 8-7 1-1 1 3 2-2 1-2 0-1-2-8-2-2 1-8-1-6 3-4 0-21-6-5 0-13 4-16 2-14 7-10-1-3-2-5 0-14 2-1 1 0 1 2 2-1 0-5-1-8 1-22 0-2 1 0 1-3 0-5 0-1-1 3-1-4-2-2-1-1-1-1 2-2 0-5-1-10 5-10 4-6 0 0 2-1 0-24 1-7-5-4-2-3 1-5 5-6 1-12-2-9 3-5 0-23-5-12 4-8 7-3 1-3 0 0-99zM748 668l-10 2 9 1 9-1 2-2-3-1zM772 670l-1 2 4 2 3 0 0 2-8 2 11 1 5-2-1-3-3-1 0-1-5-2zM832 672l-2 1 1 3 4 0 4 0-4-4zM714 673l-2 1 1 2-13 3-8 3 6 2 5 0 19-4 0-1-3-2 1-1 12-2-12-2zM862 677l-21 0-2 1 3 2 9 0 2 4 3 1 19 2 7-3-17-3-1-1 1-2 0-1zM730 679l-2 1 4 1 6 0 4 2-22 0-4 1 8 2 1 1 10 1 10-2 2-3 9-1-4-2-12 0-3-1-2-1zM799 679l-1 2 7 1 2 0 3-2-5-2-5 0zM934 679l-2 2-9 2-1 0 0 1 4 2 6 1 13-1 3-2-3-3-5-2zM889 682l-2 1 4 1 4-2-3-1zM903 682l-1 1 3 0 0-1zM775 684l1 3 10-1-6-2zM820 684l5 2 5-2-4-1-4 0zM901 686l-4 1 3 2 2 1 11 1 3-3-6-2zM675 687l-8 2 6 1 9-1 3-2-5-1zM925 693l-2 1 7 3-1 1 2 1 5 1 6-2-6-2-1-4-8 0zM690 694l6 1 4-1-4 0zM760 693l7 1 4-1 12 0 1 3 1 1-2 1-8 0 1-1 4-1-2-2-18 0-1-1zM723 694l4 0-4 1zM738 695l4 0 1 1 2 1-4 0zM721 697l2-1 2 2-4 3-7-2zM770 699l2 0 0 1-4 0zM735 700l11 0 1 3 4 0-8 1-1 2 1 1-5 0-3-1 4-3-2-2-3-1zM755 700l8 0 0 3 3 3-9 0 1-2-1-1-4 0zM782 700l4 0 1 2-6 0zM821 703l4 0 0 1-4 0zM868 703l6 0-3 1-10 2-1 2-2 1-11-2-1-1-5 0 10-1 2-1 13 0zM903 703l6 1-4 3 1 1-5-1-3 0-2 2-4 0-1-1-6 0-3 2-11 1-1 1 1 1-3 1-5 0 0-1 3-1 0-2 1-1 16-1 5-4 9 1zM778 705l8 1-3 1zM706 707l17 0 3 1-13 0-1 1 1 1 5 0 2 1 5 1 4 1-4 0-2-1-13 0-2 1 0 2-1 2 0-1-2-3-3 0 1-1 0-3zM746 707l9 0 1 1-1 1-9 0-1-2zM807 707l6 0 4 1-4 2 4 3-1 3-5 0-1-3-3-1-9 1 3-1 4 0 2-2 1-1zM835 707l5-1 0 3-2 2-5 0-1-2 0-1zM626 708l22-1 1 1-11 8-2-1-5-1-6-6zM691 708l4 0 1 1-7 0zM773 708l8 1 0 1-6 2-4 0 0-2zM912 708l8 0 2 2-2 1-5 2-10 0 4-4zM656 709l17 0-2 1 2 3 2 0-2 1-13 0-4 4 4 2 2 1-24 1 5-3 7-1 0-1-2-1 0-2 7-1 0-1-2-2zM937 709l4 0 2 1 9 0-2 1-13 0-1-2zM965 712l5 1 1 2 4 1-9 0-2-3zM926 713l4 0 0 2 5 2 1 1-1 1-10 2-22-3 9 0 3-1 5-1 3-1zM919 718l3 1 2-1-2-1zM823 714l7 0 0 2 3 2 1 1-2 0-1-1-8 0-2 2 6 3 0 1-6 0-3-3-5-1 2 0 3-3zM842 714l4-1 2 1zM880 714l3 0 0 2-2 2 3 1-1 1-5 1-1-2 2-2zM948 714l4 2-2 1 2 2 3 0-1 1 1 1 9 1 8 3 9 0 3 3-6 1 0-2-2-1-6 2-7 0-3-1 3 0 1-1-1-2-6 0-1-2-4 0-2-2-6-2 1-1zM632 717l5-1 1 1-2 1-3 0-1 0zM686 718l3 0 0 2-3 3-8 0-1-1 3 0zM718 718l13 1-5 1-4 3 0 1-4 2-3 0-2-2 1-2 6-1 0-1 1-1zM745 718l7 0-5 1-4 0zM887 718l5 0 4 2 3 0-2 2-2 0-4-2-3-1zM782 719l5 0-4 2-5-1zM967 719l6 0 2 1 5 0 2 2-15-1zM993 719l2 0-1 1-2 0zM936 722l5 0 1 1 4 0-10 0zM1007 722l0 2-2 2-16 1 3-1 1-3 3 0 2 1 7 0zM650 723l12 1 1 1 8 0 5 4-5 1-3 1-10 0 0-2-2-1-1-2-6-3zM735 723l2 0-1 3 1 0 5 1-2 1-9 0-1-1 3 0 2-1zM760 724l7 0-5 3-6 0-2-1zM878 724l6 0-1 2-4 1 3 1 4 0 5-3 6-1 0 2-5 3-5 0-4 4-3 0-3-5 1-1-1-1zM702 724l3 2-4 0zM773 725l11 1-4 1-9 0zM855 727l2 1-3 0zM930 727l22 0 0 1-15 1-1-1-5 0zM620 728l5 0 2 1 3-1 8 0-9 4 3 4 0 3 1 1 3 0 0 2-8 0-1 1 0 1 4 3-3 2-6 0-1-2 2-1 0-1-8-2 2-1 0-2 3 0 0-1 0-1-9 0-3-1 5 0 4-3 5 0 4-4zM767 728l2 0-1 4-5 0 3-2-1-1zM597 728l9 1-9 1zM713 729l4 1 0 1-6 1-2-2zM787 729l3 0 2 1 0 2-4 0-1-2zM835 730l2 0-2 2zM968 730l2 1 0 1-3 0zM975 730l3 0 6 2-2 1-4 0-4-3zM990 730l7 0-6 3-3-1zM915 732l6 0 1 2-6 0-2-2zM950 732l3 0-1 1-2 0-1-1zM776 733l4 0 2 1-9 0zM686 734l9 0 1 2-13 0zM1006 734l1 0 0 9-3 0 0-1-1-1-5 0-1-1 5-2 1-2zM587 735l4 1-4 1zM886 735l9 2-7 0-1 1 6 1-2 2-11-2-1-1 6-1zM780 737l6 0 1 1-1 0-2 2 1 1 10 1 0 1-3 1-5 1-1-2-5 0-2-1 3-2-5-2zM937 737l1 0 1 1-2 0zM678 738l8 0 1 1 4 0 2 0 2-1 9 0-2 1-4 0-7 4 2 1 9 0-2 2-9 0-1-1-7-1 0-1 4 0 1-1-5-3-6 0zM850 738l2 0 4 2-4 1zM491 739l6 0-5 2-1-1-1-1zM471 742l9 0-5 0-4 1zM592 742l10 1-1 1 1 2-2 1-9 0-1 1-4 0 0-2 2 1 5-3zM811 742l5 0-6 1zM397 743l2 0-2 1-2 0zM665 744l6 0 1 2-1 1-5 0-3 0-1-2zM717 744l11 1 5 3 0 3-1 0-6-4-10 1-4-3zM652 745l5 0 2 3-1 1-8-1 1-2zM883 745l8 1-5 0-1 1-2 0-1-1zM971 745l2 1 5 1 1 1-7 1-1-2zM995 745l5 1-2 2 2 2-2 1-7 0 1-2 3 0 1-1-3-1zM400 747l1 0-1 1-2 0zM412 747l3 0-2 1-2 0zM786 747l1-1 3 1zM952 747l2 0 2 2-5 1-5 2-7 0 3-2 5 0zM343 747l10 1-2 1-6 0-2-1zM356 748l15 0-2 2-3 1-4-1-6-1-1-1zM463 748l3 0 0 1-4-1zM300 749l4 0-2 1 1 1 4 1 0 1-7 0 1-1zM390 749l3 1-6 0zM420 749l10 0 3 3 2 1 2 1 0 2 2 1-6 0-3-3 0-2-3-1-7 0zM512 749l8 0-9 0zM597 749l4 0 0 1-5-1zM871 749l7 0 3 1-8 1zM675 750l2 2 4 0 4 2-5 0-3 2-4 0 1-2-3-1zM393 751l3 1 0 1-1 1-10 1-2-1 9 0 2-1zM401 751l4 1-4 0zM460 752l3 0 2 1-9 1 0-1zM552 752l5 1 3 2 6 1-3 1-5 0-3-2-7-1zM610 752l5 0 1 2-1 0-5 0zM765 752l7 0 1 1-2 4 1 1-6 0 1-1-2-2-3-1zM767 754l1 1 2-1-2-1zM850 752l7-1 11 1 2 0 0 1zM928 752l5 0 5 1-12 0zM320 753l6 0-8 1zM348 753l7 0 0 1-5 0zM625 753l4 0 0 1 2 2 0 1-8 0 0-3zM540 755l2 1-2 0zM316 757l1 0-1 1-3 0zM372 757l10 0-2 0-2 2-5 0 0-1-2-1zM596 757l2 0-1 1-2 0zM858 757l10 0-5 1-6 0zM538 758l4 0 4 2 0 2-3 0-1-1-2 0-3-2 0-1zM581 759l12 0 2-1 0 1-4 2-1 1 1 1-1 0-8 0-3-3zM636 759l7 0 2 2 2 1-7 5-3 0-2-1 3-1 3-2-4-3zM717 759l3 0 1 1 6 0-1 3-3 0-1-1-5-1zM478 760l7 0-3 1-1 1-4 0zM620 760l7 0-1 2 4 2 0 2-5 0 0-3 0-1-3 0-1 1-6 0 1-1 2-1zM528 762l4 0-5 1zM666 762l9 0 1 2 5 0 2 2-10 0-5-4zM417 763l1 1-5 0 3 0zM475 764l3 0 2 2-5 0zM311 765l2 0-1 2zM606 765l4 2-6 0zM776 764l9 3 1 2 7 1-7 1-1-2-7-1-3-2zM861 765l4 0-2 2zM893 765l5 1 2 2-5 0zM1003 765l4 0 0 6-14-2 7 0 2-1zM325 767l9 0-9 1zM407 767l3 0-2 1-11 0 8 0zM573 767l8 0 1 1-6 0zM348 768l5 0 0 1-5 0zM367 768l4 0 1 1-4 1zM427 768l3 0-1 1 1 1-9 0 4 0zM677 768l9 1 2 1-5 1-2 2-9-1 0-2zM750 768l5 0 1 1-9 1zM877 768l5 0 1 1 9 0 1 2 2 1-8 4-4 0-2 1-4 0-2-1-9 0-2 0 3-1 3-1zM311 769l6 0-1 2-6 0zM610 769l3 0 1 1-5 2zM706 769l2 1 5 0-7 1zM965 769l7 0 0 1-6 1zM732 770l4 0 1 2-1 1-4 0-2-1zM768 770l4 0 0 2-2 1-7 0-1-1 5-1zM367 771l1 0 3 1-3 0zM392 772l5 0 0 1-4 0zM408 772l7 0-2 1-5 0zM906 772l2 0-2 1zM952 772l14 0-6 2-4 0zM328 773l5 0 2 1-2 2-7 0-2-2 3 0zM308 774l7 0 1 2-2 1-4 0-4-2zM660 774l4 0-1 2-2 1 4 1-6 0-1-1zM692 774l5 0 1 2-6 0zM273 777l8 0-5 3-1 2-6 0 5-3zM1007 777l0 3-1 0-3 1-2-2zM511 778l4 0 1 1-5 0zM431 779l11 0 1 1zM696 780l6 0 1 2-7 0-1-2zM797 780l4 0-1 3-3 0-1-1zM851 780l14 0-5 1-3 2-6 0-4 3-17-2-2 2 0 1-3 0-5 4-10-2 1-1-1-1 4-3-1-1 7 0 3-2 14 1 1 1 7 1 3-1zM545 782l3 0 2 1-5 2-2 2 2 1-3 0-5-2 0-2 4 0zM760 782l1 0 1 1-2 0zM881 782l8 1-7 0-1 0zM450 783l8 0-3 1-4 0zM715 783l12 0 3 1 5 0-2 2-7 0-1 2-5 0-1-1 2-1zM862 784l2 0 0 2-3 1-3-1zM285 785l2 0 2 2-2 1-4 0 0-1zM426 785l4 2-5 0zM757 785l16 0 2 2-2 0-1 1-12 0-5-1 1-1zM880 785l6 1-1 1-8 0zM902 785l4 0 0 2-7 0zM975 785l2 1-2 1-3 0zM255 787l5 0-4 0-1 2-7 0 0-1 5 0zM491 788l3 0 0 1-1 2-2 0-3 2 3 3-8 0-1-1-5-1-1-1 0-1 5 0 2-3 5 0zM957 788l2 0 1 1-4 0zM300 789l6 0-7 0zM661 789l5 0 4 2 1 4 4 1-5 0-2-1-3-1-5 3-4 0 0-1 2-2-1-1 1-2zM855 789l23 0 3 1-4 1-5-2-5 0-4 2-5 0-1-2-4 0zM258 790l28 0 4 2-3 1-5 0-2-2-14 0-3 1-3 0zM631 790l5 0-1 2-5 0zM746 790l2 0 6 0-9 0zM757 790l8 0 1 2-1 1-5 0-3-1zM943 790l5 3 3 0-5 2-5-3zM498 792l5 0 4 1-11 0zM237 793l6 0 3 1 9-1 2 1-3 2 4 2 3 0 2 1 8 0-3 2-3 0-5-1-9-1-3 4-3 0-2-1 0-4-5-4zM792 793l4 0 2 2 10 0 3 2-9 2-2-2-7-1-3 1-2 1 1 1-4 2-10-1 10-2 1-1-3-3 5 1zM820 793l1 2 9 0 0 2-11 1-3-2 0-2zM192 794l5 0 0 2-4 0-1 0-1-2zM336 794l4 0 2 3 6 0-6 3-5-1-3-1-1-2zM433 794l5 0 2 2-7 0zM746 794l13 3-11 0-1-1-4 0zM996 794l7 0 4 1 0 1-11 1-2-1zM630 795l15 0 1 2-13 1-9-1zM710 795l5 2 2 2-15 0-3-1 9-1zM983 795l6 1 1 1zM220 797l3 0 4 2-9 0 0-1zM451 797l2 0 1 2-8 0-3-1 7 0zM688 797l4 0 1 1 3 0 2 1-3 1-3 2-8 0 4 0 4-3-2-2-3 0zM945 797l1-1 1 1-1 1zM563 798l5 0 2 1 3 0-3 0-4 2 2 2-1 0-8 0 0-1 3-2zM851 798l4 0-4 1-3 0zM983 798l9 2-5 1-1 1-6 0-2-1zM293 799l17 0 5 1-8 1-2 1 3 2 0 1-3 1-3-4-5-3zM358 799l3 0 5 1-1 3-5 0-2-3zM395 799l5 0 0 1-4 0zM457 799l6 0-5 1-2 2-5 0 2-1zM500 799l1 0-1 2-4-1zM643 799l4 0 1 1-7 1-3 2-6 0-3-1 2-2 11 0zM725 799l10 1 0 1-2 2-7 0-3 3-5 0-1 2-2 1-4-2 0-2 4 0 5-2 8 0 2-1-4-1zM585 800l2 0 0 2-1 0zM180 802l2 3 10 0 0 2-15 0 0-2-3-1zM208 802l4 0 1 1 10 0-10 4 1-1-2-3-5 0zM378 802l3 0 2 2 2 0-2 0-3 4 3 2 15 0 3-1 4 0 5 4 2 0 2-3 0-1-2-2 11 0 3-3 7 0 2 1 2 0 1 2-3-1-8 0-2 1-4 0-4 2-1 1 2 2 0 2-5 1-1 1 3 3-1 1-2 1-3-2 1-1-2-1-1-3-9-1 0-1-1-1-17 0-2-3-2-1-6 2-3-1 0-1 5 0 1-1-2-2 6-1zM908 802l10 0 0 1 4 2 5 0 4-2 7 0-5 0-2 3 5 3-1 3-4 0-1-2-5-1-4-2-5 0-4 2-4 0-1 0 5-1 2-2-1-2-18 0 5-1 2 1 4 0zM758 803l5 0 2 1-9 2-1-2zM993 803l3 0-1 3 3 2 3 1 6-1-1 1 1 3-4 0-1-1-2 1-7 0-1 1-5 0 0-1 6 0 2-2 0-2-4 0-1-3zM282 804l6 0 7 4 10 0 4 2-13-1-3 3 2 2 8 0 4 2 5-2 8 0 2-1 5 0 1 1-2 2-13 0-2 1-5 0-1 1-8 0 1-1-1-1-4 0-2-3-11 0-3-1 2-3-4-2-4 1-4 0 0-3 11 0 3 1 2 0zM284 807l3 2 2-2-3-1zM665 804l12 0-5 1-3 3 3 2 5-2 3 0-4 2 2 2 4 0-4 1-3-2-11-1-3-2 2 0 4-2zM787 804l9 0 1 3 3 0 1 1-9 0-1-1-5 0-3 2 1 1-2 1-4-4 3-2 5 0zM845 804l10 0 1 2-10 0zM941 804l5 0-5 0zM245 805l5 0-3 2 7 1 2 1 1 3-12 0 1-3 1-1 0-1zM313 805l4 1-1 0-3 0zM542 805l6 2-1 1-2 0-2 1 2 2-20 0-4-2-1 0-3 3-9 0 0-2 3-1 4 0 2-1 10 1 11 0 2-1 1-2zM830 805l3 1 7 1 2 1 9 0 1 1-6 0-3-1-3 3-4-2-8 0-1-2zM867 805l11 2 2 1-10 3-3 2-8 0 1-1 5-1 0-1-1-1 0-2zM970 805l3 1 1 1-5 0zM446 807l11 0-2 1 2 2 2 0-7 1-5-2-3-1zM571 807l4 0-3 1 1 1-2 4-8 0-4-1 8-3zM602 807l5 0 0 1 4 2-12 0 1-1-1-1zM728 807l9 0 3 2 2 0 1 1 12 0 1 2-6 0-3 2-6 0-4-2-2 0-3-3-7 0-2-1 4 0zM318 808l8 0 0 1-5 0-4-1zM943 808l3 0-1 1-3 0zM231 809l1 0 1 2-4-1 1-1zM341 809l7 0-1 2-8-1zM691 809l9 0 0 1 3 4 4 1 8 1 0 1-3 0-4-1-2 1 0 1 4 3 10-1 3 2-5 0-3 4 2 2-16-1-5-1-3-3-5-1-10 1-1 3-5 0-4-2-1-2-2 0-4 2 5 3 4 0-4 0-2 2-3 0-1 1 1 2 2 1 5-4 5 0 2 1 12 0 1-2 7 0 1 1-4 1 3 2 0 1-4 0-5 3 2 1 1 2-3 2-5 0-3 2 3 2 6 0 3 1 3-1 4 3 4 0 1 1-74 0-2-2-4 0-2 0-4 2-6 0-2 0-35 0 3 0 1-2 4 1 1-1-2-1-4 1-6 0-4-1 1-2 8-1 1-1-4-3-7 0 1-1 7 1 2-1-1-2 1-2-2-2-3 0-1-2 9 0 1-1-1-1 1-1 17 0 1-1-10-7-1-2-2 0-2-2-9 1 0-2 15 0-2 2 2 1 4-1 1 0-2-2 1 0 16 1 1 1-6 0-6 3 1 1 10 0 7 3 5-2 1-2 2-1-4-2 1-2-2-1 5 0-1 1 1 1 8 1-1 1 1 1 7 3 3-1 9 0 2 3 4 0 2-3 9 0 2-1-4-2-7 0-1-1-5 0-2 1-9 0 5 0 2-2 15 0 2-1 3 0 3 3 3 0 2 1-5 0-1 2 1 2 7 0 4-1 1 0 7 1 5-3 1-1-1-1-3 0 1-1 7-2 1-1-1-1-11 0-1-2zM626 822l-1 0-3 2-2 0-6 4 7 1 5-2 2-1 2-2 2 0 1-1-3-2-3 0zM700 822l1 1 2-1-2-1zM606 824l2 1 2-1-2-1zM638 826l-6 0-2 1 6 2 2 0 2 1 7-1 3-2-2-1zM587 828l-2 1 2 1 5 0 3 3 5 0-3 0-1 1-9 0-3 3 4 2 18-3 1-1 6 0 3-2-1-1-13 0-2-1-2-3-5 0-3-1zM614 830l1 1 1-1-1 0zM620 830l0 2 2 1 16 0 7 4 10-1 1 0 1-2-9-3-6 0-10 0-4-2-6 0zM620 838l1 2 6 2 15 1 5 0 1-1-3-3-12 0-7-2-4 0zM666 839l2 1 2-1-2-1zM598 842l2 1 1-1-1-1zM661 842l5 2 4-1 1-1-3-1-6 0zM640 844l-4 2 2 1 4 0 2-2-2-2zM627 846l3 0 2-1-2 0zM653 847l2 1 10 0 2-1-2-1-10 0zM632 848l1 1 3 0 2-1-2-1-3 0zM771 809l4 1-3 4-4 1-2 2 1 0 11 6 5 0 4 2 3 1-4 0-3 2-5 0-2-1-13 0 0-2 10 0 2-1-2-2-11 0 2-2-1-2 1-1-1-3zM891 809l2 0 1 1-3 1zM970 809l5 0 3 1-2 2 3 1-5 0 2-1zM195 812l2 0-1 4-9-2 6-1zM487 812l3 0 1 2 9 3-2 1-2 0-1-1-3 0-2-2-5-1-3 2-4 0-1 1-5 1-2 2 5 3 5 0 3 1-24-2 0-2 11-6 7 0 3 1zM638 812l2 0 0 2-8 0-1 1 0-1 6-1zM716 812l9 1-3 2 1 2-3 0-5-3zM795 812l8 0 1 1-3 0-1 1 1 1 2 0 2-1 5 0 1 2-10 0-2 2 2 2 7 0 2-1 16 0 3 1-2 1-1 1-9 0-2 2 2 3 3 0-13 0-1 2-3 2-5 0-3 3-2-1-5-2 7-1 4-3-1-1-5 0 3-2-3-2-1 0-1-2-4-1-5-3 2-2-1-1 9 0zM263 813l7 1 6-1 1 1 0 2-2 1 1 1 5 1 6-1 4 2 6 2 4 2 3 0-2 3 2 1-4 0-3 1 4 3 5-2 5 0-1 2 2 1 0 3 3 1 2-1 1 0-2-2 2-1 3 0 2-3 0-1 5 0 4 3 6-1 1-1-2-2-6 0-3-1 1-3 4 0 2-1 1-1-1-1-10 0-2-1-4-1 8 0 1-1 4 0 3-1 6 0-5 0-1 1 2 2 15 0-4 2-6 0-5 5 1 1 5 0 3-2 7-2 4 1 6 0-4 4 5 1-2 3 1 1 5 0 2-2 6-3 4 0 2 3 15 1-1 1-5 3 1 1 8-1 5 2 1-1 1-1 3-1 4-3 3-1-1-1-5 0-1-1 3-2 3 0 4 2-1 3 2 1 0 3 1 1 11 0 4-2 3-1 3 4 10-1 2 1 11 0 5 1 3-2-2-1-6 0-3-1-7 0-1-1-4-1-2-1 3-3 5 0 1-1 8 0 0 1-6 3 5 2 2-1 5 0 3-2-2-2 4 0 4 0 1 2-1 0-1 2 1 1 3 1 0 1 3 2 4 0 2-1 3 1 5 0 2-1-4-2 3-3 4 0 1-1 8 0 1 2 9 0 2-1 6-1 3-2-1-1 2-1 2 0 0 1 1 1 5 1 5-1 1-1 6 0-1 2-5 0-3 2-7 0-8 3-5 0-1 1 1 1 7 0 6-3 5 2 3 1-5 2 2 3 17-3 2 3-4 0-3 2-1 1 1 1-2 1 5 1 5-1 5 1-20 0 3-1-3-4-14 2-1-4-5-3-3 0-1 1 4 5 3 2-3 1 1 1 3 0-10 0 1-1-3-2-1 0-2 0-2 1 2 2-23 0-1-1-2 1-6 0 3-1 6 0 1-3 8 0 2-2-5-1-5 0-2 1-5 0 4 0 1-1-1-1-4 0-6 0-2 1-2 0-1 1 2 4-3 2-21 0 1-1-3-1-7 2-47 0-4-2-6 2-2-1 1-1 2-1 0-3-1-1-5 0-5-5-2-1-1-2-1-1-3 0-2 3-12 0-3-2-2 1-1 2 1 1 9 1-3 3 1 1 11 0 3 1 1 2 3 1 2 2-29 0-2-1-6 0-5-2-3 0-1-2-5 0-1-1-3 0-2 0-2 3 4 1 3 2 8 0-21 0-2-1-11 0-1-1-2-3-4 0-2-2-1 0-5 2 10 4 0 1-21 0-2-1-2 1-11 0-2-2-2 0-3 0-2 2-7 0 0-3-1-2-2 0 1-1 6-1 1 0-1 1 1 1 4 0 2-1-1-1 9 0 2-2-1 0-3-1-2-1 3-1-1-1-3 0-1-2-4 0-2 3 2 1-10-1-4 2-2 0-2 1 1 2-2 0-8 0 0-2 11-1 1-2-2-2-4-2-6 0-3 1-5 0-6 0 1-1 5 0 1-1-3-3-4 2-5 0-3-2 1-1-1-1-5-1 1-2-1-1-6 0-3-1 11 0 1 2 1 0 14 0 3 2-3 0-1 1 6 4 15 1 1-2 5 0 1-1 0-1-2-1-7 0 6-1 1 0-6-6-7-1-3 2-2-2 1-1 6-1 11-1 2-2 13 0zM256 818l3 1-4 1-2 2 2 1 3 0-1 1-2 2 2 2 7 0 3 2 4 0 12-4-3-4-10 1-2-1-8 0 1-2 4 1 3-2-6-2-5 0zM287 824l6 3-2 1 2 1 3 0 3-3-8-3zM276 830l4 2 1 1-1 0-4 4-6 0-1 1 6 4-5 1-8 0-1 1 1 2 5 1 1-2 4 0 1-1 8-1 1-1 9 0 2-2-3-1-3-2 3-3 5-1 1-3-1 0-17-1zM346 833l4 1 2 0 2-1-2-1-2 0zM268 834l-1 1 1 1 3 0 1-1-2-2zM322 834l1 1 3-1-3-1zM331 836l0 1-1 1-4 1 0 1 1 2 10 0 2-2-1-2 1-2-1-2-6 0zM414 838l1 1 2-1-2-1zM316 839l4 1 2-1-2-1zM426 839l-3 0-1 1 1 2 4 1 3-3-2-1zM440 840l2 2 2-2-2-1zM503 840l3 1 1-1-1 0zM353 842l-3 0-2 1 2 1 7 0 3-1-5-2zM462 842l1 1 3 0 4 0 1-1-1-1-5 0zM402 843l0 3 1 1 7 0 2-3-4-2-5 0zM448 843l-2 0-1 2-7-1-1 2 1 1 18 0 3-1-1-3-7-1zM367 846l-11 0-2 1 2 2 10 0 3-2zM311 847l2 1 3-1-3-1zM426 847l2 2 3 0 1-1-1-2-4 0zM468 847l2 1 3-1-3-1zM430 813l8-1 3 1zM915 813l11 1 2 4 3 1-3 3-4 0 0-2-2-2-5 0-1 1-6 2 0 1 3 2 15 0 1 0-2 1-2 2-4 0-1-1-5 0-4 3-4-1 4-4-1-1-6 0-1-1 1-2-2-1 5-1 1-2zM912 816l4 2 4-2-2-2-2 0-3 0zM155 814l2 0-1 3 1 1 3 0 4 4-7-1-4 1-5-2 5 0 1-1-2-2zM180 814l7 0-4 0-1 2-4 0zM222 814l5 0 1 2-5 0zM368 814l7 1 5-1 0 3-2 1-3 0-2-1-7 0 0-1zM873 814l3 0 1 2-3 4 3 3-4 0-3-2-10 0-2 1-2-2 1-1 4 0 2-2 5-1zM864 819l3 1 2-1-2-1zM941 814l11 0 4 3 5 0 4 1 2-1-1-3 6 0 1 3-5 0-2 3-6-1-2 0-10-1zM526 815l2 1 1 1-1 1 1 2-2 2 1 1-3 0-3 2-19-1 3 0 2-2 3-1 4-2 7 0zM202 817l14 1 0 1-19 1-1-2 5 0zM433 817l10 1 5-1 2 1 2 0 0 1-4 0-2 3-5 0 1-1-1-1-4-1-1-1-8 0-1 1 1 1 5 2-3 0-4 0-2-3 2-1 6 0zM562 817l5 0 3 1-5 0zM180 818l4 0-3 3-4-1 0-1zM831 818l15 1-3 2-2 0-1-2-7 0-3-1zM992 818l15-1 0 1-7 2-1 0 1 1 2 1 1 1-5 1-8-1-4-1-1-2 3 0zM360 819l1 0 0 1-3 0zM377 820l8 0 2 2 5 0 6 5-2 1-9 0 5 0 1-1-3-4-7 0-2-1-3 0zM532 820l4 0 2 2 9 0-11 1-6-1zM578 820l5 2 2 1-7 0-1-1zM488 822l11 0-2 1-9 0zM966 821l15 5 10 0-4 2 1 1 9 0 1-1-1-1 8 1 0 2 2 3-7-1-3-3-4 0-3 3 3 2-5 0-1 2-4 0-7 0-1-1-3 3 1 1 0 1-11 1-1 2-10 1-1 2-14 0 1-2 11 0 2-1-2-2-6 0-2 1-3 0-1-1-4 0-1 1-4 0-3-3 11-1 1 1 6 1 5-1 1 1 4 1 4-1 3-2-4-2-8 0-2-3-6 0 1-2 5 0 3-2 4 0 6 6 7-1 2-2 5 0 1 2 4 0 1-1-3-4-5 0-6-2 4-1-5-3zM371 823l5 0-1 1-4 0zM827 823l5 1 1 2 3 0 5-1 10 0 1-1 8 0 1 2-3 2-5-1-3 4-9-2-4-2-5 0-1 4-3 1-1 2-15 0-1-1-1-1 2-2 1 1 9 1 1 1 5-3 2-2-1-1 3-1-2-1-3 1-5-1zM226 824l5 0-6 0zM936 824l4 0 2 3-5 3-6-1 1-3zM742 825l5 3 3-1 4 0-6 2-6 0-1-1 2-1zM880 825l4 2-6 0zM165 827l5 1 1 2 4 2-3 1-5 0-1-1-6 0-2-3-8 0 6 0 1-1 6 0zM520 827l8 0 2 2-4 2-5 0-3-3zM897 827l3 1 4 0 1 1-3 1 1 1 8 2 0 1-4 0-5-2-5 0-1-1-4 0-2-2zM427 828l6 0 5 2 7 0-4 2-9 0zM725 829l11 0-3 2-6 0-4 2-6 1-1 0 1 2-4 0-1-2 1-2 3-2 6 0zM870 829l3 0 3 1 4 3 0 1-2 0-5-3-5 0zM923 829l7 0 0 3-3 1-10 0-2-3 7 0zM756 830l4 0-6 4-1 2 2 1-7 0-2 2 2 1 7 0 5 3 3 0-7 1-4-1-1-2-1 0-8 1-1 1 2 2 4 2 8 0 1 1 4 0-7 0-1 1-28 0 6 0 1-2-3-1 0-2-1-1-6-3 5 0 4-2-2-1-4 0-3-1 12-1 3-1 4 0 2 1 6 0 3-2-1-1 5-1zM738 847l-2 1 1 1 5 0 1-1-1-1zM185 832l3-1 9 1 1 1 3 0-5 2-1 1 0 2-3 1-2 0-3-1-7 0-2 1 4 3 9 1-1 1-7-1-10 0-2 1-4 0 0-3-20 2 3-1 0-2 3 0 1-1-1-1 2 0 1-3 6 0 1 2 3 0 1 1 5 1 4 0 2-2-5-2 10 0 4 1 2-2-1-1-6 0zM703 832l4-1 3 1-3 0zM767 832l3 0-3 1-3 0zM487 833l4 0 1 1-1 2 1 1-5-1zM426 834l4-1 1 1zM771 834l10 0-11 0zM856 834l5 1 0 2 2 1 13 0 8 5-7 0-5 3-1 0 0-2-1-1-3 0-3 3 2 1 4-1 1 2 3 0-2 1-5-1-4 0-1 1-6-1-3 1-11 0 9-2 4 0 1-1-3-2 0-1 5 0 1-1-2-2-10-1 6-2 1-1zM866 839l-1 1 2 2 4 0 1-2-1-2-4 0zM930 834l2 0 0 2-2 0zM835 835l3 0 2 1zM781 836l6 1 1 1 3 0 2 1-1 1 1 1 2 1-10 0-2-1-2 0-1 1 2 2-1 2-5-1-5 2-4 0-2-1 7-4-2-1-5-1 0-1 7 1 5-1zM805 837l3 0 5 2-1 2-4 0-2-3-2 0zM221 838l3 0-3 2 3 2-6 0 0-2-1-1zM882 838l6 0 0 1zM896 838l12 0 1 1-1 1 2 3 5-1 0 2-1 2 1 0 5 1 1-2 5 0 1 2-1 1-6-1-10 0-3 2-3 0 0-1 3 0 2-2-3-3-6 0-9 2-1 1 2 1-4 1-8 0-2-1 5-1 3-2 5 0 3-2-3-1-1-2zM700 839l6 0-1 1-3 2-4-1-8-1 7 0zM823 842l7 0-3 1-9 1zM836 843l1 1-5 0zM1002 843l5-1 0 2-4 0zM702 844l15 0-1 2 1 0 4 2-5 0-1-1-3 0-2 1-4 0-4-2zM792 844l18 1 0 3 1 1-8 0 1-1-2-1-4 1-5 0 1-1-2-1zM970 844l7 0-1 2-9 0zM180 847l5 0-3 0-1 2-22 0 14 0 2-1zM228 847l12 1 1 1 3 0-22 0-1-1zM957 847l9 0 1 2-40 0 16 0 3-1 7 0zM992 847l9 0 1 2-11 0 0-1zM201 848l6 1-8 0zM831 848l7 0-8 0z"/><path fill="#f9fb14" d="M148 664l839 0-4 5-3 7-3 7 0 7-4-1-1 1 5 3-1 9-24 0-2 1 2 1-4 0-1 2-6 1-16 0-2-1-4 0 3-2 6 0 3 2 5-1 1-1 5 0 1-1 1-1-1-1-5-1 5-2-3-2-3 0-1-4-4-1-2 1-4 0-4 2 7 3-1 1 2 2 3 0-10 1-5-3-13 0-3 1-1-1 4 0 1-1 2 0 2-3 0-1-4 0-3 1-8 0 10-4 1 2 9 0 4-4-7-2-7 0-2-2 3 0 1-1-1-2-5 0-1 2-5-2-30 0 5-5-5-1-7 2-13 0-2-1 0-2-10-4-2 1-2 2 0 1 2 3 6 0-1 2-2 1 1 1 3 1 6-2 5 0 3 3 0 1-11 0-1 2-7 0-1 1-6 0-5 3-4 1-10-1-5-4-2 1-8 0-2 1-15 0-3 1-1 0-3-2-7-1-1 0-2 2-5 1-1 1 3 3-5 0 1-1-5-2-1-1-17 0 0-1 17-1 4-4 8 0 1-1-1-1-4-2-13 0-2-1-7 0-4 2 1 2 10 0 2 1-24 0-1 1 1 1 6 1 1 2 3 0-5 0-5 4-3 0-1 1-7 0-3 1-1-1-11 0-2 1 2 1 3 1-5 1-1-2-4-1-3 2-10 0-12-1-4 2 5 2 0 1 1 2 7 0 3-2 11 0 5-1 1 0-10 4-1 1-4 0-2-1-7 1-8 0-17-1 1-15-2-6-4-6-5-5-6-4-7-2-7 0-6 1-5 3-8 7-5 10-2 14-4 4-6 2-5 0-17-7-14-3-11 0-13 2-10 4-7 5-4 6-4 10-11 9-6 0-1 1-11 2-6-1-15-5-9 0-3 3-8 2-12 0-2 2-2 0-10 5-2 2-10-1-3-3-9 0-2 1-10 2-1 1 2 3-4 0-1-2-3 2-28 0-3 1 1 1-7 0-1-1 6-1-7-2-1-2-2-1-4 0-1 1 2 1 1 1-4-2-3 0-9 6-6 2-4 2-6 0-1 2-18 0-1-1-5 1-3-1-4-5-4-1-3 1-5 5-3 1-18-1-7 3-4 0-1-2-12-1-6-2-5 0-10 2-4 3-4 4-4 2-3 0 0-98zM754 667l-8 0-11 3 2 2 13 0 1-2 6 0 2-2-1-1zM775 669l-4 1-1 2 3 2 4 0 0 1-7 2-2 1 0 1 14 0 5-2-2-4 2-1 0-1zM816 669l-3 1 3 1 5-2-3-1zM717 672l-4 0-2 2 0 2-2 1-11 1-7 4 6 2 9 0 5-2 11-2 1-1-2-2-2 0 3-1 11-1 1-1-1-1-8 0-5-2zM797 679l0 1 1 2 5 1 5 0 3-3-5-2-6 0zM931 679l0 1-6 1-4 1-2 1 0 1 6 3 7 0 15-1 2-2-3-3-5-3-8 0zM675 683l-2 1 1 2-1 1-13 1 2 0 3 2 11 0 2-1 5 0 4-2-4-2-6 0-1-2zM774 684l0 2-1 1 2 1 2-1 9 0 2-1-7-3-5 0zM820 684l5 3 2-1 4-2-1-1-4 0-5 0zM709 688l2 1 2 0 4 0 1-1-1-1-4 0-2 0zM684 692l3 1 3-1-3-1zM959 696l-2 1 1 1 7 0 1-1-1-1zM843 687l11 0 0 1 1 2-3 1-1 1 2 1-3 1-3 4-11 0 2-1-1-3 1-1 5 0 4-3-5-1 0-1zM760 693l7 1 3 0 1-1 12 0 0 3 2 1-2 1-7 0 1-1 3 0 1-1-3-2-18 0zM738 695l4 0 3 2-4 0zM887 695l8-1 0 2-3 0-1 1 0 2-3 0-1 2-12-2-4-2zM722 697l3 1-4 3-6-2 6-1zM851 698l7 0-2 1-8 0zM770 699l2 0 0 1-4 0zM736 700l10 0 1 3 3 0-7 1-1 2 0 1-4 0-2-1 3-3-2-2zM755 700l7 0 0 3 3 1 0 2-8 0 1-2-3-2zM782 700l3 0 2 2-6 0zM821 703l2 0 2 1-4 0zM868 703l5 0-3 1-4 0-1 2-4 0-1 2-7 0-1-1-4 0-1-1-6 0 11-1 1-1 14 0zM903 703l5 1-3 3 1 1-5-1-3 0-2 2-3 0-2-1-6 0-2 1-5 0-1 1-6 1-1 1 1 1-3 1-4 0 2-4 2-1 10 0 1-1 4 0 4-2 11-1zM780 705l6 1-3 1zM706 707l17 0 2 1-12 0-1 1 1 1 5 0 2 2-12 0-1 1 1 1-1 1-2-2-3 0 1-1 0-3zM746 707l9 0 1 1-1 1-9 0zM808 707l5 0 2 1 2 0-5 2 1 2 3 0 0 2-1 2-4 0-1-3-3-1-9 1 3-1 5 0 2-3-1-1zM836 707l4 0 0 2-2 1-3 1-3-2 0-1zM973 707l1 0-1 4zM641 708l7 0-5 3-1-1zM691 708l4 0 0 1-5 0zM773 708l4 0 1 1 3 0-1 1-3 1-1 1-5 0zM912 708l8 0 2 2-2 1-5 2-9 0 3-4zM656 709l16 0-1 1 2 3 2 0-2 1-13 0-4 4 2 2 4 1-14 0-2 1-8 0 5-3 7 0 1-2-3-1 0-2 7-1 1-1-3-2zM940 709l2 1 9 0-14 0zM965 712l5 1 1 2 4 1-8 0 0-2-3-1zM926 713l4 0-2 1 2 1 5 2 1 1-1 1-10 2-14-2-1-1-7 0 10 0 2-1 5 0 1-1 2-1zM918 718l2 1 2 0 3 0 1-1-1-1-3 0-2 0zM976 713l10 0 0 1-5 0-1-1zM825 714l5 0 0 2 2 2 1 0 0 1-2-1-5 0-1-1-4 3 4 3 2 0 0 1-6 0-3-3-5-1 2 0 3-3zM880 714l3 0 0 2-3 2 3 1-1 1-4 1 0-2 1-1zM948 714l4 2-2 1 2 2 3 0-2 1 2 2 8 0 2 1 6 1 1 1 9 0 2 3-5 0 0-1-2-1-1 1-4 0-1 1-7 0-2-1 2 0 2-1-2-2-6 0-1-2-4 0-2-3-5-1 0-1 2-1zM686 718l2 0 0 3 0 1-2 1-8 0-1-1 4 0zM718 718l12 1-4 0-4 4 0 1-2 0-2 2-3 0-2-2 2-2 5 0 1-2 0-1zM745 718l7 0-9 1zM888 718l4 0 4 2 2 0-1 2-2 0-4-3-3 0-1-1zM782 719l4 0-1 2-6-1zM967 719l6 0 2 1 4 0 2 2-4 0-1-1-9 0zM936 722l5 0 1 1 3 0-9 0zM1007 722l0 2-2 2-9 0-1 1-6 0 3 0 1-1 0-3 3 0 1 1 8 0zM650 723l4 0 2 1 6 0 1 1 8 0 5 4-6 0-2 2-10 0 0-2-2-1-1-2zM736 723l1 0-1 3 1 1 4 0-3 0-1 1-6 0 0-1 4 0 1-1zM760 724l6 0-4 3-5 0-2-1 3-1zM878 724l5 0 0 2-5 0-1 0zM896 724l1 0-5 5-5 0-2 2-2 2-3 0-3-5 1-1 8 1 1-1 8-2zM773 725l10 1-2 0-1 1-8 0zM930 727l22 0 0 1-15 1-1-1-4 0zM620 728l5 0 2 1 3-1 7 0-2 0-3 2-2 1-2 1 4 5-1 2 1 1 4 0 0 2-8 0-2 2 5 3-1 0-3 2-5 0-1-1 3-2-1-2-4 0-3-1 1-1 0-2 3 0 1-1-1-1-9 0-3-1 5 0 4-3 4 1 6-5-1-1-4 0zM767 728l1 0 0 4-5 0 2 0zM713 729l4 2-1 1-5 0-1-2 2 0zM787 729l3 0 1 1 0 2-4-1zM975 730l5 0 1 2 2 0-1 1-3 0zM990 730l7 0-6 3-3-1zM915 732l6 0 1 2-6 0zM950 732l3 0-1 1-2 0zM581 733l4 0-2 0-6 5 1-4zM776 733l4 0 2 1-9 0zM686 734l9 0 1 2-13 0zM1006 734l1 0 0 5-1 1 1 3-2 0-2-2-5 0-1-2 4 0 2-2 0-1zM588 735l3 1-4 1zM886 735l2 0 2 2 5 0-7 0-2 1 2 1 5 0-2 2-3 0-1-2-4-1-2 1-1-1 2 0zM780 737l6 0 1 1-1 0-3 2 2 2 10 0 0 1-8 1-1-1-4 0-2-1 2-2-5-2zM678 738l8 0 5 2 4-2 8 0-1 1-5 0-2 3-3 0-1 1 1 1 7 0 1 2-9 0-1-2-7 0 0-1 4 0 1-1-3-3-8 0zM850 738l5 1 1 1-4 1zM491 739l6 0-5 2zM471 742l9 0-7 0-2 1zM593 742l3 1 5 0 0 1 1 2-2 1-4-1-1 1-4 0-1 1-4 0 0-1 6-2 1-1zM665 744l6 0 1 2-1 1-5 0-4-1zM717 744l11 1 5 3 0 2-1 1-6-4-5 0-1 1-4 0-3-2 3-1zM652 745l4 1 2 2-2 1-1-1-4 0zM971 745l2 2 5 0 0 1-3 0-2 1-2-2zM995 745l5 1-3 2 3 1-2 1-7 1 5-3-3-1zM412 747l3 0-2 1-1 0zM953 747l3 2-5 0-5 3-7 0 3-2 5 0zM343 748l9 0-1 1-6 0zM356 748l15 0-3 2-2 1-3-2-7 0zM300 749l3 0-1 1 1 2 4 0 0 1-7 0 1-1zM421 749l8 0 4 3 2 2 2 0 1 3-5 0-3-5zM871 749l7 0 3 1-8 1zM395 752l1 1-1 1-12 0 10 0zM460 752l3 0 2 1-9 0 2 0zM552 752l5 1 3 2 6 1-3 1-4 0-4-3-7 0 2 0zM610 752l5 0 1 1-1 1-4 0zM673 752l8 0 2 2 2 0-12 2 1-2-2-1zM765 752l7 0 0 2-4-1-2 2-3-1zM850 752l18 0 2 1-7 0-1-1zM930 752l3 0 2 1 2 0-11 0 2 0zM348 753l7 0 0 1-5 0zM625 753l3 0 0 1 3 2 0 1-8 0 0-3zM767 755l4 0 0 2 1 1-5 0zM372 757l10 0-2 0-3 2-4 0zM858 757l9 0-2 0-2 1-6 0zM538 758l4 0 3 2 1 0 0 2-6-1-2-2zM581 759l14 0-4 2-1 1 1 1-1 0-8 0-2-3zM636 759l7 0 2 3 1 0 0 1-4 1-2 3-3 0-1-1 2-1 4-2zM717 759l3 0 1 1 6 0-1 3-2 0-4-2-3 0zM478 760l7 0-3 1-1 1-4 0zM620 760l7 0-1 2 4 2 0 2-5 0 0-4 0-1-5 2-4 0 0-1 2 0zM528 762l4 0-5 1zM666 762l9 0 1 2 5 0 1 2-9 0-5-4zM475 764l3 0 2 1-4 1zM776 765l9 2 1 2 4 0 2 1-6 1-1-2-7-1 0-1zM893 765l4 1 3 2-4 0zM1003 765l4 0 0 6-5 0-1-2-8 0 8 0 2-2zM325 767l8 0-8 1zM407 767l3 0-2 1-11 0 9 0zM573 767l7 0 2 1-6 0zM348 768l5 0 0 1-4 0zM368 768l3 0 0 1-3 0zM427 768l3 0-2 1 2 1-8 0 3 0zM677 768l8 1 2 1-4 1-2 2-9-1zM750 768l4 0 2 1-9 0zM877 768l4 0 2 1 9 0 1 3 2 0-8 4-5 0-1 1-4 0-1-1-11 0 2-1 5-2zM311 769l6 0-1 2-6 0zM610 769l3 0 0 1-4 2zM966 769l6 0 0 1-6 1zM732 770l4 0 1 2-1 1-4 0-1-1zM768 770l4 0 0 2-2 1-7 0 0-1 4 0zM392 772l4 0 0 1-3 0zM410 772l4 0-1 1-5 0zM952 772l13 0-5 2-4 0zM328 773l5 0 2 1-2 2-7 0-1-2 2 0zM308 774l6 0 2 2-3 1-4 0-2-1zM660 774l3 0 0 2-2 1 2 1-4 0zM692 774l5 0 0 2-5 0zM273 777l8 0-5 2-1 3-5 0 4-3zM1007 777l0 2-1 1-3 1-2-2 2 0zM511 778l4 0 1 1-5 0zM437 779l5 0 0 1zM696 780l5 1 1 1-6 0zM797 780l4 0-1 3-3 0-1-1zM851 780l14 0-5 1-3 2-6 0-4 3-7 0-2-2-10 0-1 2 1 1-3 0-3 2-2 0-1 1-2 1-1-2-5 0 0-2 4-3-2-1 8 0 1-1 15 0 5 2 4 0 1 0zM545 782l2 0 3 1-5 1-2 2 1 2-2 0-2-2-3 0 0-2 4 0zM881 782l6 1-5 0zM450 783l7 0-2 1-4 0zM715 783l12 0 1 1 7 0-2 2-7 0-1 2-5 0 2-2-1-2zM862 784l1 2-5-1 3 0zM285 785l2 0 1 2-1 1-4 0 0-1zM426 785l4 2-5 0zM757 785l16 0 2 2-3 1-12 0-2-1-2 0zM880 785l5 1 0 1-8 0zM902 785l4 0 0 2-6 0zM248 788l7 0 0 1-7 0zM491 788l2 0 0 1-1 1-2 1-2 1 0 1 3 3-8 0-1-2-4 0-2-1 1-1 4 0 3-3 6 0zM957 788l3 1-4 0zM661 789l5 0 4 3 0 2 1 1 4 1-5 0-2-2-3 0-5 3-4 0 0-1 2-2 0-2zM855 789l23 0 3 1-14-1-2 2-5 0zM258 790l28 0 3 2-2 1-5 0-1-2-1 0-15 0-2 1-3 0zM631 790l4 0 0 2-4 0zM757 790l8 0 1 2-1 1-5 0-3-1zM500 792l3 0 2 1 2 0-11 0zM942 792l5 0 1 1 3 0-3 1-3 0zM237 793l6 0 3 2 2-1 9 0-2 0-2 2 5 2 3 0 1 1 8 0-5 2-3-2-11 0-3 4-3 0-2-1 0-4zM792 793l4 0 2 2 10 0 3 2-9 2-2-2-4-1-4 0-2 1-2 2-2 2-10-1 6-1 5-2-2-3-2 0 3 0 2 1zM192 794l5 0-1 2-3 0-1 0zM336 794l4 0 1 2 1 1 5 0-5 2-5 0-2-1-2-2zM433 794l5 0 2 2-7 0zM747 794l1 1 5 0 2 2 3 0-10 0-1-1-4-1zM816 794l4 0 1 1 9 1-1 1-6 0-1 1-2 0-4-2zM996 794l5 0 2 1 4 1-4 0-1 1-6 0-2-2zM631 795l13 1 2 1-21 0 5 0zM711 795l4 2 1 2-11 0 0-1-6 0 4 0 1-1 4 0zM220 797l3 0 3 1 0 1-8 0zM451 797l1 0 1 2-7 0-3-1 7 0zM688 797l4 0 5 2-2 0-3 3-8 0 6 0 2-3-2-2zM565 798l3 0 2 1 2 0-2 0-5 3 2 1-8 0 1-1 2 0zM851 798l4 0-7 1zM293 799l17 0 1 1 4 0-9 1-1 1 3 2-1 1-2 1-3-4-1 0-3-3zM358 799l5 0 3 1-1 3-5 0zM395 799l5 0 0 1-3 0zM643 799l4 0 1 1-7 1-2 1-1 1-6 0-2-1 1-2 11 0zM725 799l10 1-3 3-6 0-4 3-4 0-1 2-4 0-2-1 0-2 4 0 5-2 10 0 1-1-1-1-4 0zM982 799l3 0 6 1-4 1-1 1-6 0-2-2 3 0zM456 800l1 0-1 2-5 0 4 0zM180 802l0 1 2 2 10 0 0 2-15 0 1-1-1-2-3 0zM208 802l3 0 1 1 10 0-2 0-3 3-1 0-4-3-5 0zM380 802l1 0 3 2-2 0-2 4 4 2-4 1-1-2-2-2-10 1 0-1 5 0 1-1-1-2zM908 802l9 0 0 1 4 2 4 1 2 1 1-3 3-1 6 0-4 0-3 3 6 3-1 3-4 0-1-3-5 0-3-2-7 0-3 2-4 0 0-1 4 0 3-2-2-2-17 0 4-1 2 1 4 0zM758 803l5 0 2 1-5 0-2 2-2 0 0-2zM993 803l2 0 0 3 5 3 7-1-1 1 1 3-6-1-1 1-7 0-2 1-3 0-1-1 8 0 1-2-1-2-4 0 0-2zM282 804l6 0 7 4 9 0 4 2-3 1-2-2-7 0-3 3 2 2 7 0 5 3 5-3 9 0 1-1 5 0 1 1-2 2-14 0-1 1-5 0-1 1-8 0 1-1-1-1-4 0-2-3-10 0-1-1-3 0 2-3-4-2-3 0-1 1-4 0 1-1-1-2 11 0 2 2 2 0 1-1zM283 807l3 2 2 0 1-1 0-1-1-1-3 0zM427 804l6 0 2 1 2 0 0 2-1-1-11 0zM665 804l12 0-5 0-1 2-3 2 3 2 2 0 4-2 3 0-2 0-2 3-12-1-3-2 2 0 4-2zM787 804l9 0 1 3 3 0 1 1-9 0-1-1-5 0-3 2 0 1-1 1-4-4 3-2 5 0zM846 804l9 0 1 2-9 0zM542 805l6 2-1 1-4 0-1 1 3 2-4-1-1-1-3 2-12 0-2-2-3 0-3 3-9 0 0-2 3-1 5 0 1-1 5 0 1 1 17 0 2-1-1-1zM830 805l2 2 8 0 1 1 10 0 1 1-6 0-1-1-3 0-2 3-3-2-9 0-1-2zM867 805l11 2 2 1-3 0-5 2-4 1-1 2-8 0 1-1 5 0 1-1-2-2 0-2zM970 805l2 1 1 1-3 0zM412 807l11 0-2 0-5 2 0 1 2 2 0 1-1 1-4 0-1 2 0 1 3 2-2 1-3-1 1-1-4-4-2 0-2-1-5 0-1-2-2-1 9-1 7 5 4-4zM446 807l11 0-2 1 2 2 1 1-6 0-1-2-4 0-3-1zM571 807l4 0-3 1 1 1-1 3-9 1-1-1-3 0 4-1zM602 807l4 0 4 3-11 0 2-1-1-1zM728 807l8 0 4 2 2 0 1 1 12 0 1 2-6 0-3 2-6 0-4-2-2 0-3-3-8 0zM248 808l5 0 3 1 0 3-10 0 0-3zM318 808l8 0 0 1-5 0zM231 809l2 2-3-1zM341 809l6 0 0 1-8 0zM692 809l8 0 1 4-1-1-10 0-2-1zM771 809l1 1 3 0-2 2-2 2-3 0-2 3 1 1 3 1 2 0 6 4 5 0 3 2 4 1-5 0-2 2-5 0-1-1-14 0 0-2 12 0 1-1-1-2-13 0 2-1 1-4-2-3 5-2zM891 809l2 0 0 1-2 1zM971 809l4 0 2 1-4 0zM195 812l2 0-1 4-3 0-1-2-4 0 5-1zM487 812l2 0 3 2-9 0-1 2-4 0-1 1-5 1-2 2 5 3 5 0 2 1-4 0-2-1-9 0-1-1-6 0 0-2 10-6 7 0 3 1zM640 812l0 2-9 0 3-1 4 0zM716 812l9 1-3 3 0 1-2 0-3-3-1 0zM795 812l7 0 1 1-2 0-1 1 1 1 2 0 2-1 5 0 1 2-10 0-3 2 3 2 7 0 2-1 16 0 2 1-2 2-9 0-2 2 1 3 4 0-13 0-2 2-2 2-6 0-2 2-2 0-1-1-2 0-1-2 6 0 5-3-2-1-4 0 2-2-3-2-1 0-1-3-4 0-5-3 2-2-1-1 10 0zM263 813l7 1 5-1 2 2-2 2 1 1 5 1 2-1 4 0 4 2 6 2 4 2 2 0-1 3 1 1-5 0-1 1 3 3 11-2-1 2 3 5 4 0 1-1-1-2 1-1 3 0 2-3 0-1 5 0 3 3 7 0 1-2-2-2-5 0-1-1-3 0 2-3 5 0 1-2-1-1-10 0-2-2-4 0 8 0 1-1 5 0 2-1 6 0-5 0-1 1 2 2 15 0-2 1-2 1-7 0-4 5 1 1 5 0 4-2 5-1 1-1 3 1 7 0-5 4 2 1 3 0-1 3 1 1 5 0 5-3 6-2 3 3 5 0 1 1 8 0 0 1-5 2-1 1 1 1 5 0 1-1 3 0 3 2 3 0 1-2 5-1 2-3 4-1-2-1-5-1-1-1 3-1 5 1 2 2-2 2 3 1 0 3 1 1 11 0 2-1 5-2 3 4 5 0 2-1 3 0 2 1 6 0 2 1 1-1 2 0 6 1 2-2-1-1-17-1-1-2-4 0-2-1 4-3 4 0 1-1 8 0-6 4 3 2 3 0 1-1 6 0 3-2-2-2 7 0 1 2-1 0-1 2 1 1 2 1 4 3 15 0 1-1-4-2 3-3 5 0 1-1 6 0 2 2 10 0 1-1 6 0 3-1 1-2-1-1 1-1 1 0 2 2 2 0 1 2 7-2 1-1 6 0-1 2-5 0-3 2-8 0-2 1-3 0-2 2-5 0-1 1 1 1 5 0 3 0 1-1 9 0 2 1-5 2 3 3 5 0 1-1 6 0 2-2 3 0 2 3-4 0-3 1-2 4 1 1 6 0 3-1 1 1 3 0-19 0 2 0 1-1 0-1-3-3-14 2 0-3-5-4-4 0-1 1 4 5 2 2-2 1 1 1 3 0-9 0 0-1-3-2-1 0-2 0-2 1 2 2-23 0-1-1-3 1-5 0 3-1 6 0 1-3 8 0 2-2-1-1-3 0 3 0 1-2-2-1-3 0-1 1 0 2-5 0-2-1-10 0-4 1-1 1 0 3 2 1-4 2-19 0 0-1-2-1 1 0 2-3-2-1-4 0-2-1-4 0-3 2-8 0-1 2 2 2 2-1 15 0-2 1-3 0-2 1-43 0-5-2-8 1-1 0 0-1 2-1 1 0-1-3-1-1-5 0-5-5-2-1-2-3-3 0-2 3-12 0-1-2-4 0-1 3 5 2 5 0-4 3 1 1 11 0 3 1 2 3 3 0 2 2-29 0 13 0 3-2-3-3-1 2-11 0-2 2-6 0-5-2-4 0-1-2-5 0-1-1-3 0-2 0-3 3 2 1 2 0 3 2 8 0-20 0-1-1-12 0 0-1-3-3-4 0-1-2-2 0-3 0-2 2 7 4 3 0 0 1-19 0-1-1-3 0-2 1-9 0-4-2-2 0-4 0-1 2-7 0 0-2 1-1-1-2-2 0 4-2 2 0 0 1 1 1 5 0 1-1-1-1 10 0 1-2-1-1-3 0-2-1 3-1-1-1-3-2-5 0-2 2 0 1 2 1-10-1-4 2-3 0-2 3-8 0 0-2 11-1 1-2-5-4-9 0-1 1-5-1-2 1-3 0 0-1 5 0 1-1-2-3-10 2-3-2 2-1-2-1-5-1 3-2 14 0 3 2-2 0-1 1 6 5 15 0 2-2 5 0 1-1-2-2-8 0 6 0 1-1-4-5-2-2-8 0-2 2-2-2 1-1 4 0 2-1 11 0 2-3 14 0zM256 818l2 1-3 0-2 3 2 1 2 0 0 1-2 1-1 1 3 2 6 0 4 2 4 0 5-2 2 0 1-1 3 0 1-1-3-4-4 0-1 1-5 0-2-1-8 0 5 0 3-3-5-2-6 0zM287 824l5 3-1 1 1 1 4 0 3-3-1-2-5 0-1-1-4 0zM278 829l-2 2 5 2-1 0-4 4-6 0-2 1 7 4-4 0-1 1-8 0-1 1 1 3 5 0 2-1 7-2 1-1 4 0 1-1 10 0 1-2-6-3 2-1 1-2 5-1 1-3-1-1-15 0-2 0zM346 833l1 1 3 0 3 0 1-1-1-1-3 0-3 0zM267 834l1 3 3 0 1-2-1-2-3 0zM321 834l2 1 3-1-3-1zM330 836l1 1-5 2 1 3 11 0 1-2-1-2 2-2-2-2-6 0zM413 838l2 1 2 0 1-1-1-1-2 0zM523 838l3 1 1-1-1-1zM316 839l1 1 3 0 2-1-2-1-3 0zM425 839l-3 2 1 2 5 0 3-3-1-2-4 0zM440 841l2 1 2-2-2-1zM352 842l-4 0-1 1 3 1 7 0 3 0 1-1-1-1-3 0-2-1zM462 842l1 1 3 0 5 0 1-1-1-1-8 0zM402 843l-1 3 2 1 7 0 2-3-4-2-5 0zM313 846l-2 1 1 1 3 0 1-1-3-2zM426 847l1 2 4 0 1-1-1-2-4 0zM467 847l3 1 5 0 1-1-1-1-5 0zM618 813l5 0-2 1 1 1 8 1 0 1 1 1 7 4 3-2 9 0 1 3 1 0 4 0 2-3 10 0 3 2 20 0 5-3 0-1-2-1-1-1 3-1 1-1 3 0 2-1 4 2 7 0 2 2-3 0-1-1-3 0-2 1 0 1 4 4 3-2 7 0 2 2-4 0-4 4 3 2-7 0-2-1-12-1-3-3-3-1-12 1-2 3-4 0-1-2-3 0-1-2-4 0-2 2 4 2 4 1-3 0-3 2-2 0-1 2 1 2 2 0 6-4 4 0 2 1 12 0 1-2 7 0 1 1-3 0-2 1 4 2 0 1-5 0-4 3 2 1 0 2-2 2-5 0-3 2 3 2 6 0 1 2 5-1 3 2 5 0 1 1-74 0-2-2-4 0-2 0-4 2-5 0-1-1-3 1-34 0 3 0 1-1 5 0 1-1-2-1-4 0-1 1-5 0-4-1 0-2 4 0 5-2-4-3-6 0 0-1 4 0 3 1 4-1-3-1 2-3-3-2-2 0-1-2 10 0 1-1-3-1 1-1 17 0 2-1-1-2-2 0-7-5-1 0 0-2 9-1 1 0-1-1-4-1 6 0 2 1 5 1-2 0-6 3 1 1 10 0 4 3 4 0 4-1 1-3 2-1-2-2-2 0 2-2zM626 820l0 2-1 0-3 2-2 0-8 4 3 1 7 0 1-1 5-1 2-3 2 0 1-1-2-2-3-1-1-1zM700 822l1 1 2-1-2-1zM606 824l2 1 3-1-3-1zM637 826l-6 0-1 1 1 1 7 1 1 1-7 0-2-1-9 0-1 3 1 1 17 0 5 4 13 0 1-2-1-2-5-1-1-1-9-1 7-1 3-2-1-1-9 0-1-2zM587 828l-2 1 1 1 5 0 2 3 7 0-3 0-1 1-10 0-3 3 5 2 2-1 10 0 1-1 5 0 1-2 6 0 3-2-1-1-12 0-1-1-2 0-2-3-5 0-1-1-4 0zM612 830l3 2 2-2-2-1zM630 836l1 1 2-1-2-2zM620 838l1 2 4 0 1 2 7 0 2 1 12 0 1-1-2-3-13 0-1-1-4 0-1-1-6 0zM665 839l3 1 3-1-3-1zM597 842l3 1 2-1-2-1zM660 842l6 2 5-2-3-1-6 0zM640 844l-3 0-1 1 1 2 5 0 3-1-2-3-2 0zM626 846l4 1 2 0 1-1-1-2-2 0zM652 847l1 1 12 0 2-1-2-1-12 0zM631 848l2 1 3 0 2-1-2-1-3 0zM915 813l11 1 1 3 3 2 1 0-3 3-3 0 0-2-3-2-5 0-5 2-2 1-2 1 2 1 2 0 1 1 15 0-1 0-2 3-3 0-2-1-5 0-5 3-2-1 4-4-1-1-7 0-1-1 2-2-3-1 5-1 1-2 5-2zM911 816l5 2 5-2-1-2-4 0-3 0zM155 814l2 0-1 3 5 2 1 3 1 0-2 0-1-1-5 0-2 1-1-1-4-1 5 0 1-1-2-2zM180 814l5 0-7 2zM222 814l5 0 0 2-4 0zM370 814l1 1 2 0 7-1 0 3-2 1-3 0-2-1-6 0 0-2zM573 814l15 0-3 2 2 1-1 0-2 0-1-3-5 0-1 2-4 0zM666 814l2 0 2 3 3 0 3 1-6 0-4 0-1-1-7 0 0-1 7-1zM873 814l3 0 0 2-3 4 4 3-4 0-3-2-13-1 0-1 4 0 2-2 5 0zM863 819l2 1 2 0 2-1-2-1-2 0zM941 814l10 0 5 3 5 0 1 1 4 0 0 1-6 0-2-1-10 0-2-2zM966 814l6 0 0 3-5 0zM492 815l8 2-2 1-2 0-1-1-3 0zM526 815l2 1-1 2 1 1 0 1-1 2 0 1-2 0-2 1-19 0 2 0 2-2 4 0 3-3 7 0zM648 815l7 1-4 0-1 1-8 0 5 0zM202 817l14 1-1 1-18 0 0-1 4 0zM433 817l4 0 1 1 5 0 5-1 2 1 2 0 0 1-5 0-1 3-5 0 1-1-1-2-3 0-2-1-8 0-1 1 1 1 4 2-2 0-4 0-1-3 2-1 5 0zM562 817l5 0 3 1-5 0zM180 818l3 0-2 3-4-1 0-1zM831 818l6 0 1 1 8 0-5 1-1-1-7 0zM992 818l15 0-7 1-2 1 2 2 2 0 1 1-3 0-2 1-2-1-5 0-5-3 2 0zM378 820l7 0 1 2 6 0 6 5-2 1-8 0 4 0 1-1-3-4-7 0-1-1-4 0zM532 820l4 0 1 2 10 0-7 0-2 1-2 0-1-1-4 0zM580 820l5 3-7 0 0-2zM195 822l9 0 1 1-8 0zM490 822l8 0-1 1-9 0zM966 822l2 0 4 2 3 0 5 3 7 0 1-1 2 0 0 1-4 1 2 1 9 0-4 0-3 3 3 2-5 0-2 2-3 0-7 0-1-2-3 4 0 2-10 1-2 2-5 0-2 1-2 0-2 2-13 0 1-2 13 0 1-1-1-2 3 1 7-4-5-2-8 0-2-3-5 0 0-1 6 0 2-3 4 0 4 4 1 2 3-1 5 0 2-2 4 0 2 2 4 0 1-1-3-4-5 0-5-2 2 0 1-2-5-2zM372 823l3 0 0 1-4 0zM827 823l5 2-10 1zM852 824l8 0 1 2-4 2-4-1-3 4-3 0-1-2-4 0-4-2-6 0-1 1 0 3-3 1-1 2-15 0-1-1 0-1 1-1 9 1 2 1 5-3 3-2-1-1 7 0 3-2 11 0zM936 824l3 0 2 3 1 0-5 2-4 0-2-1 1-2 3-1zM743 825l3 3 1 0 0 1-5 0zM880 825l3 2-5 0zM520 827l8 0 1 2-3 2-5 0-2-2zM897 827l3 1 3 0 2 1-3 1 1 2 4 0 1 1 3 0 0 1-4 0-4-2-6 0-1-1-4 0-1-2 5-1zM997 827l8 1 0 2 2 3-7-1-2-2 1-1zM158 828l11 0 2 2 4 2-3 1-5 0-1-1-6 0-2-3-7 0 6 0zM427 828l5 0 1 1 4 0 1 1 7 0-3 1-1 1-9 0zM725 829l10 0-2 2-7 0-3 2-6 0-1 1 1 2-4 0-1-2 2-1-1-1 4-2 6 0zM871 829l2 0 5 3 2 2-2 0-5-3-5 0zM923 829l7 0 0 3-3 1-9 0-1-1 0-2 5 0zM756 830l3 0-2 1-4 3 0 2 2 1-8 0-1 2 1 1 3 0-8 2-1 1 5 4 9 0 1 1 4 0-7 0-2 1-26 0 5 0 1-2-3-1 1-2-1-1-2 0-5-3 6 0 4-2-1-1-6 0-2-2 13 0 2-1 3 0 1 1 7 0 3-2 0-1 4 0zM737 847l-1 1 1 1 5 0 1-1-3-2zM185 832l12 0 1 1 2 0-3 0-2 3 0 2-3 1-2 0-3-1-9 0-1 1 9 4 4 0 0 1-7-1-11 0-1 1-4 0 1-2-1-1-2 1-13 0-2-2 3 0 2-1-2-1 2 0 2-3 5 0 5 3 3 0 1 1 5 0 3-3 4-1 2 2 2 0 3-3-2-1-6 0zM767 832l2 0-2 1-3 0zM487 833l4 0 1 1-1 2 1 1-4-1zM856 834l5 1 1 3 14 0 6 5 1 0-7 0-4 3-1-3-4 0-4 2 2 2 5 0 1 1 2 0-1 1-5-1-5 0-1 1-5-1-3 1-10 0 3-1 4 0 1-1 4 0 1-1-3-2 0-1 5 0 1-1-2-3-10 0 6-1zM866 839l-1 1 1 2 5 0 1-2-1-2-4 0zM930 834l2 0 0 2-2 0zM781 837l6 0 1 1 3 0 2 1-1 1 1 2 2 0-10 0 0-1-4 0-1 1 0 1 2 1-1 2-5-2-5 3-4 0-1-1 6-4-1-1-5-1-1-1 4 0 3 1 1-1 4 0zM805 837l2 0 4 2 2 0-1 2-4 0-2-3-2 0zM221 838l2 0-2 2 1 2-4 0-1-3 3 0zM896 838l12 0-1 2 3 3 5 0 0 1-2 2 2 1 11-2 1 2-1 1-4 0-1-1-12 0 0-1-2-3-7 0 0-1-1 1-3 0-1 1-4 0-1 2 1 1-3 1-7 0-3-1 5 0 3-3 5 0 3-2-1-1-2-1 0-1 4 0zM896 839l1 1 1-1-1-1zM931 838l4 0 1 1 4 0 1 1 6-1 2 1-8 1-1 1-3 0-1-1-4 0-1 1-4 0-2-2-1-1 4 0zM700 839l6 0-4 3-2-1-9-1 7 0zM752 840l3 0 5 3 2 0-10 0zM823 842l7 0-3 1-5 0-1 1-3 0zM836 843l1 1-5 0 3 0zM1002 843l5 0 0 1-4 0zM702 844l14 0 0 2 1 1 4 1-5 0-1-1-3 0-2 1-4 0-3-2-1-1zM792 844l6 0 2 1 9 0 1 2-1 1 2 1-7 0 0-1-1-1-10 1 2-1zM970 844l7 0-2 2-7 0zM180 847l4 0-2 0-1 2-21 0 13 0 2-1 3 0zM228 847l3 0 1 1 8 0 1 1 2 0-21 0 0-1 5 0zM957 847l8 0 0 1 2 1-40 0 16 0 3-1 5 0 2 1zM992 847l8 0 2 2-10 0-1-1zM201 848l2 1 4 0-8 0zM905 848l2 0 0 1-2 0z"/><path d="M147.3 850.0L147.3 757.2L148.3 757.2L151.5 757.3L154.7 757.4L157.9 757.7L161.1 758.0L164.3 758.4L167.5 758.9L170.7 759.5L173.9 760.2L177.1 761.0L180.3 761.9L183.5 762.8L186.7 763.8L189.9 764.9L193.1 766.1L196.4 767.3L199.6 768.6L202.8 770.0L206.0 771.4L209.2 772.8L212.4 774.4L215.6 775.9L218.8 777.5L222.0 779.2L225.2 780.8L228.4 782.5L231.6 784.3L234.8 786.0L238.0 787.8L241.2 789.5L244.4 791.3L247.6 793.1L250.8 794.9L254.0 796.7L257.2 798.5L260.4 800.2L263.6 802.0L266.8 803.7L270.0 805.4L273.2 807.1L276.4 808.8L279.6 810.4L282.8 812.1L286.0 813.6L289.2 815.2L292.5 816.7L295.7 818.2L298.9 819.6L302.1 821.0L305.3 822.4L308.5 823.7L311.7 825.0L314.9 826.3L318.1 827.5L321.3 828.6L324.5 829.7L327.7 830.8L330.9 831.8L334.1 832.8L337.3 833.8L340.5 834.7L343.7 835.5L346.9 836.4L350.1 837.2L353.3 837.9L356.5 838.6L359.7 839.3L362.9 839.9L366.1 840.6L369.3 841.1L372.5 841.7L375.7 842.2L378.9 842.7L382.1 843.1L385.3 843.6L388.6 844.0L391.8 844.3L395.0 844.7L398.2 845.0L401.4 845.3L404.6 845.6L407.8 845.9L411.0 846.1L414.2 846.4L417.4 846.6L420.6 846.8L423.8 847.0L427.0 847.2L430.2 847.3L433.4 847.5L436.6 847.6L439.8 847.7L443.0 847.8L446.2 847.9L449.4 848.0L452.6 848.1L455.8 848.2L459.0 848.3L462.2 848.4L465.4 848.4L468.6 848.5L471.8 848.5L475.0 848.6L478.2 848.6L481.4 848.7L484.7 848.7L487.9 848.7L491.1 848.8L494.3 848.8L497.5 848.8L500.7 848.8L503.9 848.8L507.1 848.9L510.3 848.9L513.5 848.9L516.7 848.9L519.9 848.9L523.1 848.9L526.3 848.9L529.5 848.9L529.5 850.0Z" fill="#fff"/><path d="M148 712l291-3 161 6 15-7 7 0 9-4 7-2 8 1 9-5 9 0 16-9 9 0 12-3 7 2 8 5 11-1 5 0 3-1 7-7 4-1 9 2 8 4 7 0 7 2 6-2 3 0 7 3 15 3 5 0 6 2 11 0 7 4 5 0 5 1 6-1 10 3 8 1 6 0 9 3 5-1 8 1 6 2 6 3 3 1 10 1 6-1 6 2 12 0 14 1 8-1 8 3 8 5 5 1 9-2 2 1 6 4M148 723l281-1 26 2 5-1 5-2 2-1 7 4 14 1 6-1 16 9 10 1 5 0 7-3 3 0 15 2 8-1 7 1 3 0 14-8 2 1 6 3 11-1 3-1 5-4 8 1 12-5 6 0 3 0 21-12 7-1 4 0 5-1 6 1 6-6 5-1 11-7 15-2 8 3 6-2 8 0 13 3 3 1 4 5 2 1 5 0 5 1 8-2 10 4 6-2 9-1 13 2 4 0 15 6 8 5 14 0 7 2 5-1 5-3 2 0 3 2 2 1 15-3 2 1 6 6 13 3 16 7 7 2 6 2 7 1 15-1 7 3 16 6 8 6 7 1M148 735l152-2 129-3 12 2 9-2 5 2 7 0 8 5 9 0 11 6 10 0 17 7 12 2 3 0 5 1 4 0 5 1 11 1 8-2 23-10 6-4 9-2 8-6 5 0 5-2 5 2 2 1 9-4 6 2 3-2 7-5 5-1 11-1 7-3 7 0 5-2 11-7 9-3 3-1 6 1 6 2 7 0 5 2 9-1 9 4 8 0 5 2 6 1 8 4 10 0 15-2 7 4 6 1 6 3 8 0 6 1 7 6 7 2 7 4 9-4 7-4 8-1 7-5 9-2 14 10 7 0 8 2 7 1 5 4 9 5 9 2 8 0 7 2 11 2 8 5 6 6 10 4M148 744l201-4 55 1 10 2 16 2 4 2 6 1 5 3 15 4 8 6 4 1 18-1 3 1 3 2 6 5 3 2 4-2 6 1 8-3 6 1 9-1 8-4 12-1 6-2 7 0 5 2 2 0 15-6 6-1 5-2 12-2 7-6 2-1 10-1 5-3 10-10 12-5 12 5 9-1 7 3 7-2 3-1 2 1 6 3 8 6 7 4 5 3 4 1 7 2 13 3 5-1 2 0 5 4 6 1 7 6 7 1 7 5 4 2 8 9 11 3 6 0 7 4 8 3 9 3 6 5 3-1 10-7 8-1 7-3 6 2 6-3 3-1 16-2 12 0 10-1 3 1 13 5 8 1 7 2 7 0 4 0 8 4 8 3 8 1 7-2 4 2M148 751l52 1 50-2 50-1 16-2 13-3 8 3 17 1 6 2 6 0 5 1 5 0 3 0 10-5 3 0 17 3 7 5 2 1 10-2 2 0 19 37 1 1 6 3 6 11 3 5 4 0 6-3 9-1 12-3 23-8 6-4 6-1 15-7 7-4 5-5 6-1 10-7 6-3 8 7 12 0 9 2 6 4 5 2 4 3 7 9 11 2 8 5 5-1 5 1 4 0 16-5 9 2 5-2 6-3 2 0 6 4 4 0 5 0 7-2 7 1 5-1 9 3 11 0 7 3 7 0 8 2 2-1 6-4 9-3 10-2 8 3 7-1 5 1 7-1 11 7 11 1 8 8 9 3 9-1 8-4 7 2 9-3 8 1 6 1 7-4 5-1 8-3 3 0 8 0 6 5 4 1 10-2 5-2 9 1 7 2 18 11M148 755l42 5 72 10-7 12-10 10M613 800l-8 8-2 2-7 0-6 3-6-1-7 2-4 0-3-2 0-1 2-4 6-6-3-4-1-3 4-7 4-2 4-1 10 2 2 3 0 5 12 1 3 2 0 3M611 835l-1 2-1 1-5 3-3 1-4 3-3 0-2-2 2-5-3-3 0-5 2-2 4-2 2 0 2 1 2 4 5-2 3 1 1 2-1 3M750 795l-3 3-3 1-3 4-2 1-2-2-2-3-3-2-3-4 1-1 4-3 3 0 4 3 3-3 3 0 2 1 1 3 1 1-1 1M833 770l-1 1-4 2 1 3-1 1-4 1-6-3-5-1-7-2-1-2 0-3 0-1 3-1 9 2 4-3 4-1 8 3 1 1-1 3M911 780l-1 1 3 3-1 1-1 0-13-2-3-4 1-1 6 0 0-2 1-1 5 0 2 0 1 1 1 3-1 1" fill="none" stroke="#000" stroke-width="1.1" stroke-linejoin="round"/><path d="M201.7 769.5L205.4 771.1L209.1 772.8L212.8 774.5L216.5 776.4L220.2 778.2L223.8 780.1L227.5 782.1L231.2 784.1L234.9 786.1L238.6 788.1L242.3 790.2L246.0 792.2L249.7 794.3L253.4 796.4L257.1 798.4L260.8 800.4L264.5 802.5L268.2 804.5L271.9 806.4L275.6 808.4L279.3 810.3L283.0 812.1L286.7 814.0L290.4 815.7L294.1 817.5L297.8 819.2L301.5 820.8L305.2 822.4L308.9 823.9L312.6 825.4L316.3 826.8L320.0 828.1L323.7 829.4L327.3 830.7L331.0 831.9L334.7 833.0L338.4 834.1L342.1 835.1L345.8 836.1L349.5 837.0L353.2 837.9L356.9 838.7L360.6 839.5L364.3 840.2L368.0 840.9L371.7 841.5L375.4 842.1L379.1 842.7L382.8 843.2L386.5 843.7L390.2 844.2L393.9 844.6L397.6 845.0L401.3 845.3L405.0 845.7L408.7 846.0L412.4 846.2L416.1 846.5L419.8 846.7L423.5 847.0L427.2 847.2L430.9 847.3L434.5 847.5L438.2 847.7L441.9 847.8L445.6 847.9L449.3 848.0L453.0 848.1L456.7 848.2L460.4 848.3L464.1 848.4L467.8 848.5L471.5 848.5L475.2 848.6L478.9 848.6L482.6 848.7L486.3 848.7L490.0 848.7L493.7 848.8L497.4 848.8L501.1 848.8L504.8 848.8L508.5 848.9L512.2 848.9L515.9 848.9L519.6 848.9L523.3 848.9L527.0 848.9L530.7 848.9L534.4 848.9L538.0 849.0L541.7 849.0L545.4 849.0L549.1 849.0L552.8 849.0L556.5 849.0L560.2 849.0L563.9 849.0L567.6 849.0" fill="none" stroke="#000" stroke-width="1.2"/></g><path d="M148.3 758.2V849.0H358.0" fill="none" stroke="#262626" stroke-width="1.3"/><path d="M148.3 849.0V838.0" stroke="#262626" stroke-width="1.3"/><path d="M338.9 849.0V838.0" stroke="#262626" stroke-width="1.3"/><path d="M148.3 849.0H1006.0" stroke="#111" stroke-width="1.3"/><path d="M147.8 665.5H1006.5" stroke="#1a1a1a" stroke-width="1.6"/><g><path d="M151.3 962.5V1156.5H1002.0" fill="none" stroke="#262626" stroke-width="1.3"/></g><g clip-path="url(#clipD)"><rect x="149.3" y="960.5" width="854.7" height="198.0" fill="#000080"/><path fill="#00008a" d="M151 960l852 0 0 198-854 0 0-198z"/><path fill="#000095" d="M151 960l852 0 0 198-854 0 0-198z"/><path fill="#00009f" d="M151 960l852 0 0 198-854 0 0-198z"/><path fill="#0000aa" d="M151 960l852 0 0 198-854 0 0-198z"/><path fill="#0000b5" d="M151 960l852 0 0 198-854 0 0-198z"/><path fill="#0000bf" d="M151 960l852 0 0 198-854 0 0-198z"/><path fill="#0000ca" d="M151 960l852 0 0 198-854 0 0-198z"/><path fill="#0000d4" d="M151 960l852 0 0 198-854 0 0-198z"/><path fill="#0000df" d="M151 960l852 0 0 198-854 0 0-198z"/><path fill="#0000ea" d="M151 960l852 0 0 198-854 0 0-198z"/><path fill="#0000f4" d="M151 960l852 0 0 198-854 0 0-198z"/><path fill="#0000ff" d="M151 960l852 0 0 198-854 0 0-198z"/><path fill="#000bff" d="M151 960l852 0 0 198-854 0 0-198z"/><path fill="#0015ff" d="M151 960l852 0 0 198-854 0 0-198z"/><path fill="#0020ff" d="M151 960l852 0 0 198-854 0 0-198z"/><path fill="#002bff" d="M151 960l852 0 0 198-854 0 0-198z"/><path fill="#0035ff" d="M151 960l852 0 0 198-854 0 0-198z"/><path fill="#0040ff" d="M151 960l852 0 0 198-854 0 0-198z"/><path fill="#004aff" d="M151 960l852 0 0 198-854 0 0-198z"/><path fill="#0055ff" d="M151 960l852 0 0 198-854 0 0-198z"/><path fill="#0060ff" d="M151 960l852 0 0 198-854 0 0-198z"/><path fill="#006aff" d="M151 960l852 0 0 198-854 0 0-198z"/><path fill="#0075ff" d="M151 960l852 0 0 198-854 0 0-198z"/><path fill="#0080ff" d="M151 960l852 0 0 198-854 0 0-198z"/><path fill="#008aff" d="M151 960l852 0 0 198-854 0 0-198z"/><path fill="#0095ff" d="M151 960l852 0 0 198-854 0 0-198z"/><path fill="#009fff" d="M151 960l852 0 0 198-854 0 0-198z"/><path fill="#00aaff" d="M151 960l852 0 0 198-854 0 0-198z"/><path fill="#00b5ff" d="M151 960l852 0 0 198-854 0 0-198z"/><path fill="#00bfff" d="M151 960l852 0 0 198-854 0 0-198z"/><path fill="#00caff" d="M151 960l852 0 0 198-854 0 0-198zM163 1050l0 2 6 1 7-1 0-2z"/><path fill="#00d5ff" d="M151 960l852 0 0 198-854 0 0-103 14 2 18-1 12-2 5-2 0-2-5-2-14-2-18 0-12 2 0-88z"/><path fill="#00dfff" d="M151 960l852 0 0 198-854 0 0-100 22 1 20-1 15-4 4-2 0-2-8-4-15-1-20-1-18 1 0-85z"/><path fill="#00eaff" d="M151 960l852 0 0 198-854 0 0-98 26 0 24-1 18-5 3-2 0-2-6-4-19-3-22-1-24 1 0-83z"/><path fill="#00f4ff" d="M151 960l852 0 0 198-854 0 0-97 28 1 26-2 18-4 5-2 3-4-1-2-7-2-18-4-26-2-28 1 0-81z"/><path fill="#00ffff" d="M151 960l852 0 0 198-854 0 0-95 32 0 30-2 19-5 4-2 3-4-4-4-5-2-21-3-28-2-30 1 0-80z"/><path fill="#0bfff4" d="M151 960l852 0 0 198-854 0 0-94 34 1 32-3 24-6 4-2 2-4-3-4-4-2-23-4-32-3-34 1 0-78z"/><path fill="#15ffea" d="M151 960l852 0 0 198-854 0 0-92 38 0 34-3 24-6 6-3 2-4-2-4-6-2-24-6-34-2-38 1 0-77z"/><path fill="#20ffdf" d="M151 960l852 0 0 198-854 0 0-91 42 0 36-3 24-6 8-4 2-4-2-4-7-4-25-5-36-3-42 1 0-75z"/><path fill="#2affd5" d="M151 960l852 0 0 198-854 0 0-89 44 0 40-4 27-7 7-4 3-4-2-4-7-4-12-4-16-3-38-2-46 1 0-74z"/><path fill="#35ffca" d="M151 960l852 0 0 198-854 0 0-88 46 0 42-4 18-3 12-4 9-5 2-4 0-2-3-3-7-5-13-3-16-3-40-3-50 1 0-72z"/><path fill="#40ffbf" d="M151 960l852 0 0 198-854 0 0-86 52-1 46-4 18-4 13-5 7-4 2-2 1-4-5-5-8-5-16-4-16-3-42-3-52 2 0-70z"/><path fill="#4affb5" d="M151 960l852 0 0 198-854 0 0-85 56 0 50-5 20-5 14-5 6-4 3-6-4-6-10-6-17-5-18-3-42-3-58 3 0-68z"/><path fill="#55ffaa" d="M151 960l852 0 0 198-854 0 0-83 58 0 54-6 20-4 15-5 11-6 3-6-1-4-3-4-13-7-20-7-20-4-34-2-70 5 0-65z"/><path fill="#60ff9f" d="M151 960l852 0 0 198-854 0 0-80 66-1 34-3 26-4 20-4 16-6 9-6 3-4 1-4-1-4-4-4-20-18-7-12-4-4-11-5-12-3-18-1-16 1-13 5-19 10-11 3-39 7 0-61z"/><path fill="#6aff95" d="M151 960l852 0 0 198-854 0 0-78 74-1 38-3 28-4 22-6 17-6 11-8 3-8-6-18 0-18-3-5-3-5-8-6-11-5-28-7-20-2-20-1-20 2-20 4-14 4-11 5-19 16-10 6 0-54z"/><path fill="#75ff8a" d="M151 960l852 0 0 198-854 0 0-74 56 0 50-3 46-6 34-8 18-7 12-10 4-8 7-32-1-6-3-6-4-6-8-6-21-10-26-8-20-4-22-2-24 0-22 0-22 3-20 4-18 5-16 7 0-21z"/><path fill="#80ff80" d="M385 960l618 0 0 198-854 0 0-67 46 1 44-1 46-3 34-4 32-6 24-7 22-9 15-10 11-12 9-16 4-12-1-10-6-12-10-10-16-10-19-10z"/><path fill="#8aff75" d="M683 962l9-2 76 0 23 6 6 4 3 4-2 4-2 2-13 6-18 4-26 2-26 0-24-3-17-5-10-6-2-4 3-4 8-4z"/><path fill="#95ff6a" d="M717 968l14 0 14 0 9 3 6 3-3 4-6 2-18 2-22-1-10-5-1-2 3-2z"/><path fill="#000080" d="M749 970l6 0 4 4 2 0 2 2 6 2 6 4 20 0 6 6 6 2 4 4 2 0 8 8 2 0 2 2 6 0 6-4 4 0 2-2 8 0 2-2 4 0 2-2 6 0 2 2 14 0 2-2 8 0 2-2 10 0 18 18 2 0 2 2 12 0 2-2 2 0 4-4 4 0 2 2 2 0 8 8 2 0 6 4 14 0 2 2 18 0 0 136-854 0 0-108 4 0 6 4 2-2 2 0 6-6 10 0 2 2 14 0 2 2 4 0 2 2 2-2 2 0 8-8 2 0 2 2 4 0 4 4 14 0 2-2 12 0 2 2 14 0 2-2 6 0 2-2 22 0 2 2 12 0 2 2 16 0 2-2 2 0 6-4 2 0 4-4 2 0 2-2 4 0 2 2 2-2 8 0 2-2 4 0 2-2 2 0 14-14 12 0 2-2 4 0 2 2 2 0 2 2 2 0 2 2 6 2 14 14 20 0 2 2 4 0 2 2 8 0 2 2 20 0 2 2 8 0 2-2 10 0 10-10 0-2 6-4 8 0 2-2 20 0 4-4 10 0 2-2 6 0 10-6 6 0 12-12 0-2 4-4 0-2 2-2 2 0 2-2 4 0 2-2 18 0 2 2 4 0 2 2 10 0 2-2 2 0 8-8 20 0 2 2 12 0 2-2 4 0 4-4 2 0 2-2 4 0 6-4 6 0z"/><path fill="#0000aa" d="M749 970l6 0 4 4 2 0 2 2 6 2 6 4 20 0 6 6 6 2 4 4 2 0 8 8 2 0 2 2 6 0 6-4 4 0 2-2 8 0 2-2 4 0 2-2 6 0 2 2 14 0 2-2 8 0 2-2 10 0 18 18 2 0 2 2 12 0 2-2 2 0 4-4 4 0 2 2 2 0 8 8 2 0 6 4 14 0 2 2 18 0 0 136-854 0 0-108 4 0 6 4 2-2 2 0 6-6 10 0 2 2 14 0 2 2 4 0 2 2 2-2 2 0 8-8 2 0 2 2 4 0 4 4 14 0 2-2 12 0 2 2 14 0 2-2 6 0 2-2 22 0 2 2 12 0 2 2 16 0 2-2 2 0 6-4 2 0 4-4 2 0 2-2 4 0 2 2 2-2 8 0 2-2 4 0 2-2 2 0 14-14 12 0 2-2 4 0 2 2 2 0 2 2 2 0 2 2 6 2 14 14 20 0 2 2 4 0 2 2 8 0 2 2 20 0 2 2 8 0 2-2 10 0 10-10 0-2 6-4 8 0 2-2 20 0 4-4 10 0 2-2 6 0 10-6 6 0 12-12 0-2 4-4 0-2 2-2 2 0 2-2 4 0 2-2 18 0 2 2 4 0 2 2 10 0 2-2 2 0 8-8 20 0 2 2 12 0 2-2 4 0 4-4 2 0 2-2 4 0 6-4 6 0zM787 984l-2 2-2 8-4 4 0 2 2 2 0 4 4 1 5-1-1-2-1-2-3 0-1-2 0-4 3-3 0-3 2-2 0-3zM965 1038l0 2-2 2 0 6 1-4 1-2zM353 1050l-2 2 0 2 2 3 1-5 0-2zM295 1052l-2 3 6 0 3-3zM185 1054l-2 3 4-1 2 3 3-5-3 0zM272 1060l-3 3 1 3-4 6 1 3 5-1-1-6 4-8zM437 1062l-2 4 0 5 2-3 0-6zM159 1064l-8 6 0 3 2-2 11-5 0-2zM501 1108l2 2 0-2zM265 1112l-2 2 0 5 6 2 4 4 2 0 3 1-2-6-5-1-3-3-1-2zM365 1146l-2 2-3 0 1 2-2 2 11 0 1-2 0-2-4-2z"/><path fill="#0000d4" d="M749 970l6 0 4 4 2 0 2 2 6 2 6 4 20 0 6 6 6 2 4 4 2 0 8 8 2 0 2 2 6 0 6-4 4 0 2-2 8 0 2-2 4 0 2-2 6 0 2 2 14 0 2-2 8 0 2-2 10 0 18 18 2 0 2 2 12 0 2-2 2 0 4-4 4 0 2 2 2 0 8 8 2 0 6 4 14 0 2 2 18 0 0 136-854 0 0-108 4 0 6 4 2-2 2 0 6-6 10 0 2 2 14 0 2 2 4 0 2 2 2-2 2 0 8-8 2 0 2 2 4 0 4 4 14 0 2-2 12 0 2 2 14 0 2-2 6 0 2-2 22 0 2 2 12 0 2 2 16 0 2-2 2 0 6-4 2 0 4-4 2 0 2-2 4 0 2 2 2-2 8 0 2-2 4 0 2-2 2 0 14-14 12 0 2-2 4 0 2 2 2 0 2 2 2 0 2 2 6 2 14 14 20 0 2 2 4 0 2 2 8 0 2 2 20 0 2 2 8 0 2-2 10 0 10-10 0-2 6-4 8 0 2-2 20 0 4-4 10 0 2-2 6 0 10-6 6 0 12-12 0-2 4-4 0-2 2-2 2 0 2-2 4 0 2-2 18 0 2 2 4 0 2 2 10 0 2-2 2 0 8-8 20 0 2 2 12 0 2-2 4 0 4-4 2 0 2-2 4 0 6-4 6 0zM787 984l-9 16 3 4-1 2 5 3 3-1 2-2-1-2-4-2-1-4 6-10 0-4zM775 1006l0 3 3-3zM559 1038l0 3 3-1zM965 1038l-2 4-1 6 1 1 3-7 0-4zM353 1050l-2 2 0 5 2 0 2-6zM188 1052l-3 1-2 3 0 2 4-1 2 2 3-3 1-1-2-2zM294 1052l-2 2 1 2 6-1 3-3-3-1zM171 1054l-1 2 4 0 1-2zM439 1058l-4 6 0 7 2-3 1-6 2-2 0-2zM259 1060l-1 2 1 3 3-5zM271 1060l-2 2-1 6-3 4 4 4 3-2 0-6 4-8-1-1zM159 1064l-4 3-4 2-1 1 1 4 2-2 11-6 1-2-2 0-4-1zM531 1068l-2 6 0 3 2-1zM469 1070l-2 5 3-3-1-3zM307 1074l-4 2 2 2 2-1zM278 1078l1 4 1-2 0-2-1 0zM244 1080l1 2 8 0-4-2zM501 1108l1 2 2 0-1-3zM263 1112l-1 4 1 3 6 2 4 4 2 0 2 2 3-1-3-6-6-2-6-6zM340 1144l-2 2 1 2 3-2-1-3zM357 1146l1 2-1 2-5 0 1 3 10 1 6-1 2 2 3-1-2-2-1-4-4-3-6 3-2-2zM347 1148l-2 2 5 0-1-2z"/><path fill="#0000ff" d="M749 970l6 0 4 4 2 0 2 2 6 2 6 4 20 0 6 6 6 2 4 4 2 0 8 8 2 0 2 2 6 0 6-4 4 0 2-2 8 0 2-2 4 0 2-2 6 0 2 2 14 0 2-2 8 0 2-2 10 0 18 18 2 0 2 2 12 0 2-2 2 0 4-4 4 0 2 2 2 0 8 8 2 0 6 4 14 0 2 2 18 0 0 136-639 0 2-2-2-2 5-1 2 2 4-1-4-7-4-3-6 3-2-2-2 0-2 3-4 2-4-4-3 4 7 1 2 2 8 1 2 0 0 4-214 0 0-87 2 3 4-3 10-5 0-2-6-1-1 1-5 4-2-2-2 4 0-20 4 0 6 4 2-2 2 0 6-6 10 0 2 2 14 0 2 2 4 0 2 2 2-2 2 0 8-8 2 0 2 2 4 0 4 4 14 0 2-2 12 0 2 2 14 0 2-2 6 0 2-2 22 0 2 2 12 0 2 2 16 0 2-2 2 0 6-4 2 0 4-4 2 0 2-2 4 0 2 2 2-2 8 0 2-2 4 0 2-2 2 0 14-14 12 0 2-2 4 0 2 2 2 0 2 2 2 0 2 2 6 2 14 14 20 0 2 2 4 0 2 2 8 0 2 2 20 0 2 2 8 0 2-2 10 0 10-10 0-2 6-4 8 0 2-2 20 0 4-4 10 0 2-2 6 0 10-6 6 0 12-12 0-2 4-4 0-2 2-2 2 0 2-2 4 0 2-2 18 0 2 2 4 0 2 2 10 0 2-2 2 0 8-8 20 0 2 2 12 0 2-2 4 0 4-4 2 0 2-2 4 0 6-4 6 0zM787 984l-9 16 2 4-1 2 4 3 4 0 2-1 1-4-1-2-4-1-1-3 4-6 2-6-1-2zM775 1006l0 3 4-3-2 0zM914 1016l0 2 1 2 0-4zM559 1038l0 4 2-1 2 2 1-1 0-2-5-2zM965 1038l-3 10 1 1 3-11-1-1zM352 1050l-2 2 1 5 2 0 2-7zM185 1052l-2 4-1 2 1 1 4-1 2 2 4-3 2-3-4-2zM294 1052l-3 2 2 2 6 0 4-4-2-1-2 0zM170 1054l0 2 3 1 2-1 0-2zM275 1058l-6 4 0 4-4 6 3 4 1 1 3-3 0-6 3-6zM439 1058l-4 6-1 6 1 2 3-4 3-10zM259 1060l-1 2 1 3 2-2 1-3-1 0zM257 1068l-1 2 1 1 1-1zM469 1068l-2 4 0 4 3-4zM531 1068l-2 4 0 6 3-2 0-6zM306 1074l-3 2 2 2 3-2 0-2zM278 1078l1 4 2-2 0-2-2-1zM243 1080l2 3 9-1-2-2zM465 1090l0 3 1-3zM502 1106l-4 12 1 2 3-8 3-2-1-4zM267 1110l-6 2 0 4 2 3 2 0 2 2 2 0 4 4 2 0 2 2 4-1-3-6-9-4zM341 1142l-4 4 1 2 2 0 2-2 1-4zM673 1148l0 3 2 1 0-3z"/><path fill="#002bff" d="M749 970l6 0 4 4 2 0 2 2 6 2 6 4 20 0 6 6 6 2 4 4 2 0 8 8 2 0 2 2 6 0 6-4 4 0 2-2 8 0 2-2 4 0 2-2 6 0 2 2 14 0 2-2 8 0 2-2 10 0 18 18 2 0 2 2 12 0 2-2 2 0 4-4 4 0 2 2 2 0 8 8 2 0 6 4 14 0 2 2 18 0 0 136-638 0 2-2-1-2 3 0 2 1 6-1-6-8-4-2-6 2-2-2-2 0-4 5-2 0-4-3-2 2-1 2 1 1 6 0 2 2 9 1-1 4-212 0 0-79 2-3-2 0 0-4 2 4 3-4 11-5 1-3-7-2-1 2-5 4-2-2-2 4 0-20 4 0 6 4 2-2 2 0 6-6 10 0 2 2 14 0 2 2 4 0 2 2 2-2 2 0 8-8 2 0 2 2 4 0 4 4 14 0 2-2 12 0 2 2 14 0 2-2 6 0 2-2 22 0 2 2 12 0 2 2 16 0 2-2 2 0 6-4 2 0 4-4 2 0 2-2 4 0 2 2 2-2 8 0 2-2 4 0 2-2 2 0 14-14 12 0 2-2 4 0 2 2 2 0 2 2 2 0 2 2 6 2 14 14 20 0 2 2 4 0 2 2 8 0 2 2 20 0 2 2 8 0 2-2 10 0 10-10 0-2 6-4 8 0 2-2 20 0 4-4 10 0 2-2 6 0 10-6 6 0 12-12 0-2 4-4 0-2 2-2 2 0 2-2 4 0 2-2 18 0 2 2 4 0 2 2 10 0 2-2 2 0 8-8 20 0 2 2 12 0 2-2 4 0 4-4 2 0 2-2 4 0 6-4 6 0zM786 984l-9 16 0 2 3 2-1 1-4 1-1 2 1 2 4-3 4 2 8 0-2-6-4-2-1-3 6-12-1-2zM688 990l1 2 2-2-2-1zM792 1010l1 2 1-2-1 0zM913 1016l0 2 2 3 0-6zM635 1022l0 4 1-4-1 0zM608 1024l1 2 0-3zM697 1024l0 2 3-2-1-1zM966 1036l-1 1-2 4-2 8 3-1 3-12zM558 1038l1 4 2-1 2 2 2-3-6-2zM297 1050l-6 4 2 3 6-1 3-2 2-2-2-2zM349 1050l2 7 2 0 3-5-1-3-4 2-2-2zM935 1050l0 2 3-2zM185 1052l-4 6 2 2 4-1 2 1 4-1 3-5-5-3-4 0zM170 1054l-1 2 2 1 5-1 0-2-1 0zM586 1056l0 2 1 1 0-4zM275 1058l-7 4 0 4-4 6 3 5 2 0 4-3 0-6 3-8-1-3zM439 1058l-5 8 0 4 1 3 3-5 3-10-2-1zM258 1060l-1 2 2 3 2-1 1-4-1-1zM861 1062l-4 7 2-1 2-2zM285 1066l0 3 2-3zM255 1068l0 2 2 2 1-2 0-2zM469 1068l-3 4 1 5 3-5 0-4zM521 1068l0 3 1-3-1-1zM531 1068l-2 6 0 6 2-1 1-3 0-8-1 0zM547 1070l-4 7 0 3 2-2 0-4 2-1 0-4zM305 1074l-3 2 1 2 2 1 3-3-1-2zM277 1078l2 5 3-3-3-3zM241 1080l2 2 2 1 6 0 4-1-2-2-6 0zM467 1088l-2 2-1 2 1 2 3-6-1-1zM501 1106l-3 12 1 3 4-9 2-2 0-4-2 0zM266 1110l-7 2 0 2 4 6 2 0 2 1 2 0 4 4 2 0 2 2 2 0 2 2 2 0 3 1-1-2-4-2-2-6-10-5-1-3 0-2zM755 1132l-4 6 2 1 3-5 0-2zM343 1140l-4 3-4 1 3 4 4 0 2-6 0-2zM673 1148l0 6 3-4-1-2zM387 1152l-1 2 3 0 0-3z"/><path fill="#0055ff" d="M749 970l6 0 4 4 2 0 2 2 6 2 6 4 20 0 6 6 6 2 4 4 2 0 8 8 2 0 2 2 6 0 6-4 4 0 2-2 8 0 2-2 4 0 2-2 6 0 2 2 14 0 2-2 8 0 2-2 10 0 18 18 2 0 2 2 12 0 2-2 2 0 4-4 4 0 2 2 2 0 8 8 2 0 6 4 14 0 2 2 18 0 0 136-637 0 2-2 0-2 1 0 2 2 8-2-4-6-2 0-2-3-4-2-4 2-6-1-2 3-2 1-6-3-4 3 0 2 2 1 6 0 2 2 9 1-2 4-211 0 0-78 5-8 9-4 3-2 0-2-1-1-6-1-2 2-4 3-2-2-2 4 0-19 4 0 6 4 2-2 2 0 6-6 10 0 2 2 14 0 2 2 4 0 2 2 2-2 2 0 8-8 2 0 2 2 4 0 4 4 14 0 2-2 12 0 2 2 14 0 2-2 6 0 2-2 22 0 2 2 12 0 2 2 16 0 2-2 2 0 6-4 2 0 4-4 2 0 2-2 4 0 2 2 2-2 8 0 2-2 4 0 2-2 2 0 14-14 12 0 2-2 4 0 2 2 2 0 2 2 2 0 2 2 6 2 14 14 20 0 2 2 4 0 2 2 8 0 2 2 20 0 2 2 8 0 2-2 10 0 10-10 0-2 6-4 8 0 2-2 20 0 4-4 10 0 2-2 6 0 10-6 6 0 12-12 0-2 4-4 0-2 2-2 2 0 2-2 4 0 2-2 18 0 2 2 4 0 2 2 10 0 2-2 2 0 8-8 20 0 2 2 12 0 2-2 4 0 4-4 2 0 2-2 4 0 6-4 6 0zM786 984l-9 15 0 5 2 0-4 1-1 3 1 2 2-1 4-1 10 2 2 3 2-3-3-2-2-6-5-1-1-3 7-11 0-3-2-1zM688 990l-1 2 2 0 2-2-2-1zM806 997l1 1 1-2-1-1zM817 1002l-1 2 1 2 1-2zM915 1014l-2 2 0 3 2 2 1-5zM883 1016l0 4 4-4zM609 1022l-2 6 0 1 3-5 0-2zM634 1022l-1 4 0 4 4-8-2-1zM699 1022l-4 2 0 3 4-1 2-4zM734 1022l-1 4 2 2 0-7zM965 1036l-4 12 0 2 2-1 3-5 1-9zM558 1038l1 4-2 3 2 0 1-3 1 0 2 1 3-3-7-2zM349 1048l0 4 2 4 0 2 2 0 3-6 0-4-1 0-4 3zM188 1050l-3 1-4 7 0 2 12 0 4-4-1-4zM296 1050l-5 4 2 3 8-1 5-6-3 0zM934 1050l1 2 2 0 1-2-1-1zM588 1052l-3 6 2 1 2-5 0-3zM169 1054l-1 2 3 2 2 0 4-2 0-2-2-1zM275 1056l-1 2-6 4-1 2 1 2-4 6 3 5 2 0 4-3-1-4 4-8 0-4-1-3zM438 1058l-3 5-1 5-1 2 2 3 3-5 4-10-1-1-2 0zM258 1060l-1 2 2 3 2-1 2-4-2-1zM860 1062l-4 6 1 3 4-4 2-5-2 0zM523 1064l-2 2-1 4 1 1 3-5 0-2zM284 1066l1 3 3-3zM217 1068l0 3 2-3zM255 1068l0 2 2 2 2-2-2-2zM468 1068l-2 4 1 5 3-3 1-4-2-2zM530 1068l-2 8 1 5 2-1 2-8-1-4-1-1zM547 1068l-6 13 2 0 2-3 3-8zM305 1074l-3 2 0 2 3 1 4-3 0-2-2-1zM273 1076l2 1 4 6 3-3-3-4zM241 1080l1 2 3 1 6 1 5-2-2-2-3 0-4-1zM225 1082l2 3 2-1-2-2-2-1zM231 1086l2 3 2-1zM275 1086l0 5 1-3zM467 1086l-2 4-2 6 2-2 3-6 0-2zM939 1090l2 2 1-2-1-1zM500 1106l-3 12 0 6 2-1 4-10 3-3-1-5zM623 1108l-1 4 1 1 2-3 0-3zM265 1110l-8 2 1 2 5 6 2 0 2 2 2 0 4 4 10 3 2 2 2 0 3 1-1-2-2-1-2-2-4-3-4-6-8-3-2-6zM749 1126l-2 2 0 9 2-11zM756 1130l-4 6-1 4 3-2 3-4 1-4-1 0zM301 1136l2 2 4 0-6-3zM235 1138l-3 6 0 2 1 2 1-6 2-2 0-2zM320 1140l-1 2-5 0 3 1 2 2 3-1 0-4zM341 1140l-7 4 3 4 6 0 1-8-1-1zM672 1148l0 6 1 3 4-7-2-2-2-1zM265 1150l0 4 1-4-1-1zM388 1150l-2 4 10 0-5-1 0-3-2 0z"/><path fill="#0080ff" d="M749 970l6 0 4 4 2 0 2 2 6 2 6 4 20 0 6 6 6 2 4 4 2 0 8 8 2 0 2 2 6 0 6-4 4 0 2-2 8 0 2-2 4 0 2-2 6 0 2 2 14 0 2-2 8 0 2-2 10 0 18 18 2 0 2 2 12 0 2-2 2 0 4-4 4 0 2 2 2 0 8 8 2 0 6 4 14 0 2 2 18 0 0 136-637 0 3-4 2 2 28-2-2-1-4-1-2-3-2 0-4 3-6-1-7-7-5-2-4 3-6-2-2 4-2 1-2-4-5 0-1 2 0-6-2-2-4 4-6 2 0 5 2-1 6 1 4 2 6 0 2 2 6 1 2 0-2 4-96 0 3-6 1-2-2-2-2 6 0 4-114 0 0-78 5-8 9-3 3-3 1-2-2-2-6-1-6 6-2-2-2 3 0-18 4 0 6 4 2-2 2 0 6-6 10 0 2 2 14 0 2 2 4 0 2 2 2-2 2 0 8-8 2 0 2 2 4 0 4 4 14 0 2-2 12 0 2 2 14 0 2-2 6 0 2-2 22 0 2 2 12 0 2 2 16 0 2-2 2 0 6-4 2 0 4-4 2 0 2-2 4 0 2 2 2-2 8 0 2-2 4 0 2-2 2 0 14-14 12 0 2-2 4 0 2 2 2 0 2 2 2 0 2 2 6 2 14 14 20 0 2 2 4 0 2 2 8 0 2 2 20 0 2 2 8 0 2-2 10 0 10-10 0-2 6-4 8 0 2-2 20 0 4-4 10 0 2-2 6 0 10-6 6 0 12-12 0-2 4-4 0-2 2-2 2 0 2-2 4 0 2-2 18 0 2 2 4 0 2 2 10 0 2-2 2 0 8-8 20 0 2 2 12 0 2-2 4 0 4-4 2 0 2-2 4 0 6-4 6 0zM786 984l-4 9-3 1-2 6 0 4-2 1-1 3 1 2 2-1 4 0 8 1 4 3 2-1 0-2-3-2-1-4 3-2-1-1-2 1-4 0-2-4 5-10 1-4-2-1zM688 990l-3 2 4 1 2-3-2-1zM805 996l-1 2 1 1 2 0 2-3-2-1zM817 1002l-2 2 2 2 1-2-1-2zM641 1008l2 3 2 0-2-3zM914 1014l-1 2 0 2 2 3 1-5-1-2zM883 1016l-2 4 2 1 2-1 3-4-1-1zM611 1020l-4 6-1 2 1 2 4-8 0-2zM635 1020l-3 6 0 4 1 1 4-9 0-3zM735 1020l-2 4 0 6 2-1 1-3 1-6zM801 1020l0 6 2-1 1-5-1-1zM697 1022l-2 2-1 2 1 2 4-2 4-4zM825 1022l-2 4 0 4 3-6-1-2zM761 1032l-1 4 1 1 1-3zM967 1034l-2 2-2 6-2 6 0 3 2-1 3-6 2-6zM558 1038l-1 8 3-2 1-2 2 2 3-4-7-3zM303 1048l-8 2-4 4 2 4 8-2 3-2 2-4zM349 1048l0 4 2 6 2 0 2-4 1-6-1-1 0 1-4 2-2-2zM619 1048l-1 2 1 2 0-5zM186 1050l-5 8 0 2 6 0 10 2 2-6-1-4-7-2-4-1zM589 1050l-4 6 0 4 2 0 5-10-1-1zM934 1050l1 3 2-1 1-2-1-1zM167 1054l1 2 5 2 7-2-3-3-8 0zM275 1054l-2 4-6 4-1 2 2 2-4 6 3 5 4-1 4 2 2 4 2 1 3-3-1-2-2-2-6-2 0-2 4-14-1-4-1 0zM440 1056l-5 6-2 6 0 4 2 2 4-6 3-10-1-2zM260 1058l-2 2-1 2 2 4 3-2 1-4-2-2zM232 1062l1 1 0-2zM859 1062l-4 6 0 3 2 1 5-6 2-4-1-1zM523 1064l-4 6 2 2 4-8-2-1zM284 1066l0 2 1 1 3-1 1-2-2-1zM217 1068l0 3 3-3zM254 1068l0 2 1 2 3 0 1-2-2-3zM468 1068l-3 4 1 4 1 1 3-3 1-4-2-3zM530 1068l-2 8 1 7 3-5 1-8 0-2-2-1zM547 1068l-6 12 0 2 2 0 3-4 3-8 0-2zM293 1074l0 2 2 2 2 0 2-2zM304 1074l-4 2 1 1 0 1 4 1 4-3 0-2-2-1zM240 1080l2 2 7 2 8-2-2-2-8-1zM225 1082l2 3 2 0-1-3-3-1zM471 1082l-2 3 2-1zM230 1086l1 3 4 1 0-2-2-2zM275 1086l-1 4 1 1 2-3 0-2zM467 1086l-4 8 0 2 6-8 0-2zM942 1086l-4 4 1 4 3-2 2-4 0-2zM393 1090l-3 4-1 5 0-3 2 0 3-6-1 0zM238 1092l3 2 1-2-3-1zM631 1094l-4 8 0 3 4-7 1-4zM543 1098l-2 2 0 5 3-3-1-5zM504 1104l-4 2-3 12 0 8 2-2 4-11 3-3 1-6-2 0zM625 1106l-4 6 0 3 5-5 0-4-1 0zM821 1108l-4 5 0 2 2 1 2-3 0-5zM933 1108l2 2 0-2-2-1zM264 1110l-7 2 0 3 4 3 2 3 2-1 2 2 2 0 4 4 10 3 6 4 3-1-2-4-3 0-6-5-3-5-9-4 0-4-2-1zM609 1116l0 13 2-5-1-4 1-2zM749 1122l-2 6 0 11 3-11zM755 1130l-4 6-1 4 4-2 3-4 2-4-2-1zM155 1132l-2 4 0 6 3-6zM297 1132l1 2 4 4 3 1 2 2 4 0 2 2 4 0 2 2 4-1 0-4-2-1-2 1-6-1zM236 1136l-4 6-1 7 2 0 4-9 1-4-1 0zM890 1142l2 4 3 3 2 0-4-5zM999 1144l-1 2 1 1 1-3-1 0zM671 1148l0 6 0 3 2 1 2-2 2-6-2-3-2 0z"/><path fill="#00aaff" d="M749 970l6 0 4 4 2 0 2 2 6 2 6 4 20 0 6 6 6 2 4 4 2 0 8 8 2 0 2 2 6 0 6-4 4 0 2-2 8 0 2-2 4 0 2-2 6 0 2 2 14 0 2-2 8 0 2-2 10 0 18 18 2 0 2 2 12 0 2-2 2 0 4-4 4 0 2 2 2 0 8 8 2 0 6 4 14 0 2 2 18 0 0 136-328 0 3-8-3-3-2-1-2 2-1 4 0 4 2 2-305 0 2-3 2 1 31-2-3-3-6 0-2-3-2 0-4 3-4-1-14-9-4 3-6-1-4 4-1-5 1 0 0-3-2 3-6 2 1-8-3-1-4 6-6 2-1 1 1 4 8 1 4 3 6 0 2 2 7 0-2 4-94 0 3-8-2-3-3 5 0 6-113 0 0-77 6-9 8-3 4-3 0-2-2-2-8-2-3 6-3-1-2 3 0-18 4 0 6 4 2-2 2 0 6-6 10 0 2 2 4 0-2 6-3 4 1 3 10 0 8 2 6 4 2-1-8-6 0-2 2-4-4-4-8-2 6 0 2 2 4 0 2 2 2-2 2 0 8-8 2 0 2 2 4 0 4 4 14 0 2-2 12 0 2 2 14 0 2-2 6 0 2-2 22 0 2 2 12 0 2 2 16 0 2-2 2 0 6-4 2 0 4-4 2 0 2-2 4 0 2 2 2-2 8 0 2-2 4 0 2-2 2 0 14-14 12 0 2-2 4 0 2 2 2 0 2 2 2 0 2 2 6 2 14 14 20 0 2 2 4 0 2 2 8 0 2 2 20 0 2 2 8 0 2-2 10 0 10-10 0-2 6-4 8 0 2-2 20 0 4-4 10 0 2-2 6 0 10-6 6 0 12-12 0-2 4-4 0-2 2-2 2 0 2-2 4 0 2-2 18 0 2 2 4 0 2 2 10 0 2-2 2 0 8-8 20 0 2 2 12 0 2-2 4 0 4-4 2 0 2-2 4 0 6-4 6 0zM786 984l-5 8-2 1-3 11-3 4 2 3 2-2 4 0 6 1 6 3 3-1-1-2-2-2-1-2 0-2 2-2 0-2-3 2-4-1-2-3 5-8 2-6-3-1zM687 990l-3 2 5 1 3-3-3-1zM803 996l0 3 2 0 2 0 2-3-2-1zM683 1000l3 2-1-2-2 0zM816 1002l-1 2 2 3 2-3 0-2-2-1zM687 1004l0 2 2 0 0-3-2 0zM695 1006l-2 2 0 2 5-2 3-2-4 0zM641 1008l2 3 2 0-1-3zM886 1012l0 2-3 2-2 6 4-1 3-5-1-5zM637 1014l0 4-2 1-3 5-2 6 1 1 2 1 4-8 1-8zM913 1015l-1 1 1 2 2 3 1-7-1-1zM736 1018l-4 6 1 7 2-1 2-4 1-8-1 0zM611 1020l-5 8 1 2 5-8-1-3zM801 1020l0 6 2 4 2 0 2-2 0-3-2-1-2-5-2 0zM696 1022l-3 4 2 3 5-3 4-4-3-1zM825 1022l-2 6-2 2 0 2 2-1 3-7-1-3zM761 1030l-2 6 0 5 2-3 2-4zM803 1032l0 3 2 2 0-4-2-1zM966 1034l-6 14 1 4 3-4 4-10-1-5zM591 1036l0 2 1-2-1-1zM557 1038l0 9 4-3 0-2 2 2 3-4-1-1-6-2zM941 1040l-2 4 0 4 2-4zM569 1042l-1 2 1 1 1-1-1-2zM355 1046l-2 3-4-1-1 0 0 4 3 6 2 0 3-4 1-6-1-2zM619 1046l-2 4 0 7 3-7zM302 1048l-7 2-4 2-1 2 1 2 4 2 6-1 4-3 2-4-4-2zM931 1048l2 1 2 5 3-2 0-4-3 1-4-2zM218 1050l1 3 2-3zM589 1050l-4 6-2 8 5-6 4-8-1-1zM164 1052l0 2 2 2 7 2 7-2-3-4zM874 1052l-1 3 2 0 1-3zM275 1054l-2 4-6 4-1 2 1 2-4 6 4 5 4 0 4 1 2 2 0 6 1-2 5-4-3-4-7-4 1-4 4-10-1-4-2-1zM441 1054l-6 8-3 8 1 7 6-9 3-10zM535 1056l0 3 2 0 2-3zM259 1058l-2 4 2 4 3-2 2-4-3-3zM232 1060l-2 2 5 3-2-5zM383 1060l-1 2 1 1 3-3zM861 1060l-5 4-1 4 0 4 4-1 4-7 2-4-2-1zM151 1062l0 2 2-2-2 0zM524 1062l-5 8 0 4 5-6 1-7zM287 1064l-3 2 0 2 1 1 4-1 0-2zM531 1066l-2 4-1 6 1 8 2-2 2-6 0-8zM549 1066l-2 2-7 12 1 3 2-1 3-4 3-8zM571 1066l0 5 2-5-2 0zM216 1068l1 3 3-3zM254 1068l0 2 1 2 4 0 0-2-2-3zM468 1068l-3 4 1 4 1 2 3-4 1-4 0-2-2-1zM225 1070l6 4 1-2-3-2zM292 1074l0 2 3 2 10 1 7-5-5-1-6 3-8-2zM600 1074l1 3 4-1-2-2-2 0zM235 1076l2 2 1-2-3-1zM225 1080l0 4 4 2 2 3 2 2 4-1-2-2zM239 1081l2 2 8 1 10-2-4-2-8-1zM286 1082l1 2 2 1 2-1zM311 1082l-7 4 3 1 11-5-3-1zM471 1082l-5 4-2 4-2 4 1 3 4-5 2-6 3-2 0-2zM429 1084l-3 6 1 3 3-7-1-3zM945 1084l-7 6 1 5 3-3 3-6zM274 1086l0 4 1 2 2-3 0-2-2-1zM394 1088l-5 6-2 6 0 3 6-9 2-4 0-3zM238 1092l1 2 3 0 1-2-4-1zM505 1092l-2 3 0 2 2-1 2-4zM633 1092l-3 2-9 16-1 4 1 2 5-6 2-6 5-10zM543 1096l-2 4-2 7 2 0 3-5 1-6-2-1zM458 1102l1 3 5 1-3-2zM503 1104l-4 2-3 14 1 7 2-2 4-11 3-4 1-7-2 0zM821 1106l-4 6-1 2 1 2-4 2 0 4 2 1 2-5 4-4 1-6zM931 1106l2 4 4 2 1-2-3-2-2-2zM267 1108l-10 3 0 1 0 3 5 3 1 9 2-7 2 2 2 0 4 4 10 3 6 4 2 0 2 2 2 0 6 4 4 0 2 2 4 0 2 2 4 0 2 2 4 0 2 2 4-1-2 0-1-2-3 0 0-7 0 1-4 1-6-2-4-1-14-5-8-5-7-8-11-5 0-3zM474 1112l1 2 3-2-1 0zM611 1112l0 2-2 2-2 4 2 13 2-7zM572 1120l-3 1-1 1 1 2 3 0 3-4-2 0zM749 1120l-2 6-1 10 1 5 4 0 7-7 1-6-2 0-2 2-5 6-1 4-1-2 2-16zM154 1132l-2 8 1 3 3-9-1-3zM234 1136l-3 6 0 8 2 0 5-10 1-4-2-1zM259 1136l0 2 0 2 2-4zM487 1136l0 2-2 1 0 1 0 1 2-2 1-3zM885 1140l2 2 2 1 5 5 4 2-1-2-6-6-6-3zM998 1144l-1 5 2-1 1-4-1-1z"/><path fill="#00d5ff" d="M749 970l6 0 4 4 2 0 2 2 6 2 6 4 20 0 6 6 6 2 4 4 2 0 8 8 2 0 2 2 6 0 6-4 4 0 2-2 8 0 2-2 4 0 2-2 6 0 2 2 14 0 2-2 8 0 2-2 10 0 18 18 2 0 2 2 12 0 2-2 2 0 4-4 4 0 2 2 2 0 8 8 2 0 6 4 14 0 2 2 18 0 0 87-2 1-1 4 1 2 2 0 0 42-102 0 0-3-2 3-223 0 0-4 3-2-4-6-3 0-2 2-1 6 1 4-303 0 2-2 8-1 24 0 2 2 1-1 0-2-3-5-2-1-4 2-4-4-6 4-2 0-16-9-4 2-4-1-4 1-2 3 0-2 2-2-2-4-2 0-3 4-3 1 1-5 1-2-2-2-2 0-2 1-2 5-7 2-1 4-4 0-3-4-1-2 2-2 0-3-2 1-1 2-2 0-5-2-6-1-16-6-6-4-6-7-12-5 0-8-4 4-8 1-1 2 1 3 4 3 0 2 1 10 1 1 2-4 2 0 2 1 3-2 3 0 2 2 2 0 6 3 2 0 2 3 2-1 2 2 2 0 6 4 4 0 2 2 4 0 2 2 4 0 2 2 4 0 2 2 6 0 2 2 8 0 4 3 6 0 2 2 6 0-1 4-93 0 2-6 0-4-4-4-1-4 1-6-2-3-4 7-2-4-3 4 1 3 4 0 4 1-4 6 2 2-2 2-6 0 0 4 3 2-105 0 0-77 6-9 8-2 4-4 1-2-3-3-8-2-2 3-2-2-2 1 0 3-2 3 0-17 4 0 2 2 2 0 7 4 9 3 6-1 2 3 10 0 6 2 10 6 4 0 1-1-3 0-7-6-2-2 0-2 3-2 4 0 2-2-4-3 2-1 8-8 2 0 2 2 4 0 4 4 14 0 2-2 12 0 2 2 14 0 2-2 6 0 2-2 22 0 2 2 12 0 2 2 16 0 2-2 2 0 6-4 2 0 4-4 2 0 2-2 4 0 2 2 2-2 8 0 2-2 4 0 2-2 2 0 14-14 12 0 2-2 4 0 2 2 2 0 2 2 2 0 2 2 6 2 14 14 20 0 2 2 4 0 2 2 8 0 2 2 20 0 2 2 8 0 2-2 10 0 10-10 0-2 6-4 8 0 2-2 20 0 4-4 10 0 2-2 6 0 10-6 6 0 12-12 0-2 4-4 0-2 2-2 2 0 2-2 4 0 2-2 18 0 2 2 4 0 2 2 10 0 2-2 2 0 8-8 20 0 2 2 12 0 2-2 4 0 4-4 2 0 2-2 4 0 6-4 6 0zM751 976l-1 4 1 1 3-5zM786 984l-5 8-2 0-4 12-3 4 3 3 2-1 8 0 8 4 2-1 2 2 2 0-7-9 2-4 0-2-7 1-2-3 7-12-1-2-2-1zM689 988l-5 4 3 2 2-1 3-3-3-2zM803 994l0 6 4-1 2-3-4-3zM743 996l0 2 2-1 0-1-2-1zM681 998l6 9 2-1 1-4-3 0-4-4zM817 1000l-2 4 0 3 2 0 2-5zM709 1002l-2 4 0 3 3-7-1 0zM741 1002l0 4 2-4zM694 1006l-1 2 0 3 6-2 3-3-3-1zM640 1008l3 4 2 0 1-2-1-2-4-1zM887 1010l-5 6-1 4 0 3 4-1 3-6 1-6zM637 1012l-4 11-6 1 1 2 1 2 0 2 2 2 2 0 5-10 2-8zM913 1014l-1 2 1 4 2 1 1-1 1-6-2-1zM735 1018l-4 6 0 6 2 3 3-3 2-8-1-5zM801 1018l-1 6 1 4 0 2 1 8-1 2 2 3 0-3 3-4 0-6 2-4-1-2-2-1-2-6-2 0zM610 1020l-4 8 1 2 5-8-1-3zM696 1022l-3 2 0 2 2 3 6-3 3-4-1-1zM824 1022l-2 6-2 2 0 2 1 1 5-9 1-2-2-1zM835 1022l2 1 1-1-3-1zM869 1028l-2 9 2-3 1-6zM761 1030l-3 6 1 6 4-8-2-5zM387 1032l1 2 3 1-2-3zM770 1032l-1 3 2 0 3-3-1-1zM590 1034l-1 4 2 1 2-2 0-2-2-1zM966 1034l-3 6-4 13 3-1 4-8 2-6-1-5zM557 1038l-1 6 1 4 4-4 4-2 1-2-1-1-6-2zM941 1040l-3 6-3 2-8-4 6 7 2 3 4-2 0-3 3-5-1-5zM568 1042l0 2 1 2 2-2-2-3zM355 1046l-2 3-4-2-1 1 0 4 2 2 1 5 2-1 3-4 1-8zM619 1046l-2 4 0 7 3-7 0-4-1 0zM216 1048l-1 2 1 2 3 2 3-4 0-2zM301 1048l-4 1-4 2-2 1-2 4-7 0 9 1 4 2 6-2 4-3 2-4-4-2zM591 1048l-7 8-1 4-1 4 1 1 5-7 4-8zM232 1052l1 4 2-2 0-2-2-1zM260 1052l0 2 1 2 2-3 3-1zM275 1052l-3 6-6 4-1 2 2 2-4 6-2 0-4-5-2 0-3 3 3 3 8 0 4 5 4-1 4 2 2 3-1 2-2 2-1 4 2 2 2-2 1-6 3-1 4 0 4 3 2 0 1-2-7-2-4-6-8-3 1-5 1-3 2-1 0-5 2-1-2-2 0-3zM873 1052l0 4 3-2 1-2-2-1zM236 1054l5 3 5-1-7-3-2 0zM375 1054l2 4 3-4zM441 1054l-6 8-3 8-1 4 2 5 6-11 4-10-1-4-1-1zM781 1054l-2 4 2 1 0-6zM534 1056l0 2 1 2 4-2 1-2-3 0zM259 1058l-2 2 0 2 2 4 4-2 0-3 2-1-4-3zM805 1058l-3 6 1 1 3-5-1-3zM863 1058l-6 5-2-1-1 2-1 2 2 8 4-2 5-8 2-6zM212 1060l5 0-4-1zM229 1060l0 2 6 3 1-1-3-5zM383 1060l-2 2 2 1 4-3-4 0zM525 1060l-6 10 0 5 5-7 2-6 0-2zM286 1064l-3 2 0 2 6 2 1-4-3-2zM573 1064l-2 1-1 1 1 6 3-4 0-2zM777 1064l-3 4 1 2 3-4 0-2zM531 1066l-3 4-1 6 1 6 1 3 3-5 2-10-1-2-2-2zM549 1066l-2 2-7 12 0 2 1 2 5-4 3-10 1-4-1 0zM216 1068l0 2 1 1 3-1 1-2-2 0zM467 1068l-3 4 1 4 2 2 4-4 1-4-1-2-2-1zM224 1070l3 1 4 4 2 0 2 3 3 0 0-2-3-2-2 0-2-4-4 0zM247 1070l2 2 2-2zM617 1070l-2 2 2 1zM290 1072l2 4 5 3 8 1 9-6-7-2-6 4-2 0-6-2-2-3zM599 1074l2 4 4 0 1-2-5-3-2 0zM246 1078l-7 1 0 1 2 3 8 2 12-3-8-3zM224 1080l1 5 4 2 4 4 4 1 2 3 2 1 3-2-1-2-6-2-12-10zM316 1080l-13 6 4 1 12-5-1-2zM430 1080l-1 1-4 11 0 2 0 3 2-3 5-12-1-2zM470 1082l-4 4-3 6-1 4 1 1 3-3 7-12-2 0zM943 1084l-4 4-4-2-2 0 4 4 0 4 2 2 7-10-1-3zM395 1086l-4 4-4 8-2 6 0 4 2-2 8-15 1-5zM589 1088l0 6 1-6zM634 1088l-13 22-2 7 2 0 3-3 10-22 3-4-2-1zM504 1092l-2 4 1 3 2-2 3-5-3 0zM543 1094l-4 10-1 4 1 3 1-3 1 0 4-6 1-6zM156 1096l-1 9 2-2 2-7zM423 1098l-4 4 2 1 1-1 2-4-1-1zM341 1100l-2 2 0 3 3-3zM457 1102l0 2 3 2 5 2 0-2-4-4-4-1zM505 1102l-6 4-3 16 1 6 2-2 5-12 1-1 3-1-1-4 1-4-1-2zM821 1104l-5 8-1 4-2 2-2 4 2 2 2 0 2-2 1-4 4-6 1-4zM931 1104l-1 2 1 3 4 3 4 1-2-5zM953 1106l-1 2 1 2 2-4zM477 1110l-4 2 0 2 2 2 2-1 1-3zM610 1112l-3 8 1 6-1 7 2 1 3-8 1-10 0-4-2-1zM569 1120l-1 4 1 1 4-1 3-4-3-1zM749 1120l-3 6-1 8 1 6 1 2 2 1 6-5 3-4 2-6-1-1-2 1-6 7-1-1 2-14-1 0zM886 1124l-1 6 2 2 2-8-2-1zM899 1124l0 5 2-3zM355 1128l0 3 2-1zM154 1130l-1 2-2 10 2 1 4-9-2-5zM236 1134l-6 6 0 2 0 4 1 5 2 0 4-7 3-10-3-1zM486 1136l-2 4 1 2 2-2 1-4-1-1zM883 1138l0 2 6 4 4 5 4 2 2-1-2-3-6-6-6-3zM1001 1140l-4 6-2 6 5-6 2-6zM544 1154l4 2-3-3zM169 1046l10 0 2 2 0 3 2-2 0 4-2 4-2-3 0-2-8 0-3-2-1-1z"/><path fill="#00ffff" d="M749 970l6 0 4 4 2 0 2 2 6 2 6 4 13 0-3 3-4 7-3 0-3 12-2 4-2 0 4 3 2-1 4 0 6 0 4 2 0 3 4-2 2 3 2 0 1-2-8-8 3-4-1-2-1 0-6 1-2-3 7-12 0-2-2-2 5 0 6 6 6 2 4 4 2 0 8 8 2 0 2 2 6 0 6-4 4 0 2-2 8 0 2-2 4 0 2-2 6 0 2 2 14 0 2-2 8 0 2-2 10 0 18 18 2 0 2 2 12 0 2-2 2 0 4-4 4 0 2 2 2 0 8 8 2 0 6 4 14 0 2 2 18 0 0 83-4 9 2 5 2-2 0 19-4 6-4 8 0 3 5-5 3-8 0 18-61 0-1-1-1 1-38 0 1-4-2-1-3 5-201 0-6-1-4 1-11 0 1-4 3-2-5-7-4 1-2 6 0 6-72 0 5-8-1-1-6 9-45 0-5-6-2 0 0 2 5 4-180 0 3-2 6-1 24 0 2 2 4-1 1-4-1-1-2 0-2-5-4 0-4 2-2-4-2 0-4 4-6 0-6-5-14-7 3 4-1 1-8 1-2-4-2-1-4 5 0-4 1-2-1-3-2-1-2 0-2 2-2 4-8 4 0 2-2 1-5-3 0-2 2-2-1-5-4 5-4-1-1-3-5 1-16-7-8-4-2-4-8-4-7-4 0-6-1-2-3 4-9 2-1 2 1 4 2 0 2 12-1 4-3 2-2-1-2 3-4 0-2 2 0 2 2 1 2-2 2 3 6 0-3 4 2 4-5 1-2-1-2 4 0 4-100 0 0-76 6-8 0-2 8-2 4-3 1-3-5-6 2 0 8 1 6-1 2 3 10 1 6 2 10 5 6 0 2-1-6-1-6-5-2-2 0-2 4-1 4 0 2 1 0 2 2 1 4 0-4-5-5-6 1-1 2 2 2 0 2 2 4 1 6-8-3-2 1 0 4 4-2 3 0 3 4 0 2 2 1 2-6 2 2 2 7 4 1-2-2-6 1-2 12 5 5-3-7-4-4-1-2-2-9-3 11 0 2-2 12 0 2 2 14 0 2-2 6 0 2-2 22 0 2 2 12 0 2 2 16 0 2-2 2 0 6-4 2 0 4-4 2 0 2-2 4 0 2 2 2-2 8 0 2-2 4 0 2-2 2 0 14-14 12 0 2-2 4 0 2 2 2 0 2 2 2 0 2 2 6 2 14 14 20 0 2 2 4 0 2 2 8 0 2 2 20 0 2 2 8 0 2-2 10 0 10-10 0-2 6-4 8 0 2-2 20 0 4-4 10 0 2-2 6 0 10-6 6 0 12-12 0-2 4-4 0-2 2-2 2 0 2-2 4 0 2-2 18 0 2 2 4 0 2 2 10 0 2-2 2 0 8-8 20 0 2 2 12 0 2-2 4 0 4-4 2 0 2-2 4 0 6-4 6 0zM751 976l-2 4 0 3 4-3 2-4-2-1zM688 988l-5 4 0 3 2-2 4 1 2-2 1-2-1-1-2-2zM805 992l-2 2-2 7 6-1 3-4 0-2-5-2zM744 994l-2 2 1 3 3-3-1-3zM681 998l6 9 3-1 0-2-1-2-2 0-4-4zM711 998l-5 8 1 4 5-10zM817 1000l-3 4 1 4 2-1 2-3 0-2-2-2zM649 1002l0 1 2-1-2-1zM740 1002l1 5 3-3-1-2-2 0zM892 1002l1 2 3 0-3-3zM697 1004l-4 3-1 1 1 3 6-2 3-3-2-2zM639 1006l3 4 3 2 1-2-1-1zM654 1006l1 2 1-2-1-1zM889 1006l-9 15 1 3 2-2 2 0 2-3 2 0 2-1-2 0-1-4 3-6zM733 1010l-4 2 2 2 4-3 4 0-2-2zM636 1012l-3 10-6 2 0 5 4 6 4-5 6-16-2-2-2-1zM914 1012l-2 4 1 5 2 0 2-1 0-6-2-2zM737 1016l-6 8 0 8 2 2 2-1 3-9 1-6-2-2zM801 1016l-2 11-2 0-2 7 0 2 4-5 2 5-1 4 3 4 4-8-1-4 3-8-4-2-2-6zM611 1018l-4 6-2 7 2 0 3-5 2-4zM701 1020l-6 2-2 2 1 4-1 2-2-2 0 2 2 1 8-4 4-5-1-2zM825 1020l-3 8-3 4-1 2 1 2 6-8 2-8zM833 1020l8 7 3-1-8-6-3 0zM905 1022l-1 4 1 1 1-3 0-2zM775 1024l0 4 1-2 3-2-2-1zM589 1028l-1 10 1 3 2-1 3-2 0-4-4-2zM761 1028l-3 8-1 9 3-3 4-8-3-7zM773 1028l-3 4-2 4-3 0 2 4 7-8 0-2 1-2zM869 1028l-2 6 0 6-3 2 1 2 6-1 1-3-3 0-1-2 2-4 1-7-2 0zM386 1032l1 2 2 3 4-1-4-4zM785 1032l0 2 0 1 1-1zM861 1032l2 2 3-2-3-1zM967 1032l-4 8-4 12 0 1 3-1 4-8 2-8zM557 1036l-1 10 1 3 2-3 7-4 0-2-1-2zM941 1038l-3 8-3 2-10-6 3 4 5 5 2 5 4-3 0-3 3-6 1-6-2 0zM569 1040l-2 4 2 2 3-2zM355 1046l-2 3-4-2-2 3 0 3 3 1 0 4 1 1 4-1 1-4 1-9zM618 1046l-2 4 0 6 1 2 2-4 2-6 0-2-2-1zM297 1048l-6 4-2 4-7 0 1 1 8 1 4 3 8-5 4-4 0-2-4-3-2 0zM415 1048l0 3 1-1zM580 1048l-5 3 4 1 4-4-2-1zM590 1048l-6 8-3 9 0 3 7-8 4-10-1-2zM782 1048l-4 10 2 2 2 0 1-2 1-10-1 0zM251 1050l9 6-4 4 1 4-1 2-5 4-2-1-4 1-6-4-1 0 1 3 10 4 2-1 4 1 6 0 6 5 4-1 4 2 2 3-3 4-1 3-2-1-1 2 1 1 4 1 2-1 1-5 3-3 10 3 1-2-9-4-2-4-7-4 1-6 4-2-2 0 0-4 3-2-2-2-1-7-5 9-3 3-4-1-3-4 3-3 3-1-1-2-2 1-10-2zM370 1050l7 8 1 0 1-2 0-2-8-4zM797 1050l-4 8 0 2 4-6 1-4-1 0zM876 1050l-4 2 1 5 4-3 1-4-1-1zM412 1052l1 2 1-2-1-1zM441 1052l-7 10-3 10 0 7-2-1-5 16-6 8 0 2 1 2 5-4 6-12 3-10 7-12 4-16-1-1zM807 1054l0 2 2-2-2-1zM534 1056l-1 2 2 3 4-2 1-3-3-1zM805 1056l-4 8 0 5 6-11 0-2zM388 1058l-1 2-4-1-2 4 2 1 11-6zM861 1058l-4 5-2-4-2 5 2 11 7-7 5-10-2-1zM503 1060l-3 2 1 2 5-4zM525 1060l-6 10-1 4 1 1 3-3 4-8 1-4-2 0zM886 1060l1 1 1-1-1-1zM286 1064l-4 2-1 2 8 2 2 6 4 3 10 1 10-6-2-1-5-1-1-4 0 2-1 2-5 4-2-1-7-3-3-8-2-1zM571 1064l-1 6 1 4 3-8-1-3zM775 1064l-2 4 0 6-2 2 0 3 4-5-1-2 5-6 0-2-2-1-2 0zM469 1066l-4 3-2 3 1 4 3 3 3-3 2-6-1-3zM530 1066l-2 4-2 6 1 6 2 4 4-6 1-10-1-4-2-1zM548 1066l-7 12-2 4 0 3 4-1 4-4 3-10-1-5zM215 1068l1 2 1 2 4-2 0-1 1 1 5 1 4 4 2 0 8 8 10 2 11-3-9-3-14-1-1-2-5-2-2-3-2-1-8-2-2-1zM615 1068l0 6 2 3 2-7-2-3zM711 1068l0 4 1-4zM597 1072l1 2-1 4 12 0-6-5-6-2zM683 1072l-4 4 0 4 3-2 2-4 0-2zM218 1078l1 2 4 1 2 4 4 2 4 4 3 1 3 4 2 0 4-2-1-2-7-2-12-10zM315 1080l-16 8 8 0 14-6-2-2zM472 1080l-8 8-2 4-1 7 5-5 4-8 3-2 1-4zM782 1080l1 2 0-3zM637 1082l-1 2-3 3-7 15-6 8-1 6 0 2 2 0 5-6 3-8 9-16 1-6-2 0zM944 1082l-5 5-4-1-2-1 0 1 4 4 0 8 4-4 5-8 0-4-1 0zM394 1086l-5 7-4 7-1 6 0 2 1 2 2-2 8-16 2-6-2-1zM589 1088l-1 4 1 4 3-6-1-2-2-1zM656 1088l1 3 2-3-2 0zM256 1092l-1 2 4 1 3-1-1-2zM504 1092l-2 4 0 2 1 2 5-6-1-3-2 0zM159 1094l-4 2 1 4-2 4 1 2 3-2 2-8zM282 1094l7 2 6 1 2 1 1-2-13-3zM542 1094l-6 14 5 8 1-2-1-4 5-8 0-4-1-3-2-1zM234 1098l-6 4 1 5 6 1 4-4 0-2 1-2-1-3-4 0zM342 1098l-4 4-3 7 2 0 4-5 3-6-1 0zM436 1098l-1 1 0 2 2-1 0-2zM455 1100l1 4 3 3 6 3 2-2-6-6zM504 1102l-3 3-2 0-1 3-3 14 1 4 1 3 3-3 4-12 1-1 2 1 1-2-1-4 1-6-1-1-2 0zM820 1104l-5 8-5 10 1 3 2 1 4-4 1-4 5-6 0-4-2-5zM930 1104l-1 2 4 5 6 3 2-2-8-7-2-1zM955 1104l-3 2-2 4 1 2 3-2 2-4 0-2-1-1zM246 1110l1 2 0-3zM476 1110l-7 4 2 2 4 1 2-1 1-6-1-1zM611 1110l-5 10 1 6 0 6 0 5 2-3 3-6 2-12-1-6-2 0zM545 1116l-1 2 1 2 4 4 0-4zM573 1118l-6 2-1 6 7-1 3-3 0-2-1-2zM595 1118l-2 4 0 4 3-6zM751 1118l-3 2-3 12 0 12 2 2 9-8 4-10-1-2-2 1-6 7 0-8 1-6-1-2zM889 1120l-4 4-1 4 1 6 2 0 3-10 0-4zM481 1122l0 3 1-3zM531 1122l0 4 1-4zM898 1124l-2 6 1 3 4-4 1-3-1-3-2 0zM966 1124l3 0-2-1zM154 1128l-2 4-1 10 0 3 2-1 4-10 0-4-2-2zM355 1128l-1 2 1 2 2 0 0-3zM235 1130l-4 2-1 2 2 4-3 2 0 4 2 11 3-1 1-6 3-2 1-8 2-3 2 1 2-2-4-2zM487 1134l-4 5 2 4 3-3 1-4zM880 1138l4 4 5 3 4 4 6 3 0-5 3-1 1-2-4 2-2 0-12-9zM501 1140l2 0 0-1zM811 1144l0 3 2-1 2 2 4-1-6-4zM822 1148l1 3 2 0 0-3zM413 1150l0 2-3 2 1 2 2-3zM215 1042l2 0 2 2-4 2-1-2zM173 1048l4-1 2 1 0 2-7 0 0-2zM151 1054l2 1 2 0 4 3-4 2-2-1-2 1 0 4-2 2 0-13zM181 1053l1 1-1 2-1-2zM263 1062l2 0-1 2 2 2-3 5-2 1-3-6 5-2zM277 1128l2 0 2 2 2 0 2 2 2 0 2 2 2 0 2 2 2-1 2 2 8 2 2 2 4 0 2 2 4 0 2 3 4-1 2 3 6-1 2 3 8-1 4 3 6 0 2 2 6 0-2 4-91 0 2-8-1-4-2-2-1-8 0-4 1-2 6 1z"/><path fill="#2affd5" d="M749 970l6 0 4 4 2 0 2 2 6 2 6 4 12 0-5 6-1 4-2-1-1 1 0 2-3 9-2 4-2 1 2 4 4-2 8 0 5 2 1 5 2-3 2 0 4 3 0 5-3 4-2 8 1 3 4-3 1 2-3 2 3 4 3 3 5-11-1-2 2-10-4-1-2-6-2 0-8-7-1-2 3-6-2-1-4 2-2-1-1-2 7-12-2-4 4 0 6 6 6 2 4 4 2 0 8 8 2 0 2 2 6 0 6-4 4 0 2-2 8 0 2-2 4 0 2-2 6 0 2 2 14 0 2-2 8 0 2-2 10 0 18 18 2 0 2 2 12 0 2-2 2 0 4-4 4 0 2 2 2 0 8 8 2 0 6 4 14 0 2 2 18 0 0 79 0 3-5 10 2 6 1 1 2-3 0 18-5 6-5 12 2 0 5-6 3-7 0 17-61 0 0-2 2-2-1-1-2 1 0 2-2 2-37 0 2-6 2-2-1-1-2 1-2 1-1-3 3-1 2-3-4-1-4 2-10-9 3-4 1-6-1-6-1-1-3 1-2 4 1 10-2 2-3 0-1 2 4 5 6 2 6 7 4 1 1 1-2 4-200 0-1-4-4 3-6-1-2 2-8 0 0-3 4-1 0-2-2-2-2-6-2 0-5 2-2 4 0 8-70 0 6-10-1-2-5 4-4 8-43 0-4-5-4-3 0 4 1 2 3 2-178 0 3-2 5 0 24-1 2 2 9-1 2-2 0-4-1 0-4 3-4-8-4-2-4 1-2 2-2-6-6 7-2 1-4-1-6-5-6-2-8-5-1 5-3 2-2-1-2-4-2-1-2 1-1-5-1-1-2 0-2 0-6 7-6 3-2 4-5-3 0-2 3-2 1-8-1-1-6 8-2-1-2-2-6 0-18-7-2-3-4-1-2-5-7-2-7-4-1-4 3-10-2 0-2 6-4 4-6 0-2 1-2 3 3 4 1 8-2 2 0 4-4 5-6 1-2-5-2-1-10-1-4 3 0 4-2 2 0 4 3 12 1 2 2 0 1-2 1-4 4-2 0-8 2-3 2 2 2-1 2 3 4-1 4 4 0 2 1 2-1 2-4 0-4 8-98 0 0-25 2-1-2 0 0-50 6-4-1-2 1 0 4-3 6-1 4-8-4-4 0-2 8 1 6-1 2 3 6 0 8 3 12 5 8 2 2 1 4-1 4 0 8 4 8 9 10 1 12-3-10-3-13-1-9-8-4-2-6 0-2-1-4 1-4-1-8-5-2-2 1-2 3-1 4 1 2 3 2 1 4-1 0-5 6-6 1 0 1 5 5 1 0 2-9 2 0 1 4 1 10 4 2-2-2-4 0-3 8 2 6 4 0-3 8-5 1 1 0 2-3 2 2 4-2 2-4 3-6 1-6-4-2 0 2 3 4 3 2-1 4 2 12 0 6 5 4 0 4 2 1 2-1 2-2 4-2-1-2 3 0 3 2-1 2 1 5-3 0-4 3-3 10 4 1-1 1-2-10-4-2-4-6-4-1-2 1-4 6 0-1 2 1 1 7 1 3 6 4 3 10 1 4-3 8-3-1-2-1 0-6 0-1-6-3-1-1 1 2 4-1 2-4 3-2 0-6-3-2-4-1-4-3-1-4 2-6-4 4-3 4 0 5 0 5 3 11-7 2-4-3-2-4-2-8 4-4 5-6 0-4 2-1-5 0-4-1-1-6 11-2 1-2-1-2 1-2-3 2-2 4-2 1-2-1-2 2 0 2-2 6 0 2-2 22 0 2 2 12 0 2 2 16 0 2-2 2 0 6-4 2 0 4-4 2 0 2-2 4 0 2 2 2-2 8 0 2-2 4 0 2-2 2 0 14-14 12 0 2-2 4 0 2 2 2 0 2 2 2 0 2 2 6 2 14 14 20 0 2 2 4 0 2 2 8 0 2 2 20 0 2 2 8 0 2-2 10 0 10-10 0-2 6-4 8 0 2-2 20 0 4-4 10 0 2-2 6 0 10-6 6 0 12-12 0-2 4-4 0-2 2-2 2 0 2-2 4 0 2-2 18 0 2 2 4 0 2 2 10 0 2-2 2 0 8-8 20 0 2 2 12 0 2-2 4 0 4-4 2 0 2-2 4 0 6-4 6 0zM753 974l-2 1-2 3-1 4 1 1 4-3 3-4-1-1zM689 986l-6 6 0 3 2-1 2 1 2-1 4-4-2-3zM713 986l0 2 6 0-4-2zM745 992l-3 4 1 4 3-2 0-2 0-4zM804 992l-2 6-1 2 0 2 6-2 4-6-6-3zM681 998l0 2 4 4 2 3 3-1 0-4-1 0-2-1-4-4zM711 998l-5 8-1 4 0 2 2-1 3-5 2-6 0-2-1 0zM647 1000l2 4 2-1 0-1-2-2zM816 1000l-2 4 1 5 2-1 3-6-3-3zM892 1000l1 4 2 2 2-2-1-2-3-2zM740 1002l0 4 1 3 3-5 0-2-1-1-2 0zM655 1004l-1 2 1 2 2-2-1-2zM696 1004l-3 2-1 2 1 4 6-2 4-4-2-2-4 0zM639 1006l2 4-4 0-2 3-2 8-6 3 0 7 4 5 4-6 7-18 3 0 1-2-1-2zM889 1006l-9 14 1 5 4-1 2-5 4 3 2-2-5-6 4-6-3-3zM732 1010l-3 1-2 3 4 0 4-2 4 0 1-2-3-1-4 0zM911 1010l-1 2 1 4 2 5 2 0 2-1 0-6-2-3zM772 1014l1 2 2-2-2-1zM613 1016l-6 8-2 4 0 5 3-3 4-8 2-4-1-3zM736 1016l-5 6-1 4 0 6 3 3 3-1 3-10 0-8-2-1zM871 1018l0 6-2 2-2 4-4 1-2 1 2 2 2 0 1 0 0 6-3 2-1 2 1 1 2 0 6-2 2-3-5-2 2-2 2-8-1-11zM677 1020l-1 6 1 2 1-6-1-3zM699 1021l-4 1-3 2 0 2-5 6 10-2 4-2 5-6-1-2zM744 1020l1 3 4-1 1-2-5-1zM783 1020l-2 2-2-1-5 3-7 11-2-1-3-8-1 0-3 6-2 12 1 2 2-2 4-8 6 5 1-1 0-2 1-2 4-2 0-4 2-4 4-3 3-1-1-2zM825 1020l-3 8-7 10 0 3 6-6 4-7 3-8-3-1zM832 1020l9 7 2 1 1-2-9-6-2-1zM904 1022l-1 4 2 2 2-2 0-4-2-1zM989 1026l0 5 2-5zM588 1028l0 12 1 2 2-1 3-3 1-4-4-2-2-5zM787 1028l-3 4 0 2 1 2 4-6zM385 1032l4 6 4 0 1-2-1-2-4-3-2 0zM564 1032l1 2 3-2-3 0zM966 1032l-8 20 1 2 3-2 5-8 2-10-2-3zM943 1034l-2 3-4 9-2 1-8-5-2 0 2 5 6 5 0 4 2 1 1-3 3 0 1-2 0-2 2-4 2-8zM555 1036l1 4 0 6 1 3 8-6 4 3 2 0 1-2-3-5-2 3-2-5-4 0-2-1zM709 1036l-1 2 1 3 1-3zM782 1038l-1 6 1-4 1 0 2-2-2-1zM357 1044l-4 4-4-2-1 2-1 4 2 2 0 5 2 1 5-2 2-10zM621 1044l-2 1-3 3 0 8 1 3 3-5zM790 1044l-7 1-2 1-1 4-3 8 2 4 4-2 0-1 2-9 8-2 2-2-1-2zM889 1044l2 3 1-1-1-2zM585 1046l-4 1-6 3-1 2 5 1 6-5 1-2zM593 1046l-4 3-4 5-5 14 1 1 7-9zM414 1048l0 2-2 2 1 3 4-5 0-2-2-1zM443 1048l0 2-7 8-5 12-8 24-5 8-1 2 2 2 5-4 6-12 5-14 5-8 3-10 0-3 2-3zM877 1048l-6 4 1 4 1 2 3-2 1-2 1-4 0-2zM370 1050l6 8 1 1 3-3 0-2-5-3-4-2zM796 1050l-3 6-2 0 2 5 5-7 1-4-2-1zM809 1050l-4 5-4 9-1 4 1 1 9-15-1-4zM537 1054l-4 2-1 2 3 4 4-2 2-4zM393 1056l-8 3-2-1-2 3 0 3 4 0 2-2 9-4 1-2zM864 1056l-5 4-2-3-2 0 0 1-3 6 3 12 5-4 5-6 2-6 4 1 1-1-1-1-2 1zM335 1058l0 1 3-1-1-1zM626 1058l1 3 1-3-1-1zM885 1058l-4 2 0 3 4-1 2 1 2 0 0-6zM502 1060l-4 4 3 0 6-4-2 0zM524 1060l-6 10 0 4 1 2 4-4 4-8 0-4-2-1zM366 1062l1 2 1 0 1-2-2-1zM541 1062l2 1 5-1-1-1zM573 1062l-2 2-2 4 0 4 2 3 4-9-1-4-1 0zM657 1062l0 2-3 2 1 2 3-4 0-2zM773 1062l-2 6 1 6-2 2 1 5 4-4 3-1-3-4 5-6-1-3-4-1zM615 1064l-1 8 1 6 4-2 1-6-2-2-1-3zM468 1066l-3 2-3 4 2 6 3 2 4-4 1-4-1-5-2-1zM530 1066l-2 2-2 8 1 8 2 3 5-9 0-8-1-4-2-1zM548 1066l-10 16 1 4 7-2-1 4 0 3 3-3 1-2-2-4 3-16-1-1zM829 1066l-5 4-2 8 1 1 6-11zM387 1068l0 3 3-3-1-1zM710 1068l1 6 2-6-2-1zM397 1070l0 2 3-2-1-1zM594 1070l4 4-3 4-1 0 16 2 0-2-3-3-6-4-6-2zM653 1070l2 2 1-2-1-1zM901 1070l-3 2 3 2 1-2zM681 1072l-3 4-1 5 2 1 4-5 2-5-2-1zM755 1072l-1 2 1 3 1-3 0-2zM165 1076l0 8 0-8zM941 1076l-5 6 0 2-5 0 5 6 0 8 1 2 5-6 5-10 0-2-2-1-4 3-1-2 2-4zM217 1078l2 2 4 1 2 4 12 9-6 6-4 0 0 7 2 2 8 1 6 8 4-3 2-7-2-2-2-2-2 0-2-6 1-2 4-2 0-2-9-3-12-10-4-1zM647 1078l-3 2 1 2 3-2 0-2zM781 1078l0 3 4 2-2-6zM955 1078l-1 4 1 2 3-6-3-1zM314 1080l-16 8 7 1 17-7-1-2-2 0zM472 1080l-8 8-4 8 0 2 1 2 6-6 4-8 4-4 0-2-2-1zM591 1080l0 2 3-2-1-1zM633 1080l-2 2 2 4-1 2-13 24-1 4 1 3 2-1 6-6 2-8 11-20-1-3-2-1-1 0-1 2-1-2zM708 1080l-2 4 1 4 3-6-1-2zM397 1082l-8 10-4 8-3 6 2 4 1 1 3-3 8-16 2-6zM691 1082l2 1 1-1-3-1zM591 1084l-3 4-1 4 2 5 6-5 0-2-3-4-1-3zM619 1084l4 3 2-1-3-2zM659 1086l-4 2 1 2-2 2 1 3 3-3 2-4-1-3zM850 1088l-2 4 1 1 2 0 1-3-1-2zM255 1092l-1 2 5 2 5-2-3-2zM279 1092l6 5 8 1 2 3 3-3 1-2-2-1-11-3zM504 1092l-3 6 0 2 2 2-2 3-4-1 1 2-2 4-2 14 2 4 1 1 3-3 5-12 4 3 1-3-2-4 1-10-3-2 3-4-1-2-1-1-2 0zM155 1094l-2 4 2 9 3-3 3-8-2-3-2 1zM542 1094l-7 14 6 8 2 1 4 6 4 3-1-6-7-6-1-4 3-6 8 9 2-1 0-2-4-4-2 0-3-4 1-4-2-4-2-1zM685 1094l-1 4 1 1 3-5-1-1zM343 1096l-5 4-3 8 0 2 3 0 4-6 3-8zM437 1096l-3 4 1 3 3-3 0-4zM747 1099l3-1-1-1zM845 1098l-2 3 2-1 0-3zM454 1100l2 4 5 5 4 2 3-1 0-2-7-7-4-2-2 0zM595 1100l0 4 3 0 0-2zM165 1102l-1 4 1 2 3-6-3-1zM819 1102l-2 4-2 0-1 8-4 6-1 7 4 0 2-1 3-4 1-4 3-4 2-4-1-6-2-3zM955 1102l-5 6-1 4 0 3 5-5 3-5 1 5 1 2 2-4 7-6-5 1-2-1-4 2-2-3zM290 1104l0 2 1 2 4-2-2-3zM929 1104l0 2 4 6 6 3 3-1-2-4-5-5-4-2-2 0zM611 1108l-5 8-1 8 1 2 0 8 1 4 5-10 2-12 0-8-1-1zM474 1110l-3 1-3 3 1 4 6 0 2-1 2-7-2-1zM768 1110l5 5 2-1-4-4-2-1zM330 1114l1 2 3-2-1-1zM575 1114l0 2-2 2-6 0-2 9 2 1 6-2 3-4 1-3 1-1 0-4-1-1zM717 1114l-1 2 1 1 0-4zM981 1114l-2 2 0 4 3-2 0-2 0-2zM583 1116l2 2 3-2-3-1zM595 1116l-4 10 0 3 4-3 2-4 1-6zM751 1116l-3 4-4 10 1 19 1-3 11-8 4-10 0-2-2-1-2 1-6 8 0-8 2-4 0-4zM879 1116l-2 6 2 3 2-5 1-4-1-1zM151 1118l-1 2 3 2 1-2-1-3zM532 1120l-2 2 0 4-2 2 0 2 1 1 5-9-1-3zM799 1120l2 3 2 1 1-2-3-2-2 0zM307 1122l-1 2 3 2 2 0 0-2zM480 1122l0 2 1 2 2-3 2-1-4-1zM899 1122l-3 2 0 6 1 4 2 1 3-3 1-8-2-3zM966 1122l-3 5 6-2 2-3-2-1zM154 1126l-3 6 0 4-1 4 0 4 1 2 2-2 5-10 0-4-2-4zM449 1126l0 6 2-4-2-3zM518 1126l2 4 3 2 1-2-5-4zM711 1126l-2 2 2 1 1-3zM354 1128l0 2 1 2 2 1 1-5-3 0zM488 1128l-1 2-1 4-3 3-2-2-3 1 7 8 4-4 1-10 0-2-1 0zM797 1132l0 4 13 8 0 4 1 2 2-2 2 1 2-1 4 1 2 3 2 0 2-6-2-1-1 1-3 1-4-4-8-2-6-5zM428 1136l3 3 2-1-4-3zM423 1138l2 2 2-2-2-1zM503 1138l-3 2 1 2 3-2 1-2zM495 1142l0 1 4-1-2 0zM243 1144l-1 2 1 2 2 1 0-3-2-2zM453 1144l-2 1 0 1 2 3 1-3zM835 1144l0 3 0-4zM659 1150l0 3 4 2 1-1-5-4zM243 1047l6 0 1 1-3 4-6 0-1-2 0-2zM151 1057l2 1-2 2-2 6 0-9zM259 1066l4 0 3 0-3 5-2 0-2-3zM939 1084l1 0-1 3 0-3zM259 1126l0 6-1-2zM279 1128l6 4 2 0 2 2 2 0 0 2 4-1 2 2 2 0 2 2 4 1 2 1 4 1 2 2 4 0 2 2 4-1 2 3 6-1 2 3 8-1 4 3 6 0 2 2 5 0-2 4-90 0 3-8-3-16zM347 1138l1 0-1 3z"/><path fill="#55ffaa" d="M749 970l6 0 4 4 2 0 2 2 6 2 6 4 12 0-5 6-1 3-4-1-4-4-1 0 1 2 4 4 1 2-5 13-3 1 0 4 5 5 1-1-2-4 3-2 8 0 5 2 0 4 1 2 4-4 2 2-2 2 0 3 2 2 0 2-2-1-4 4-2 1-2-1-8 4-2 0-1-2 3-5 6-2-2-6-2 3-2 0-6 4-4-2-4 4-4 0-2 0 0 3-2 0-1 1 0 2-6 8 1 9 8 0 1-5 3-6 8 5 2-1 0-3 5 3-1 4 3 2 0 2-3 6-1 2 1 2-2 1-2-2-4 1-5 6 2 2 0 2 1 1 2-1 2 0 0 4-2 2-6 0-4-2-4-3-3 3 1 2 6 3 4 3 2 6 2-2 4 1 4-8 4 1 2 4 2-1 2 1 1-2-2-6-4 0-4-4 4-6 0-4 3-2 2-8 4-3 2 1-2 6-2 7 1 1 1 1 2-1 8-10 0-2 0-4-2-2 0-2-2-2 2-1 4 5 2 0 6-12-1-4 1-3 3-3-1-2-2-2-4 0-2-5-2 0-8-7-1-2 3-6-4-1-2 2-2-1 0-4 2-3 4 3 0-6-2 2 0-2 2-4-1-4 3 0 6 6 2 0 2 2-2 2-1 6-2 2 1 2 4 2 7-10 1 0 5 5-1 0-3 3 0 4 1 3 2-1 3-4 0-3 5 3 6 0 6-4 4 0 2-2 8 0 2-2 4 0 2-2 6 0 2 2 14 0 2-2 8 0 2-2 10 0 18 18 2 0 2 2 12 0 2-2 2 0 4-4 4 0 2 2 2 0 8 8 2 0 6 4 14 0 2 2 18 0 0 70-5 2-1 2 1 2 3 1 1 3-3 9-2 0 0 1 2 10 4 1 0 12-4 6-2 1-5 12 1 2 2-1 3-3 3-4 2-7 0 17-60 0 1-4-1-2-3 2 0 2-3 2-23 0 0-2-3 0-2-2-4 1 1-5-1-4 1-2-6-4-9-10 2 0 4 6 6 0 2-8-2-8-2 0-4 3-6-1-2-4-3-2-1-6-4 0-4 5-7 3 5 4 2 4 4-1 1 1 2 8-3 2-4-2 1 4 5 6 6 2 2 2 0 5 8 1-3 4-21 0-2-1-1 1-62 0 4-6 0-2 3-1 4 2 2 2 2 0 4-9-4-2-4 4-2-1 0-5-3-2-5-8 1-2 4-2 3-4 1-4 2-2 3-6-1-6-1-4-2 0-2 0-5 6-2 4 1 4-2 2-2-2-4 0-3 4-3 0-1 0 1 4 0 6-1 2-3 2 0 4-1-2 1-2-3-4-1-4-4 8-1 4 1 5 2 2 6-1 4 2-1 2-3 2 6 10-103 0 1-4-2-1-2 2-1-1-1-2-2 3-2-3-2 2-1-2-1-4-6 2-2-8-10 5-8-1 0 2-3 2 1 6 2 2-35 0 3-4 1-4 0-4-3-3-2 4-4 2-2 4 0 5-19 0 6-10 2-6 6-12 3-16 1-2-3-6-6 4-1 2 0 2-3 3-4 1 0-4-2 0-4 3-1-1-1-2-4 0-1-2 2-2-3-4 4 1 1-3 3-3 1 3 3 2 4 5 2 1 1-2-7-9-3-3 2-8-1-2-2-2-1-4 3-2 12 1 2 1 4-2 6-1 6 1 4-1 4-11 2-1 5-9-7-1-4 0-4-6-1 5 1 5 2 2 2-2 2 1 2 6-6 6-2-3-6-2-2-8-2 2-2 4-2-1-2 6-2 2-2 0-3-4 1-1 0-7-4 0-2 2 0 2-4 1-6-1-1-2 3-4 4-14-5 2-4 6-5 13-2-2-2 1 0-4-2-1-5 7 0 4 3 3 4-8 3 1 1 4 4-5 2 1 0 4 4-2 2 0 6 4-2 3-5 3 0 2-4 10-1 8-2 0-4 2-5 4-1 6 1 4-9 2 1 4-2 4 3 3 6-3 4-6 14-1-2 7 1 4 1 2 4-4 3 0 2-2-3 0 0-2 2-3 5-1 0-2 1 0-1 6 1 5-4 1 0 2 4 3 2 3-4 2-4-4-2 0 0 4-5 6-1 3-2 1-2-1 0 1 2 6 2 2 2-1 1 1-42 0-4-6-5-2-1 0 0 4 3 5-82-1-4 0-4 0-86 0 2 0 2-2 4 0 24 0 2 2 16-2-2-2-2 0 0-6-4 3-1-1-4-8-5-2-6 2-2-5-4 7-2 3-2-1-4-1-6-4-6-2-8-4 0 3-4 3-2-1-1-6-3 0-4-4-4 0-4 2-3 4-6 4-1 4-4-1 0-3 2-2 0-2 3-8-1-3-8 11-2-3-8 0-4-2-2-2-10-3-4-3-3-1-3-5-8-2-6-5 0-2 3-8 0-6 3-2 8 5 8 2 1 1-1 2-8 2 6 5 6-3-2-4 2-2 5-2-1-2-4-2-18-3-1-5 3-3 8 3 4 0 0-2-10-5-2-3-6-4-1-2 1-4 4 2 2 2 6 1 3 5 5 4 10 0 4-3 9-3 0-2-1 0-6 0-2-2 0-4-4-2-1 2 1 6-4 3-2 0-6-3-2-4 0-4-3-2-1-3 0 3-4 3-4-5 6-2 6 2 2 2 2 0 10-6 2-2 1-4-5-5-3-1 3 0 2 2 12 0 2 2 16 0 2-2 2 0 6-4 2 0 4-4 2 0 2-2 4 0 2 2 2-2 8 0 2-2 4 0 2-2 2 0 14-14 12 0 2-2 4 0 2 2 2 0 2 2 2 0 2 2 6 2 14 14 20 0 2 2 4 0 2 2 8 0 2 2 20 0 2 2 8 0 2-2 10 0 10-10 0-2 6-4 8 0 2-2 20 0 4-4 10 0 2-2 6 0 10-6 6 0 12-12 0-2 4-4 0-2 2-2 2 0 2-2 4 0 2-2 18 0 2 2 4 0 2 2 10 0 2-2 2 0 8-8 20 0 2 2 12 0 2-2 4 0 4-4 2 0 2-2 4 0 6-4 6 0zM750 974l-2 8 1 2 6-4 2-4-2-2zM769 982l-2 4 0 5 3-4 1-3zM691 984l-8 8-1 2 1 2 2-2 2 3 5-5 2-6-3-2zM721 984l-4 2-4-1-1 1 1 4 6-1 3-3zM750 988l1 2 1-2-1-1zM746 990l-4 4 1 6-4 0-6-6 0-2-6 6 0 2 2 2-2 2-2-2-4 8 0 9 2 4 2 1 7-10 3-2 2 2-6 8-1 4-1 6 4 4 4 0 2-14 8 8-4 1 0 1 0 5 6-5 0-2-1-2 0-2 3-6-6-2-5-6 4-4-1-2 2-2-2-4 3-2 2-6 0-2zM713 994l0 3 0-4zM680 998l0 2 5 5 2 3 4-2 0-4-2-1-2 0-4-4zM710 998l-6 12 1 3 2-2 5-9 0-4-1-1zM766 998l-3 2 3 0 2-2zM647 1000l2 4 2 0 1-2-3-2zM891 1000l0 3-2 1-1 4-8 10-1 6 2 2 4-1 2-5 4 2 2 0 0-4-4-4 2-3 2 0 2 4 6-1 2 2-2 2 0 2 2 10 2-1 4 1 3-6-8-8 3-11-6-3-4 1-4-4zM695 1002l-3 6 1 4 7-2 3-4-2-3zM653 1005l2 3 2 2 1-2-1-4zM638 1006l1 3-4 3-2 8-4 1-3 5 1 6 4 4 4-4 7-20 3 1 1-3-1-2-6-2zM671 1006l2 1 0-2zM910 1010l-2 2 1 2 2 3 2 4 2 1 2-2 0-8-4-3-2 0zM802 1012l1 2 0-3zM611 1014l0 3-6 11 0 5 4-5 5-12 3-2-2-1zM846 1014l-1 4 0 5 4 3 8 2 1-2-5-8-2 0-2 2-1-2-1-4zM863 1014l5 0-3 0zM871 1016l-4 13-4 0-2 3 2 3 2-1 1 4 0 2-4 2-1 2 6 2 0 2 4 4 0 4-2 2-2-2-4 0-4 3 0-5-2-4-2 0-3 2 4 2-3 6-2 2 3 12 1 2 6-4 8-1 2 2 4-3 6-2 4 1 1-3 4-4 0-2 2-4-2-2 1-2-2-2-8 0-1 10-1 2-2-1-4 0 0-3 2 0 2 1 1-1 2-10-1-2-6 4-3-2 0-4 3-4-4-2 2-2 0-4 2-4-1-12-1 0zM623 1018l2 2 3-2-3-1zM677 1018l-2 8 0 3 2 1 2-12-2 0zM825 1018l-4 10-2 1-15 27-5 14 2 0 3-4 10-22 5-5 7-11 2-8zM831 1018l3 4 7 6 2 0 2-2-6-4zM698 1020l-5 3-2 1 0 3-6 5 4 1 6-1 2 3 7-1 0-4-1-4 3-4 0-2-3 0zM963 1022l2 4 2-2-4-2zM593 1024l2 2 0-2-2-1zM990 1024l-3 2 2 5 3-5-1-2zM585 1026l-4 4-2 4 6 8 2-2-2-6 2-1 1 7 1 2 2 0 4-4 1-4-4-4-3-4zM981 1026l5 0-3 0zM391 1028l-6 3 0 1 0 3-7 9-1 3 3-1 0 2 3 1 2 0 2-3 3-6 4-2 0-10zM835 1028l-2 2 0 3 3-3zM967 1030l-2 3-7 19 1 2 4-2 4-8 2-10zM563 1032l-8 4 1 4-1 6 2 4 2-1 2 2 3-7 1 0 4 4 0 4-2 2 2 1 4-2 4 0 4 2 0-3 7-6-5-3-3 3-5 2-2 0 0-6-3-4-1 0-2 3-2-6-2 0 0-1 2 0 4-2-4-1zM677 1034l0 2 3-2-1 0zM709 1034l-3 4 1 7 2 3 2-5 2-1zM933 1034l0 1 3-1zM943 1034l-2 2-4 10-2 1-10-6-1 1 3 5 7 5-1 6 0 2 4-4 0-2 2 2 3-2-1-4 2-4 0-6 2-2-2-5zM856 1036l2 6 3 0 0-2-4-4zM883 1036l0 4 1-2-1-3zM928 1036l1 2 4-2-2-1zM677 1038l0 2-1 2 1 3 1-7-1-1zM740 1038l-1 2 0 2 2 1 4-1-2 0-1-4-1 0zM895 1038l-3 4-3 1 0 1 1 2 3 3 3-9 0-2zM659 1040l-2 2 2 3 0-5zM415 1042l-4 2-1 2 1 6 0 2-2 2 1 2-13 10-1 2 1 3 6-2 1-5 1-1 8-3 1-2-2-2 1-2 4-3 3-7 1-2 0-2zM357 1044l-4 4-2-3-2 0-2 5 0 4 2 1 0 5 2 2 1-2 3 0 1-2 2-12 0-2-1 0zM619 1044l-3 4-1 8 2 4 4-6 1-6-1-4zM365 1046l4 4 6 8 2 1 2-1 2-4-6-5-4 0-6-4zM459 1046l1 4 5 2 2-1 0-2-3-3-3 0zM845 1046l-2 2-1 2-3 6-1 2 1 1 2-3 5-8 0-2zM443 1048l-6 9-2-1 0-2 1 4-5 11-2-1 1-2-1 0 1 4-2 10-5 14-6 8 0 5 2 0 4-3 8-12 2-10 7-14 2-8 2-2 0-4 2-2-1-2 0-3-2 0zM678 1048l1 2 2-2-2-1zM664 1050l-1 6 2 4 4 3 6 2 3-3 0-2-5-2-8-8zM328 1052l1 1 2-1-2-1zM531 1052l-9 10-4 8-1 6 4 0-2 3 4 2 2 0 1 3 3 4 6-8 0-16 2-2 4 3 6-2 2 1-8 13-3 3 0 4 1 2 4 1 2 5 4-1 5 5 3-4 2-6-4-4-6-1-1-5 3-10-2-4-2-2-6 2-1-2 1-4-4-2-3 0-1-2zM369 1054l-2 3-2 0-2 5-2 2 0 2 4-1 2 1 2-1 4 1 2-6-4-2-1-4zM446 1054l3 3 4-1-6-2zM756 1054l-1 2-3 0 7 1 2-1-2-2zM391 1056l-6 3-2-2-2 5 0 5 1-3 3 1 2-3 13-6-5 0zM511 1056l-1 2 1 3 1-3zM997 1056l2 3 3-1-3-2-2 0zM334 1058l-1 2-2 2-4 1 0 3 4 2 2 0 2-8 3-2-1-1zM659 1058l-4 7-8-6-2 5 4 4 2 1 2 3 6 4 0 3 4-2 6 0 2 1 4 1 2 4 2 0 5-5 1-9-2 0-1 1-5 6-2-2-10-6-6-2 1-6 0-2zM763 1058l-2 3 2 0 1-3zM357 1060l-6 3 0 1 2 2 0 3 2 2 1-1 1-2 2 1 2-3-2 0-1-2 2-2-1-3zM501 1060l-4 4 0 1 4 0 6-5-2-1zM739 1062l-3 4 0 4 1 1 3-7-1-3zM761 1064l-1 4 1 3 3-3-3-5zM386 1066l0 4 1 2 3-4-1-3zM468 1066l-6 4 0 8-7 14 3 4-4 2-2 2 3 6 10 6 4 8 4 1 4-3 3-6 0-2-2-2 0-4-1 0-1 4-3 1-8-7-4-2 2 0 2-3 2 0 0-3 2-4 2-4 2 2 0 4 3-2 2-2-1-5-4-7-1-10-3-1zM710 1066l-2 6 1 6-2 2-4-4-1 2 4 4-1 7 3-1 2-4 0-6 3-2 1-4-1-6zM749 1066l-2 4 0 2 4-4zM827 1066l-6 4-1 10 1 2 10-16zM993 1066l2 3 2-1-2-2zM935 1068l-3 4 1 2 2-3 1 3-3 2-2-1-2 5 2 0 2 0 0 2-3 2 5 6 1 4-3 5-5 3 0 4 7 8 8 2 1-2-1-3 4 2 2 3 6-6 1 2 3 3 4-3 2-6 2-2 3-2 1-2 12-6 2-2 0-6-6-5-5 1-1 2-2 0-2 2-2 3-2-2-3 9 1 1 8-3 3 0-3 3-4 1-2 2-2 0-2-1-4 3-3-4 4-4-4-8-5 8-2-1 1-5 2-2-2-6-5 0 1-6-2-2-1-3-4-2zM898 1070l-3 2 0 8 6 7 2 0 1-3 0-4-5-2 3-2-1-2 2-2-1-2-3 0zM735 1072l0 3 1-3-1-1zM642 1074l-1 2 0 2 4-1 1 1-2 2 1 2 2 1 7 5-3 2-6-2-2-4-2 1-2-4-4-2-5 1 0 4 2 4-8 16-6 6 0 6 1 4 4 0 4 3 2-2 2 0 2-5-2-4-4-2 2-6 10-16 6 0 2 6 10 9 4-1 0-2 6-4-2-1 0-5-4-6-6-2-8-8-4 0zM747 1074l-3 2 3 1 4-1zM717 1076l2 3 6-1-1-2-5-1-2 0zM955 1076l-2 6 2 4 2-2 1-6-1-2zM399 1078l-2 4-8 10-7 12-1 2 2 5 2 1 2-2 9-18 2-10 3-2 0-2-2 0zM314 1080l-17 8 2 2 6-1 18-7-2-2-2-1zM688 1080l5 6 4-2-2-4-6-1zM615 1082l8 7 3-1 0-2-3-3-4-1zM851 1086l-2 2-3 6-2 2 0 2-2 0-1-2-2 1-2 6 4-2 2 2 3-3 2-4 3-2 2-4 0-4-2 0zM752 1088l-5 8-4 0 4 4 4 1 0-3 3-2-1-4 1-2-1-2zM505 1090l-5 6 0 4 2 2-1 2-4-1-1 1 1 3-3 1 1 6-1 8 0 6 3 2 2-1 4-8 3 3 0 2 1 3 2-6 6 11 2 2 2 0 2-2 5-2 1-1 2 1 4-7 6-4 2-3 2 0 1 2 5 6 2 1 2-1-1-4-3-3-5-5 0-6 1-2 4 2 0 5 2 0 4 1 3-2-1-2 0-2-2 1-2-3-1-2 1-2-2 0-2-2 0 2-2 1 0-5-2-5-2 0-6 7-2 0-4-4-4 1-1 3 7 3 1 1-2 2 1 4-2 6-4 4-4 0-10-2-2-6-3-2 1-3 4 1 6-6-1-2 2-2-1-2-8 2-2-2-1-6zM317 1092l-3 4 5-1 3 1 5 1 2-1 1-2-5 0-4-3zM685 1092l-3 6 1 3 2-1 4-4 0-4-2-1-2 0zM834 1092l-2 2 1 2 0 3 2 2 1-3 3-2-2-3zM345 1094l-6 4-6-2 2 6 0 3-1 1 1 5 4-1 6-4 2-2-4-2 2-4 2 2 2-2-2-3zM435 1096l-1 4 0 2 1 1 4-3 1-4-3-1zM757 1098l-2 4 0 3 4 3 4 3 4 4 4 0 4 2 2-1-1-2-5-5-6-4-6 1-1-2 4-4zM735 1106l-4 8-8 1-2 2-1 3-5 6-1-2 5-8 0-6-2-1-2 9-6 7-2 5 2 1 2-1 2 0 0 3 2 1 10-3 2-8 4-2 2 0 2-3-1-2 2-4 0-6zM324 1110l-1 3 3 1-1 3 4 0 2 3 5-4-3-4-4 2-2-1-2-3zM413 1112l0 3 1-1 0-2zM745 1114l-5 4 0 2 3 1 2 1-2 6-4 4 0 4 4 1 1 11-2 4 1 3 2 0 3-9 9-8 4-10 3-2-2-2-1-4-2 2-4 0-2-2 2-4-6-2zM979 1114l-1 4 1 3 6-1 0-2-2-4-2-1zM449 1118l-1 10 1 5 2-5-1-10zM489 1118l-6 3-2-1-3 2 2 4 1 1 2 0 2 2 2 3-1 2-3 0-2-2-1 2-3 1-4 5-4 0-2 2 0 10 0 3 3 1 10 0 2-4 1-7 2 0 6-8-1-5 2-6-3-2 0-2 3-4zM967 1118l0 2-5 6 1 2 9-2 1-2-1-2zM302 1120l5 7 7-1-4-4-7-2zM869 1126l-2 7 3-1 2-6-1 0zM354 1128l0 2 1 4 2-1 2-5-2-1zM680 1128l-2 4 1 1 3-5-1-1zM384 1130l1 2 4 0 1-2-3-1zM961 1132l0 4-2 2 0 3 4-5 0-4zM418 1134l1 2 6 5 2 1 2-2 4 1 1-1-5-7-2 0-2 3-2 0-4-2zM505 1136l-6 4-6 3 2 1 6-1 7-5zM837 1138l-3 2 0 6 1 3 4-7 0-2zM862 1138l-2 2 3 1 3-1-1-2zM580 1140l-1 2 0 2 2 0 1-2 0-2zM573 1142l-4 2 0 4 1 2 1 0 4-8zM451 1144l-2 10 2 3 1-5 3-4-2-4zM530 1148l1 2 1-2-1 0zM608 1148l1 1 1-1-1-1zM910 1148l1 4 1-2-1-2zM457 1150l0 4 2-2-2-2zM713 1150l-1 2 1 1 0-3zM493 1154l-1 2 5 2 0-3zM781 1033l2 1-2 2-1-2zM785 1036l3 2-1 1-2-1-1-2zM281 1044l17 0-7 7-2 4-8 0-2 2-1-5 1-4-1-2 1 0zM245 1048l3 0-1 3-2 0-3-1zM223 1051l2 5 2 0-2 2-4 2 0 2 6 1 10 4 2 3 4 2 18 2 6 4 4 0 5 2-1 4-4 1-3 5 0 6 2 2 0 2-2 4-3 4-6-1-4 5 1 4-2 4 1 3 0 5-2 6-2 0-3-8 5-4 0-2-2 0-4 4-1-2-1-2 2-2 3-10-5-5-2 0-1-5 1-2 4-2-1-2-9-4-12-9-10-1 8 4 2 4 12 8-8 5 0-7-2 0-2 12 2 4 6 3 2 0 8 9 2 0-1 2 1 4-12 2-5 4-2 10 3 12 2 2 3 0 1-2 0-2 6-3 4 0 1-3-2-4 0-2 1 0 2 2 4-1 4 8-4 0-1 1-3 8-19 0-1-1 0 1-61 0-1-2 0 2-16 0 0-15 1 3 1 1 7-11 1-4 2 2 2-1 2-11-2-7 0 5-2 2-1-2-1-3-4 4-2-7-1 2-3 1 0-21 3 0 0 6 3 6 4-4 0-3 2-1 2 2 0 6 0 4 5-8 0-2-6-6-1-6-1-2 3-5 1 1 1 1 1-3 0-10 3-8-3-4 1-1 6 0 6 0 2 2 12 2 6 2 8 4 10 3 4-1 4 0 8 5 8 8 12 1 8-1 3-2-11-3-6-1-6 0-12-9-8-1-2-1-4 1-4-1-9-7 1-2 2 0 6 4 6-1 1-5zM255 1092l-2 3 6 2 4-1 3-2-1-2-4-1-4 0zM161 1136l0 4-2 2 0 4 4 1 1-3zM271 1052l2-1 0 2-2 4-2 0-4 2-1-3 1-2zM151 1058l1 0-2 2-1 5 0-8zM235 1058l6 1 8 5 1-4 5-3 2 0 1 1-3 2 2 4-2 2-4 2-6 1-8-5-2-4zM527 1062l4 2-4 5-2 0 0-3 2-2zM261 1066l2 5-2 0-2-2 0-1zM159 1074l4 0-4 1zM609 1076l4 0-1 2-1 1zM271 1093l2 3-2 1-1-3zM1003 1094l0 5-2-3zM945 1099l6 1 2 0 1 2-3 5-2-1-2 2-1-4 1-2-3-2zM583 1102l3 0-3 1zM150 1122l1 2-2 2 2 4-2 1 0-9zM279 1128l6 4 2 0 3 2-6 2 1 2 4-1 2 2 2-1-1-2 3 0 2 2 2-1 2 2 4 1 2 2 4 0 2 2 4 0 2 2 4 0 2 2 6 0 0 4 1-2 3 0 6 0 4 2-1 4-1 2-60 0-2-1-2 1-12 0 2-6-2-12 1-4 1-2 8-3zM241 1138l2 2 0 2-2 2-1-4zM603 1141l1 1-1 1-1-1zM353 1154l4 0-1 2-1 2-5 0 0-2zM665 1157l2 1-4 0z"/><path fill="#80ff80" d="M749 970l6 0 4 4 2 0 2 2 6 2 6 4 11 0-4 6-1 3-1-1-1-6-1 4-1 1-5-5-3-3-2 3 0 8 4-5 6 7-4 11-4 3-1 4-5 6 0 4 3 0-3 3-4-1-3 2-1 3-1-1 2-4 0-2-3-2-8-2-4-6 5-2-2-10 3-2 2-6 4 0 1-2-4-4 1-1 6-3 5-6-5-1-2-2-6-1-2 1 2 3-2 8 1 2-3 2-6 0-2 2-2 0-9 8-7 10 0 10 4 4 0 6 3-2 4-10 2-2 3-1 1 1-6 8-1 4 0 6 2 4 4 2 4 6 4 2 4-5 2 1 1 2-1 6 11 2-7 3-4-1-1 2 2 4 0 2-1 3-2 1-2 8-3 2 0 2 9-1 6 2 10 11 0 4 2 3 3-7 5-5 4 0 2-1 4 2 1-2-3-4 0-4-8-4 2-2 2-8 3-2 1-5 2-3 2-2 1 2-2 2-2 8 1 5 2 0 11-13 1-6 4-3 2-5 6-5 1 1-15 32 0 5 7-11 6-14 8-10 6-10 2-8-3-3-4 9-4-3-2 1 2 5-8 3 0-4 2-2 3-4-5-3-4 1-2-6 1-4 5-5 2 2 2-3 1 4 1 1 2 0 4-5 0-2 2 0 2 2 6 0 6-4 4 0 2-2 8 0 2-2 4 0 2-2 6 0 2 2 14 0 2-2 8 0 2-2 10 0 18 18 2 0 2 2 12 0 2-2 2 0 4-4 4 0 2 2 2 0 8 8 2 0 6 4 14 0 2 2-6-1-1 1-1 6 2 2 4 1 4-2 2 3 4-6 0-4 10 0 0 15-4-3 0 2 0 2 4 5 0 11-6 1-1 1 3 3 4 0 0 29-4 4-4 1-2 3 2 6-1 2 1 1 2-2 4 1-2 3-2 1-2 6 0 6-2 1-2 5 2 5 2 0 3-1 1-4 2 0 2 2 0 3-4 3-3 4-3 0-1 2 2 2-3 5-1 7 3 3 6-4 1-3 2-2-1-2 2-4 0 16-23 0-1-1-1 1-35 0 2-2 0-6-6 2-2 2 0 4-19 0-1-2 0-2-1-2-3-4-2-1-2 0-4-4-4-2-2-3 0-1 8 1 0 2 2 1 4 4 4-1 2-3 0-3-4-2-2-3-4 0-2 2-1-1 1-2 2-2 0-2-1-4-5-6-2 1-4 2-4-1-3-4-1-10-4 1-2-2-4 3-5 2-2 2-9 2-2 2 1 4 3 2 7 0-5 6-1 4 1 5 2 1 3-2-2-2 5-9 6 3 2 6-2 1-6-1-1 2 3 2 2 6 2 3 2 0 4-2 2 1 1 2-3 10-11 0-1-4-1 2-3 2-59 0 0-2 3-6 2 0 6 3 2 0 6-7 2 4 2 0 8-3 4 2-3-5 2-6-3-4-2 0-2 1-2-2-6 5-10 3-2-4-2 0-2-3-1-4 5-5 0-5 4-5 2-1 8-1 2-4 2 2 1-3 5-3 6-9 2-1 3-5 1-4 2 0 1-2-5-3-2 3-4 2-3 4-3 2-8-4-4 1-6 7-9 8-4 6 1 2-10 0-2 1-8-5-2 4-8 6-2 4-6 8 4 1 2-1 8-8 1 2-1 4-2 4-3 2-2 6 3 3 2-4 2 6 9-1 0 2-2 2 5 10-54 0 2-4 5 0-1-2-2 2 0-2 1-2 0-4 5-6 4-1 2-10 6-2 4 1 2-2 1-2-3-2 0-2 6-1 2-5-2-6-2-2-14-3 2-3-7-6-2-6-3-2-4 8-2 1-4-1-1 2 1 2 10 4 4 8 4 0 4 2 1 2 0 4-7 3-2-1 2-2 3-2-5-4-8 0-8 5-3-1 1-3 4-1-4 0 0-2 1-6-1-2-3 6-3 4-6-2-4 3-2-6-2 1-2 6-10 18 6 2 2 3 12-2 8 3 2 1 2-3-1-10 7-4 1 0-2 6-4 4 0 4 3 4 2 1 0 3-2 6 0 6 0 2 3 0-42 0 1-7-2 2-2-1-2 0-2 3 0-5-3-2-3-6-6 1-4 5 0-6-2-1-8 4-10-1-2 4-2 0-3 4 1 3 2-4 1 7-22 0 1-2-2-6-3 2-1 2 2-14-6 2-2 3-5 3-1 3-2-3-4 2 1 4 2 4-16 0 5-6 2-1 2 2 4-5 0-4-4 2 0-2 2-7 4-7 2-15 3 5 7 3 4 3 3-4 2-4 0-6-5-3 0-3 6-12 4-5 3 1 2 4 2 2 1 5 4 1 4 3 6 2 5-5 0-2 3-4-1-6-3-8 0-1 6-2 4 3 2 2 8-5 8 8 10 0 2 4 4-2 8 5 3-2-3-2 0-4-2 2-6 0 0-2 2-2 0-3 2-3 3 2 5 1 2 3 4-3 2-5 0-2-10-2-4-3-2-7 2-2 4-2-2-1-5 3 1 2 0 2-6 2-4 6-4 3-6 3-6-1-2 1 1-8-1-2-4-8-10-5-6-7-4-6 0-6-2 0-2 0 0 6-3 6-7 10-3 6 11 10 4 7-2 0-4-1-10-8-5 6-5 0-1-2 1-2 8-18-14-4-2-2-1 2 0 6 1 4 2 2 2-2 0 2-4 4-5 0-2-8 3-4 0-4 2-2-2-7-3 1-1 3-2-1-2 6 1 6 0 4-1 2-2 0-4 8-2 1-1-3 1-12-6 2-8 0-2-2 5-12-1-1-4 1-1-2 5-2 3-4 0-4-7-8-4-1-6 7-4 0-4-3-8 2-8 5 1 4-2 6 3 4 2 2 2-1 4-7 3 4-1 6 6 4 0 2-6 8-4-2-4 0 0 2 2 4 6 1 4 3 4-7 2 0 1 3 1 1 4-5 2 6 6-3 5 3-7 6-5 2 1 1 4-1-5 12-3 5-2-1-3 6-3 0-2-2-1 0 0 10-2 4-5 0-2-4 1-4-3-7-1 3-3 3-1-1-1-5-6-3-1-6 1 0 6 6 2 0 2-3 2-1 2-8-2-3-2-2-8-2 0-6 2-3-1-8-3-2-6 0 1-4-6-4-1-5-2 2-3 1 0 2-3 2-9 16-2 4 2 4-3 6 1 4-3 5-2 1-2 0-2-4-6 3-2 0 0 7-3 2-1 4-4 1 0 1 1 6-1 2-6 3-6-1 0-4 2-4-2-2 1-6-1-2-4 4-4 1-4-7 1-2-1-2 2-4 2-3 1 1 0 4 1 1 7-3 1-6 4-4 0-5-8 0-4-3-2-7-2 0-6 3-1 2 0 6-1 4-8 14 0 2-4 5 4 2 3 5 8 4 3 7 0 5-3 6 1 4 3-2 1-3 2 2 6 0 3 1-3 1-4 5-4 0-3 2-3 11-2 2-8-10-2 0-2 11 2 3 2-1-1-2 3-4 0 4-2 4-56 0-4-1-2 1-17 0 0-2 3 0 24 0 2 2 21-2-2-2 0-2-3 1-2-1-1-6-5 3-4-9-2 1-9-3-1-4 3-6-1-1-4 4-2-3-4 0-4 2-1 2 1 3 7 3 0 4-3 3-4-1-8-5-6-1-6-4-3 0 0 4-2 2-1 0-2-2 1-2 4-8-2-2-1-4 0 4-4 2-2 4-2-2-6-1-4-3 1-8-5-6 2 0 2 1 2 0 10-6 0-9-4-5-6-1-2 3-6 0-4-2-4 0-2-3-4 0-8 7-4 1-10-5-16-2-2-1-1-2 0-2 3-3 7 3 3 1 3-1-1-2-10-5-6-7-2-1 0-4 4 1 0 3 8 1 3 4 5 4 10 0 4-2 11-4 0-2-3-1-6 0-1-1 1-2-2-3-4-1-1 0-1 2 1 2 0 4-3 3-2-1-6-3-1-3-1-5-3-1 1-2 4 2 4 0 2-3 8-4 2-3-1-4 1-1 8 0 2 1 16 0 10-6 2 0 4-4 2 0 2-2 4 0 2 2 2-2 8 0 2-2 4 0 2-2 2 0 14-14 12 0 2-2 4 0 2 2 2 0 2 2 2 0 2 2 6 2 14 14 20 0 2 2 4 0 2 2 8 0 2 2 20 0 2 2 8 0 2-2 10 0 10-10 0-2 6-4 8 0 2-2 20 0 4-4 10 0 2-2 6 0 10-6 6 0 12-12 0-2 4-4 0-2 2-2 2 0 2-2 4 0 2-2 18 0 2 2 4 0 2 2 10 0 2-2 2 0 8-8 7 0-3 6-5 4 0 2 1 2-2 1-2 3-1-2-1-3-2 1-6-2-12-2 1 2 3 1 2 2 8 1 2-1 3 5-5 4 0 1 2 0 4-3 2 0 2 2 2-2 3 2-2 4 1 2 2-4 4-2 0-4 3-4 0-2 2-2-3 0-3 6-1 1-5-5 1-2 2 3 5-5 2-4-2-6 11 0 2 2 8 0-3 6 3 2-1 2-8 16 1 4 5-8 6-16 3 1 3-5-1-3-3 1 1-2 4 0 4-4 2 0 2-2 4 0 6-4 6 0zM863 996l-1 2 1 1 3-3zM882 996l-5 2 6 7 2 0 2-3 1 4-7 11-8 8 0-5 1-6-1-1-3 1-3 14-4-1-3 3 1 4 4 2 0 2-1 2-3 0-8-8-1 0 0 8 13 7 5 5 1 2-2 3-6-2-6-5-4 0-2 1-1 3 2 2-3 4 0 4 0 2 2 0 1 2 1 12 6-6 12-1 4-2 10-2 5-7 2-12 5-6 0-6-2-1-2 1-4 4-1 4-1 2-6 1-2-3-6 4-2-2 0-2 3-6-1-4 7-8 1-1 2 3 3-4 1-4 4 1 3-1-1-4-4-3 0-1 2-2 3 5 1 0 2-2 4 0 1 1-4 4 0 2 4 8 1 2 9 0-1-2 1-6-7-8 1-2 1 0 4 3 2 5 2 0 2-2 1-8-5-5-4 4-2 1-1-2 3-8-1-4-3-3-2 3-6 3-2-3 0-2 0 2-4 1-4-2-4-1zM657 998l0 4-4 2-4-4-2-1-1 1 3 4 4 1 2 5 2 2 4-2 0-4 1-2 5-2-4 0-1-2zM765 998l-3 2 3 1 4-2 4-1-2-1-2 1zM693 1002l-1 6 1 5 4-1 6-4 1-2-3-5-6 0zM618 1006l-9 10 1 2-6 10 0 4 1 1 5-5 5-12 2 1 3-7-1-5zM638 1006l0 2-3 4-2 7-3-1-1-4-4-6-2 3-2 6 0 5 4-1 2 0 1 1-3 4 1 6 3 5 2 0 4-5 8-19 2 0 2-3-2-3-6-2zM857 1006l-2 2 0 3 5-1 1-2-4-3zM829 1008l0 2 6 1 0-1-2 0-4-2zM841 1008l-1 4 2 2 1 8-2 1-10-5-1 0 2 2 11 9 2 0 2-1 4 3 4-2 4 1 1-6-6-8-5 3-1-3-1-5-6-4zM954 1012l-2 4 1 2 4-6-2-1zM862 1014l-2 2 1 1 8-3-2-1zM678 1016l-2 2-2 6 1 10 1 2-1 6 3 4-3 4 4 2 3-4-3-6 2 1 2-1-4-6 3-2-4-4 2-12-1-2zM597 1018l-6 3-1 1 5 5 4-5 2-4zM697 1020l-4 2-3 2 1 3-2 0-5 5 3 2 4 0 0 3 4-1 2 3 2-2 4 2 2 2 2 7 2 1 2-2 4-1 2-2-13-18 3-6-4-1zM962 1022l1 3 4 2 0-3-4-2zM577 1024l-2 2 2 3zM390 1026l-6 4 0 4-8 10-1 4-4 0-6-4 0 4 5 4-5 4-2 6-4 4-1-2 2-2 0-4-1-1-2 2 0-3 2-12-2-1-4 5-2-5-2 1-2 2-1 4 1 4 2 2 0 4-2 2-4 0-2 2-4 7 8 1 1-4 3-3 3 1 1 4 2 3 4-2 2 0 1-3 4-2 3 1 4 2 3-9 5-4 0-2-4-4 2 0 4 2 4-2 2-3 3-7 4-2 0-8-1-4-2-1zM425 1028l0 4-4 6-13 6 0 2 2 6-1 1-2-1-1 0 1 6-4 2-4 5-6 5 6 6-18 28-1 4 3 4 5-2 3-8 7-14 1-5 5-3 1-2 2-8-1-4 8-4 8-20 1-2 1-2 5-10 0-1-2 0zM834 1028l-3 7 2 0 3-5 0-2zM915 1028l-2 2 0 1 5-1-1-2zM967 1030l-2 2-1 6-2 2-5 15 4-1 5-8 3-12-2-4zM943 1032l-3 4-3 9-2 1-9-6-1-1-2 0 0 1 3 6 7 6-1 6 1 2 1 0 1-2 2 2 0 2-9 18 1 5 5 7-7 10 1 6-1 2-4 2-1 2 1 4 2-1 6 1 2-2 0-2 2 0 18 6 8-2 2 0 1 4-6 8-4 4 1 2 4-3 1 1-4 8 1 3 4-2 2-2 5-11 1-1 7-3-9-12-1-2 0-6 7-5 13-7 2-2 0-6-3-4-4-1-2-2-15 7-3 7-2-3 0-4 1-4-3-8-3 2-1 4-2 3-2-1-1-4-4 0 2-8-1-10 2-8-2 0-2 0-1-2 4-2 3-8-2-1-2 0 0-7zM433 1034l3 0-1-1zM883 1034l-1 4 1 2 1-2-1-5zM932 1034l-5 2 0 2 2 0 7-4-1 0zM445 1040l-3 8-3 6-2 0 0 3 0-3-2-1 0 5-4 11 0-3-2-1-4 1 0 6 2 2 0 5-5 15-6 8 0 2 1 4 2 0 5-4 5-10 4 4 0 5 2 1 2-1 13-17 1-8-2 1-3 7-5 8-6 0-2-8 0-4 8-14 2-8 2-2 0-4 4 3 4 2 2-1-2-2-7-4-1-2 0-10zM458 1040l-2 4 0 6 3 3 6 2 3-3 3-8-8-4zM429 1042l0 3 4 0-2-3zM829 1042l1 2 2 2 3 1 2-1-4 0-2-5zM718 1046l1 3 6-3-6-1zM844 1046l-9 14-2 2-2 0 0 2-8 3-2 2-2 3 0 10 2 1 12-18 6-5 3-4 3-6 2-2 0-2-2-1zM433 1048l-1 2 3 0 0-2-2-1zM477 1048l-4 4 0 2 4 0 2-1 4 1 0 3 2-4 2 1 0 6 4-1 2-3 1-2-3-2-14-5zM329 1050l-1 2 1 2 4-4-2-1zM513 1054l-2 1-1 3 1 4zM333 1056l-2 4-11 2 1 4 4-3 0 5 4 0 2 2 2 0 3-10 3-2 1-2-3 0zM383 1056l-2 6 0 6 0 2 2-1 4 4 4-5 0-4-3-2 13-4 1-2-5-1-12 3-2-2zM681 1056l0 2 3-2-3 0zM951 1056l2 4 4 3 2-1 0-2-6-4zM553 1058l2 2 2-1 0-2-4 0zM500 1060l-6 6 1 2 14-8-4-1zM739 1060l-3 4-2 6 1 7 4-9 2 0 0-6zM421 1064l-1 2 1 1 1-3zM509 1064l0 7 1-5-1-3zM894 1066l-3 6 2 8 10 9 2 0 2-3-1-6-5-2 3-2-1-2 2-4-6-2-4-2zM992 1066l3 4 2 0 0-2-2-3-2 0zM1000 1070l0 2 1 1 2-1-2-2zM332 1074l1 2 1-2-1-1zM795 1078l-4 10 2 4 3-4 0-8-1-3zM313 1080l-16 7-1 1 3 2 6 0 10-5 6-1 4 0 2-2-2-1-2 1-2-3-2 0-4 0zM686 1088l-5 10-2-3-2 3 4 2 2 3 9-3 2-4-1-2-2-1-4-6zM888 1092l3 10 3-2 0-6-5-2zM861 1094l1 2 2 0-2-2zM568 1098l-1 2-1 4 1 1 2-3 0-4zM371 1100l0 3 2-3-2-1zM869 1100l0 3 2 2 2 0-2-5zM991 1106l-1 2 0 2 1 1 1-5zM412 1110l-1 2 1 2-1 4 0 2 4-3 4 0 1-1 0-2-5-5zM981 1112l-3 2 0 6 3 3 4 0 3-3-1-5zM648 1114l-2 2 1 2 3-2 0-2zM447 1118l0 12 0 2 2 2 2-3 1-7-2-6-1-1zM653 1118l-3 2 1 2 2 0 3-4-1 0zM417 1120l-1 2-1 6-2 2-1 2 3 2 0 2 4 1 8 6 2-2 8 2 1-1-6-8 1-2-2-3-2-1-2 1-8-9zM637 1120l0 1 2-1-2-1zM399 1122l2 1 1-1-1-1zM369 1124l-4 2 0 2 12-4-6-1zM681 1126l-4 6 0 3 2 0 4-7 0-2zM776 1134l-1 2 2 3 3-5-1-1zM861 1138l-3 2 1 2 6 0 2-2-2-2zM639 1142l-3 4 1 5 3-7-1-2zM647 1142l-2 4 2 3 2-1 3-6-3-1zM970 1144l1 2 5-2zM710 1146l-3 8 0 3 4-4 2 0 2-3-1-4zM769 1146l-2 2-2 10 2-1 1-5 2-2 0-4-1 0zM795 982l6 6 2 0 1 2-2 8-2 2 1 2 0 8-4 2-4-6 3-6-4-2 2-2 0-2-1-12zM735 992l6 4 1 2-1 2-2 0-5-6zM787 996l2 0 1 2-1 2-2 0zM813 994l3 3-1 4-3-5zM781 1010l2 1 2-1 4 2 0 3-1 3-3 2-2-5-2 4-6 2-1-3 3-2-2-4zM793 1016l2 0-2 6 0 2-2 3-8 3-6 1 0-1 0-2 2-3 11-3 0-2zM753 1029l1 1-2 6-3 4-2 0-1-2zM739 1032l3 0-1 4-2 2-1-2zM567 1034l2 0 0 4-2 3-1-5 0-2zM765 1041l13 7 1 2-2 6-10 2-4-2 0-4-1-6 1-3zM281 1045l12 2 1 1-5 6-2 1-8-1 0-2 1-4-1-2zM223 1051l1 1-1 6-4 5 8 0 10 4 2 3 4 3 18 1 6 4 4 0 4 2 0 4-2-1-3 1-3 9-2-2-8 0-5 3 5 3 10 0 2 1 1 2-2 4-3 3-4-1-2 0-3 2-1 4 0 4-2 0-6 7 0-3 3-12 0-2 3-2-2-3-2 4-1-1-1-4-2 2-2-1 0-3 2-2 5-2-5-3-7-3-13-9-10-2-1 1 1 2 8 2 2 4 8 6-2 2-4-4-2 14 2 6 6 2 2 1 2 5 4 2-1 4-9 4-4 4-1 6 1 12-1 8-60 0-1-3-1 1 0 2-6 0-5-2-4 2 0-11 2 0 2-1 4-8 2-1 1 1-5 10 4 5 4-1 3-2 0-40 3-8-4-4-1-4 0-4 2-2-3-2 2 0 2-4 0-10 2-8-3-4 1-1 12 0 2 3 18 3 10 5 8 2 2-1 6 0 8 5 8 9 10 1 13-2 1-2-12-4-12 0-10-8-4-2-6 0-2-2-4 2-4-1-8-7 2-1 2 0 4 3 6 0 1-6zM267 1054l5 0-5 3-2 0zM573 1054l4 0 2 2-2 1-4-3zM657 1056l0 4-2 3-1-3zM151 1058l-1 2-1 5 0-7zM285 1058l1 0 0 4-1 1-2 0-1-3zM237 1059l6 2 6 4 2-5 2 0 2 1 2 3-6 3-6 1-6-4-3-4zM757 1060l2-1 1 5-5 5-2-2-2-1 2-2 0-2zM545 1064l2 0 1 0-7 13-2 2-2-1-2-3 0-7 4-2zM679 1064l1 4-3 6-1-6zM261 1067l2 1-2 2-1-2zM769 1072l0 3-1-1zM705 1076l2 0 1 2-1 1zM641 1079l2 1 1 2-3 2-1-4zM593 1082l2-1 8 2 8-1 4 2 10 6 4-2 1 2-7 14-4 4-2 0-4-4-2 3-6 3-8-10-3-2 3-8-1-4-3-1zM533 1084l4 4 0 4-8-2zM645 1084l2 0 3 2-3 1-2-1zM951 1086l0 3-1-1zM525 1087l2 3-2 1-1-3zM541 1088l2 1 1 1-1 2-3-2zM275 1094l2-1 6 4 10 3-9 2-1 2 8 8 2-3 5-1 1-2-2-4 2-2 8-1 4 1 2-3 6-1 2 3 6-1 6 2 1 4-1 2 1 4-1 1-4 2-2-3-4-1-4 0-2 3 2 2 2 0 1 4 6 4 0 4-5 7-2-1-7 0-6-2 0-2 7-2-4-4-7-4-3 2 4 7-6 0-10-6-4-5-2 0-5-2-1-2-2 1-2-3-2-2 4-8-1-4zM829 1096l2 6 0 2-4 2-2-2 0-4zM967 1096l3 0-4 0zM150 1100l1 4 4 4 0 2-4 6-2 0 0-16zM951 1102l2 0 1 0-3 3-3-1zM591 1104l1 0 1 2-1 4-3 2-1-4zM159 1106l1 2-3 6-1-6zM519 1106l6 2 4-1 1 1-1 5-4 4-3-1-2-2 2-4-3-4zM595 1106l5 4-1 2-2-1-2 3-2-2zM833 1105l1 1-1 2-1-2zM547 1108l0 4-2 3-1-3zM161 1111l1 1-1 4-1-4zM553 1116l6-1 4 2 2 5-2 4 1 2 3 2 6-2 6-7 4 0 4 1-2 6-2 2-7 2-3 8-8 2-2 2 4 8 2 1 6-7 0-2 2-2 0-4 10-5 4 1 3 2 0 2-4 10-1 1-1-1-1-3-3 1 2 8 3 4-36 0-3-4-7-5-2 1-1 2 5 6-44 0 0-2 5-6-3-4-6 0 0 2-2 2-4 1-4 0-1-3 0-2 1-2 4-3 1 1-1 2 4 1 2-1 4 0 8-6 1-2-1-1-2 1-1-2 1-3 2 0 8 8 6-4 4-1 11-10 3-6 11 10 1 2 2 0 0-4-4-6 0-2zM584 1138l-6 2 0 4-2 2 0 2 7-2 3-8zM528 1146l3 5 5 1-5-6-2-1zM797 1115l1 1-2 2 2 4 0 4-1 4-2 1-2-5 1-8zM603 1122l1 0-1 4-1-2zM503 1125l3 3-3 8-4 4-7 0 2-4-3-2 0-3 2-2 4 1zM731 1126l3 0-1 2-2-1zM331 1127l4 5 0 2-4 4-2-2 0-4 2-2zM481 1128l2 0 2 2 1 2-1 2-2 0-4-6zM279 1130l4 0 2 2 2 0 0 2-4 2 1 2 5 0 1 2 5 3 3-1 0-2-2-2 3 0 2 2 4 0 2 2 4 0 2 2 4 0 2 2 4 0 2 2 6 0 0 2-2 0-2 4 5 4-47 0-4-2-10 2 0-4-2-5 0-11 3-4zM423 1130l2-1 1 1-1 4-2 1-1-1 0-2zM595 1130l3 0 5 6-2 1-6-4-1-3zM295 1136l0 2-2-2zM325 1140l2 0 2 1 0 2-4-1zM249 1142l2 0 3 6-3 1-1 1-4 8-6 0 0-4 1-2 4-2 2-2-1-4 1-1zM335 1150l6 0 3 2-2 6-6 0 1-4-3-4zM907 1150l4 2-3 0zM627 1156l1 2-3 0zM231 1158l4-1 2 1-7 0zM483 1158l2-1 3 1-6 0z"/><path fill="#aaff55" d="M741 973l2-1 3 2-1 9-4 1-4 6-2-1-10 9-6 10-1 4 0 6 4 4 1 6 0 2 4-3 2 10 4 2 4 5 4 3 2 0 4-4 2 1-5 28 0 2-6 4 7 1 2 2 4-3 2 1 4 1 6 6 3 8 3 3 2-1 2-5 2 0 8 6 2-1-6-8 2-2 2 0 6 2 3 2 2 6 2-2 0-18-1 0-2 3-2 7-2-1-3-7 0-6-3 1-3-3 1-6 1-2 3 0 2 9 10-13 5-4 1-6 2-1 2-5 2-1 0 3-3 8-2 2-6 14-1 5 2 0 5-7 9-18 11-16 4-10 0-4 1-1 3 3 9 9 7 1 1 2 0 8 1 2 9 2 6 4 5 4-1 4-6-2-6-5-4-1-2 1-3 5 2 2-3 6 0 4 4 1 1 1-1 2 1 8-1 4-6 2-4 5-2-2-3 1-9-3-1 1-1 7-8 7-1 2-4 2-4 6-3 1-6-2-1-1-1-4-4 0-6 4-1 2-5 7-1-3 3-6-9-6-1 0 0 2-2 1-9-3 2-2-1-1-6-6-8-11-1 2 0 6-3 4-4-2 1-2-3 0-6 2-2 2 5 0 4 4-1 2-3 2-3 7-2 1-6-1-4 1-2-5-2 1-7 16-7 12 0 2 4-1 2 1-6 4-6-4-1 2 1 4 6 4-2 3-4 1-6-10 4-4-1-2-1 0-2 4-8 4-2 0-4-2-8 4-10-1-4 3-4 5 0 1 1 6-13 0-3-4-1-2 0-2 2 2 4-7 5 5 1 1 2-1 3-8-1-2-4 0-6 4-2-4-6 8-1-2 2-8-1-1-6 2-10 9-2-2-2 0-2-2-3-2 1-4 7-10 1-5 8 1 7 6 2 4-1 2 2 1 3-3 0-2-5-6 1-2 3-1 4-4 6 1-4 5 3-1 1-1 6 1 2-2 1-4 0-2-3 1-4-4-2 0-6 4-2 0-4 1 0-8-6-2 0-2 6-12 4-4 1 0 7 13 6 4 4 1 2 2 4-4 4-2 2-2 0-4 2-1 2 0 2 1-2 4-3 0 1 1 6-1 4 0 2 1 6 0 4-2 3-3 0-8 3-1 2 0 4 3 2-1 5 3 3 6 2-1 6-4 1-7 5-10 2 0 1-4-3-2-8-1-6-4-1-5 1-1 4-1 3-4-3 0-4 1-5 3 2 2-1 2-6 2-6 7-8 3-2-3-2 0 0-5-4-8 0-2 3-2-1-2-2 0 2-9 5-3-3-1-1-3-2-2 1-2 6 3 4 1 1 0-3 2 0 2 6-3 6 5 2 7 2 0 2-3 4 0 2 2 2 0 6-2 4-4-8 1-2-4-4-1-1-4-3-1-4-7-1-2 2-2 0-4-3-1-8 0-4 2-4 4-2-1-1 2 1 2-4 5-2 0-2-3 2-12-2-7-1 3-3 6-2 1-2 5 2 0 2 10-1 6 2 4-1 3-2 1-1 2 5 0 3 6-9-3 0-3-3-2-5-6-2-10-4 0-3 12-7 12-3 6 1 2 2 2 8 6 3 4-1 2-4-1-8-7-2-2-4 5-4 2-2-1 1-4 12-24-1-1-2-1-3-6-5-1-2 3 0 4 2 3 7-1 1 2-1 2-3 1-4-1-12-4-2-6-6 2-2 8 0 8-6 11-2 2-1-3 2-10-1-6-6 5-8-1 0-4 4-8-2-1-3-1 3-1 3-5 1-4-1-2-7-7-2-1-2 0-6 8-12-5-4 3-6-1 0 5-2 1-1 1 1 6-3 8 1 3 6 1 6-9 3 3-1 6 4 4 1 2-5 6-6-3-6 3 2 4 0 2 4 6 3 0-1-2 4 1 12-3 4-4 0-2 2 7 6-2 1 1 0 2-3 3-4 1-2 2-1 2 1 2 4-2 0 2-4 7-2 2-2 0-2 5-4-4-2 4 0-4-2 0-3 2 0 4-3 4-2-10 1-8-1-6-4-4-8-1 2-7 0-8-3-2-5 0-2-4-4-4-1-2 2-6 1 0 2 1 1-1 1-2-2-1-4 0-4 5-5 4 1 2-4 4-10 18 0 2 2 2-8 8-1 2-7 4-2-2-3 0 2 4 0 6-9 6 1 8-2 2-5 2-3-2 0-2 1-4-1-2 1-6-2-5-4 6-2 0-1-3-3-2 0-8 2 0-1 4 1 2 11-6 1-6 3-4 1-8-6 1-4 0-4-3-2-6-10 4 0 8-1 4-11 19 0 3 2 3 2 0 2 6 4 1 2 0 3 2 2 8-3 6 0 7 2 1 4-3 4-1 3 2-5 4-6 1-1 1-3 9-2 1-6-7-2 0-2 5-1 6 5 4-52 0-2-2 2 0 2 2 8-1 10 1 4-1 1-3-3-3-3-1-3-2 0-2-2 0-2 1-2 0-2-7-4 0-5-2-4-4 2-6 5-7 4-2 2 0 2 5 2 0-2 10 4 4 4 0 8 5 2-1 10 4 1-2-6-8 0-8-3-2-2 1-2 0 0-3-2 1-2-3-1-8-6-6 5 1 4-4 3-1-2-2 1-3 2-2 2 2 2 6 4-1 13-18 2-6-1-3-2 1-5 10-3 5-6-1 0-14 6-8 2-10 2-2 0-3 8 4 3-1-3-3-6-3-1-2 1-8 2-2 2 1 2 2 2 9 4 3 4 1 2 0 6-10 2-3 2 0 2 1-1 2-6 8 1 2 6 0 2-3 2 1 0 4 2 1 2-4 2 1 0 7 4-3 5-6-7-8 2-1 6 4 6-2 8 0 14-1 4-6 4-1 2-7 4-2 10-1 2-2 4 0 14-1 3-3 5 6 3-7 3 0 2-1 2 0 8 7 2-1 5-9 9-7-2 5 1 2-6 10 0 4 1 2 5-6 3-8 2-2 2 1 4-13 1-8 3-2 1-4 6-2 1 5 6-7 1 0 0 6 1 1 1-3 3-2 2 0 2-1 3-1 1 6 2-1 2 2 4 1 2 1 8 2 2-2 1 1-1 2 2 2-4 2-1 2 1 2 6-3 2 1 0 4 4-2 1 2-2 4 1 2 3-4 2-4 1 0 2 1 2 5 4-1 6-4 2 5 5-6 5-14 2-2 0-2 2 1 3-5-1-4 2 0 4-4 2 0 2-2 4 0zM656 998l0 4-3 2-4-5-2 0-1 1 3 4 4 2 0 5 2 2 4 0 5-5 0-2 4-4-11-5zM637 1004l0 4-3 4-1 6-6-11-2 0-4 9 0 7 4-2 2 1-4 4 2 6 4 7 7-7 7-19 3-1 1-2-2-3zM663 1016l0 5 1-5-1 0zM833 1028l-2 6-1 4-4 2-1 2 0 3 2 4 2 1 2-1 9 1-5 8-4 2-1 4-7 2-4 4-1 6 1 9 3-3 11-16 7-6 5-9 2-1 2-6-2-2-2 2-4 1-7-3 5-2 4-4-2-1-4 2-4 1-1-2 2-2 3-6-2 0zM715 1034l2 2 2 0 1-2-1-1-2 0zM636 1036l1 2 0-2zM513 1052l-4 6-8 1-2 2-5 5 1 2 10-4 2-2 2 0-1 8 1 2 5-16-1-5zM555 1056l-2 1-1 1 1 2 2 1 3-3-1-3zM741 1058l-5 4-2 6 0 6 1 7 2-3-1-2 1-2 2-3 3-1 1-4 2-2zM576 1084l1 2 2 0 2-2-4-1zM673 1106l-2 2 2 2 2-4-2-1zM444 1110l1 4 2-4-2-1zM449 1116l-3 2 1 18 4-2 1-6-1-12zM685 1120l0 3 2-3zM683 1124l-6 6-1 4 1 3 5-5 2-4zM763 978l2-1 4 1-1 4-2 2 1 8 1 0 3-4 5 6-1 5 0-3-4 0-2 2-4 0-4 2 4 2 4-2 3 0-3 5-2 7-5 6 1 4-2 2-4 0 0-2-4-2-8-3-3-5 1-1 6 1-5-12 10-8 1-2-1-2 1-2 5-4zM759 994l0 3 4-3zM771 982l2-1 3 1-1 4zM683 983l4-1 1 4-3-1-1 5-2 2-1 5-2 2-2-4-3-3zM697 982l7 1 1 1 5 0 1 2-1 4 2 4-6 10-1 4 0-10-2-1-4 0-6 4 0-1 2-2 2-4-2-1-2-1 3-4-1-2 0-1zM781 983l2 0 0 1 0 2-2 4zM795 983l6 5 2 0 1 2-2 6-2 4 1 6-2 2 0 2-2 1-2-3-2-2 3-4 0-2-3-2 2-4-1-8zM691 994l1 0 0 2-3 4-2-1 0-1zM735 994l2-1 4 3 1 2-1 2-2-1-3-3-1-2zM893 993l1 1-1 4-2-1-1-3zM899 993l2 1 0 2-4 3 0-3zM873 998l10 8 2 0 2-3 1 3-6 8-1 3-4 2-4 4 1-9-1-2-2 1-6-1-4 2-2 2 2 2 8-3 1 1-3 11-5-1-1 3 0-5-6-8-2-1-4 3-1-2 1-6-4-4-4-4 2-2 2 0 6-1 2 2 2-2 2 3-2 8 0 2 6-2 2-2-3-2 1-2 2-2 4-2 4 1zM836 1002l4 4 0 2-1 4 3 10-9-4-6-2-2 0-4 9-4-3-2 1-6-7-2 2-2 0-1-4 0-4 5-5 2 1 0 4 2-3 2 3 2-1 2-3 6-1 2 1 0 6 6 2 2-1 1-3-4-2 0-4 1-2 3-1zM911 1001l3 3-5 7-2 0 0-1 1-4zM945 1007l6 2 2 1-1 8 1 2 4-5 14 6 5 3-1 4 2 3 6 1 4-1 2 1 8-8 6-1 0 13-6-3-1 3 2 4 3 4 2 0 0 4-6 3-3 3 1 4 8 3 0 10-2-2-2 1-2-4-4-2-2 0 2 5 10 6 0 12-4 4-8 2-2-1 0-6-3-6-3 1-4-3-14 5-6-6-2-5-1 2-3 2-4 1-3-1 1-14 2-6-1-8 2-2 3-8-2-2-6-1 1-5-1-1-6 7-2 8-2 2-9-6 9-4 2-2-2-1-13 5 1 4 9 10-1 10 0 2 2-2 2 0 0 2-7 16-1 2 4 10-5 8 1 6-2 2-6 2 4 10 2-2 8 2 0 2 0 4 3-6 3-2 16 4 6-1 1 1-1 2-9 10 3 4 2-2 1 0-4 6 0 2 1 2 2 0 6-4 6-12 10-5 6-1 2-1 3-11 5-6 2 0-3 12-5 9 2 6 4 0 2-1 3 0-7 4-2 0-1 0 0 4-4 2 4 2-2 14-7 0-2-1-1 1-33 0 5-4 0-2-2-2-5-1-2 1-2 0-3 2-1 2 1 4-16 0-1-4-4-6 5-2 2-8-3-5-2 0 0-3-5-4-7-8-4-1-4 2-2 0-2-2-1-3 0-6 4-8 0-4-2-4-9-4-1 0 4 8-1 4-2 0-4 5-6 2 1-3-1-2-4-4-3 2 2 10-7 2-2 4 0 8 6-1 2 1-3 4-1 4 1 4-7 3-3 3 3 2 6 1 1-1-1-2 2 0 0-4 8 0 2 4 4 5 2 1 4-2 2 0-1 8-3 4-8 0-2-6-2 4-2 0-5-2 2 4-10 0-1-6-1 4-3 2-1-2 2-2 1-2-1-2 0-2-3 1-3-3 1-4-2-6 2 2 2-4-2-5-2 0-2 3-2 1-6-3-8 7-6 2-2 0-5-7 1-2 4-6-1-4 1-2 6-2 8-1 2 1 2-1 3-7 2-4 10-12 2-4 3-1-1-5 2-6 25-6 6-8 2-10 7-10 2-8 5-1 4 2 2-2 4 3 2-2 1-4-5-3-2 2-1-1 1-4-5-4-1-3-1-1 1-1 4 2 2 5 2 0 3-2 0-10 1 0 6 2 12 1zM961 1022l6 6 2-2-4-4-2-1zM1001 1028l-2 2 2 3 1-1zM966 1030l-2 2 0 6-2 2-5 13-6 2-1 1 3 5 4 3 2 0 1-2-3-5-2-1 6-1 2-3 6-12 1-6-3-5zM989 1046l-2 1 0 3 2 0 1-2zM895 1064l-4 8 0 6 10 10 5 2 2-2 0-4-2-4-2-2 2-4 1-4-6-2-4-4zM861 1092l-2 2 2 2 5 2-1-2zM974 1142l-9 4 2 2 6-2 2 0 4-2-1-2zM983 1142l-1 2 1 2 1-2zM860 1148l-1 3 2-1 0-2zM981 1148l0 6 2-2 1-4-1-1zM785 1010l3 2-3 6-1-6zM777 1012l4-1 2 1 0 2-4 5-2-5zM733 1014l3 0-7 9 0-3zM793 1016l1 2-2 4 1 2-2 2-8 3-6 0 2-3 12-4 0-2zM897 1016l5 0-7 6-1-4zM409 1017l2 0 5 3 1 2-4 1-2 2 4 0 4-2 2 2 2 0 2 3-1 4-5 7-2-2-2 3-8 3-1 1 0 4-1 1-4-3 0 2 2 1 2 4 0 3-2 0-2-3-6 1-8 3-2 0-2-2-1 1-3 15 4-1 2 5 4-4 2 2 2-1 3 4-1 6-16 23-4-3 0-2-2-2-2 0-1 4 7 5 5 5 1 1 6 0 1-1 1-9 7-13 1-6 2-2 5-2 1-2-1-2 2-8 6-6 10-24 7-11 3 3-1 4 2 2-1 2 1 2 8 0 1 2-2 6-3 5-3-3-1-6-4-3-2 0 0 3 0 2 3 0-1 4 4 2 0 6-2 7-4 0-2-1-2 0-1-2 1-2 2 2 1-4-5 0-1 4-3 4 0 2 2 0 2-3 1 5-1 4-2 2-6 0-1 0 1 2 2-1 4 3 2 2 1 4-3 8-6 8 1 4-1 2-2-1-3 3 1 4-2 2-2-1-8 3 1 2-2 2 0 2-3 4-10-2-4 4-1 2 1 2 4 5 4 1 0 3-4 1-4-2-4-4-10-1-4-4-4 0 0-3 2-2-2-2 0-6-2 0-1 6-5 4-2-2-4 1-4-3 1-8-3-3-1-1 3 1 4-4 7-3 1-8-1-4-3-4-10-2 0 2-2 2-4 0-4-2-2 0-4-2-4 0-12 6-12-4-16-2 0-4 2-2 6 3 8 1 4 3 6 0 8-5 6-1 10 0 2 3 2-2 4 1-6-5-2 2-2-4-4 1-5-5 3-2 1-2-2-2-9-2-2-4-6 0-4-2 0-2 9-6 1-6 4-1 4 0 2 2 2 0 8-1-2 4 2 2 2 0 2-2 2-4 4 1 6-3 1 8 2 2 0 4-3 1-2-1-5 8-3 4-1-6 3-6 4-4-2 0-2-1-6 0 0 3-2 2-6 0-5 2 3 6 2-3 2 5 4 0 1 0-1 2 1 2 3 3 2 0 6-3 4 0 1-6 3-2 2 1 2 3 4 4 4-2 2-3 2-1 4-1 4 3 4-10 3-2 1-5 2 1 7-4 3-9 3-1 2-10-1-4-3-4 1-2 2-1 2 1 8-1zM317 1054l-3 4 1 1 6 0-2-1zM393 1078l-1 2 1 2 2-2 0-2zM377 1088l2 2 1-2-1-1zM359 1090l0 3 3-3zM364 1096l-6 6 1 6 0 12 1-12 3-4 2-1 2-5 0-2zM368 1118l-1 6-4 4 2 2 2-1 12-4-2-2-3-1-1-5-4 0zM891 1024l4-1 2 2 2 5-1 2-3 2-4 6-3 2-1 4-4 1-1-1 0-2 3-6-1-8 5-6zM811 1028l2-1 2 1-6 3 0-3zM881 1028l2 4-3 12-7 5-1-3 2-8zM855 1029l4 2 2 3 3 2 0 2-1 2-2-1-7-7-1-2zM381 1032l1 2-8 10-1 4-4-1-4-3 0 4 5 4-5 4-4 7-1-3 2-4-1-1-4 1 0-4 2-8-2-1-4 4-1-5 1-2 4 0 4 3 0-4 10-2zM567 1034l2 2-2 4-1-4zM765 1044l2-1 10 5 0 4-1 2-7 1-3-1-2-6zM281 1045l4 1 6 4-2 4-4 1-4-2-2 0 1-3 0-4zM223 1051l1 1-1 6-4 4 0-6zM621 1058l2 2 1 2 3 2-2 3-4 1-2-3-1-5zM167 1060l12-1 4 4 4-1 12 4 10 5 8 2 2-1 6 0 8 4 8 9 12 1 14-2-2-2-12-4-12 0-12-9-8-2-2-1-4 1-3-1-7-4-1-2 3 0 4 3 6-1 2 1 8 1 10 3 6 7 2-1 16 1 6 5 2 0 6 2 0 2-2-2-2 2-1 1-1 3-4 3-8 0-5 4 5 4 10 0 2 2-2 4-2 1-4-1-6 4 0 6-6 6 0-4 2-10 3 0-3-7-2 3-2-3-2 2-1-1 0-2 3-2 2 1 2-3-6-3-6-3-14-9-8-1-2-2-2 2 2 2 8 2 3 4-1 2 1 6-2 6 1 6 5 10 1 0 1-2 3 0 3 6-3 4-8 6-1 2-1 4 1 14-1 8-58 0 0-2-1-4 1-6 0-34 2-10-3-4 0-10-1-2 3-4 0-10 2-8-3-4zM228 1118l1 2 0-3zM237 1060l5 0 5 3 2 3 2-1 0-3 2-1 2 0 2 3-6 3-6 0-5-3zM285 1060l0 3-1-3zM395 1060l5 0-3 4-6 4 1-4-2-2zM293 1063l4 0 6 4 1 5-3 2-2 0-6-3-1-5zM547 1064l1 0-7 12-2 2-2-4-1-4 4-4zM261 1067l1 1-1 2-1-2zM275 1068l3 0 0 2-3 1zM279 1072l2-1 4 0 6 7 4 2 10 1 6-4 4 0 1 1-15 7-6 2-1-3-10-6zM671 1080l6 5 9-3 1 2-2 1-4 12-2-4-6 0-3-3-2-6 0-2zM719 1082l3 0-2 2-1 3-2-2-4 1 0-3zM599 1084l8 0 1 2 1 4-2 5 2 1 4-3 0-4 2-3 2 0 10 6 1 2-5 9-4 3-6-4-2 3-2 0-4 3-8-9-2-1 2-6 1-8zM599 1092l0 3 1-3-1 0zM513 1086l-1 6-3 1 1-5zM547 1092l6 7-2 0-4-2zM275 1094l2 0 8 4 0 2-8 2-2-2-1-4zM557 1096l1 6-3 4-1-6 3-2zM987 1096l2-1 1 1 2 4-1 2-6 8-4 1-5 3-1 2 3 6-3 1-4-4-4-7 0-6 2-2zM315 1098l4-1 2 2 6 1 2 3 2-2 2 1 0 9-4 1-2-4-8 0-2 2-1 4 8 8-3 8-12 0 7-4-1-1 0-5-2-1-4 2-6-3-3 2 1 5-8-3-2-3-2-1 0-3 2 2 2-6 2-1 2 2-1 4 1 5 1-5 0-4 3-6-2-2 0-2 14-1 1-3zM575 1100l1 0-1 4-1-2zM741 1100l8 3 3 3-1 4-14 0 2-9zM150 1104l4 4 0 2-3 6-2-1 0-12zM273 1103l6 0 7 7 0 2-3 3-8-5-2-2zM565 1107l2 0 0 2-2 1 0-2zM595 1108l3 0-3 3zM759 1111l2 2 1 1-1 1-3-3zM557 1116l2 0 0 3 2-1 1 0 2 6-3 2 2 3 4 1 5 4-1 4-2 1-2-2-6 3-4 9-8 4-6-5-4-1-2 3-2-1-8-6-1 1 1 2 3 4 7 5 2-2 5 5-20 0-1-3-2 3-18 0 1-2 5-4-1-4-2-2-2-4 7-5 2 4 2-2 4 1 6-5 2 1 12-12 2-4 1 2-2 2 3 2 0-2 2-1 2 3 6 6 2-1 1-1 0-4-3-4zM539 1134l-2 4 0 2 3-4 0-2zM549 1136l-1 2 1 1zM547 1140l0 3 1-3-1 0zM795 1119l2 8-2-1zM579 1122l5 0 0 2-3 4-2 0-1-2zM741 1124l1 2-5 6 0 3 0-9zM785 1125l2 3-4 5-2-3zM501 1127l2 0 2 1-2 8-4 3-4 0 0-5-4-2 2-2 6 0zM495 1134l2 2 1-2-1-1zM767 1128l4 2 2 3 4-1-4 4-1 2 1 3 2 2 4 0 2 2 2-1 2-4 2 6 6 0 0 2 3 6-1 4-27 0 1-2-1-4 3-2 2-6-1-2-3-1-3 1-1 12-2 4-17 0 1-3 7 1-2-10 3-3 7-3-1-10zM875 1127l6 3 0 4-6-1-2 2-2-1zM283 1130l2 2 2 1-6 3 1 4-2 2 2 0 3-2 6 2 3 2 3 0 3-2-4-4 3 0 2 2 4 0 2 2 4 0 2 2 4 0 2 5 2-3 2 0 0 5 1-3 5 0-2 6 0 3 2 1-39 0-1-1-2 1-6-4-4-1 0-1 1-2-1-1-2-1-2 2-2-4 4-4 1-6 5-4 1-2zM483 1129l2 2 0 3-2-2-1-2zM507 1132l1 2-1 1 0-1zM589 1134l3 4-1 5-2-5-7-2zM357 1135l3 1-1 2-2 2-1-2zM721 1136l4 0 8 3 4-1 2 0 0 2-3 6 1 2 2-4 2 2-1 4 1 8-35 0 11-8-2-4-4-1-3 1-1 3-1-3 2-2 6-4 1-2zM157 1138l1 0 0 4-4 6 7 6 2 4-6 0-8-6 0-5 2 1 2-2zM579 1137l2 1-2 1-1-1zM1003 1142l0 16-4 0 2-7 2-1-1-4zM247 1144l2-1 2 0 2 3-4 4-3 8-5 0 0-4 6-6zM489 1144l2 2 4 0-2 3-4 0-1-3zM589 1144l1 2-1 2-1-2zM581 1148l3 0-1 4 5 6-29 0-2-1-4 1 2-2-1-2 1-1 4 2 2-3 2 0 4 3 6-5 4 0zM829 1148l2 0 2 4 2 0 2 3 4-3 2 2-2 3-4 1-23 0-1-2 2-4 8 2 2 0zM335 1150l6 0 3 2-3 6-5 0 2-4-1-2-3-2zM845 1150l5 4-5 0-1-2zM705 1152l0 5-2 1zM603 1154l2 1 4-1 2 4-12 0zM375 1156l15 0-1 2-15 0z"/><path fill="#d4ff2b" d="M737 976l0 5 2-3 2-2 2 2 0 2-5 8-1 1-2-2-4 5-6 6-4 6-4 8 1 6 3 4 0 8-8 2 0 3-4-4-1-3 1-10-10 0-2-2-1-2 7-4 1 3-2 2 1 1 2 0 6-8 4-13 2-1 2-3 5-9 7-5 4-1 2-1zM765 980l2 0 0 2-2 2 1 2-1 6 4 0 2-3 4 5-4 1-2 3-6 0-3 2 1 2 6 0 2 2-3 8-5 6 1 5-3 0-6-3-8-3-2-5 9 2-1-2-6-8 0-4 10-6 2-8zM763 992l-4 1-1 1 1 4 4-3 1-3zM759 1014l-1 2 1 1 1-1zM683 984l2 4-1 2-2 2-3 6-3-6 3-5zM795 983l8 7-1 6-3 4 1 2 0 4-3 5-2-4-2-1 3-4 0-2-2-2 2-4-2-6zM695 986l6 0 4 2-4 5zM651 990l1 2-1 2 1 2 3 2 1 5-3 1-2-4-2-1-4-1 4 6 2 1 2 1 0 6 2 2 5 0 8-12-1-1-11-5 3 0 4 2 6 1 4-1 1 4-3 2-1 2 0 2 1 1 6-4 2 1 0 4-8 16 0 4 2 0 1 6-1 3-2 1 4 7-6 4-1-3 0-2-5-6 0-6-2-1-4 0-3 5 1 2-1 6-10 16-1 6-4 6-4 2-1-2 2-4 12-24 0-2-9-6-2-6 2-10 4-8 4-2 0-2-2-3-8-3-1 0 1 2-1 4-2 2-1 4-6-13-4 6-3 7 1 8 2 0-2 1 0 5 8 10 2 0 0 4 3 4-1 2-10-5-2-3-4 0-2 2-2 6-1 10-7 12 1-18 6-16-1-1-3 5 1 2-3 2-1 6-1 2-7 4-6 0 0-4 4-6-1-4 3-6 0-6-6-5 0-2 4 4 2-1 5-10 7-5 0 5-5 10 0 4 1 2 6-6 2-4 0-4 4 0 5-14 1-6 4-8 4 0 0 6 4-6 2-1 2 0 0 5 2 0 2-4 6 1zM629 1000l0 2 2-2-2-1zM666 1008l1 2 2-2zM665 1010l-1 2 1 2 1-4zM663 1014l-1 2 0 6 1 1 2-7-2-2zM648 1032l1 2 1-2-1-1zM649 1036l0 5 1-1 0-2zM737 994l4 2 0 3-2 0-2-3-1-2zM709 995l0 4-1-1zM875 1000l6 4 2 2 2 1 2-2 1 1-7 9-6 4-1-7-1-1-8 0-7 5 3 2 8-2-2 9-4 1-1-2-7-10-2 0-4 4-1-2 2-10 3-4 2 0-1 8 1 4 1-2 5-1 4-3-2-2 8-3zM833 1004l2 0 1 2 3 1 1 1-2 2 2 11-9-5 4-2 2-4-2-1-2-1zM911 1003l1 1 0 2-3 4 0-4zM809 1005l2 1 0 4-2 6-4 3-1-5 1-4zM825 1006l2 4-1 4-2 2-1 4-2 3-4-2-2 1-3-8 1-4 4 0 2-3 2 1zM689 1008l2 1 1 1 1 6-2 2 0 2-5 4-2 2 2 2-3 3-2 1-1-2 1-14 2 2 4-1 0-7zM943 1009l4 1 4 4 0 4-4 3 8 2 2-1 0-4 4 0-1 4 6 6-2 4-1 6-1 2-5 12-4 1-2-1 0-2-2-2 5-4 2-4-1-4-2-2-6-1-2-5-4 5-8 0-8 4-4 0-1-1 3-4-2 0-12-10-2-6 2 0 2 1 2 5 6 1 4 4 4 2 0-3-2-2-2 0-4-6 0-6 2 1 12 0 2 1 0 2 2 2 3-1-1-5zM897 1016l3 0-1 2-4 2-1-2zM409 1018l2 0 2 2 0 2-3 2 1 2 6 0 6 1 0 5-4 6-2-3-4 4-12 5-2 0 1 4-1 2-6 3-1-1 3-10 2 1 2-3 0-16 2-2 6-1zM404 1032l3 1 1-1-1-1zM829 1019l9 7-6 2-3 9-6 0 0-3 4-6zM963 1020l6 1 5 3-1 6 2 2 10 1 2 2 2-1 6 6 4 2 0 2-3 4 0 2-3 2 0 10-2 1-1 1 3 6 2 1 2 0 2 3 4 1 0 11-4 4-2 1-6-1 0-2 1-2-3-2 0-6-2-2-1 2-3 2-4-4-2 0-7 4-3 1-8-6-2-5-2 4-6 0-2 2 1-14 1-3 8 6 3-1 2-2-4-6 3-1 4-3 4-10 0-6 1-2-2-6 1-2 0-2zM987 1046l0 5 2 0 1-3 0-2-1 0zM585 1022l1 0-7 9-3-1 2-2 1-3 2-2zM785 1024l6-1 1 1-9 4-5 0 1-2zM571 1025l2 0 2 2 1 1-1 2-6-4zM893 1026l2 0 1 2-3 8-4 5-4-2 0-3 2-6 2 0zM555 1028l2 4-3 4 1 4-4 10 0 6 2 4 2 1 2-1 8-15 1 9 5 4 1 2-3 5-2 1-6-4-4 1-2 3-6-6-4 0-2-2-6-8 2-5 4 2 3-1-3-2 1-4-7-2-1-2 1-2 3-2 9-1 2-2zM839 1028l4 3-4 4-4 0 2-6zM881 1028l2 4-3 10-3 4-4 3-1-3 3-8zM1003 1028l0 7-2-1 2-2zM431 1029l2 1 0 8-2 2-2 1-1 3 1 2 2 2 0 5 2-1 2 2 0 4-2 4-2 2-3-4 1-4-6 2-6 14-6 5-4 0 1-5 2-6 6-6 8-22zM727 1030l1 8 5 2 0 2-10 1-3-5 1-3zM855 1030l4 2 1 2 3 2 0 3-2-1-5-4-2-4zM567 1034l1 2-1 3zM907 1034l4 1 2-2 2 1 0 5 2-1 4 3 10 13-1 4 0 6 2 2-6 16 3 8-4 10 0 2 1 2-1 3-2 1-4-1-4 1-1 2 1 2 4 3 2 9 4-4 6 2 2 6 2-4 8-2 8 0 6 2 1 2-7 8 1 2 0 6-1 4-2 2-8-1-4 2-1-5-1 0-1 0-1 8-2 4 4 1 1 1-4 0-1-1-2 1-6 0-5-8 1-1 4-2 2-3 4 0 1-2-1-2-4-1-2 2 1 1-3 3 0-3 2-2-1-6-10-10-2-4-5-4-8 1-2-3 0-8 3-6 1-6 2-2-8-4-1 0-1 3-8-6-1 1 0 2 6 8-3 1-4 7-4 0-3-6 0-2 5-2 1-2-3 0-4 1-4 6-2-1-7-8 1-4-2-2 3-6 2-2 3 0 2 1 2-3 2 0-2 6 0 1 2-3 1-4 11-4 5-6 4-14 7-9 2-1 1-2zM903 1044l-2 2 0 5 2 0 2-3-2-5zM915 1060l-3 2-3 8-6-2-6-6-4 2-2 6-2 6 1 2 11 12 4 2 4-2 1-2-1-4-3-6 2-4-1-2 0-1 2 0 2 2 2-1 2-10zM377 1036l3 0-8 10-3 1-4-4-1 1 1 5 3 1-1 4-6 9-1-3 2-2 0-4-3 1-2-3 3-8 2-2-1-2 4-2 2 1zM685 1035l8 3-2 4-3-2-3-4zM935 1036l0 9-8-5zM843 1038l2-1 2 1-2 4-4 1-3-1zM355 1042l0 2-2 3 0-4zM433 1041l4 2 2-1 3 0 0 6-3 5-2-4 0-5-4-2zM695 1042l2-1 2 2 4 1 4 10 2-1 2-3 2 1 2 2 2 1 2-2 4-1 10-8 4 3 6 2 4-3-1 3 1 4-2 2 0 4-2 2-2-3-10 9-2-5-2 3 2 4-4 2-6-2-4-3 0-3 2-1 2 0 4 4 4-1-5-4 0-2 1-2-2-1-6 0-6 5 2 2 0 1-6 2-4 4-8 4-4-3-4-12 2-1 2-3-3-2 1-5 6-3zM819 1042l2 10 4 5 6-2-1-3 1-1 6 2 1 1-3 3-2-1-3 4 0 4-7 0 0 2-4 4-2 6 0 11 5-3 7-12 2-1 2 0 2-1-2-2 4-3 6-8 2 1-5 10 3 4 8-4 0 11-4 1-4 6-2-4-3 2-4 0-1 3-6-4-2 0-1 3-1 6-1 2-5 4-2 5-4 0-2 4-4 3-4-2-4-5-2 0-6 1-2 2-6-1-2-3-4-2-2 0-2 4-7-2 0-4-7-6-6-12 2 0 6 2 3 4 5 10 2 2 4-2 2-4 8 6 2 0 1-2-5-6-1-2 3-1 4 1 3 2 2 6 3 1 2-2 2-1-2 0 0-2 0-8 1-10 4-4 4-6 3-7 4 0 2 2 3-1-3-4-2 0 0-2 2-6zM808 1088l0 4 1 1 2-5-2 0zM883 1042l2-1 1 1 0 2-1 2-2 0 0-2zM449 1043l3 1 2 10-7-2 0-2 0-4zM851 1044l6 0 5 2 7 6 0 3-6-1-12-8zM281 1046l2 0 6 2 1 2-1 3-4 1-3-2-2-4zM473 1045l2 1-6 8 0-4zM767 1045l2 0 6 3 0 4-4 2-4-1-2-5zM313 1047l4 1 2 3 6-1 2-1 1 1-2 2 5 4-1 2-1 1-6 0-6-6-3 5 1 2 4-1 2 1-4 2 4 6-2 1-8-2-2-3-6-1-4-3 8-4zM345 1048l1 6-1 2 0 1 2 0 0 3-2 0-10-8 0-2 2-1 3 1zM503 1048l3 2-1 4 2-3 4 0 1 1-3 5-2 1-4-1-6 5-3 4-4 10 1 2 8-12 2 0 6-4 1 6-2 4 1 3 1-1 3-4 0-2 4-15 2-3 8-1 2 3-3 4-1 4-8 12-2 0 1 2-1 3 3 1-5 4-4 6-4 3-2 0-4-3-2 0-1 2 3 4-1 4-1 2-4-4-1 0 1 4 3 2-5 3-2 9-4 2-2-2 1-4-1-2 0-3 2-1 1-8-1-1-2 1 2 2-2 3 0-5-1-2 1-1 2 1 1-2 0-6 3-9 2-1-1-6-1-1-2 1-4 2-4-1-4-3-2-5-8 2-2 2 0 5-2 2 1 6-13 22 1 4-5 4 0 2-3 4 3 2 1 0 5-9 2-2 2 0 0 6 8 0 2 1 2 8-4 13 1 3-1 7-2 2-2 0-4-6-4 1 0 4-2 6 2 5 3 1-29 0 6-4-4-1-2-4-4-1-2-3-4 0-2-7-6 2-3-2-5-6 4-7 2-1 0-2 6 0 3 4-2 8 1 4 10 2 0 3 2-1 4 2 2-1 2 2 2-1 9 2-7-8 1-8-2-4 1-2-2 0-4 2-4-6-2-6-2-2 0-1 2 1 4-2 4-4 0-3 2 3 4-1 8-9 6-10 2-10-4 1-8 15-4 0-1-2 0-4 1-4-1-4 1-2 6-4-2-6 2-6 6-2 6 2 2-3 6 1 16 1 2 2 3-3 1-2 1 4-1 5 6-4 4-5 1-4-2-2 1 0 2 2zM446 1116l-1 2 1 16 1 2 2 2 3-6 0-16-3-1zM223 1051l1 1-2 6-3 3 0-5zM389 1054l2-1 1 1-4 0zM479 1054l0 4-1-2zM385 1056l2-1 1 1zM847 1055l1 1-1 2 0-2zM799 1058l2-1 1 3-3 6-1 4-5 8-2 7-3-3-1-8 6-10zM167 1060l12 0 6 5 2-2 4 1 8 2 9 4 9 3 2-1 6 0 8 4 8 10 18-1 7 1-1 3-8 1-6 4-6-4-6-2-14-10-8-1-2-1-2 2 2 3 7 1 3 4-1 2 1 6-2 8 5 14-2 4 1 2-2 4 1 2-2 8 1 12-1 10-57 0 0-46 3-6 0-4-3-4 0-10-1-2 2-4 2-18zM339 1059l2 0 2 1-5 8-3 2 1-6zM377 1060l2 0 1 0-1 12 4 0 2 5 4-5 2 1 3-1 1 4-5 6 1 2 2-1 1 1-13 17-4-1-2-2-4-1-1 1-1 2 0 4 5 2-2 8-4 2-1 2-3-10 4-10-1-3-2-1-1 0-5 6-2 0-2 2-1-2-1-6-4-4-4-2-4 0-7-6-7-2-4 0-2-4 6-6 2 0 0 5 8 4 6-1 3-2 1-8 2-2 3 4 5 5 4-2 2-3 2 1 4-3 4 2zM381 1080l0 6 2 0 1-2zM375 1086l-1 2 1 2 4 0 2-2-1-2zM365 1088l2 2 2-2-2-1zM359 1090l-1 2 1 1 2-1 2 2 1-4-5-1zM619 1060l2 3-2 0zM997 1059l6 3 0 8-4-1-3-5 0-4zM217 1062l2 2 8 0 10 4 6 6 2-1 16 2 3 1 3 4 2-1 3 1-3 2-16-4-12 0-10-9-4-1-6-1-2-2-6 2-3-3zM239 1061l6 1 4 4-6 0-4-4zM253 1061l3 1 0 2-1 2-2 0-1-2 0-2zM393 1062l3 0-3 3-1-3zM293 1064l2-1 8 5 1 4-3 2-2 0-5-4-2-4zM623 1064l2 2-4 0zM783 1063l2 3-4 5 0-3 2-2-1-2zM545 1066l0 2-4 7-2 1-1-4 1-2 4-4zM423 1067l0 3-2 4-1-2 0-2zM551 1068l2 0 2 4-2 2-2 1zM645 1068l5 2 6 6 0 2-3 0-8-6-2-4zM281 1072l4-1 8 9 8 1 5 1-5 3-6 0-11-7-4-6zM581 1072l2 0 2 4 2 1 2 0 1 1-5 0-1 2-3 2-2-2 0-4zM739 1073l2 0 1 1-5 3 0-2zM309 1078l6 0-8 4-1-2zM411 1080l4 0 5 2 3 4-1 6-3 4-5 4-1 2 1 2-1 2-4 0-7 2 1 2 2-1 2 0 2 3-2 2-2-1-10 3-3-12 1-4 6-8 3-8zM565 1080l4-1 4 2 1 1-1 6 4 6-2 2-6-2-4 0-1-12zM729 1080l2 2 2-3 2 3 2-2 8 0 3 8-1 2-2 3-2-4-2 0-10 2-1 3 1 2 6 2 0 2-4 8-10-2-2-1-1-3 1-2 4-3 0-9zM671 1081l6 4 6 2 1 1-3 6-8-3-2-2-1-5zM281 1084l6 3 6 1 1 2-5 1-10-1 0-4zM315 1086l14 0 2 3 2-2 3 1 1 2 0 2-6 1-2-2-2 1-4-3-6 0-6 2-1-1zM601 1085l4 1 1 4-1 1-5-5zM511 1088l1 0-1 4-1-2zM619 1088l7 4 1 2-4 9-4 1-2-4 1-6-3-4 2 1zM469 1090l1 2-1 2zM637 1092l2 1 1 3 3 1 2 6 4 3 2 4 4 0 1 4-3 2-6-5-6 3-2-2-2 3-1-7-7-1zM699 1092l2 0 6 1 3 3 0 4-3 4 0 9 4 0 1 1-3 8-8 15-1-1-1-6-1 2 1 2-2 1-2-3-6 5-6 0-2 3-4-1-5 1-3 3-8-1-7 2-1 2-2-7-6 0-4-1-3 2-1 2-4 4 1-6 4-6 0-4 1-2 6-3 10 1 2-1 0-7 1-6 3-4 4-2 4 0 1 0-1 2 0 5 2-1 3 0 2-2 3-6 12-1 6-3zM691 1110l-1 2 1 0 1-2-1 0zM689 1114l-6 9-8 9 0 4 2 2 2 0 0-2 4-4 2-8 4-8 0-3zM665 1126l0 7 5-3-1-2zM857 1092l1 2 3 4 6 2 1 2-1 6-4 4-3 6 0 6 1 1 7-1-4 8 1 4-6 1-6 5-2-2 3-10-1-4 2 0 2-6-4 3-4 1-4 4-2 4-2 0-6-3-6 6-4 2-4 0-2-5 3-6-1-6 0-1 18-1 4-10 2-3 2 8 3-5 0-10 3-4zM845 1116l0 7 2-5-2-3zM277 1094l6 4-2 2-6-2 0-3zM475 1094l4 0-4 8-2-6zM547 1094l4 2-3 0zM251 1096l6 2 7 0 3 2 0 3-6 0-4 3-2-3-2 0zM249 1098l2 0-2 3-1-3zM317 1098l2 0 2 2 6 1 2 2 2-2 2 3-1 6-3 1-2-4-8 0-6 9-4 2-2-2-2 0-6 3-1-5 4-10 3-3 8 1 2-3zM601 1098l5 0-3 4 2 2-2 1 0-3-2-2zM985 1098l3 0 1 2-1 2-5 8-10 4 1 4-1 1-5-7-1-6 2-2zM427 1100l3 2-3 1zM713 1099l1 1-1 2-1-2zM741 1101l5 1 3 2 0 3-2 2-8-1 0-4zM273 1104l4 0 4 4-4 1zM150 1106l4 2-3 7-2-1 0-9zM353 1105l2 1 3 2 0 8-3 10-4 3-2-2-2 0-4 0 0-9-2-2 4-4 8-4zM253 1108l1 0 0 6-5 5 1-7 2-4zM995 1107l1 1-2 8-6 12 0 4-1 8-6 2-8 0-10 3 2-6 6-9 10-4 4 1 3-5 2-8zM377 1109l6 5 11 2 1 2 0 2 2 2 0 2-1 2-7-1-2 1-4-2-2 1 1-3-5-2-1-6zM783 1110l2 0-2 3zM295 1112l1 6-3 3-1-3 1-4 0-1zM233 1116l2 2 1 4-4 4-3 1-1-1 0-4zM361 1117l1 3 1 1 2-1 1 2 0 2-3 3-4-3zM559 1121l1 3-1 2-2 1-1-3zM639 1122l2-1 2 1-4 3zM623 1124l2 1 7 7-1 2-5 4-9 9-2-1-2 0-2-3-2 0 0-3 8-10 1-4zM317 1126l2 0 1 0-1 1zM371 1128l6 0 2 4 7 8-1 2-4-1-6-5-8-1-4-4-2 2-1-1 0-2 1-1 4 1zM501 1128l3 0-2 8-3 3-2 0 0-1 2-4-1-2 0-2zM537 1127l4 0 11 3-7 14 0 2 3-4 4-8 0-2 5-1 4-2 2 1 0 4-8 13-2 2-6 1-8-4-4 1-7-5-1-2-2-1-1 1 2 6 3 6 8 4 2-1 2 1 1 2-17 0 1-6-1 0-5 6-15 0 6-2 2-2-2-6 0-4 10-4 4-4 2 2 2-4zM540 1132l-3 4-2 7 5-5 2-6-1-1zM483 1130l2 2 0 1-2-1zM495 1130l2 2-2 2-2-2zM763 1130l4 0 7 4-5 5-4-1-2-4-1-2zM875 1130l3 0-1 2zM469 1134l4 0 2 0-4 3-4-1zM357 1135l2 1-2 3zM297 1138l2 0 2 2 4 0 2 2 4 0 2 2 4 0 1 2-1 2 3 2 0 2-15 4-4 2-10 0-2-2-2 1-2-1-3-4 3-4-6 0-6-2 2-2 2-1 10-1 4 1 2 2 6 0 2-3zM719 1138l6-1 4 3 8-1 2 1-3 2-1 8 0 1 2-2 1 1 2 8-9 0-4-1-5 1-14 0 3-3 8-5-2-4 2 1 0-3-4-1-2 1-1-2 3 0 1-2zM509 1139l2 1 0 4-4 2-1-4zM869 1139l4 0 10 9 0 2-1 2 1 4-2 1-3-1-1-4-3-2-1-2 0 6-2 1-7-7 1-1 2 1 1-8zM785 1141l2 6 4 1 1 2 2 2-2 2 0 4-23 0 0-6 3 0 3-6 4-1 2 1 3-2zM249 1143l2 0 2 3-4 3-2-3 1-2zM757 1144l4-1 2 2 1 11-1 1-4 0-1 1-12 0 1-2 6 1 3-1-3-8 1-2zM985 1144l2 0 0 2-2 1zM887 1146l1 2-1 5-2 3-2-6 1-2zM979 1145l3 1-1 2-1 6-3 4-20 0-4-1-1 1-4 0 4-4 1-4 2-1 6-2 2 1 4 1 4-2 6 0zM151 1148l2 0 7 6 1 4-4-1-8-6 0-3zM327 1148l1 0-2 4 0 6-5 0-2-2 5-4 1-3zM641 1148l2 3 4 2 2-1 1 2-1 4-9 0-4-4 0-2zM247 1150l1 2-3 6-3 0 0-4zM335 1150l6 0 2 2-3 6-3 0 1-4-1-2zM579 1150l2 0 0 2 2 2 5 4-23 0 8-7 2 1zM829 1150l2 3 3 1 0 2-1 2-17 0 3-4 6 0zM985 1149l2 1 0 2 1 2-1 4-3 0-2-2 0-2 2-2zM1003 1152l0 5 0-1zM859 1154l4 2 2 2-6 0zM377 1156l10 0 0 2-8 0-3 0 0-2zM557 1155l3 1-1 2-2-2zM603 1156l2 1 2-1 1 2-9 0zM309 1158l6-1 1 1z"/><path fill="#ffff00" d="M736 977l-2 11-11 12-5 8-1 6-2 2 6 6-1 6-9 4-1-2 1-4 2-2-3-4 0-4 6-8-1-3-4 3 0-2 2-2 0-4 2-4 2 0 1-4 7-11 6-4zM739 979l3 1-5 9-1-3zM795 984l8 6-1 7-3 3 1 2 0 4-2 2-1 3-2-7 2-2-2-4 1-6-2-4zM681 986l2 1 1 3-5 6-2-4 1-2zM761 986l2-1 2 1 0 3-3 3-3 0 0-4zM629 992l2 0 0 6 4-5 2 0 2 5 4-4 3 2-2 3 2 4 1 1 4 1 2 1-1 6-2 4 1 2 2-2 2 0 6-1 0 5-1 2 0 2 1 2 4-4 0-3 2 4 2-3 1-8 2-4 5-3 2 1 0 4-9 14-1 6 1 4-2 4 4 4 1 5-9-7-1-2 0-8-6 1-4 5-2 1 0-7-4-1-8 1 0-6 4-6 1-4 3-1 0-7-10-3-2 0-6-5-1 2 1 2 2 0 5 4-1 4-2 1-2-5-2 0-2-4-4 6-1-3 2-7 3-5zM737 994l3 2 1 3-2 0-2-3zM757 993l2 5-1 4 1 2 3 0 1 4 4-4 1 0-3 8-4 5 0-7-6 2-1 2 7 6-2 3-6-4-8-3-2-4 8 3 1-1-1-6-6-5 0-3 4 1 4-1 3-4zM765 993l4 1 1 3-3 0-4-1zM653 998l2 4-2 1-1-3zM673 998l0 4-8 7 1-3 2-4-1-2zM875 1001l4 2 6 6-4 1-6 5 0-3-2-1-8-1 2 0 2-3 2 0zM853 1003l2 1 0 8-6 5 1-9zM809 1006l1 0 0 4-2 6-3 2-1-4 1-4zM909 1006l2-1 1 1-3 3zM621 1008l1 2-1 4-1-2zM823 1007l2 1 1 2-3 8-8 3 0-1 0-4 4-6zM837 1007l2 1-2 2-1-2zM689 1009l2 0 2 5-3 6-3 2-1-2 2-4 0-6zM945 1010l2 1 3 5-1 3-4 1 0 4 4 2 1 2-3 1-2-2-8 5-4 1-6 2-13-11-1-2 4 0 10 7 0-7-4 1-2-4-2-2 0-3 4 1 2-2 8 0 4 8 1-3 3-2-1-4zM837 1012l1 4-1 2-2 1-1-3zM857 1012l5 0-3 3-1-1zM605 1016l2-1 2 3-4 6 0 2-2 2-1 4 3 2 4-2 2-4 0-2 2-2 2 1 1-3 1-2 2-5 2 9-2 6 0 5 3 1 3 0 2 2 3 6-1 2-6-2-2-3-2 1-2-2-3 4-1 4-2 12-2 6-4 4 2-16 1-6 4-6 1-7-2 0-1 1-3 7-5 3 0 2 3 2 0 2-2 2-6 3-4 1-2-1 0-3 4-5 2-1-2-2 0-4 2-2 0-4 2-4-4-2 2-1 3-7zM909 1016l3 2-1 4-3-2 1-4zM861 1018l6 0 0 6-2-2 0 2-3 0-2-6zM895 1018l2-1 1 1-3 1zM409 1019l3 1 0 2-3 2-1-2zM829 1020l7 4 1 2-5 2-1 3-2 1-2-2 0-4 2-2zM581 1024l2 0 0 2-4 5-2 0 2-5zM571 1026l2 0 3 2-3 1-2-3zM781 1026l5 0-5 2-1-2zM961 1025l2 1 0 2 2 1-2 3 0 6-2 2 0 3-1-1-1-4-2 0-1-4 0-2zM409 1028l4 0 2 2-2 4-3 2-1 3-2-5 4-4-3-2zM421 1028l2 1 1 1-3 5-1-1 0-4zM839 1028l2 2-2 4-2-2 0-2zM431 1029l2 3-1 4-3 4-2 6 2 1 2 1-1 4 1 2 2-1 1 5-3 5-2-3 1-4-1-1-7 3-6 14-3 3-4 1-1-2 1-4 7-10 1-4 8-18zM551 1030l4-1 1 3-2 4 0 4-4 14 3 6 3 2-1 2-2 0-4-4-6-2-5-6-1-2 2-4 2 0 4 2 2-2 0-2-3-2 3-2-4-4 6-3zM855 1030l4 2 1 2-1 2-4-4zM881 1029l1 3-2 10-3 4-4 2 0-4 3-8zM637 1031l2 0 6 5 4 6-2 1-2-1-6-5zM887 1034l2 1 2-2 1 1 0 2-3 5-4-4zM913 1034l1 4-1 3-2 1-2-3-3-1 3-3 2 0zM971 1034l4 2 2-3 4 0 5 3 3 4 0 4 2-3 7 1 0 2-3 2-4 6-2-7-3 1 1 8 1-2 2 0-2 2-1 6 2 4 0 6-3 6-3 3-4-4-3-1-3-2-1 0 0 4-3 2-2-1-4-4-6-3-1 0-1 2-2 0-2-2-2 3-1-3 1-8 2-1 6 5 5-2 1-1 4 1 4-10 0-2 2-2-2-1-4-1 0-2 2-2 0-8zM976 1044l1 2 2-2-2-1zM982 1044l0 2 1 3 3-5zM977 1060l-11 8 1 2 4 2 2-3 2 1 4-8 0-2zM725 1036l0 5-1-3zM861 1036l1 0-1 2-1-2zM689 1038l2 3-2-1-1-2zM363 1040l2-1 2 1 0 2-2 1-1 1 1 4-2 4 0 1 2-2 2 1-4 7-1-1 0-4-1 0-2 0-2-2 3-8 2-2 0-2zM653 1040l1 4-2 4-8 12-4 12-3 3-2 0 1-5 6-10 8-18zM841 1040l4 0-4 2zM697 1041l2 1 0 4 4 2 4 8 4-2 1 2-4 4 0 2-10 4 3 2-2 1-1-1-1-1-4 1-2-4 4-4-2-1-2 2-2 0 0-3 4-4-4-2 0-2 3-4zM921 1042l8 10-1 2 1 8-1 4 2 4-4 12 2 8-5 12 2 2-1 2-4-2-1-2-2 2-7 4-3 8-4-3-4-1-2-2 0-2 5-12 7-2 2-2 2-4-2-4-2-2 4-4-2-1-2 1-2-2 2-1 4 1 2-2 1-4-1-4 2-2 0-4-2-3-5 7-1 5-4-1-4-8 2-4 8-5 6-8zM919 1092l-2 3 4 2 0-5zM441 1044l0 4-2 0 0-4zM957 1043l2 0 0 4-2 1-4 1 0-3zM281 1046l2 0 5 2 2 2-1 3-4 1-5-6zM449 1046l0 6-2-2 0-2zM731 1046l2 0 12 3 1 3-3 4-2-1-4 3-4 0 0-2-2-1-4 6 0-3 3-6 0-6zM855 1045l8 3 5 4-1 1-2 1-5-4-6-4zM899 1045l2 1-1 4 1 6-3 4-5 4-1-4 2-8zM313 1048l2-1 3 1 1 3 6 1 5 4-1 3-6 0-6-7-4 7 2 1 5 0-3 2 2 7-2 0-6-3-4-4 0-1-5-1 1 0 2 0 2-2zM337 1050l6 4 0 3-7-5zM501 1049l2 0 2 1-2 6-10 10-4 8 0-6-2-2 10-13zM563 1049l2 2 1 3 5 6-2 4-2 1-6-3-4 0 0-2zM815 1050l4 2 6 5 4 5-2 2-2-2-2 1-1 3-4 4-2 4-1 16-2-2 0-6-2-1-1 1-1 4-2 0-2 4-1 2 1 6-2 2-4 0-2 2-10 3-5-1-1-2 2-3 3-1 1-1 8 0 7-3-1-5-2-4-2 1 2-12 6-6 2-6 2 1 0-6 8 3 1-2-3-6zM221 1054l2 0 0 2-4 5 0-5zM507 1054l2 0-2 3-1-1zM515 1054l8-1 2 1-3 2-1 7-8 8-2-3 2-2 0-6 2-2zM518 1058l1 4 2-2 0-2-2-1zM963 1054l5 0-3 2-2 4-2 1-1-5zM485 1058l0 3-2 4-2 1 0 2-2 0-2-2-1-2 1 0 0-2-1-2 3-1 2 3 3-2zM169 1060l10 0 6 6 2-3 10 2 18 8 2 1 2-2 6 0 7 4 5 7 4 3 18 0 5 0 0 2-7 2-6 3-12-5-14-10-8-1-2-2-2 3 2 3 7 1 3 4-2 2 1 6-2 6 2 8 2 4 1 4-2 4 1 2-2 4 1 4-2 4 2 14-1 10-56 0 1-22-1-22 2-8-1-8-1-2-2-10 3-4 1-10 0-8-2-4zM208 1084l1 2 5 2-1-2zM339 1059l3 1-5 9-2-1 2-6zM379 1060l1 4-1 4 0 6 4 0 0 1-1 3-2 2 0 4-1 2-4-1-2 5 6 2 2-2 0-3 4 0 2-3 2 0 0 3-6 9-1 0 0 2-5 1-2-2-2-1-4 2-2-4-2-2 5-4-1-2-2 0-2-3-2 0-2 1 3 4-1 1-4-2-1 5 4 2 0 2-3 3-2 0-2 2-2-12-4-5-1-2 2-2 9 0 4-5 2 0 2-3 4 1 2-2 4-10zM445 1060l4-1 8 3 0 3 4-2 1 1-1 2-1 6-2 2-1 2 2 2-1 6-10 14-1 6-4 5-1 3-5 4-1 2 3 3 6 1 1 14 3 4 4-6 0-17 8-3 3 2 1 6-5 12-2 12-3-6-2-1-2 2-2 0-2 6-2 1 0 4 3 4-1 2-4-1-2 0 0 1-16 0 6-4 6-2-3-6 3 0 2 2 2 0 2-4-4-1-3-5 2-12-5-5-2 3-2 1 0-5-2-2-1-4 1-2 2-1 6 0 1-5 10-10 6-10 2-10-3-1-2 1-8 15-4 0-1-3 4-10 7-8-4-5 0-3zM459 1059l2 1-2 2-1-2zM799 1060l2 0-2 5-1 1-1 4-5 8-1 5-2 0 0-11 4-4 0-2 2-1zM997 1060l6 2 0 4-2 2-2 1-1-3-1-2zM241 1062l6 2-2 2-2 0-4-4zM253 1062l3 0-1 3-3-1zM211 1064l6-1 2 1 8 0 10 4 6 7 4-1 6 1 8 0 5 3-3 3-10-4-12 0-12-9-8-1-2-2-4 1-5-2zM295 1064l8 6 0 2-4 1-5-3-1-4 0-1zM505 1064l2-1 0 5-1 4 1 2 0 2 2-2 3 0-3 6-2 0-1 2 2 2 0 2-2 2-3 1-2-1-2 1-2-2-4 0-1 3 0 2 2 2 0 2-3-1-2 0 0 1 1 2 0 4-3 7-4 5-1-6 2-6 1-8 0-8 2-8 2 1 2 0 2 2 6-7 0-7zM783 1063l1 1-1 2-1-2zM889 1066l2-1 1 1-5 12 2 1 10 9-2 1-6-3-4 1-2-2-4-1-1 4 1 3-2-1-2 0-4 2-4 5-2 0-3-5 1-2-2-4 0-4 6-4 2 4 4-8 2-1 8-2zM349 1067l8 9-2 2-4-4-2 4-2-2 0-7zM645 1068l5 2 5 6-2 1-2-1-6-6zM849 1068l2 4-1 2-1 4-6 7-1-3 2-8zM327 1070l2 6 8 4 2 0 3 2 1 2-2 2-14-8-2 1-2 0-1-3zM281 1072l4 0 4 5 4 3 12 2-6 3-8-2-8-6-2-5zM991 1071l4 3 1-2 1 0 2 2 4 2 0 8-4 6-2 0-1-2-1-3-4-1 2-8-3-4zM387 1074l6-1 1 3-5 6-2 0-2-1-2 2 0-3 4-4zM581 1073l4 3-2 4-2 2-1-2 0-4zM829 1075l2 1-2 2-1-2zM309 1078l5 0-3 2-4 1 0-1zM739 1080l2 3 1-3 2 0 0 4-1 3-2-1-2 2-8 2-2 2 2 8 4-2 1 2-2 2-1 3-4-3-2 1-2-11 0-4 2-4 2-1 2 2 2-2 4-1zM753 1081l4 1 4 4 5 10 5 2 4-2 2 0 0 2-4 1-2 3-6 0 0-4-8-8-5-8zM281 1084l6 3 6 1-1 2-5 1-8-2 0-3zM407 1084l4-1 6 1 2 3 2 5-9 6 0 2 1 5-4-2-6 3-6 6-2-4 0-8 8-8 2-6zM671 1083l2 0 6 3 1 4-3 1-4-2-2-5zM317 1086l5 0-5 2-4 0zM565 1086l2-1 4 3 4 4 0 2-2 1-6-3-2-4zM327 1088l2 2 4-2 3 2-1 2-4 1-2-2-2-1-1-2zM783 1090l4 1 1 1-1 3zM623 1093l3 1-3 7zM883 1093l1 1 0 2-3 5-2 0-2 1-1-4 1-2 4 0zM275 1096l2-1 3 3-2 0zM635 1096l2 0 0 2 6 0-1 6-3 4-2-3-6 1 0-4 4-4zM701 1096l4-1 2 1 0 14-3 8 1 1 2-3 4-2-2 8-8 12-1-2 4-10-1-2-4 2-4 6 1 2-2 2-7 0-2-1-2 1 0-2 2-2-1-2 5-6 0-2 7-12 1-3 4-3zM809 1095l4 2 2 4-2 1-3-2-2-4zM853 1096l13 4 1 2-1 4-7 12-14 8 0-2 5-10 5-6 0-2-4 1-1-3 0-4zM253 1098l8 0 3 2-5 4-2 0-2-5-2 1zM315 1099l4 0 2 2 4 0 4 3 2-2 1 6-1 2-2 0-2-4-4 1-4-1-6 8-6 0-6 4-2-4 4-10 2-2 6 1 2-1zM801 1101l5 7-1 1-5-3-1-2zM367 1103l2 3 3 0 0 2 0 2-3 5-2-2-1-5zM687 1104l2 2 2-1 1 1-6 10-1 2-10 11-4-2-2 0-2-2-6-2-3-5 1-2 0-4 4-5 4 0 1 1 0 6 3 2 8-6 2-2 4-2zM971 1104l10-1 1 1-5 8-6 2-2-2-1-6zM151 1108l2 0-2 6-2 0 0-7zM253 1108l1 4-3 4 0-4zM355 1107l2 1 0 2-2 2 2 4-2 8-4 2-2-1-2 1-2-2 1-8-2-2 1-2zM451 1108l2 2-1 2-1 2-2 0-1-2zM845 1108l1 2-2 8-3 6 3 4 0 2-3 1-6-3-4 3-2-1-2 0-1-4-3-2-1-4 3 0 6 1 2-1 5 0 1 3 1-1 0-2 1-6 2-5zM405 1110l2 3-3-3zM993 1111l2 1-1 4-3 5-2 1 1-6zM377 1114l2 0 3 2-1 2-4-2zM293 1115l1 3-1 1zM233 1118l2 4-4 4-2-1 0-3zM383 1118l2 1 2 1 0 2-2 1-2-4-1-1zM389 1119l2 1-1 2-2 0 0-2zM911 1120l3 0 4 6 7 7 3-1 3-2 2 0 2-2 0-3 2 0 4 2 4-3 5-2-1 4-2 1 6 0 1 1-1 2-3 4 1 4-2 5-4 2-6-1-5-4-2-4-3 0-2 3-4-1-1-4-9-11zM934 1134l1 2 2-2zM363 1122l2 0 1 0-1 2-2 2-2-2zM401 1126l4 1 4-2 1 1 1 2-2 6 1 2-1 1-4 2-1-1-1-5-4-2zM625 1126l4 4 1 2-3 1-1 3-3 2 0 2-6 6-2-1-2 0-1-3 3-2 0-2 3-4 1-6 2 0zM645 1126l2 2 6 0 6 3 4-6 1 5-1 4 2 2 0 2-4 1-2 3-4 1-2-2 0-5-12 1-4 3-1-2 3-4 1-4zM857 1125l2 3 4-2 2 0-2 4-2 0 3 4-1 2-2 0-5-6-1-2zM927 1126l2 0 0 2-1 0zM361 1130l1 0-1 3zM373 1129l4 3 8 8-4 0-6-6-3-4zM501 1129l2 0 1 1-2 2 0 4-3 2 0-2 1-4-1-2zM535 1130l5 0-7 14-2-1-1-1 1-3 0-3zM543 1130l5 0 2 2-6 10-1 5-5-5 5-8zM975 1130l6-1 4 1-1 10-7 0-12 3 3-3 3-7zM553 1133l3 1 1 2-2 4-2 5-6 2 0-3 4-4zM769 1134l3 0-1 2-4 0zM723 1138l2 0 2 3 2 1 2-1 2 1-1 2 1 2 1 4 3 4 3 4-6 0-3-3-6 1-4 2-12 0 6-5 7-3-2-6-3-2 0-2zM301 1140l4 0 3 2 3 5 3 1 1 4-8 1-4 2-2 2-4 0-1 1-4 0-3-3-2 0-3-3 2-4-1-1-10-1 4-2 8-1 4 1 3 2 7-2 1-2-2-2zM413 1139l6 2 5 5-3 1-6-3-3-4zM509 1140l1 0-1 3-1-1zM635 1140l1 0 0 2-1 1zM735 1140l3 0-3 2-2-2zM869 1139l4 1 9 8 0 2-1 2 0 2-2 2-1-6-3 0-2-2-2 4-2 1-1-1-1-2 2-5-1-5zM249 1143l2 0 1 1 0 2-3 2-1-2 0-2zM427 1144l2 0 2 2 0 2-4 4-2-2 0-2 1-4zM521 1144l1 0 1 2-1 4-3 2-2-2-2-2 1-2zM785 1144l2 6-1 2 0 2-3 4-12 0-2-4 0-1 4 0 6 5 0-8 2-1 1-3zM757 1147l2 0 1 1-1 4-2-2zM925 1148l2 2 0 4-2 2-2-1-3-5zM971 1148l6 0 2-1 1 5-3 6-13 0-1-1-1 1-3 0-3-4 0-2 1 0 3-2 7 0zM151 1149l2 0 7 5-1 2-4-1-5-5zM337 1150l4 0 1 2-3 6zM985 1150l0 2 3 2-1 2-1 0 0 2-3-2-1-2 3-2zM573 1151l2 1-2 2-1-2zM829 1151l1 3-1 4-11 0 3-3 4 0zM243 1154l2-1 1 1-1 4-3 0zM579 1153l8 5-8 0-2-2zM637 1154l2-1 4 3 2 2-4 0-4-4zM761 1153l2 0 0 4-2-1-1-2zM323 1155l1 3-1 0zM383 1156l3 0 0 2-3 0-1-2zM539 1156l1 2-2 0zM569 1156l2-1 2 3 3 0-10 0zM751 1158l4 0-6 0z"/><path fill="#ffd400" d="M731 978l4-1-1 11-9 9-2-1 1 2-5 8-1-2 1-4-1-4 1-4 6-10zM739 980l1 2-2 2-1 5 0-3zM795 985l4 3 3 2 0 6-4 4 2 2-1 5-2-3-1-6 0-6-1-4zM681 987l2 1 1 2-5 5-1-3 0-2zM629 992l1 4-5 9-2 2 0-3 2-6 2-4zM635 994l2 0 1 2-5 4-1-2 0-2zM757 994l2 4 0 2-2 2 0 6-3 2-1 4 1-12zM765 994l4 0 0 2-3 0zM653 999l1 3-1 1zM669 1000l2-1 2 3-6 5-1-1zM629 1002l1 0-1 3-1-3zM747 1001l3 1 1 2-2 1-3-3zM875 1002l2 0 2 1 5 5-3 2-4-2-2-4zM853 1004l1 2 0 6-3 3-1-1 0-6zM649 1005l2 0 2 1 0 4-4 4 0 4-4 4-1-2 0-4 0-2 4-2-1-4zM675 1006l2 0 1 0 0 4-4 8-3 4-2 4-1-4 2-2 0-8 3-3zM809 1006l1 2-2 6-1 2-2 1 0-5zM717 1007l0 3-2 6 5 6-2 6-3 1-1-1 0-4 0-2-3 0-1-4 0-2zM765 1007l1 1-3 6-1-2 1-2zM823 1008l2 2-1 4-7 6-1-2 0-2 4-4 0-2zM689 1009l2 1 1 4-2 6-3 1-1-1zM941 1012l4-1 5 5-1 2-4 0-2 8-6 6-4 0-6 3-13-11 0-2 2 0 11 7 1-1 0-10-1-1 0 3-2 2-2 0-1-4 2-4 1-1 9 1 1 4-2 2 0 5 9-9zM745 1013l6 3 2-1 8 5-2 2-8-4-4-1-3-3zM837 1014l0 2-2 3 0-3zM607 1015l1 3-3 6-4 5-5 1 6-10zM619 1016l1 8-1 10 2 3 6 3 1 2-1 2-4-1-2-2-4-1-4 6-1 12-5 9-1-3 1-8 2-8 3-6 2-6 0-8zM659 1016l2 0 0 4-2 2-2 8-4 4-1-4 0-4 2-4zM909 1017l3 2-1 3-2-2zM865 1019l1 1-1 2-1-2zM581 1024l2 2-4 4 0-4zM831 1023l5 1-1 2-4 2-4 0 0-3zM667 1026l2 0-1 12 0 2 3 2-2 2-4-3-1-3 1-8zM961 1027l2 1-2 4-4 4-1-2 2-4zM421 1029l2 1-2 5-1-3zM431 1030l1 2-1 6-2 2-2 6 4 2-2 6-7 4-2 2 0 2-5 10-2 2-4 0 0-4 7-10 1-4 8-18 4-6zM553 1030l2 0 1 2-3 4 1 2-5 16 3 6 3 2-2 2-3-4-7-2-5-6 0-2 3-3 4 2 2 0 1-5-3-2 2-1 1-5 3-5zM839 1030l0 3-1-1zM881 1029l1 3-2 10-5 5-1-1 2-10zM857 1032l2 3-2 0-1-3zM641 1034l5 4 1 3-2 0-5-5 0-2zM891 1034l1 2-3 4-1-2 1-2zM977 1034l4 0 4 2 3 4 1 4-2 1-6-3-5-6 0-2zM909 1036l4 0 0 2-2 2-3-4zM363 1040l3 0-2 4 0 4-2 4-3 2-1-2 2-6zM697 1042l1 2-1 6-2 5-4-3 0-2 2-4zM991 1042l6 0 0 2-6 4-1-4zM651 1043l2 0 1 1-2 4-9 14 0-4 2-4zM283 1046l5 2 1 5-2 1-2 0-2-2-2-4 0-1zM313 1048l2 0 2 0 1 2-5 8 0 2 3 2 2 4-1 2-6-2-3-6-1-2 3-6zM599 1048l5 2-1 3-6 4-6-1 0-2 2-3 2-2zM859 1047l4 1 3 4-1 1-4-3-2-2zM897 1048l2 0 0 4-2 2 1 2-5 7 0-3 2-8zM985 1048l2 4-2 2-7 2-2 4-7 4 3-10 3-4 2 3zM501 1050l3 0-1 4-12 15-1-3 1-4 6-9zM563 1050l2 2 0 2 6 6-2 3-2 2-6-4-2 1-1-2 2-6zM739 1049l6 1 1 2-3 2-4-1-1-1zM915 1050l2 3-2-1zM319 1052l2-1 6 3 3 2-1 2-2 1-4-1-4-4-1-2zM337 1052l2-1 3 3-1 1-4-3zM365 1051l1 1-3 7 0-5zM817 1052l8 6 3 4-1 1-6-2-1 1 2 4-5 4-2-2 0-2-6-5 0-3 2 0 7 2 1-2-2-4zM221 1054l1 2-3 5 1-5zM433 1053l1 5-3 5-2-3 1-4zM521 1054l2 0 1 0-1 1zM169 1060l10 0 6 6 2 1 1-1-2-2 1-1 10 3 10 5 7 1 1 2 2 0 2-2 6 0 7 4 4 4 1 4 4 2-2 1-2-2-6-2-6-5-8-1-2-2-3 3 3 3 6 1 4 4-2 2 0 6-2 4 2 10 2 4 1 4 0 2-2 2 0 10-1 4 1 16-1 8-55 0 2-22-1-22 2-6-1-10-2-2 0-8-1-2 2-4 2-10 0-8-3-4zM207 1084l0 3 6 2 1-1 0-2-5-2zM339 1060l2 0-4 8-1-2 0-2zM477 1060l2 0 2 2-2 1zM981 1060l4 2 4 2-1 6-2 6-3 2-7-6 3-8zM253 1062l2 0 0 3-2-1zM377 1062l2-1 1 1-2 6 1 8-2 2 0 2 2 2 1 2-3 2-2-1-2 3-2 0 2 6 2 0-2 1-4 2-3-5 4-2 1-2-1-4 1-2 0-7-4 3-2-1-2 2 0-3 2 0 2-3 2 0 2 1zM447 1061l4 0 6 6 2-1 1 4-1 4-3 0 1 4 1 2-1 4-8 12 0-4 3-4 2-6 0-6-1-1-2 0-2 1-4 8-4 6-2 0-2 0 0-2 4-10 9-10 0-2-3-4zM641 1062l1 0 0 4-3 6-2 1 0-3zM999 1062l3 0 1 2 0 2-4 2-1-4 0-2zM211 1064l6-1 2 1-4 1zM221 1064l10 2 6 2 6 8 4-2 6 2 8-1 4 3-2 2-10-3-12 0-12-9-10-4zM951 1063l2 2-3 1-1 5 0-5zM293 1066l2-1 6 4 2 1-1 2-3 1-4-3zM955 1066l4 1 4-2 2 1-4 3-6 0-2-1 1-2zM349 1068l2 3 4 3 2 2-2 2-4-5-2 1-1-2 0-2zM889 1068l0 2-2 8 0 2 2 0 7 6-3 1-4-2-4-3-4 2-3 4-5 4-4 4-2-1-1-3 2-6 4-4 3-7 4-2 4 0zM501 1069l8 7-1 2-1 1-5-5-2-4zM647 1069l2 1 0 3-3-3zM849 1069l1 3-1 4-6 8 1-10zM281 1072l4 0 6 7 4 3 9 0-5 3-7-3-7-4zM327 1072l-1 6-2 0 1-4zM997 1072l2 4 4 0 0 8-4 5-2-1 2-8-4-2 0-2zM391 1074l2 0 0 2-4 5-1-1 0-2zM581 1073l3 3-3 5-1-5zM803 1076l6 6-4 4-2 12-2-1-4 3-10 4-4 0-1-2 1-2 14-3 4-1 2-2-1-12-3-4 0-1zM333 1078l3 2-3 0 0-2zM923 1078l2 0-1 6 3 6-4 11-1-3 0-10-1-2-5 10 3 2-1 2-4 4-7 5-6 1 0-4 3-4zM491 1080l1 2-2 10-1 2-2 0-1-2 0-6 1-5zM755 1082l6 5 3 5-1 3-5-5-3-6-1-2zM281 1084l6 4 5 0-3 3-8-1-2-2 0-2zM409 1084l6 4 4 5-2 0-5-3-3-4zM503 1084l4 2-1 2-2 0-2-2zM673 1083l5 3 1 2-2 2-5-4 0-2zM735 1084l4-1 4 1-6 3-6 2-3 3-1 3-1-7 1-3 2 0 2 1zM245 1086l16 0 1 0 0 2-5 1-6 3-7-4 0-2zM357 1085l1 3-1 4 2 2 2 0-2 4-2-3-2 1 0-2 0-4zM567 1087l6 3 1 2-1 2-6-4-1-2zM331 1090l2-1 2 1-4 2-1-2zM447 1096l-1 8-5 8-4 3-2-1 1-6 5-6zM487 1096l2 2-1 6-3 6-2 0-1-2zM811 1096l3 2 0 2-2 0-1-2zM705 1098l1 2 0 8-3 10-2-2-8 11 0 3-6 1-2-5 2-1 2-1 3-6 9-8 1-6zM767 1098l3 0 1 3-2 1-4-2zM853 1098l1 4-1 3-2-1 0-4zM257 1100l4-1 2 1-4 3-3-3zM315 1100l4-1 2 3 5 0 1 2 4-1 1 5-3 2-2-5-4 2-4-1-6 5-4 1-8 6-2-4 4-9 2-2 6 2zM637 1100l2 0-1 2-3 2-4 1 2-3zM641 1099l1 1-1 2-2-2zM865 1100l1 2 0 4-7 10-12 8 0-2 4-8 9-10 1-2zM801 1103l2 4-2-1-1-2zM367 1106l4 4-2 2-2-4zM969 1106l2-1 2 1 3 2 1 2-4 2-2 0-2-3zM663 1108l4 0-1 2 1 2-1 2-3 3 0-3 1-2-1 0-2 2-1-2 1-2zM685 1107l2 1-2 5-6 3-4-1 0-1 4-2 5-2 0-2zM151 1109l1 1-1 3-2 0 0-4zM351 1110l4-1 1 1-2 2 0 2-1 2-2-3-5 1 1-2zM251 1112l2-1 0 2-2 2zM843 1111l0 8-1-1 0-2zM993 1112l1 4-3 4-1-4zM459 1116l2-1 2 1 1 6-5 12-1-10zM709 1116l1 2-7 13-1-1 2-8zM351 1117l1 1-1 1-1-1zM233 1120l1 2-3 3-1-3zM825 1122l2 1-2 1-1-2zM833 1121l4 1 7 6-1 2-8-3-2 1-1-4zM409 1127l1 3-2 4 1 2-4 2-1-2 1-4 2-3zM625 1128l1 2-1 6-6 8-1-2 0-4 2-2 1-6zM643 1128l2-1 1 1-1 4-4 4-1-2 0-2zM857 1127l6 6 1 1-1 2-6-6-1-2zM937 1127l5 3-3 2-2-1 0 1-4 1 0-1 4-2-1-2zM501 1129l2 1-2 2-1-2zM661 1130l2 0-1 6-2 4-5 2-1-2 0-4 3-3 2 0zM921 1130l4 3 4 0 3 1-5 3-4 0 0-3-3-4zM375 1131l7 7-1 1-4-3-3-4zM535 1131l2 1 0 2-4 8-1-2 0-4zM947 1136l1 0 0 2-3 3 0-3zM447 1138l1 2-4 10 0 2 4 4-1 1-6-1-1 2-6 0-1-1-1 1-6 0 3-2 8-3 7-9 3-4-1-2zM301 1140l3 0 4 4-1 4-4 3-2 5-2-1-2-2-3 1-1 3-2-3-6 0-1-2 5-6-2-1-3-1 5 0 3 2 3 1 7-3zM413 1140l3 0 6 4-1 1-6-2zM719 1140l2 0 2-1 2 0 1 1-3 4-2 1-2-3zM869 1140l4 0 6 6 2 4-2 4 0-4-6-3-4 5-1-2 2-4zM249 1143l3 1 0 2-3 2-1-4zM427 1145l2 0 1 1 0 2-3 3-1-3zM783 1146l3 2-2 8-3 2-1-4zM971 1148l3 0 1 5 4-3 0-1-1 7-5 2-7 0 2-8zM341 1150l0 4-2 0 0-3zM725 1150l6 0 1 2-3 3-11 3-7 0 4-4zM245 1154l-2 4 0-3zM639 1154l5 4-2 0-3-2-1-2zM771 1153l7 5-6 0-3-4zM827 1154l2 0-1 4-9 0 2-2 4 0zM569 1156l2 0 1 0-1 2-4 0zM735 1156l2-1 2 3-5 0 0-2z"/><path fill="#ffaa00" d="M731 978l2-1 2 1-2 10-8 8-3 0 1 2-2 4-3-6 0-2 6-10zM795 986l3 2 4 3 0 5-4 4 1 2 0 4-3-8 1-6-2-4zM681 987l2 1 0 2-4 4-1-2 1-2zM629 993l1 3-5 9-2 0 2-7zM635 994l2 0 0 2-4 2 0-2zM767 994l1 2-1 1-2-3zM757 997l1 1-2 4 1 4-2 3-1-5zM669 1000l2 0 2 2-4 3-1-1zM877 1002l4 3 1 3-1 1-4-3-1-2zM649 1006l4 0-1 4-3 4-1 4-3 3-1-5 1-1 3-3-1-4zM677 1006l1 5-7 10-1-3 1-6 2-4zM809 1006l-2 9-2 1 0-5zM853 1005l0 7-2 3-1-3 1-4zM689 1010l2 0 1 2-3 8-1-8zM821 1010l2-1 2 1-1 4-7 5 0-2zM943 1012l3 0 3 4-4 2-3 8-5 5-4 1-6 2-13-10 1-2 12 8 2-2 0-10-1-2 3-1 2 0 1 1 1 2-3 4 0 2 1 2 9-10 0-2zM713 1014l6 8-2 3-4-4-2-1 0-4zM925 1014l2 0 0 6-2 2-2-2zM607 1016l1 2-3 6-6 6 0-4 2-4 2-3zM659 1016l1 4-2 4-2 6-3 3-1-5 2-6 5-4zM747 1015l7 1-1 2-6-1zM619 1017l0 17 5 6-7 0-4 4 0-4 1-10zM909 1018l2 0 0 4-2-2zM831 1023l4 1 0 2-2 1-6 1 0-2zM581 1025l1 1-1 2-1-2zM961 1027l1 1-2 4-3 3 0-1 1-4zM881 1030l1 2-2 8-3 5-2 1-1-2 2-6zM429 1032l2-1 1 1-1 6-2 2-2 6 0 2 2-1 2 1-3 6-7 4-5 12-3 3-2 1-1-2 1-4 6-8 4-12zM553 1031l2 1-2 4 1 2-2 6-4 8 3 9-8-3-4-6-1-2 3-2 7 2 0-6-2-2 1 0 2-6zM977 1034l4 0 4 2 3 4 0 2-1 2-6-2-3-4zM641 1035l5 3 0 2-5-4zM911 1036l0 3-1-3zM665 1037l2 4-2-3zM363 1041l2 1-2 2 1 4-3 4-2 1 1-7zM697 1042l-1 6-3 4-1-2 1-3zM991 1042l4 0 1 2-5 3-1-3zM651 1044l1 4-5 7-2-1zM611 1046l0 12-2 6-2 2 0-10 2-7zM281 1047l4 0 4 3 0 2-2 2-2 0-3-4-1-2zM315 1048l2 2-4 8 0 2 3 2 1 4-2 1-4-1-3-6 2-8 3-3zM501 1050l2 1 0 3-12 13 1-5 5-8zM595 1050l4-1 4 1 0 2-6 4-4 1-1-3zM741 1050l4 0 0 2-2 1zM897 1049l1 1-2 4-1 5-1-1 1-2 0-4zM983 1050l2-1 1 3-1 1-8 2-2 4-4 3 0-4 4-7 2 3zM319 1052l6 1 4 3-2 2-4 0zM563 1051l2 1 0 2 6 6-2 3-2 1-6-3-3-1 2-6zM433 1053l1 5-3 4-2-2 2-4zM819 1054l8 6-4 2-4-3-1-5zM221 1055l1 1-1 2-1-2zM809 1058l6 3 4 0 2 5-4 4-2-5-5-5zM175 1060l4 0 8 8 2-2-2 0 0-2 10 2 10 5 7 1 1 2-3 4 3 3 6 2 3 3-2 2-2 10 3 10 2 4 0 4 0 2-2 2 0 10-1 4 1 4-2 8-2 2 0 3 2-2 1 1 0 8-53 0 2-22-1-22 2-6-4-24 2-2 2-10-1-8-2-2zM206 1084l1 3 6 3 2-2 0-2-6-2-2-1zM339 1060l2 0-1 4-3 3 0-3zM255 1062l0 3-2-1 0-1zM377 1062l2-1 1 1-2 6 0 6-1 4 2 6-2 1-2-1-2 3-2 1 0-4 1-10zM449 1061l4 2 6 5 1 4-3 2-2-2-2 2-4 1-6 12-4 2-2 0 3-9 11-12-3-6zM999 1062l2 0 0 5-2 1 0-2zM981 1064l4-1 3 1 0 2-2 8-3 3-5-5-1-2zM227 1066l4 0 6 2 4 6-2 1-4-2-6-6-3-1zM295 1066l8 4-1 2-3 1-4-3-1-4zM349 1068l2 4-2 1-1-3zM639 1067l0 3-2 1zM849 1070l1 2-5 9-1-3 1-4zM219 1072l8 1 8 7 0 3-4 0-6-5-7-2-2-2zM283 1072l2 1 4 5 4 2-2 1-6-3-3-4 0-2zM503 1071l5 5-1 1-4-3-1-2zM885 1072l2-1 1 1-2 8-5 4-12 11-1-3 0-4 5-7 2-5 2-2 6-1zM247 1074l2 2 4 0-9 0zM325 1074l1 0-1 4-1-2zM581 1074l2 2-2 2zM255 1076l6 0 4 2-2 2-10-4zM391 1075l2 1-4 4 0-2zM801 1078l2-1 5 5-4 2-1 7-3-13zM997 1078l4-1 2 1 0 5-4 5-1-2 2-6zM295 1082l7 0-3 3-6-3zM489 1082l2 2-2 8-2 0-1-6 1-3zM889 1081l4 3-2 1-2-2zM455 1083l1 1-1 2-1-2zM673 1084l4 3 1 1-1 1-4-3zM737 1084l4 0-4 3-4 1-2-1-2 3-2 0-1-2 1-2 2 0 2 0zM757 1084l4 4 3 4-1 2-5-4-2-6zM919 1084l1 2-5 10 2 2 0 2-10 8-4-1 1-5zM245 1086l16 0-1 2-3 1-6 3-6-4zM281 1085l4 2 6 1-2 2-8-1-2-1zM411 1086l6 4-2 2-2-2-2-2-1-2zM503 1086l3 0-1 2-2-1zM567 1088l2 0 2 2 1 2-4-2zM925 1088l1 4-3 7 0-8zM369 1091l2 0 2 1 0 2-4 2-1-4zM767 1098l4 2-2 2-2-1-1-1zM257 1100l2 0 3 0-3 2zM317 1099l9 5-3 2-4 0-4 2-2 0 0-4 2-4zM705 1100l1 8-3 9-1-3 0-8zM785 1100l4 0 4 0-4 3-5-1zM443 1101l2 0 1 3-4 4-1 4-4 2 0-6zM863 1102l3 0-1 4-2 3-8 9-6 4 0-4 2-3zM305 1103l3 1 1 2 0 4-6 6-2 1-1-3 1-4zM485 1104l2 0-2 5-2-1zM329 1105l2 0 0 4-2 0zM971 1106l3 2 0 2-3 0zM151 1110l0 2-2 1 0-3zM353 1110l2 0-2 2-1-2zM697 1114l2-1 1 1 0 2-9 14-2 0-4-4 5-2 1-2zM461 1116l2 2 0 4-2 6-2 2 0-10zM709 1117l0 2-4 8-1-1 1-4 2-3zM833 1122l2 0 2 0 3 4-1 1-5-1-1-2zM643 1129l1 3-3 3 0-3zM623 1131l2 3-6 9-1-1 1-4zM661 1131l0 4-1-1zM925 1134l2 0-1 2-3 1zM405 1136l2-1 1 1-3 1zM533 1136l2 0-2 4zM657 1136l2 0 0 3-2-2-2 4 0-3 0-1zM869 1140l2 0 4 2 3 4-1 2-4-2-2 1zM303 1141l2 1-2 2zM249 1144l3 0-1 2-2 1-1-3zM297 1146l6-1 2 1 0 3-2 1-2 4-1-2-3 0-4 2-6 0-2-2 4-5 4 1zM783 1147l2 1-2 7-2 2zM441 1150l2 3 2 0 3 3-3 1-4-2-1 3-5 0-1-2zM969 1150l2-1 4 5 2-1 1 1-1 3-4 0-1 1-6 0zM719 1152l8-1 4 1-4 3-14 3 2-4zM771 1154l7 4-5 0-2-1-1-3zM825 1156l2 0-1 2-5 0z"/><path fill="#ff8000" d="M733 978l1 2-1 8-8 7-6 2 0-3 5-10 3-3zM795 986l2 2 4 2 1 2-1 6-4 2-1-2 1-8-2-1zM681 988l2 2-4 4-1-2 1-2zM629 994l1 2-5 8 0-4zM633 996l2-1 1 1-3 1zM671 1000l1 2-1 1-2-1 1-2zM755 1002l1 2-1 4-1-3zM877 1003l2 1 3 2-1 2-4-2-1-2zM649 1006l2 0 1 2-1 4-2 2-2-6zM677 1006l1 4-2 4-5 7-1-7 2-4zM853 1006l0 3-2 0zM691 1010l0 4-2 4 0-6 0-1zM807 1009l2 1-2 4-2 2 0-4zM823 1010l1 0-1 4-4 2 0-2zM851 1011l2 1-2 3zM645 1014l2 0 2 2-4 4-1-4zM943 1013l2 0 3 3-3 1-3 9-5 5-4 0-6 3-13-10 1-1 10 7 2 0 2-3 2 2 1-3 1 0 9-10 0-2zM713 1015l5 5-1 4-6-5zM925 1015l1 1-1 5-2-1zM929 1016l2-1 2 1 1 2-2 2-1 6-2 0zM605 1017l2 1 0 2-3 4-5 5 0-3 2-3zM619 1018l0 16 2 4-4 1-4 4 1-13zM911 1018l0 3-2 0 0-2zM657 1020l2 0-1 4-3 6-2 2-1-4 3-6zM831 1024l4 0-2 3-6 0 0-1zM959 1030l1 0-1 3zM431 1032l-1 6-1 2-2 6 0 2 2 0 1 0-3 6-8 6-2 0 8-21 4-6zM553 1031l1 1-1 4 0 2-4 12-2-8 3-6zM881 1031l-1 9-2 4-3 2-1-2 2-6zM979 1034l4 1 3 3 2 4-1 2-6-3-2-3-2-4zM993 1042l2 2-4 2 0-3zM361 1044l2 1 1 1-3 6-1-2 0-4zM695 1045l1 1-1 2-1 0-1 3 0-3zM281 1048l4 0 4 2 0 2-2 2-2-1zM315 1048l2 2-5 8 1 2 2 2 0 5-4-2-3-5 3-8 2-3zM539 1050l2-1 5 1 5 10-8-2-4-6zM597 1050l4 0 1 2-7 4-2 0-1-2 1-2zM985 1050l0 3-4-1zM321 1052l2 2 2-1 4 3-2 2-4 0-2-4zM499 1052l2-1 2 1-1 2-9 11-1-1 1-4zM563 1052l2 2 5 6-3 3-6-3-2 0 1-6zM609 1051l2 5-2 7-2 2 0-7zM975 1052l0 4-2 3-1-3zM433 1054l0 4-2 4-1-2 0-2zM821 1056l5 4-3 1-3-3-1-2zM175 1060l3 0 3 2 1 2 5 5 3-3-1-1-2-1 2 0 10 2 8 5 6 2 2 1-3 4 3 3 6 2 3 3-2 2-1 4-5-4-1-2-4-2-5-2-1 2 0 5 4-1 5 2 5 4 5 18 0 6-2 4 1 2-2 10 1 4-1 2-3 10 3 8-52 0 3-24-2-20 2-6-1-6 0-5-1-5 0-4-1-4 2-4 2-10-2-1-1-7zM339 1060l0 4-2 2 0-2 2-2zM811 1059l8 3 2 4-4 3-2-5-4-4zM379 1062l1 2-2 4 0 6-2 4 2 6-3 0-2 3-2 0 3-15 3-9zM417 1061l3 1-5 9-4 2 0-5zM449 1062l4 1 6 5 0 5-2 1-2-3-2 2-4 1 0-4 2-2-3-6zM983 1064l3 0 1 2-2 8-2 2-4-4 0-2zM999 1064l2 1 0 2-2 0zM229 1066l8 2 3 6-5-2-2-2-5-4zM295 1067l6 3 0 2-4-2-2-2zM219 1072l8 1 8 7-1 2-3 0-6-4-6-2-2-2zM847 1072l2 0 1 0-5 9 0-5zM887 1072l-2 8-16 14 0-6 4-6 2-6 4-2 4 0zM283 1073l9 7-3 1-4-3-2-4zM447 1074l2 0-4 9-2 3-4 2 2-8zM257 1076l4 0 3 2-1 1-2 0-5-3zM803 1078l3 4-3 3-1-5zM1001 1079l2 1 0 3-4 3zM489 1083l1 1-1 4-2 2 0-5zM249 1086l6 1 2 1-4 3-2 0-5-3zM281 1086l4 2 5 0-9 1-1-3zM729 1086l1 2-3 2 0-3zM733 1086l3 0-4 0zM759 1087l2 2 0 3-2-1-1-3zM917 1087l1 1-3 8 0 4-6 6-4 1-1-1 1-4zM369 1092l2 0 1 0-1 3-2 0-1-3zM317 1100l8 4-6 1-4 2-1-3zM767 1100l3 0-3 1zM443 1102l2 0 0 3-4 3 0 2-2 2-2-2 2-4zM305 1104l3 2 0 4-5 6-2 0-1-2 1-4 2-4zM863 1104l1 2-3 4-1-2zM703 1105l2 3-1 2-1 5-1-9zM853 1114l2-1 0 3-4 4-1-2zM697 1116l1 2-3 4-6 8-1-2 0-2zM461 1118l1 2-1 6-1-4zM835 1122l2 2-2 2-1-2zM623 1132l1 2-2 2-1 3-1-1zM871 1140l6 4 0 3-6-1-1-6zM249 1144l2 0-2 3zM299 1146l4-1 1 1 1 2-4 4-4-1-6 2-5-1 0-2 3-2zM783 1148l1 0-1 5zM971 1149l3 5-2 4-5 0 2-7zM441 1151l1 1-3 6-4 0 1-2zM721 1152l6 0 2 0-6 3-6-1zM445 1154l1 2-1 0-1-2zM771 1154l3 2-1 1-2 0z"/><path fill="#ff5500" d="M733 978l1 4-3 8-6 4-4 1-2-1 5-10zM681 988l1 2-3 3 0-2zM799 990l2 0 1 6-3 3-2 1 0-6 1-4zM627 997l1 3-3 4 0-4zM671 1000l0 3-1-1 0-2zM877 1004l3 0 2 2-1 2-3-2zM649 1006l2 0 1 2-1 4-2 1-1-5zM677 1006l1 2-2 6-5 6 0-6 1-4zM807 1009l1 1-1 3-2 2 0-3zM689 1012l2 0-2 4zM821 1012l0 2-2 1zM647 1014l1 2-1 2-2 0 0-3zM943 1013l2 1 0 2-4 10-4 5-5-1 0-2 5-6 6-6zM713 1016l2 2-2 2-1-2zM925 1015l0 6-1-1zM931 1015l2 1 1 2-3 4-2-6zM605 1018l2 0-1 2-2 4-3 4-2-1 2-5zM657 1020l-1 8-3 4 0-4zM617 1023l2 1-1 8 1 4-1 2-3 3-1-1 0-6zM833 1024l0 3-5-1 3 0zM915 1023l3 1-1 1-3-1zM919 1026l12 6-4 2-9-8zM429 1033l2 1-1 4-2 2-2 6 1 2 3 0-3 4-2 0-2 4-4 3-1-1 1-4 6-15zM879 1034l1 0 0 4-3 6-2 2 0-4zM979 1034l4 2 3 2 1 5-4-1-4-4-1-2zM551 1035l2 3 0 2-2 4-1 0-1 4-1-8zM361 1045l2 1-2 6-1-6zM283 1047l4 2 2 3-4 1-2-2-2-3zM313 1049l2 0 2 1-5 8 0 2 3 2 0 2-2 1-2 0-3-5 3-8zM541 1050l4 0 6 8-2 2-6-3-4-5zM499 1052l2-1 2 1-1 2-9 10 1-4zM563 1052l7 8-3 3-7-5 0-4zM595 1052l2-1 2 0 1 1-3 2-4 1 0-1zM323 1054l2 0 3 2-5 1-1-3zM433 1054l0 4-2 3 0-3zM609 1053l1 5-1 4-2 1zM821 1058l3 0-1 2zM175 1060l2 1 3 1-1 4 4 1 4 3 4-5 7 1 9 5 6 2 1 1-3 5 4 3 6 1 3 3-2 2-1 3-2-2-2-1-2-2-4-3-4-1-2 0 0 9 2 0 2-2 4 2 6 5 4 16 0 6-2 4 1 16-2 2-3 10 3 8-50 0 0-12 3-14-2-18 2-6-2-6 0-14-2-4 2-4 3-10-2-2-1-6zM191 1068l2 2 1-2zM197 1104l0 4 2-4zM187 1128l0 3 2-3zM213 1154l-1 2 1 1 2-3zM379 1062l0 3-1 1 0 6-2 6 2 6-3 0-2 2-1-2 0-6 5-14zM417 1061l2 1-4 8-2 2-2-1 2-5zM449 1062l4 1 6 5 0 4-2 1-2-2-4 2-1-1 0-2 2-2zM815 1062l4 1 1 3-1 1-2-1-3-4zM983 1065l2 0 2 3-2 5-2 2-3-3 0-2zM233 1068l3 0 3 4 0 2-4-2-3-4zM219 1073l4 0 4 1 7 6-1 2-2 0-6-5-6-1-1-2zM847 1073l0 4-1-1zM879 1074l7 0-2 6-9 9-2 0-2 2-1-1 5-13zM257 1076l4 0 3 2-4 0zM443 1078l2-1 1 1-3 7-2 1 0-2 0-2zM803 1079l2 1-2 3-1-3zM247 1088l2-1 7 1-3 3-2 0zM915 1090l1 2-3 10-4 4-3 0 0-4zM369 1092l2 0 0 2-2 0zM317 1100l6 4-8 2 0-2zM305 1106l2 2 0 2-4 5-2 1 0-5 2-4zM693 1121l1 1-1 2-1-2zM871 1140l5 4-1 2-4-1-1-3zM301 1146l2 0 1 2-3 3-4 0-6 2-4-1 0-2 2-1zM971 1150l1 6-1 2-4 0 2-6zM723 1152l5 0-6 0zM437 1156l1 0 0 2-2 0z"/><path fill="#ff2b00" d="M731 979l2 0 1 1-2 8-5 5-6 1 0-4 3-6zM799 990l2 1 1 1 0 5-3 2-2 0 0-5zM627 998l0 3-1-1zM879 1004l2 3-2-1zM651 1006l1 4-3 3-1-5 1-1zM675 1007l2 0 0 3-2 4-4 5 0-5 2-4zM943 1014l1 0-1 8-2 4-4 4-4 0 1-4 9-10zM647 1015l0 2-2-1zM931 1015l2 1 1 2-3 3-1-5zM605 1018l1 2-2 4-3 3-1-1 1-4zM617 1023l2 3-1 6 1 4-4 4-1-6zM655 1023l2 1-2 5-2 2zM927 1031l3 1-3 1-1-1zM429 1033l1 3-4 8 1 6-3 2-2 4-3 3 0-3 2-6zM879 1034l1 4-3 6-2 1 0-3zM551 1036l1 4-1 3-2 1 0-4zM979 1035l5 1 3 7-2 0-5-5-2-2zM361 1045l2 1-2 5-1-5zM283 1048l4 2 1 2-3 1-2-2-1-3zM313 1049l2 0 1 1-5 8 1 2 3 2-2 3-2 0-3-5 3-8zM501 1052l1 0 0 2-7 8-1-2 3-5zM541 1051l4 0 5 7-1 1-2 0-4-2-3-5zM325 1054l2 2-4 1 1-3zM561 1054l2-1 6 7-2 2-2 0-5-4zM175 1061l4 1 0 2-4 4-2 0-1-4zM417 1062l1 0-5 9 0-3zM451 1063l2 0 5 5 1 2-1 2-1 1-2-3-4 2 0-2 1-2-2-4zM817 1063l3 1-1 3-3-3zM191 1066l6 0 16 7 1 1-3 4 0 1 11 5-1 2 0 3-4-1-2-3-4-2-6-2-1 1 0 6 1 5 2 0 2-3 4 1 5 5 4 16 0 6-1 4 0 4-1 6 1 6-2 2-3 10-6 6 0 2-39 0 0-12 3-14-2-16 2-6-2-8 0-14-3-4 6-14 6-1 6 2 2-2 2 2 2-1 1-2-1-1-2 1-1-2zM197 1096l2 3 2-3zM198 1102l-3 6 0 3 5-7 1-2-2-1zM188 1126l-4 6 1 2 2-2 2 2 2-6-1-2zM197 1126l2 3 1-1-1-2zM983 1066l2 1 1 1-3 6-2-2 0-2zM233 1068l3 0 2 4-3 0-2-4zM375 1070l2-1 1 3-2 6 1 4-4 3 0-7zM219 1073l4 0 4 1 7 6-3 1-4-3-8-2-1-2zM259 1076l2 0 2 2-2 0zM877 1076l2-1 5 1-1 4-8 8-2 0-1-2 3-8zM443 1080l1 0-1 4-1-2zM249 1087l6 1-2 3-2 0-3-3zM913 1094l1 4-2 4-5 4-1-2 0-2 5-7zM317 1101l3 1-1 2-2 0-1-2zM305 1108l0 4-2 3-2 0 2-6zM871 1142l2 0 2 3-4-1zM297 1148l4-1 2 1-2 3-3-1-1-1 0 1-8 2-1-2zM969 1154l1 2-1 1zM217 1155l2 3-6 0z"/><path fill="#ff0000" d="M731 980l2-1 1 1-3 8-4 4-6 2 0-4 4-6zM799 990l2 1 1 1-1 4-2 3-2 0 0-3zM651 1006l0 4-2 2-1-4zM675 1008l2 0 1 1-5 8-1-1-1-2 2-4zM931 1016l2 0 0 2-2 2-1-4zM605 1018l1 2-3 4-2 2 1-4zM941 1018l2 0-1 6-5 6-2 0-1-2 0-2zM617 1024l1 2 0 10-3 2 0-4zM655 1024l1 0-1 5zM429 1034l1 2-4 8 1 4-5 8-3 2 0-4 2-4zM879 1035l1 1-1 4-2 4-2 1 2-7zM979 1035l4 1 2 2 1 2-1 2-5-4-1-2zM551 1037l1 3-1 2-2 1 0-3zM361 1045l2 1-2 4 0-4zM283 1048l4 2 1 2-3 1-2-2zM313 1050l2-1 1 1-5 8 0-4zM501 1052l0 2-4 5 0-1 0-2zM541 1051l4 1 5 6-3 1-4-2-3-5zM325 1054l1 2-3 1zM561 1054l2 0 5 4 0 2-3 1-4-3zM309 1059l2 0 3 3 0 2-3 0-2-4zM175 1061l4 1-1 2-3 4-2 0-1-4zM451 1063l2 1 5 4 1 2-1 2-3-2-2 0-3-6zM191 1066l8 2 14 6 0 2-3 2 1 2 11 4-3 3-2 1-6-6-6-1-1 1 0 12 3 1 2-5 4 2 8 16 0 8-1 6 1 4-2 6 1 4-2 4 0 4-3 7-4 3-4 0-2 4-33 0 0-12 3-16-3-14 2-6-1-8 0-14 0-2-3-2 5-11 10 1 4-4 2 4 6-3 1-1-3 0-2-3-2 0zM196 1096l0 2 2 2-4 8 1 4 4-5 4-3 1-2-2-2 1-4-2-1zM192 1122l0 2 3 0-1-2zM186 1126l-4 8 1 3 2-2 2 5 3-6 2-8-3-1zM196 1126l5 5 2-1-4-4-2-1zM235 1068l2 2-2 2-2-4zM983 1067l2 1-2 5-1-3zM375 1071l2 1-1 4-1 7-2-1 0-4 2-2zM219 1074l8 0 6 6-2 1-4-3-8-3zM879 1076l2 2 0 2-6 7-2 0 2-8 2-2zM249 1088l6 0-2 2-4-1zM911 1096l2-1 0 5-4 5-2 0 0-3zM303 1110l2 0-2 4zM299 1148l2 0 1 0-1 2zM215 1157l2 0 1 1-4 0z"/><path fill="#d40000" d="M731 980l2 0-2 8-4 4-6 1 4-9zM799 991l3 1-1 5-2 2-1-3zM651 1006l0 4-2 2 0-4zM675 1008l2 0-4 9-1-3 1-4zM931 1016l1 2-1 1 0-3zM941 1018l1 0-1 6-3 4-3 2-1-2 1-2zM603 1020l2-1 1 1-3 4-2 1zM429 1034l0 4-3 6 0 4-4 4-1 4-1-2 1-4zM615 1033l2 0 1 3-3 2zM879 1035l1 3-3 5-1-1 1-4zM979 1036l4 1 3 3-1 2-4-3zM549 1040l2-1 0 3zM361 1046l1 0-1 4zM283 1048l4 2 1 2-5-1zM313 1050l2 0 1 0-5 8 0-4zM541 1052l4 0 5 6-3 1-4-2-2-5zM499 1054l1 0-3 4 0-2zM561 1054l6 4-2 2-4-2zM309 1059l5 3-1 2-2 0-2-4zM175 1062l3 0-3 5-2 0 0-3zM451 1064l2 0 5 4 0 2-1 2-2-3-2 1zM195 1067l6 1 12 6-3 4 1 3-7-1-1 2 0 4-2 0-2 2-1 6-3 2 0 2 2 2-4 12 2 2 14-9-3-5-2-4 1 0 2 1 3-5 3 0-2 4 0 2 6 5 3 5-1 14 1 4-1 6 1 4-3 2-2-2-1 0 2 6-1 7-4 3-4 0-3 6-32 0 1-12 2-2 7-2 3-2 3 0 3-5 2-1-1-2 1-6 2 0 2 2 4 4 2 0 1-2-5-5-6-4-6 4-4-3-2 0-2 9-1-1 1-2-1-2-3 1-2-7 0-4 2-6-2-10 1-14-4-2 5-8 6 1 4 0 2-5 2 4 4 0 2-1 3-5-3 0 0-2zM198 1150l5 0-4 0zM235 1068l2 2-2 1-1-3zM219 1074l8 0 2 2-5 0zM229 1078l2 0 1 2-1 1zM877 1077l2 0 1 3-5 6 0-4zM375 1079l0 3-1-2zM213 1082l3 0 1 2 5 0-5 3-4-5zM251 1088l3 0-1 2-3-2zM911 1096l2 0-1 4-3 5-2 0 0-3zM175 1132l2 0 1 2-3 5z"/><path fill="#aa0000" d="M729 982l2-1 1 1-1 5-4 4-4 1-1-2 3-6zM799 992l3 1-1 3-2 2-1-2zM649 1008l2 0-2 3zM675 1008l1 0 0 4-3 4 0-2 0-4zM941 1018l0 6-4 5-2 0 0-3zM615 1033l2 1 0 3-2 0zM879 1036l0 3-2-1zM981 1036l4 5-4-3-1-2zM427 1038l2 0-2 3-1-1zM425 1042l1 6-5 5 0-3zM313 1050l3 0-5 7 0-3zM541 1052l4 1 5 5-3 0-4-2zM561 1055l3 1-1 2-2 0zM175 1062l3 0-3 4-2 0 0-2zM311 1061l3 1-1 2-2-1zM453 1064l5 4-1 4-2-3-2-1-1-4zM195 1068l4 0 10 6 4 0-3 4 1 2-4 0-4-2-3 2-1 2-2-2 0-2 1-4 2-2-3-3-2 0zM221 1074l6 0 1 2-8-2zM187 1078l6 1 3 3 0 12-3 4 2 2-2 12 0 3 2 0 2-2 4 0 8-7 1-2-4-6 3-2 1 2 7 7 3 3-2 14 2 2 0 4-2 4 1 4-2 1-2-2-2 0-1 1-1 10 2 3-6-1-4-4 0-2 2-4 0-2-12 0 2 0 3-4-3 0-2 0 1-2-1-3 2 0 4 5 4 1 2 3 2-4-14-13-6 5-7-6-1-3-2 0 3 7-5 2-1-8 1-1 2-1-2-6-1-10 2-6-1-6-4-2 2-4 2-1 4 1zM181 1108l-1 4 1 1zM877 1078l1 0 1 2-4 5 0-3zM911 1097l1 3-3 4-1-2zM189 1140l4 0 2 2 3 0 1 2-4 4 2 3 6 3 1 4-8 0-1-1-1 1-21 0 1-12 13-4z"/><path fill="#800000" d="M729 982l3 0-2 6-3 3-4 0 2-5zM799 992l2 0 0 3-2 2zM675 1008l0 4-2 3 0-4zM941 1019l0 3-2 4-2 3-2 0zM981 1037l3 1-1 1-2-1zM425 1042l0 6-2 3-2 0zM313 1050l2 0-2 4zM543 1054l2 0 2 2 0 2-4-3zM175 1062l2 0-2 3-1-1zM453 1064l2 2-2 3zM195 1068l5 0 11 6-1 6-5-2 2 0 2-2-2-1-2 0-2-2-1 1 0 2-1 1-1-1 1-4-4-3zM187 1080l3 0 2 2 2 12-4 4 3 2-1 6 0 12-5 4-4-1-2-3 2-8-2-3-4 5-2-3 0-5 1-4-1-2 0-2 4-4-1-6-7-2 2-2 8 0zM207 1098l7 4 5 6-2 10 1 4-3 3-3 1-1 2 2 1 6-4 0 5-1 2-1 4-5-4-5-5-2 4-2-5-6-4-1-4-1-2 2-2 4 1 10-9-1-4-3-2zM207 1118l0 3 4-1 1-2-1-1zM909 1100l2-1 0 2-2 2zM175 1117l2 3 0 1-2 0zM197 1134l2 0 5 0zM187 1142l4-1 2 1 2 2-1 4 9 8-2 2-6-3-5 3-15 0 0-11 6-1z"/><path d="M150.3 1157.5L150.3 1059.5L151.3 1059.5L154.5 1059.6L157.7 1059.8L160.8 1060.1L164.0 1060.6L167.2 1061.3L170.4 1062.0L173.5 1062.9L176.7 1064.0L179.9 1065.1L183.1 1066.4L186.2 1067.8L189.4 1069.2L192.6 1070.8L195.8 1072.5L199.0 1074.3L202.1 1076.1L205.3 1078.1L208.5 1080.1L211.7 1082.1L214.8 1084.2L218.0 1086.3L221.2 1088.5L224.4 1090.7L227.6 1093.0L230.7 1095.2L233.9 1097.5L237.1 1099.7L240.3 1102.0L243.4 1104.2L246.6 1106.4L249.8 1108.6L253.0 1110.8L256.1 1112.9L259.3 1115.0L262.5 1117.1L265.7 1119.1L268.9 1121.0L272.0 1122.9L275.2 1124.8L278.4 1126.6L281.6 1128.3L284.7 1130.0L287.9 1131.6L291.1 1133.1L294.3 1134.6L297.5 1136.0L300.6 1137.4L303.8 1138.7L307.0 1139.9L310.2 1141.0L313.3 1142.2L316.5 1143.2L319.7 1144.2L322.9 1145.1L326.0 1146.0L329.2 1146.8L332.4 1147.6L335.6 1148.3L338.8 1149.0L341.9 1149.6L345.1 1150.2L348.3 1150.7L351.5 1151.3L354.6 1151.7L357.8 1152.2L361.0 1152.5L364.2 1152.9L367.4 1153.3L370.5 1153.6L373.7 1153.9L376.9 1154.1L380.1 1154.4L383.2 1154.6L386.4 1154.8L389.6 1154.9L392.8 1155.1L395.9 1155.3L399.1 1155.4L402.3 1155.5L405.5 1155.6L408.7 1155.7L411.8 1155.8L415.0 1155.9L418.2 1156.0L421.4 1156.0L424.5 1156.1L427.7 1156.1L430.9 1156.2L434.1 1156.2L437.2 1156.2L440.4 1156.3L443.6 1156.3L446.8 1156.3L450.0 1156.4L453.1 1156.4L456.3 1156.4L459.5 1156.4L462.7 1156.4L465.8 1156.4L469.0 1156.4L472.2 1156.4L475.4 1156.5L478.6 1156.5L481.7 1156.5L484.9 1156.5L488.1 1156.5L491.3 1156.5L494.4 1156.5L497.6 1156.5L500.8 1156.5L504.0 1156.5L507.1 1156.5L510.3 1156.5L513.5 1156.5L516.7 1156.5L519.9 1156.5L523.0 1156.5L526.2 1156.5L529.4 1156.5L529.4 1157.5Z" fill="#fff"/><path d="M151 1012l248-2 181 6 33-14 8-5 13-3 7 0 6-4 6 0 6-4 2 0 13 6 6 1 8-2 5-3 3-1 15 0 2 1 5 4 2 1 10-5 4-4 5-2 9-4 10-3 5 2 6 4 5 1 7 4 3 1 2 0 7-5 8-5 1 1 12 9 8 10 9 9 3 0 3 0 5-5 6-2 7-4 10-3 11 2 4 0 7 4 10 1 6 4 4-1 7-1 12 7 11 3 8 1 5-3 5-1 5 0 7 4 6 5 7 2 9 7 4 1 7 0 4 2M151 1025l232-3 10-1 7-6 3-1 9-1 9 5 10 7 5 2 5 3 6 2 15 10 5-1 4 1 6-3 2 0 10 3 9-2 9 3 18-5 11 1 5-2 8-8 2 0 6 1 7-3 6-5 5 2 3 0 4-3 10-9 2-1 6 0 9-5 11-10 6-1 4-2 2 0 9 2 7-2 5 2 3 1 9-4 8-1 25 0 5-2 8-4 7 0 6-2 9 0 2 0 6 3 2 0 5-2 2 0 14 4 18-1 7 4 7 4 2 0 5 0 2 1 11 6 4 5 4 1 7 4 3-1 9-3 6-3 5-1 6-2 11-1 9-3 12 3 7-4 2 0 6 3 6 1 4 2 8 7 7 4 9 2 6 3 5 1 4 2 2 0 3-2 2 0 5 3 7 0 4 3 8-1 7 4 5 0 5 2M151 1035l178-2 32-4 11-3 7 1 6-1 5 1 9-4 8 2 6-1 6 2 4 0 9 4 8 6 7 5 5 2 6 1 5 1 7 5 4 1 9 1 10-1 5-1 6 0 9-2 9 0 8 1 7-3 7 0 10-7 7-1 6-5 7-2 5-4 6-3 18-15 6-2 7 0 4-2 3-2 5-8 3-2 8 2 8 0 7-1 10-3 8 3 5 1 9 1 6 1 6 0 6 0 5-1 5-1 6-1 5-1 6 0 11-5 6 0 5-1 6 0 5 0 8 3 3 1 7-1 6-3 4 0 8 0 8 12 3 3 6 2 14 13 8 0 6-2 16-11 10-2 5-1 10 3 9-4 4 0 12 7 10 4 6 1 8 5 8 4 6 0 6 5 2 0 6-1 6 0 9 3 6 4 4 2 5 4 11 7M151 1045l149 0 41-1 6 0 6-1 8 0 17-4 4-2 6-8 6-2 5-4 7 3 7-1 9 5 7 6 2 0 4-2 2 0 7 4 5 2 8 5 6 1 7 4 11 1 6 3 6-1 12 1 6-2 3 0 5-1 5 0 10-2 14-2 6-3 8-8 2-1 5 1 5-2 13-2 8-5 7-2 5-4 8-4 7-1 5-1 6 0 7-2 4-1 5-2 6 2 7-4 8-1 10-6 2 0 1 1 3 5 6 11 11 19 2 3 2 5 9 37 2 17 2 1 6 0 6 5 7 1 5 4 4 2 3-2 6-6 2-1 6 2 10-1 13-10 11-3 7-5 4 0 6 3 7-2 5-11 8-10 3-7 4-5 10-20 5-5 4-8 2-3 11-3 6-5 7-3 6 1 5-2 8 3 5 0 7 6 7 4 5 5 12 8 1 0 6-2 12 0 12 7 5 5 4 0 5 1 7 0 9 3M151 1052l150-3 9-1 6-2 5 2 5 0 8 2 11 0 11-3 5 0 3-1 7-4 14-6 7-5 8-1 9-4 3-1 8 7 4 2 7 1 7 5 4 2 12 8 7 1 7-1 3 2 7 3 10 3 4 0 12-4 8 1 8-3 9 0 7 1 5 0 5 1 10-4 16 0 8-1 7-2 3 0 8 3 6 0 5 2 2 0 5-2 5 0 11-6 7 1 3 0 7-5 11-5 8 2 7-1 5 1 10-4 10-1 5 0 5-1 9 2 9-1 4 1 8 4 8 2 6 3 6 2 5 2 11 7 3 0 4 0 5 2 4 0 10 7 3 1 6 0 6 3 6-1 10 0 5 3 6 0 6 2 2 0 14-5 5-3 3-1 21-2 4 1 5 4 4 2 8-1 8 4 5 1 6 0 4 1 6-1 5 3 2 0 8-4 10 3 3 0 10-7 21 1M151 1056l49 1 59-1 40-3 13 4 8-4 10 0 11 3 9-2 7-3 5-1 5-4 3-2 5 0 6-2 8 1 7-5 11-4 6-4 4 2 15 13 4 2 6 0 8 9 9 4 6 0 5-2 3 0 4 1 8 5 4 2 7 0 6-3 6-1 13 4 2 0 5-2 8 4 9 0M903 1095l-7 7-1 1-5 1-5 2-4 0-6 1-3 0-2-2 0-1 1-3 5-5-3-4 0-2 3-6 3-2 3 0 7 1 2 2 0 5 10 1 2 2 0 2M957 1068l0 2-3 1-7 3-6 1-6 3-4 0-1 0-2-2 0-2 2-3-5-3 0-4 1-2 1-1 11-2 3 1 3 4 7-2 6 1 2 2-2 3M625 1045l-3 4-3 1-3 4-2 1-2-2-2-4-3-1-2-4-1-1 3-4 2-1 3 0 4 3 3-3 3 0 2 1 1 3 1 2-1 1M662 1075l0 1-2 1 0 3 0 1-3 1-10-6-1-1 0-3 2-1 5 1 3-2 2-1 4 3 1 1-1 2M988 1080l-1 1 3 3 0 1-1 1-2 1-9-2-6-2-4-3-1-1 2-2 7 0 0-2 2-1 6 0 2 0 2 2 1 2-1 2M435 1021l2 1 1 1-6 2-5-1-4-1-1-1 1-1 3-1 0-2 1-1 3-1 2 1 2 1 1 1-1 1 1 1" fill="none" stroke="#000" stroke-width="1.1" stroke-linejoin="round"/><path d="M217.5 1086.0L218.2 1086.5L219.0 1087.0L219.8 1087.5L220.5 1088.1L221.3 1088.6L222.0 1089.1L222.8 1089.7L223.6 1090.2L224.3 1090.7L225.1 1091.3L225.9 1091.8L226.6 1092.3L227.4 1092.9L228.2 1093.4L228.9 1093.9L229.7 1094.5L230.5 1095.0L231.2 1095.6L232.0 1096.1L232.7 1096.6L233.5 1097.2L234.3 1097.7L235.0 1098.3L235.8 1098.8L236.6 1099.4L237.3 1099.9L238.1 1100.4L238.9 1101.0L239.6 1101.5L240.4 1102.1L241.1 1102.6L241.9 1103.1L242.7 1103.7L243.4 1104.2L244.2 1104.7L245.0 1105.3L245.7 1105.8L246.5 1106.3L247.3 1106.9L248.0 1107.4L248.8 1107.9L249.5 1108.5L250.3 1109.0L251.1 1109.5L251.8 1110.0L252.6 1110.5L253.4 1111.1L254.1 1111.6L254.9 1112.1L255.7 1112.6L256.4 1113.1L257.2 1113.6L257.9 1114.1L258.7 1114.6L259.5 1115.1L260.2 1115.6L261.0 1116.1L261.8 1116.6L262.5 1117.1L263.3 1117.6L264.1 1118.1L264.8 1118.5L265.6 1119.0L266.3 1119.5L267.1 1120.0L267.9 1120.4L268.6 1120.9L269.4 1121.4L270.2 1121.8L270.9 1122.3L271.7 1122.7L272.5 1123.2L273.2 1123.6L274.0 1124.1L274.8 1124.5L275.5 1125.0L276.3 1125.4L277.0 1125.8L277.8 1126.2L278.6 1126.7L279.3 1127.1L280.1 1127.5L280.9 1127.9L281.6 1128.3L282.4 1128.7L283.2 1129.1L283.9 1129.5L284.7 1129.9L285.4 1130.3L286.2 1130.7L287.0 1131.1L287.7 1131.5L288.5 1131.9L289.3 1132.2L290.0 1132.6L290.8 1133.0L291.6 1133.3L292.3 1133.7L293.1 1134.0" fill="none" stroke="#000" stroke-width="1.2" stroke-dasharray="6 4" transform="translate(0 -3)"/></g><path d="M151.3 1060.5V1156.5H359.2" fill="none" stroke="#262626" stroke-width="1.3"/><path d="M151.3 1156.5V1144.9" stroke="#262626" stroke-width="1.3"/><path d="M340.3 1156.5V1144.9" stroke="#262626" stroke-width="1.3"/><path d="M151.3 1156.5H1002.0" stroke="#111" stroke-width="1.8"/><path d="M150.8 962.5H1002.5" stroke="#1a1a1a" stroke-width="1.6"/><rect x="1056.6" y="47.2" width="50.7" height="221.6" fill="url(#gjet)" stroke="#262626" stroke-width="1.6"/><path d="M1107.3 71.4h-3.5" stroke="#262626" stroke-width="1.3"/><path d="M1107.3 120.7h-3.5" stroke="#262626" stroke-width="1.3"/><path d="M1107.3 170.1h-3.5" stroke="#262626" stroke-width="1.3"/><path d="M1107.3 219.4h-3.5" stroke="#262626" stroke-width="1.3"/><rect x="1056.6" y="356.7" width="50.4" height="223.9" fill="url(#gjet)" stroke="#262626" stroke-width="1.6"/><path d="M1107.0 468.6h-3.5" stroke="#262626" stroke-width="1.3"/><rect x="1053.9" y="666.0" width="50.1" height="184.2" fill="url(#gpar)" stroke="#262626" stroke-width="1.6"/><path d="M1104.0 703.8h-3.5" stroke="#262626" stroke-width="1.3"/><path d="M1104.0 777.0h-3.5" stroke="#262626" stroke-width="1.3"/><rect x="1053.2" y="962.5" width="50.1" height="194.3" fill="url(#gjet)" stroke="#262626" stroke-width="1.6"/><path d="M1103.3 1059.7h-3.5" stroke="#262626" stroke-width="1.3"/><text class="b" fill="#000" font-size="31.03" transform="translate(-0.93 30.11) scale(0.9961 1)">A</text><text class="b" fill="#000" font-size="30.14" transform="translate(-0.07 349.80) scale(0.9789 1)">B</text><text class="b" fill="#000" font-size="30.28" transform="translate(0.09 649.20) scale(1.0009 1)">C</text><text class="b" fill="#000" font-size="30.58" transform="translate(-0.15 952.50) scale(1.0025 1)">D</text><text font-size="31.55" transform="translate(116.97 308.78) scale(1.1323 1)">500</text><text font-size="31.55" transform="translate(307.77 308.78) scale(1.1323 1)">600</text><text font-size="31.55" transform="translate(498.75 308.78) scale(1.1323 1)">700</text><text font-size="31.55" transform="translate(689.90 308.78) scale(1.1323 1)">800</text><text font-size="31.55" transform="translate(880.70 308.78) scale(1.1323 1)">900</text><text font-size="31.55" transform="translate(112.92 278.78) scale(1.1323 1)">0</text><text font-size="31.55" transform="translate(93.28 167.48) scale(1.1323 1)">50</text><text font-size="31.55" transform="translate(73.27 56.18) scale(1.1323 1)">100</text><text font-size="31.55" transform="translate(117.07 620.18) scale(1.1323 1)">500</text><text font-size="31.55" transform="translate(307.89 620.18) scale(1.1323 1)">600</text><text font-size="31.55" transform="translate(498.89 620.18) scale(1.1323 1)">700</text><text font-size="31.55" transform="translate(690.07 620.18) scale(1.1323 1)">800</text><text font-size="31.55" transform="translate(880.89 620.18) scale(1.1323 1)">900</text><text font-size="31.55" transform="translate(113.02 590.18) scale(1.1323 1)">0</text><text font-size="31.55" transform="translate(93.38 478.68) scale(1.1323 1)">50</text><text font-size="31.55" transform="translate(73.37 367.18) scale(1.1323 1)">100</text><text font-size="39.86" transform="translate(119.40 899.90) scale(0.8805 1)">500</text><text font-size="39.86" transform="translate(309.82 899.90) scale(0.8805 1)">600</text><text font-size="39.86" transform="translate(500.42 899.90) scale(0.8805 1)">700</text><text font-size="39.86" transform="translate(691.20 899.90) scale(0.8805 1)">800</text><text font-size="39.86" transform="translate(881.62 899.90) scale(0.8805 1)">900</text><text font-size="39.86" transform="translate(115.55 863.05) scale(0.8805 1)">0</text><text font-size="39.86" transform="translate(96.25 771.30) scale(0.8805 1)">50</text><text font-size="39.86" transform="translate(76.60 679.55) scale(0.8805 1)">100</text><text font-size="36.20" transform="translate(122.55 1202.44) scale(0.9643 1)">500</text><text font-size="36.20" transform="translate(311.42 1202.44) scale(0.9643 1)">600</text><text font-size="36.20" transform="translate(500.47 1202.44) scale(0.9643 1)">700</text><text font-size="36.20" transform="translate(689.69 1202.44) scale(0.9643 1)">800</text><text font-size="36.20" transform="translate(878.56 1202.44) scale(0.9643 1)">900</text><text font-size="36.20" transform="translate(118.65 1169.29) scale(0.9643 1)">0</text><text font-size="36.20" transform="translate(99.45 1072.29) scale(0.9643 1)">50</text><text font-size="36.20" transform="translate(79.90 975.29) scale(0.9643 1)">100</text><text class="b" fill="#262626" font-size="34.93" transform="translate(57.10 196.28) rotate(-90) scale(1.0343 1)">Z(m)</text><text class="b" fill="#262626" font-size="34.93" transform="translate(57.10 507.58) rotate(-90) scale(1.0343 1)">Z(m)</text><text class="b" fill="#262626" font-size="33.62" transform="translate(54.90 777.98) rotate(-90) scale(1.0744 1)">Z(m)</text><text class="b" fill="#262626" font-size="33.62" transform="translate(54.90 1089.08) rotate(-90) scale(1.0730 1)">Z(m)</text><text font-size="29.30" transform="translate(1120.13 81.59) scale(1.0830 1)">0.3</text><text font-size="29.30" transform="translate(1120.13 130.94) scale(1.0830 1)">0.2</text><text font-size="29.30" transform="translate(1120.13 180.30) scale(1.0830 1)">0.1</text><text font-size="29.30" transform="translate(1120.13 229.65) scale(1.0830 1)">0</text><text font-size="29.30" transform="translate(1120.13 279.01) scale(1.0830 1)">-0.1</text><text font-size="30.14" transform="translate(1118.56 367.20) scale(1.0525 1)">1</text><text font-size="29.30" transform="translate(1119.83 478.86) scale(1.0830 1)">0.5</text><text font-size="29.30" transform="translate(1119.83 590.81) scale(1.0830 1)">0</text><text font-size="35.49" transform="translate(1117.36 716.18) scale(0.8730 1)">0.2</text><text font-size="35.49" transform="translate(1117.36 789.36) scale(0.8730 1)">0.1</text><text font-size="35.49" transform="translate(1117.36 862.55) scale(0.8730 1)">0</text><text font-size="32.25" transform="translate(1115.73 973.73) scale(0.9860 1)">0.05</text><text font-size="32.25" transform="translate(1115.73 1070.88) scale(0.9860 1)">0</text><text font-size="32.25" transform="translate(1115.73 1168.03) scale(0.9860 1)">-0.05</text><text font-size="32" transform="translate(1032.3 24.6) scale(1.025 1)">u(<tspan font-style="italic">m/s</tspan>)</text><g fill="#262626"><text font-size="31" x="1018.5" y="320">(</text><text font-size="31" font-family="Liberation Serif" font-style="italic" x="1030" y="319">ρ</text><path d="M1061 310.5H1081" stroke="#262626" stroke-width="2.2"/><text font-size="31" font-family="Liberation Serif" font-style="italic" x="1090.5" y="319">ρ</text><text font-size="19.5" font-family="Liberation Serif" x="1110.8" y="328">0</text><text font-size="23" font-family="Liberation Serif" x="1123.8" y="329">)</text><path d="M1139.2 326.2L1152.2 295.8" stroke="#262626" stroke-width="2.3"/><text font-size="24" transform="translate(1156 319.5) scale(1.12 1)">Δ</text><text font-size="31" font-family="Liberation Serif" font-style="italic" x="1175" y="319">ρ</text></g><text fill="#000" font-size="29.26" transform="translate(1053.79 639.26) scale(0.9878 1)">Rig</text><g fill="#000"><text font-size="31" x="1038.5" y="937.5">ω</text><text font-size="21" x="1061" y="944.5">y</text><text font-size="30" x="1072" y="937.5">(S</text><text font-size="20" x="1099" y="927">-1</text><text font-size="30" x="1116.5" y="937.5">)</text></g><text class="b" fill="#000" font-size="30.3" x="581.7" y="1264.6">X(m)</text><circle cx="76.3" cy="618.0" r="1.2" fill="#222"/><circle cx="76.3" cy="636.4" r="1.2" fill="#222"/><circle cx="76.0" cy="929.0" r="1.2" fill="#222"/><circle cx="76.0" cy="947.5" r="1.2" fill="#222"/></svg></body></html>
